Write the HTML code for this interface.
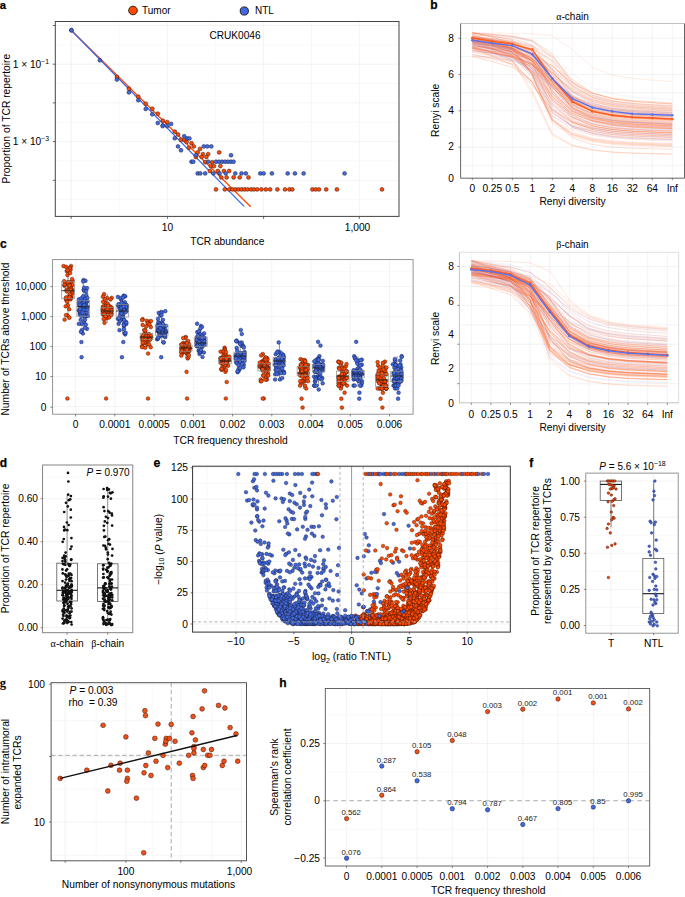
<!DOCTYPE html><html><head><meta charset="utf-8"><style>html,body{margin:0;padding:0;background:#fff;width:685px;height:897px;overflow:hidden}svg{display:block}text{font-family:"Liberation Sans",sans-serif}.c0{fill:#FF4A00;stroke:#111;stroke-width:0.9}.c1{fill:#4169E1;stroke:#111;stroke-width:0.9}.c2{fill:#FF4A00;stroke:#311;stroke-width:0.5}.c3{fill:#4169E1;stroke:#223;stroke-width:0.5}.c4{fill:#FF5A1E;stroke:none;stroke-width:0}.c5{fill:#5B73E8;stroke:none;stroke-width:0}.c6{fill:#FF4A00;stroke:#3a1000;stroke-width:0.45}.c7{fill:#4169E1;stroke:#101840;stroke-width:0.45}.c8{fill:#111;stroke:none;stroke-width:0}.c9{fill:#4169E1;stroke:#1a1a2a;stroke-width:0.4}.c10{fill:#FF4A00;stroke:#3a1000;stroke-width:0.4}.c11{fill:#FF4A00;stroke:#3a1000;stroke-width:0.45}.c12{fill:#E8450F;stroke:#3a1000;stroke-width:0.4}.c13{fill:#4A6BE0;stroke:#0a1450;stroke-width:0.4}.c14{fill:#F0501A;stroke:#3a1000;stroke-width:0.5}.c15{fill:#F0501A;stroke:#3a1000;stroke-width:0.5}.c16{fill:#4169E1;stroke:#101840;stroke-width:0.5}</style></head><body><svg width="685" height="897" viewBox="0 0 685 897"><text x="-0.3" y="9.1" font-size="11.3" text-anchor="start" font-weight="bold" fill="#000" font-family="Liberation Sans" stroke="#000" stroke-width="0.25">a</text>
<circle class="c0" cx="133" cy="10.5" r="4.3"/>
<text x="142" y="14.4" font-size="10" text-anchor="start" font-weight="normal" fill="#000" font-family="Liberation Sans" >Tumor</text>
<circle class="c1" cx="244.3" cy="11" r="4.1"/>
<text x="255" y="14.4" font-size="10" text-anchor="start" font-weight="normal" fill="#000" font-family="Liberation Sans" >NTL</text>
<line x1="71.2" y1="21.5" x2="71.2" y2="216.4" stroke="#ebebeb" stroke-width="0.6" />
<line x1="119.3" y1="21.5" x2="119.3" y2="216.4" stroke="#f4f4f4" stroke-width="0.6" />
<line x1="167.4" y1="21.5" x2="167.4" y2="216.4" stroke="#ebebeb" stroke-width="0.6" />
<line x1="215.6" y1="21.5" x2="215.6" y2="216.4" stroke="#f4f4f4" stroke-width="0.6" />
<line x1="263.6" y1="21.5" x2="263.6" y2="216.4" stroke="#ebebeb" stroke-width="0.6" />
<line x1="311.5" y1="21.5" x2="311.5" y2="216.4" stroke="#f4f4f4" stroke-width="0.6" />
<line x1="359.3" y1="21.5" x2="359.3" y2="216.4" stroke="#ebebeb" stroke-width="0.6" />
<line x1="55.3" y1="25.5" x2="399" y2="25.5" stroke="#ebebeb" stroke-width="0.6" />
<line x1="55.3" y1="44.9" x2="399" y2="44.9" stroke="#f4f4f4" stroke-width="0.6" />
<line x1="55.3" y1="64.2" x2="399" y2="64.2" stroke="#ebebeb" stroke-width="0.6" />
<line x1="55.3" y1="83.5" x2="399" y2="83.5" stroke="#f4f4f4" stroke-width="0.6" />
<line x1="55.3" y1="102.9" x2="399" y2="102.9" stroke="#ebebeb" stroke-width="0.6" />
<line x1="55.3" y1="122.2" x2="399" y2="122.2" stroke="#f4f4f4" stroke-width="0.6" />
<line x1="55.3" y1="141.6" x2="399" y2="141.6" stroke="#ebebeb" stroke-width="0.6" />
<line x1="55.3" y1="161" x2="399" y2="161" stroke="#f4f4f4" stroke-width="0.6" />
<line x1="55.3" y1="180.3" x2="399" y2="180.3" stroke="#ebebeb" stroke-width="0.6" />
<line x1="55.3" y1="199.6" x2="399" y2="199.6" stroke="#f4f4f4" stroke-width="0.6" />
<line x1="71.2" y1="30.3" x2="250.7" y2="206.7" stroke="#FF4A00" stroke-width="1.3" />
<line x1="71.2" y1="30.3" x2="244.1" y2="206.4" stroke="#4169E1" stroke-width="1.3" />
<circle class="c2" cx="71.4" cy="30.2" r="1.95"/>
<circle class="c2" cx="116.9" cy="76.9" r="1.95"/>
<circle class="c2" cx="128.9" cy="88.7" r="1.95"/>
<circle class="c2" cx="138.3" cy="96.7" r="1.95"/>
<circle class="c2" cx="145.7" cy="103.7" r="1.95"/>
<circle class="c2" cx="152.3" cy="108.8" r="1.95"/>
<circle class="c2" cx="157.8" cy="113.7" r="1.95"/>
<circle class="c2" cx="162.8" cy="120.7" r="1.95"/>
<circle class="c2" cx="167.2" cy="122.1" r="1.95"/>
<circle class="c2" cx="174.8" cy="131.6" r="1.95"/>
<circle class="c2" cx="178" cy="134.5" r="1.95"/>
<circle class="c2" cx="181" cy="139.8" r="1.95"/>
<circle class="c2" cx="184.5" cy="140.1" r="1.95"/>
<circle class="c2" cx="186.6" cy="142" r="1.95"/>
<circle class="c2" cx="191.5" cy="143.3" r="1.95"/>
<circle class="c2" cx="188.9" cy="147.7" r="1.95"/>
<circle class="c2" cx="193.8" cy="146.4" r="1.95"/>
<circle class="c2" cx="200" cy="148.9" r="1.95"/>
<circle class="c2" cx="197.7" cy="152.4" r="1.95"/>
<circle class="c2" cx="195.9" cy="157" r="1.95"/>
<circle class="c2" cx="202.9" cy="154.1" r="1.95"/>
<circle class="c2" cx="208.2" cy="154.1" r="1.95"/>
<circle class="c2" cx="201.7" cy="157" r="1.95"/>
<circle class="c2" cx="206.4" cy="157" r="1.95"/>
<circle class="c2" cx="219.2" cy="152.4" r="1.95"/>
<circle class="c2" cx="205.2" cy="162.2" r="1.95"/>
<circle class="c2" cx="212.2" cy="162.2" r="1.95"/>
<circle class="c2" cx="210.8" cy="166.1" r="1.95"/>
<circle class="c2" cx="214" cy="166.1" r="1.95"/>
<circle class="c2" cx="220.4" cy="166.1" r="1.95"/>
<circle class="c2" cx="209.9" cy="171" r="1.95"/>
<circle class="c2" cx="217.8" cy="171" r="1.95"/>
<circle class="c2" cx="223.9" cy="171" r="1.95"/>
<circle class="c2" cx="229.2" cy="171" r="1.95"/>
<circle class="c2" cx="221.3" cy="177.4" r="1.95"/>
<circle class="c2" cx="226.6" cy="177.4" r="1.95"/>
<circle class="c2" cx="233.6" cy="177.4" r="1.95"/>
<circle class="c2" cx="239.7" cy="177.4" r="1.95"/>
<circle class="c2" cx="248.5" cy="177.4" r="1.95"/>
<circle class="c2" cx="216" cy="189.4" r="1.95"/>
<circle class="c2" cx="224.8" cy="189.4" r="1.95"/>
<circle class="c2" cx="229.2" cy="189.4" r="1.95"/>
<circle class="c2" cx="232.5" cy="189.4" r="1.95"/>
<circle class="c2" cx="235.5" cy="189.4" r="1.95"/>
<circle class="c2" cx="238.5" cy="189.4" r="1.95"/>
<circle class="c2" cx="241.5" cy="189.4" r="1.95"/>
<circle class="c2" cx="244.5" cy="189.4" r="1.95"/>
<circle class="c2" cx="247.5" cy="189.4" r="1.95"/>
<circle class="c2" cx="251.1" cy="189.4" r="1.95"/>
<circle class="c2" cx="253.9" cy="189.4" r="1.95"/>
<circle class="c2" cx="257.2" cy="189.4" r="1.95"/>
<circle class="c2" cx="261.4" cy="189.4" r="1.95"/>
<circle class="c2" cx="265.8" cy="189.4" r="1.95"/>
<circle class="c2" cx="270.1" cy="189.4" r="1.95"/>
<circle class="c2" cx="277.4" cy="189.4" r="1.95"/>
<circle class="c2" cx="285" cy="189.4" r="1.95"/>
<circle class="c2" cx="289.4" cy="189.4" r="1.95"/>
<circle class="c2" cx="292.3" cy="189.4" r="1.95"/>
<circle class="c2" cx="312.4" cy="189.4" r="1.95"/>
<circle class="c2" cx="315.7" cy="189.4" r="1.95"/>
<circle class="c2" cx="319" cy="189.4" r="1.95"/>
<circle class="c2" cx="326.2" cy="189.4" r="1.95"/>
<circle class="c2" cx="336.9" cy="189.4" r="1.95"/>
<circle class="c2" cx="382" cy="189.4" r="1.95"/>
<circle class="c3" cx="71.4" cy="30.2" r="1.95"/>
<circle class="c3" cx="99.9" cy="60.3" r="1.95"/>
<circle class="c3" cx="116.9" cy="79.6" r="1.95"/>
<circle class="c3" cx="128.9" cy="92.4" r="1.95"/>
<circle class="c3" cx="138.3" cy="100.2" r="1.95"/>
<circle class="c3" cx="145.7" cy="109" r="1.95"/>
<circle class="c3" cx="152.3" cy="114.3" r="1.95"/>
<circle class="c3" cx="157.8" cy="123" r="1.95"/>
<circle class="c3" cx="162.8" cy="125.6" r="1.95"/>
<circle class="c3" cx="167.2" cy="126" r="1.95"/>
<circle class="c3" cx="171.1" cy="123.9" r="1.95"/>
<circle class="c3" cx="174.8" cy="138.3" r="1.95"/>
<circle class="c3" cx="162.6" cy="126.1" r="1.95"/>
<circle class="c3" cx="184.2" cy="136.3" r="1.95"/>
<circle class="c3" cx="187.2" cy="138.4" r="1.95"/>
<circle class="c3" cx="189.4" cy="138.4" r="1.95"/>
<circle class="c3" cx="178" cy="146.4" r="1.95"/>
<circle class="c3" cx="181" cy="150.3" r="1.95"/>
<circle class="c3" cx="203.8" cy="146.4" r="1.95"/>
<circle class="c3" cx="207.3" cy="146.4" r="1.95"/>
<circle class="c3" cx="211.3" cy="146.4" r="1.95"/>
<circle class="c3" cx="195.9" cy="155.2" r="1.95"/>
<circle class="c3" cx="231" cy="155.2" r="1.95"/>
<circle class="c3" cx="191.5" cy="161.7" r="1.95"/>
<circle class="c3" cx="193.3" cy="161.7" r="1.95"/>
<circle class="c3" cx="208.2" cy="161.7" r="1.95"/>
<circle class="c3" cx="216" cy="161.7" r="1.95"/>
<circle class="c3" cx="219" cy="161.7" r="1.95"/>
<circle class="c3" cx="222" cy="161.7" r="1.95"/>
<circle class="c3" cx="225" cy="161.7" r="1.95"/>
<circle class="c3" cx="228" cy="161.7" r="1.95"/>
<circle class="c3" cx="231" cy="161.7" r="1.95"/>
<circle class="c3" cx="233.6" cy="161.7" r="1.95"/>
<circle class="c3" cx="197.7" cy="173.4" r="1.95"/>
<circle class="c3" cx="200.3" cy="173.4" r="1.95"/>
<circle class="c3" cx="205.2" cy="173.4" r="1.95"/>
<circle class="c3" cx="213.4" cy="173.4" r="1.95"/>
<circle class="c3" cx="219.6" cy="173.4" r="1.95"/>
<circle class="c3" cx="225.7" cy="173.4" r="1.95"/>
<circle class="c3" cx="235.3" cy="173.4" r="1.95"/>
<circle class="c3" cx="241.5" cy="173.4" r="1.95"/>
<circle class="c3" cx="245.8" cy="173.4" r="1.95"/>
<circle class="c3" cx="260.3" cy="173.4" r="1.95"/>
<circle class="c3" cx="263.6" cy="173.4" r="1.95"/>
<circle class="c3" cx="271.9" cy="173.4" r="1.95"/>
<circle class="c3" cx="287.7" cy="173.4" r="1.95"/>
<circle class="c3" cx="294.9" cy="173.4" r="1.95"/>
<circle class="c3" cx="303.6" cy="173.4" r="1.95"/>
<circle class="c3" cx="344.6" cy="173.4" r="1.95"/>
<rect x="55.3" y="21.5" width="343.7" height="194.9" fill="none" stroke="#444" stroke-width="1"/>
<line x1="52.8" y1="25.5" x2="55.3" y2="25.5" stroke="#444" stroke-width="0.8" />
<line x1="52.8" y1="64.2" x2="55.3" y2="64.2" stroke="#444" stroke-width="0.8" />
<line x1="52.8" y1="102.9" x2="55.3" y2="102.9" stroke="#444" stroke-width="0.8" />
<line x1="52.8" y1="141.6" x2="55.3" y2="141.6" stroke="#444" stroke-width="0.8" />
<line x1="52.8" y1="180.3" x2="55.3" y2="180.3" stroke="#444" stroke-width="0.8" />
<line x1="71.2" y1="216.4" x2="71.2" y2="218.9" stroke="#444" stroke-width="0.8" />
<line x1="167.4" y1="216.4" x2="167.4" y2="218.9" stroke="#444" stroke-width="0.8" />
<line x1="263.6" y1="216.4" x2="263.6" y2="218.9" stroke="#444" stroke-width="0.8" />
<line x1="359.3" y1="216.4" x2="359.3" y2="218.9" stroke="#444" stroke-width="0.8" />
<text x="49" y="67.6" font-size="10.2" text-anchor="end" font-weight="normal" fill="#000" font-family="Liberation Sans" >1 × 10<tspan dy="-4" font-size="6.8">−1</tspan></text>
<text x="49" y="145" font-size="10.2" text-anchor="end" font-weight="normal" fill="#000" font-family="Liberation Sans" >1 × 10<tspan dy="-4" font-size="6.8">−3</tspan></text>
<text x="167.4" y="231.3" font-size="10.2" text-anchor="middle" font-weight="normal" fill="#000" font-family="Liberation Sans" >10</text>
<text x="357.5" y="231.3" font-size="10.2" text-anchor="middle" font-weight="normal" fill="#000" font-family="Liberation Sans" >1,000</text>
<text x="227.3" y="244.7" font-size="10.2" text-anchor="middle" font-weight="normal" fill="#000" font-family="Liberation Sans" >TCR abundance</text>
<text x="0" y="0" font-size="10.3" text-anchor="middle" fill="#000" transform="translate(6,118.6) rotate(-90)" dominant-baseline="central">Proportion of TCR repertoire</text>
<text x="209.5" y="39.2" font-size="10.1" text-anchor="start" font-weight="normal" fill="#000" font-family="Liberation Sans" >CRUK0046</text>
<text x="430.3" y="9.2" font-size="12" text-anchor="start" font-weight="bold" fill="#000" font-family="Liberation Sans" stroke="#000" stroke-width="0.25">b</text>
<line x1="472.3" y1="23.5" x2="472.3" y2="178.2" stroke="#ebebeb" stroke-width="0.6" />
<line x1="492.3" y1="23.5" x2="492.3" y2="178.2" stroke="#ebebeb" stroke-width="0.6" />
<line x1="512.3" y1="23.5" x2="512.3" y2="178.2" stroke="#ebebeb" stroke-width="0.6" />
<line x1="532.3" y1="23.5" x2="532.3" y2="178.2" stroke="#ebebeb" stroke-width="0.6" />
<line x1="552.3" y1="23.5" x2="552.3" y2="178.2" stroke="#ebebeb" stroke-width="0.6" />
<line x1="572.3" y1="23.5" x2="572.3" y2="178.2" stroke="#ebebeb" stroke-width="0.6" />
<line x1="592.3" y1="23.5" x2="592.3" y2="178.2" stroke="#ebebeb" stroke-width="0.6" />
<line x1="612.3" y1="23.5" x2="612.3" y2="178.2" stroke="#ebebeb" stroke-width="0.6" />
<line x1="632.3" y1="23.5" x2="632.3" y2="178.2" stroke="#ebebeb" stroke-width="0.6" />
<line x1="652.3" y1="23.5" x2="652.3" y2="178.2" stroke="#ebebeb" stroke-width="0.6" />
<line x1="672.3" y1="23.5" x2="672.3" y2="178.2" stroke="#ebebeb" stroke-width="0.6" />
<line x1="460.6" y1="38.2" x2="684.5" y2="38.2" stroke="#ebebeb" stroke-width="0.6" />
<line x1="460.6" y1="56.4" x2="684.5" y2="56.4" stroke="#ebebeb" stroke-width="0.6" />
<line x1="460.6" y1="74.5" x2="684.5" y2="74.5" stroke="#ebebeb" stroke-width="0.6" />
<line x1="460.6" y1="92.7" x2="684.5" y2="92.7" stroke="#ebebeb" stroke-width="0.6" />
<line x1="460.6" y1="110.8" x2="684.5" y2="110.8" stroke="#ebebeb" stroke-width="0.6" />
<line x1="460.6" y1="129" x2="684.5" y2="129" stroke="#ebebeb" stroke-width="0.6" />
<line x1="460.6" y1="147.2" x2="684.5" y2="147.2" stroke="#ebebeb" stroke-width="0.6" />
<line x1="460.6" y1="165.3" x2="684.5" y2="165.3" stroke="#ebebeb" stroke-width="0.6" />
<polyline points="472.3,32.8 492.3,33.1 512.3,33.3 532.3,33.9 552.3,35.7 572.3,49.7 592.3,67.3 612.3,75 632.3,78.5 652.3,80.1 672.3,81.8" fill="none" stroke="#FF4A00" stroke-opacity="0.13" stroke-width="0.85"/>
<polyline points="472.3,39.4 492.3,43 512.3,47.7 532.3,63.3 552.3,100.9 572.3,118.8 592.3,125.7 612.3,129.2 632.3,130.9 652.3,131.7 672.3,132.5" fill="none" stroke="#FF4A00" stroke-opacity="0.12" stroke-width="0.85"/>
<polyline points="472.3,38.4 492.3,42.4 512.3,48.6 532.3,74.2 552.3,120.7 572.3,134.9 592.3,140.6 612.3,143.3 632.3,144.6 652.3,145.2 672.3,145.8" fill="none" stroke="#FF4A00" stroke-opacity="0.22" stroke-width="0.85"/>
<polyline points="472.3,40.1 492.3,44.2 512.3,48.6 532.3,58.4 552.3,80 572.3,100.3 592.3,109.8 612.3,114.4 632.3,116.6 652.3,117.6 672.3,118.6" fill="none" stroke="#FF4A00" stroke-opacity="0.19" stroke-width="0.85"/>
<polyline points="472.3,40.1 492.3,41.6 512.3,43.1 532.3,47.2 552.3,63.7 572.3,90.3 592.3,101.8 612.3,107 632.3,109.5 652.3,110.6 672.3,111.8" fill="none" stroke="#FF4A00" stroke-opacity="0.15" stroke-width="0.85"/>
<polyline points="472.3,32.8 492.3,37.3 512.3,42.2 532.3,53.3 552.3,77.9 572.3,101 592.3,111.6 612.3,116.3 632.3,118.4 652.3,119.4 672.3,120.4" fill="none" stroke="#FF4A00" stroke-opacity="0.18" stroke-width="0.85"/>
<polyline points="472.3,34.6 492.3,36.5 512.3,38.8 532.3,45.1 552.3,71.1 572.3,97.7 592.3,107.9 612.3,112.7 632.3,114.9 652.3,116 672.3,117.1" fill="none" stroke="#FF4A00" stroke-opacity="0.23" stroke-width="0.85"/>
<polyline points="472.3,41.4 492.3,48.4 512.3,56.4 532.3,77.6 552.3,118.4 572.3,138 592.3,144.5 612.3,147.1 632.3,148.2 652.3,148.8 672.3,149.3" fill="none" stroke="#FF4A00" stroke-opacity="0.20" stroke-width="0.85"/>
<polyline points="472.3,47.6 492.3,51.9 512.3,56.3 532.3,65.2 552.3,81.4 572.3,96.7 592.3,104.6 612.3,108.5 632.3,110.5 652.3,111.5 672.3,112.5" fill="none" stroke="#FF4A00" stroke-opacity="0.15" stroke-width="0.85"/>
<polyline points="472.3,32.8 492.3,36 512.3,40.1 532.3,53.9 552.3,92.7 572.3,110.9 592.3,117.4 612.3,120.6 632.3,122.4 652.3,123.4 672.3,124.3" fill="none" stroke="#FF4A00" stroke-opacity="0.17" stroke-width="0.85"/>
<polyline points="472.3,49.7 492.3,53.1 512.3,56.7 532.3,64.5 552.3,81.1 572.3,99.6 592.3,109.4 612.3,114.1 632.3,116.3 652.3,117.4 672.3,118.4" fill="none" stroke="#FF4A00" stroke-opacity="0.16" stroke-width="0.85"/>
<polyline points="472.3,54.5 492.3,58.5 512.3,64.1 532.3,82.2 552.3,113.1 572.3,125.8 592.3,131.2 612.3,134.1 632.3,135.6 652.3,136.3 672.3,137.1" fill="none" stroke="#FF4A00" stroke-opacity="0.24" stroke-width="0.85"/>
<polyline points="472.3,47.2 492.3,52.3 512.3,60.7 532.3,94.4 552.3,135.1 572.3,145.8 592.3,150.2 612.3,152.3 632.3,153.3 652.3,153.8 672.3,154.3" fill="none" stroke="#FF4A00" stroke-opacity="0.16" stroke-width="0.85"/>
<polyline points="472.3,38.1 492.3,39.8 512.3,41.7 532.3,47.2 552.3,70.4 572.3,96.7 592.3,107 612.3,111.8 632.3,114.1 652.3,115.2 672.3,116.2" fill="none" stroke="#FF4A00" stroke-opacity="0.17" stroke-width="0.85"/>
<polyline points="472.3,35.4 492.3,41.2 512.3,47.3 532.3,61.5 552.3,91.1 572.3,112.5 592.3,121 612.3,125 632.3,126.8 652.3,127.7 672.3,128.6" fill="none" stroke="#FF4A00" stroke-opacity="0.15" stroke-width="0.85"/>
<polyline points="472.3,40.5 492.3,42.3 512.3,44.2 532.3,48.6 552.3,60.5 572.3,81.5 592.3,93.2 612.3,98.6 632.3,101.3 652.3,102.6 672.3,103.8" fill="none" stroke="#FF4A00" stroke-opacity="0.23" stroke-width="0.85"/>
<polyline points="472.3,36 492.3,38.3 512.3,41.2 532.3,51.5 552.3,91.8 572.3,115.2 592.3,123.4 612.3,127.2 632.3,129 652.3,129.9 672.3,130.7" fill="none" stroke="#FF4A00" stroke-opacity="0.14" stroke-width="0.85"/>
<polyline points="472.3,41.8 492.3,48.5 512.3,55.8 532.3,72.8 552.3,101.3 572.3,117.7 592.3,124.7 612.3,128.2 632.3,129.9 652.3,130.8 672.3,131.6" fill="none" stroke="#FF4A00" stroke-opacity="0.13" stroke-width="0.85"/>
<polyline points="472.3,41.8 492.3,45.8 512.3,50.2 532.3,60.9 552.3,87.3 572.3,107.9 592.3,116.3 612.3,120.3 632.3,122.3 652.3,123.3 672.3,124.3" fill="none" stroke="#FF4A00" stroke-opacity="0.23" stroke-width="0.85"/>
<polyline points="472.3,41.2 492.3,44.7 512.3,48.6 532.3,58.2 552.3,82 572.3,101.5 592.3,109.7 612.3,113.6 632.3,115.7 652.3,116.8 672.3,117.8" fill="none" stroke="#FF4A00" stroke-opacity="0.15" stroke-width="0.85"/>
<polyline points="472.3,55.8 492.3,58 512.3,60.3 532.3,66.1 552.3,84.6 572.3,107.9 592.3,117.9 612.3,122.2 632.3,124.2 652.3,125.1 672.3,126" fill="none" stroke="#FF4A00" stroke-opacity="0.20" stroke-width="0.85"/>
<polyline points="472.3,44.1 492.3,46.2 512.3,49 532.3,59 552.3,98.1 572.3,120.2 592.3,127.7 612.3,131.2 632.3,132.9 652.3,133.7 672.3,134.5" fill="none" stroke="#FF4A00" stroke-opacity="0.16" stroke-width="0.85"/>
<polyline points="472.3,42 492.3,43.7 512.3,45.5 532.3,50.3 552.3,69.2 572.3,96.3 592.3,107.7 612.3,112.6 632.3,114.9 652.3,116 672.3,117" fill="none" stroke="#FF4A00" stroke-opacity="0.15" stroke-width="0.85"/>
<polyline points="472.3,39.3 492.3,44 512.3,48.9 532.3,58.9 552.3,79.1 572.3,100.3 592.3,110.9 612.3,115.7 632.3,117.8 652.3,118.9 672.3,119.9" fill="none" stroke="#FF4A00" stroke-opacity="0.23" stroke-width="0.85"/>
<polyline points="472.3,46.4 492.3,51.4 512.3,56 532.3,64.4 552.3,76.6 572.3,88.6 592.3,96.7 612.3,101.2 632.3,103.4 652.3,104.4 672.3,105.5" fill="none" stroke="#FF4A00" stroke-opacity="0.11" stroke-width="0.85"/>
<polyline points="472.3,42.4 492.3,45.1 512.3,47.9 532.3,54.4 552.3,74.2 572.3,100.1 592.3,111 612.3,115.6 632.3,117.8 652.3,118.9 672.3,119.9" fill="none" stroke="#FF4A00" stroke-opacity="0.12" stroke-width="0.85"/>
<polyline points="472.3,52.5 492.3,56.4 512.3,62 532.3,82.4 552.3,119 572.3,132.5 592.3,138.1 612.3,140.8 632.3,142.2 652.3,142.9 672.3,143.5" fill="none" stroke="#FF4A00" stroke-opacity="0.17" stroke-width="0.85"/>
<polyline points="472.3,47.8 492.3,50.5 512.3,53.5 532.3,61.1 552.3,83.5 572.3,105.9 592.3,115.2 612.3,119.6 632.3,121.6 652.3,122.6 672.3,123.5" fill="none" stroke="#FF4A00" stroke-opacity="0.14" stroke-width="0.85"/>
<polyline points="472.3,43.5 492.3,49.7 512.3,56.3 532.3,71.3 552.3,99 572.3,117.6 592.3,125.9 612.3,129.6 632.3,131.4 652.3,132.2 672.3,133" fill="none" stroke="#FF4A00" stroke-opacity="0.16" stroke-width="0.85"/>
<polyline points="472.3,36.8 492.3,41.4 512.3,45.9 532.3,54.8 552.3,69.7 572.3,85.9 592.3,96.6 612.3,102.1 632.3,104.7 652.3,106 672.3,107.2" fill="none" stroke="#FF4A00" stroke-opacity="0.17" stroke-width="0.85"/>
<polyline points="472.3,37.7 492.3,40.2 512.3,43 532.3,51.2 552.3,82.5 572.3,108.7 592.3,118.4 612.3,122.7 632.3,124.6 652.3,125.6 672.3,126.5" fill="none" stroke="#FF4A00" stroke-opacity="0.21" stroke-width="0.85"/>
<polyline points="472.3,40.3 492.3,46.3 512.3,52.5 532.3,64.7 552.3,84.1 572.3,98.7 592.3,106 612.3,109.9 632.3,112.1 652.3,113.2 672.3,114.3" fill="none" stroke="#FF4A00" stroke-opacity="0.17" stroke-width="0.85"/>
<polyline points="472.3,36 492.3,38.8 512.3,43.3 532.3,63.3 552.3,110.9 572.3,127.2 592.3,133.5 612.3,136.5 632.3,138 652.3,138.8 672.3,139.5" fill="none" stroke="#FF4A00" stroke-opacity="0.15" stroke-width="0.85"/>
<polyline points="472.3,40.2 492.3,43.3 512.3,46.3 532.3,52.5 552.3,65.7 572.3,85.3 592.3,97.4 612.3,103 632.3,105.6 652.3,106.8 672.3,108" fill="none" stroke="#FF4A00" stroke-opacity="0.22" stroke-width="0.85"/>
<polyline points="472.3,44.9 492.3,49.3 512.3,55 532.3,71.1 552.3,100.2 572.3,114.4 592.3,120.5 612.3,123.7 632.3,125.4 652.3,126.3 672.3,127.2" fill="none" stroke="#FF4A00" stroke-opacity="0.20" stroke-width="0.85"/>
<polyline points="472.3,45.7 492.3,47.7 512.3,50.2 532.3,57.6 552.3,84.2 572.3,107.1 592.3,116.1 612.3,120.3 632.3,122.3 652.3,123.3 672.3,124.2" fill="none" stroke="#FF4A00" stroke-opacity="0.13" stroke-width="0.85"/>
<polyline points="472.3,41 492.3,46.8 512.3,53.3 532.3,68.8 552.3,96.3 572.3,113.6 592.3,121.6 612.3,125.5 632.3,127.3 652.3,128.2 672.3,129.1" fill="none" stroke="#FF4A00" stroke-opacity="0.19" stroke-width="0.85"/>
<polyline points="472.3,47 492.3,52.1 512.3,57.9 532.3,72.7 552.3,104.4 572.3,123.5 592.3,131.1 612.3,134.5 632.3,136.1 652.3,136.9 672.3,137.6" fill="none" stroke="#FF4A00" stroke-opacity="0.14" stroke-width="0.85"/>
<polyline points="472.3,43.5 492.3,45.8 512.3,49.2 532.3,63.4 552.3,106.8 572.3,125.9 592.3,133 612.3,136.2 632.3,137.7 652.3,138.5 672.3,139.2" fill="none" stroke="#FF4A00" stroke-opacity="0.18" stroke-width="0.85"/>
<polyline points="472.3,48.4 492.3,56 512.3,65 532.3,85.4 552.3,109.8 572.3,121.4 592.3,126.8 612.3,129.7 632.3,131.3 652.3,132.1 672.3,132.9" fill="none" stroke="#FF4A00" stroke-opacity="0.23" stroke-width="0.85"/>
<polyline points="472.3,42 492.3,46 512.3,50.3 532.3,60.6 552.3,86.1 572.3,109 592.3,118.1 612.3,122.2 632.3,124.2 652.3,125.1 672.3,126" fill="none" stroke="#FF4A00" stroke-opacity="0.18" stroke-width="0.85"/>
<polyline points="472.3,34.4 492.3,40.5 512.3,48.6 532.3,74.2 552.3,110.8 572.3,123.1 592.3,128.3 612.3,131.2 632.3,132.7 652.3,133.5 672.3,134.3" fill="none" stroke="#FF4A00" stroke-opacity="0.22" stroke-width="0.85"/>
<polyline points="472.3,37.8 492.3,41.8 512.3,48.1 532.3,74.9 552.3,120.8 572.3,134.4 592.3,139.9 612.3,142.6 632.3,143.9 652.3,144.6 672.3,145.2" fill="none" stroke="#FF4A00" stroke-opacity="0.21" stroke-width="0.85"/>
<polyline points="472.3,46.6 492.3,48.9 512.3,51.3 532.3,56.2 552.3,66.4 572.3,82.7 592.3,94.9 612.3,100.7 632.3,103.4 652.3,104.7 672.3,105.9" fill="none" stroke="#FF4A00" stroke-opacity="0.15" stroke-width="0.85"/>
<polyline points="472.3,45.3 492.3,47.7 512.3,50.2 532.3,56.2 552.3,73.1 572.3,95.3 592.3,106 612.3,110.9 632.3,113.2 652.3,114.3 672.3,115.4" fill="none" stroke="#FF4A00" stroke-opacity="0.11" stroke-width="0.85"/>
<polyline points="472.3,49.6 492.3,53.1 512.3,56.7 532.3,64.5 552.3,82.9 572.3,104.8 592.3,115.1 612.3,119.6 632.3,121.7 652.3,122.6 672.3,123.6" fill="none" stroke="#FF4A00" stroke-opacity="0.18" stroke-width="0.85"/>
<polyline points="472.3,44 492.3,48.5 512.3,53.5 532.3,65.7 552.3,94.2 572.3,115.3 592.3,124 612.3,127.8 632.3,129.6 652.3,130.5 672.3,131.3" fill="none" stroke="#FF4A00" stroke-opacity="0.17" stroke-width="0.85"/>
<polyline points="472.3,51.1 492.3,53.5 512.3,56.1 532.3,63.2 552.3,86.7 572.3,110.6 592.3,120.1 612.3,124.2 632.3,126.1 652.3,127 672.3,127.9" fill="none" stroke="#FF4A00" stroke-opacity="0.18" stroke-width="0.85"/>
<polyline points="472.3,43.5 492.3,49 512.3,54.5 532.3,65.3 552.3,81.9 572.3,96 592.3,103.8 612.3,108.1 632.3,110.5 652.3,111.6 672.3,112.7" fill="none" stroke="#FF4A00" stroke-opacity="0.13" stroke-width="0.85"/>
<polyline points="472.3,45.6 492.3,48.7 512.3,52 532.3,60 552.3,81.7 572.3,104.4 592.3,114 612.3,118.4 632.3,120.5 652.3,121.5 672.3,122.5" fill="none" stroke="#FF4A00" stroke-opacity="0.19" stroke-width="0.85"/>
<polyline points="472.3,32.8 492.3,36.1 512.3,39.9 532.3,49.5 552.3,75.2 572.3,96.5 592.3,105.6 612.3,110 632.3,112.3 652.3,113.4 672.3,114.5" fill="none" stroke="#FF4A00" stroke-opacity="0.12" stroke-width="0.85"/>
<polyline points="472.3,35.2 492.3,40.4 512.3,45.7 532.3,55.6 552.3,72.5 572.3,91.6 592.3,103.1 612.3,108.4 632.3,110.8 652.3,111.9 672.3,113" fill="none" stroke="#FF4A00" stroke-opacity="0.17" stroke-width="0.85"/>
<polyline points="472.3,37.4 492.3,42.8 512.3,48.1 532.3,58.4 552.3,75.6 572.3,92.1 592.3,101.3 612.3,106.1 632.3,108.5 652.3,109.7 672.3,110.9" fill="none" stroke="#FF4A00" stroke-opacity="0.12" stroke-width="0.85"/>
<polyline points="472.3,42.6 492.3,47.1 512.3,51.9 532.3,62.6 552.3,84.8 572.3,103.1 592.3,110.8 612.3,114.4 632.3,116.4 652.3,117.4 672.3,118.5" fill="none" stroke="#FF4A00" stroke-opacity="0.13" stroke-width="0.85"/>
<polyline points="472.3,37 492.3,40 512.3,43.6 532.3,53.9 552.3,82.5 572.3,102.8 592.3,111 612.3,115 632.3,117.1 652.3,118.1 672.3,119.2" fill="none" stroke="#FF4A00" stroke-opacity="0.21" stroke-width="0.85"/>
<polyline points="472.3,36.8 492.3,38.9 512.3,41 532.3,46 552.3,62.5 572.3,88 592.3,99.8 612.3,105.2 632.3,107.7 652.3,108.9 672.3,110" fill="none" stroke="#FF4A00" stroke-opacity="0.11" stroke-width="0.85"/>
<polyline points="472.3,48.3 492.3,52.9 512.3,58.2 532.3,72.3 552.3,103.3 572.3,122.2 592.3,129.6 612.3,133.1 632.3,134.7 652.3,135.5 672.3,136.2" fill="none" stroke="#FF4A00" stroke-opacity="0.18" stroke-width="0.85"/>
<polyline points="472.3,37 492.3,39.8 512.3,43.2 532.3,54 552.3,93 572.3,117.1 592.3,125.8 612.3,129.6 632.3,131.3 652.3,132.1 672.3,132.9" fill="none" stroke="#FF4A00" stroke-opacity="0.15" stroke-width="0.85"/>
<polyline points="472.3,46.4 492.3,52 512.3,57.5 532.3,68.2 552.3,85.8 572.3,103.2 592.3,113.1 612.3,117.7 632.3,119.9 652.3,120.9 672.3,121.8" fill="none" stroke="#FF4A00" stroke-opacity="0.14" stroke-width="0.85"/>
<polyline points="472.3,42.1 492.3,48.3 512.3,55.1 532.3,70.7 552.3,96.6 572.3,113.3 592.3,121.4 612.3,125.3 632.3,127.2 652.3,128.1 672.3,128.9" fill="none" stroke="#FF4A00" stroke-opacity="0.20" stroke-width="0.85"/>
<polyline points="472.3,39.1 492.3,40.8 512.3,42.4 532.3,46 552.3,56.5 572.3,79.5 592.3,92.9 612.3,98.8 632.3,101.5 652.3,102.8 672.3,104.1" fill="none" stroke="#FF4A00" stroke-opacity="0.23" stroke-width="0.85"/>
<polyline points="472.3,38.8 492.3,43.8 512.3,48.9 532.3,60.1 552.3,85.4 572.3,107.8 592.3,116.9 612.3,121 632.3,123 652.3,123.9 672.3,124.9" fill="none" stroke="#FF4A00" stroke-opacity="0.22" stroke-width="0.85"/>
<polyline points="472.3,39.4 492.3,44.1 512.3,50.9 532.3,76.2 552.3,115.7 572.3,127.8 592.3,133 612.3,135.7 632.3,137.2 652.3,137.9 672.3,138.6" fill="none" stroke="#FF4A00" stroke-opacity="0.12" stroke-width="0.85"/>
<polyline points="472.3,40 492.3,44.8 512.3,50 532.3,61.4 552.3,81.3 572.3,96.9 592.3,105 612.3,109.3 632.3,111.5 652.3,112.7 672.3,113.8" fill="none" stroke="#FF4A00" stroke-opacity="0.23" stroke-width="0.85"/>
<polyline points="472.3,50.5 492.3,53.7 512.3,57 532.3,63.9 552.3,78.2 572.3,95.8 592.3,105.8 612.3,110.6 632.3,112.9 652.3,114.1 672.3,115.1" fill="none" stroke="#FF4A00" stroke-opacity="0.14" stroke-width="0.85"/>
<polyline points="472.3,46.9 492.3,51.7 512.3,59.5 532.3,90.9 552.3,133.6 572.3,145.2 592.3,149.8 612.3,152 632.3,153 652.3,153.5 672.3,154" fill="none" stroke="#FF4A00" stroke-opacity="0.19" stroke-width="0.85"/>
<polyline points="472.3,33.5 492.3,35.1 512.3,36.8 532.3,41.1 552.3,56.9 572.3,85 592.3,97.6 612.3,103.1 632.3,105.7 652.3,106.9 672.3,108.1" fill="none" stroke="#FF4A00" stroke-opacity="0.13" stroke-width="0.85"/>
<polyline points="472.3,45.8 492.3,48.3 512.3,51.2 532.3,58.6 552.3,82.8 572.3,107.4 592.3,117.2 612.3,121.5 632.3,123.5 652.3,124.4 672.3,125.3" fill="none" stroke="#FF4A00" stroke-opacity="0.21" stroke-width="0.85"/>
<polyline points="472.3,39.3 492.3,45.6 512.3,52.5 532.3,69.2 552.3,99.4 572.3,116.9 592.3,124 612.3,127.5 632.3,129.2 652.3,130.1 672.3,130.9" fill="none" stroke="#FF4A00" stroke-opacity="0.21" stroke-width="0.85"/>
<polyline points="472.3,48.7 492.3,51.3 512.3,54 532.3,59.9 552.3,73 572.3,90.1 592.3,99.8 612.3,104.5 632.3,106.9 652.3,108.2 672.3,109.3" fill="none" stroke="#FF4A00" stroke-opacity="0.23" stroke-width="0.85"/>
<polyline points="472.3,32.8 492.3,37 512.3,43.9 532.3,74.8 552.3,123.3 572.3,136.4 592.3,141.7 612.3,144.3 632.3,145.5 652.3,146.1 672.3,146.7" fill="none" stroke="#FF4A00" stroke-opacity="0.18" stroke-width="0.85"/>
<polyline points="472.3,56.4 492.3,60.2 512.3,63.9 532.3,71.2 552.3,84.8 572.3,100.4 592.3,109.2 612.3,113.3 632.3,115.2 652.3,116.2 672.3,117.3" fill="none" stroke="#FF4A00" stroke-opacity="0.11" stroke-width="0.85"/>
<polyline points="472.3,48.1 492.3,51.7 512.3,55.9 532.3,67 552.3,95.9 572.3,117.1 592.3,125.6 612.3,129.3 632.3,131.1 652.3,131.9 672.3,132.7" fill="none" stroke="#FF4A00" stroke-opacity="0.19" stroke-width="0.85"/>
<polyline points="472.3,37.3 492.3,40 512.3,43 532.3,50.4 552.3,74.5 572.3,100 592.3,110.3 612.3,115 632.3,117.2 652.3,118.2 672.3,119.3" fill="none" stroke="#FF4A00" stroke-opacity="0.24" stroke-width="0.85"/>
<polyline points="472.3,56.4 492.3,61.7 512.3,67.4 532.3,80.5 552.3,105.2 572.3,122 592.3,129.2 612.3,132.7 632.3,134.3 652.3,135.1 672.3,135.8" fill="none" stroke="#FF4A00" stroke-opacity="0.20" stroke-width="0.85"/>
<polyline points="472.3,36.3 492.3,39.4 512.3,42.9 532.3,51.9 552.3,79.1 572.3,104.3 592.3,114.6 612.3,119.1 632.3,121.2 652.3,122.1 672.3,123.1" fill="none" stroke="#FF4A00" stroke-opacity="0.18" stroke-width="0.85"/>
<polyline points="472.3,46.2 492.3,49 512.3,52.1 532.3,60.4 552.3,86.7 572.3,110 592.3,119.1 612.3,123.2 632.3,125.2 652.3,126.1 672.3,127" fill="none" stroke="#FF4A00" stroke-opacity="0.16" stroke-width="0.85"/>
<polyline points="472.3,43.2 492.3,45.7 512.3,48.2 532.3,53.7 552.3,66.2 572.3,83.3 592.3,93.1 612.3,98 632.3,100.5 652.3,101.8 672.3,103.1" fill="none" stroke="#FF4A00" stroke-opacity="0.21" stroke-width="0.85"/>
<polyline points="472.3,48.1 492.3,52.6 512.3,57.3 532.3,67.5 552.3,89.9 572.3,111.3 592.3,120.7 612.3,124.8 632.3,126.7 652.3,127.6 672.3,128.5" fill="none" stroke="#FF4A00" stroke-opacity="0.21" stroke-width="0.85"/>
<polyline points="472.3,32.8 492.3,34.4 512.3,36.3 532.3,40.9 552.3,58.8 572.3,86.6 592.3,98.6 612.3,104 632.3,106.5 652.3,107.7 672.3,108.9" fill="none" stroke="#FF4A00" stroke-opacity="0.17" stroke-width="0.85"/>
<polyline points="472.3,37.5 492.3,43.7 512.3,50.2 532.3,64.3 552.3,88.2 572.3,105.4 592.3,113.4 612.3,117.3 632.3,119.4 652.3,120.4 672.3,121.4" fill="none" stroke="#FF4A00" stroke-opacity="0.23" stroke-width="0.85"/>
<polyline points="472.3,41.2 492.3,45.5 512.3,51.7 532.3,72.7 552.3,109.1 572.3,122.6 592.3,128.3 612.3,131.3 632.3,132.9 652.3,133.7 672.3,134.5" fill="none" stroke="#FF4A00" stroke-opacity="0.16" stroke-width="0.85"/>
<polyline points="472.3,37.9 492.3,41.9 512.3,46.1 532.3,55 552.3,72.6 572.3,91.4 592.3,101.2 612.3,105.8 632.3,108.1 652.3,109.3 672.3,110.4" fill="none" stroke="#FF4A00" stroke-opacity="0.21" stroke-width="0.85"/>
<polyline points="472.3,40.3 492.3,43.6 512.3,47.8 532.3,61.3 552.3,94 572.3,111.5 592.3,118.5 612.3,122 632.3,123.9 652.3,124.8 672.3,125.7" fill="none" stroke="#FF4A00" stroke-opacity="0.23" stroke-width="0.85"/>
<polyline points="472.3,39.8 492.3,43.2 512.3,47.4 532.3,61.2 552.3,101 572.3,121.7 592.3,129.4 612.3,132.9 632.3,134.5 652.3,135.3 672.3,136" fill="none" stroke="#FF4A00" stroke-opacity="0.13" stroke-width="0.85"/>
<polyline points="472.3,42.2 492.3,45.1 512.3,48.1 532.3,54.3 552.3,68.5 572.3,89.4 592.3,101.1 612.3,106.5 632.3,109 652.3,110.1 672.3,111.3" fill="none" stroke="#FF4A00" stroke-opacity="0.12" stroke-width="0.85"/>
<polyline points="472.3,37.5 492.3,41.6 512.3,46 532.3,55.8 552.3,77.3 572.3,98 592.3,107.5 612.3,112 632.3,114.2 652.3,115.3 672.3,116.4" fill="none" stroke="#FF4A00" stroke-opacity="0.15" stroke-width="0.85"/>
<polyline points="472.3,41 492.3,45.6 512.3,52.2 532.3,76.1 552.3,116.1 572.3,129.7 592.3,135.3 612.3,138.2 632.3,139.6 652.3,140.3 672.3,141" fill="none" stroke="#FF4A00" stroke-opacity="0.15" stroke-width="0.85"/>
<polyline points="472.3,44.4 492.3,49.5 512.3,54.7 532.3,65.4 552.3,85.6 572.3,103.8 592.3,112.2 612.3,116 632.3,117.8 652.3,118.7 672.3,119.7" fill="none" stroke="#FF4A00" stroke-opacity="0.19" stroke-width="0.85"/>
<polyline points="472.3,41 492.3,44.1 512.3,47.8 532.3,59 552.3,91.4 572.3,112.3 592.3,120.5 612.3,124.3 632.3,126.2 652.3,127.1 672.3,128" fill="none" stroke="#FF4A00" stroke-opacity="0.19" stroke-width="0.85"/>
<polyline points="472.3,36.6 492.3,41.6 512.3,46.8 532.3,58.1 552.3,81.3 572.3,102.3 592.3,111.9 612.3,116.4 632.3,118.6 652.3,119.6 672.3,120.6" fill="none" stroke="#FF4A00" stroke-opacity="0.16" stroke-width="0.85"/>
<polyline points="472.3,32.8 492.3,34.4 512.3,36.1 532.3,40.1 552.3,54.4 572.3,82.3 592.3,95.2 612.3,100.9 632.3,103.6 652.3,104.9 672.3,106.1" fill="none" stroke="#FF4A00" stroke-opacity="0.22" stroke-width="0.85"/>
<polyline points="472.3,51.3 492.3,55.3 512.3,61.1 532.3,82.4 552.3,120 572.3,133.5 592.3,139 612.3,141.7 632.3,143.1 652.3,143.7 672.3,144.3" fill="none" stroke="#FF4A00" stroke-opacity="0.21" stroke-width="0.85"/>
<polyline points="472.3,46.8 492.3,50.9 512.3,55.1 532.3,64 552.3,80.9 572.3,97.5 592.3,105.9 612.3,109.9 632.3,112 652.3,113.1 672.3,114.2" fill="none" stroke="#9A8FE0" stroke-opacity="0.13" stroke-width="0.85"/>
<polyline points="472.3,43.3 492.3,50 512.3,57.3 532.3,74.4 552.3,103.8 572.3,120.9 592.3,128 612.3,131.5 632.3,133.1 652.3,133.9 672.3,134.7" fill="none" stroke="#9A8FE0" stroke-opacity="0.18" stroke-width="0.85"/>
<polyline points="472.3,43.1 492.3,48.5 512.3,53.9 532.3,64.2 552.3,80.5 572.3,95.1 592.3,103.5 612.3,107.9 632.3,110.2 652.3,111.4 672.3,112.5" fill="none" stroke="#9A8FE0" stroke-opacity="0.15" stroke-width="0.85"/>
<polyline points="472.3,44.9 492.3,47.8 512.3,50.9 532.3,58.6 552.3,82.3 572.3,108.9 592.3,119.3 612.3,123.6 632.3,125.5 652.3,126.4 672.3,127.3" fill="none" stroke="#9A8FE0" stroke-opacity="0.15" stroke-width="0.85"/>
<polyline points="472.3,43.9 492.3,45.8 512.3,47.8 532.3,52.6 552.3,68.7 572.3,94.3 592.3,105.9 612.3,111 632.3,113.3 652.3,114.4 672.3,115.5" fill="none" stroke="#9A8FE0" stroke-opacity="0.19" stroke-width="0.85"/>
<polyline points="472.3,41.7 492.3,45.6 512.3,49.7 532.3,59 552.3,79 572.3,98.9 592.3,108.5 612.3,113.1 632.3,115.3 652.3,116.4 672.3,117.4" fill="none" stroke="#9A8FE0" stroke-opacity="0.12" stroke-width="0.85"/>
<polyline points="472.3,38.4 492.3,43.2 512.3,49.5 532.3,69.3 552.3,103.8 572.3,117.9 592.3,123.7 612.3,126.9 632.3,128.5 652.3,129.4 672.3,130.2" fill="none" stroke="#9A8FE0" stroke-opacity="0.13" stroke-width="0.85"/>
<polyline points="472.3,42.4 492.3,46 512.3,51.6 532.3,73.3 552.3,112.7 572.3,126.3 592.3,131.9 612.3,134.8 632.3,136.3 652.3,137.1 672.3,137.8" fill="none" stroke="#9A8FE0" stroke-opacity="0.14" stroke-width="0.85"/>
<polyline points="472.3,40.8 492.3,44.5 512.3,48.8 532.3,61.2 552.3,96.8 572.3,118.9 592.3,127.2 612.3,130.9 632.3,132.5 652.3,133.4 672.3,134.1" fill="none" stroke="#9A8FE0" stroke-opacity="0.15" stroke-width="0.85"/>
<polyline points="472.3,37.4 492.3,38.9 512.3,40.7 532.3,44.9 552.3,61 572.3,87.5 592.3,99.3 612.3,104.6 632.3,107.2 652.3,108.4 672.3,109.5" fill="none" stroke="#9A8FE0" stroke-opacity="0.19" stroke-width="0.85"/>
<polyline points="472.3,46.8 492.3,49.5 512.3,53 532.3,66.3 552.3,108.1 572.3,127.3 592.3,133.9 612.3,137 632.3,138.5 652.3,139.2 672.3,139.9" fill="none" stroke="#9A8FE0" stroke-opacity="0.18" stroke-width="0.85"/>
<polyline points="472.3,39.6 492.3,42 512.3,44.8 532.3,53.8 552.3,89.8 572.3,115.2 592.3,124.2 612.3,128.1 632.3,129.9 652.3,130.7 672.3,131.6" fill="none" stroke="#9A8FE0" stroke-opacity="0.15" stroke-width="0.85"/>
<polyline points="472.3,39.7 492.3,42.1 512.3,44.7 532.3,50.8 552.3,68.1 572.3,91.9 592.3,103.1 612.3,108.3 632.3,110.7 652.3,111.8 672.3,112.9" fill="none" stroke="#9A8FE0" stroke-opacity="0.18" stroke-width="0.85"/>
<polyline points="472.3,42.5 492.3,48.4 512.3,54.5 532.3,66.8 552.3,86 572.3,100.4 592.3,108.2 612.3,112.4 632.3,114.6 652.3,115.7 672.3,116.8" fill="none" stroke="#9A8FE0" stroke-opacity="0.16" stroke-width="0.85"/>
<polyline points="472.3,40 492.3,44.1 512.3,49.1 532.3,63.8 552.3,97.5 572.3,115.4 592.3,122.5 612.3,126 632.3,127.8 652.3,128.7 672.3,129.6" fill="none" stroke="#9A8FE0" stroke-opacity="0.18" stroke-width="0.85"/>
<polyline points="472.3,44.7 492.3,47.1 512.3,49.7 532.3,56.5 552.3,80.1 572.3,106 592.3,116.3 612.3,120.7 632.3,122.7 652.3,123.7 672.3,124.6" fill="none" stroke="#9A8FE0" stroke-opacity="0.19" stroke-width="0.85"/>
<polyline points="472.3,50.6 492.3,53.2 512.3,56.9 532.3,70.8 552.3,109.1 572.3,127.1 592.3,133.9 612.3,137.1 632.3,138.6 652.3,139.3 672.3,140" fill="none" stroke="#9A8FE0" stroke-opacity="0.18" stroke-width="0.85"/>
<polyline points="472.3,32.8 492.3,34.8 512.3,36.9 532.3,41.5 552.3,55.5 572.3,82.8 592.3,96.2 612.3,101.9 632.3,104.5 652.3,105.8 672.3,107" fill="none" stroke="#9A8FE0" stroke-opacity="0.15" stroke-width="0.85"/>
<polyline points="472.3,47.9 492.3,53.7 512.3,59.4 532.3,70.2 552.3,88 572.3,104.7 592.3,113.8 612.3,118.3 632.3,120.4 652.3,121.4 672.3,122.3" fill="none" stroke="#9A8FE0" stroke-opacity="0.19" stroke-width="0.85"/>
<polyline points="472.3,36.5 492.3,40.1 512.3,44.2 532.3,55.8 552.3,88.8 572.3,110.9 592.3,119.4 612.3,123.4 632.3,125.3 652.3,126.2 672.3,127.1" fill="none" stroke="#9A8FE0" stroke-opacity="0.18" stroke-width="0.85"/>
<polyline points="472.3,34.2 492.3,35.8 512.3,37.5 532.3,41.2 552.3,51.5 572.3,74 592.3,87.8 612.3,94 632.3,96.8 652.3,98.2 672.3,99.5" fill="none" stroke="#9A8FE0" stroke-opacity="0.12" stroke-width="0.85"/>
<polyline points="472.3,44.5 492.3,50.7 512.3,57.2 532.3,71.2 552.3,94.2 572.3,109.9 592.3,117.1 612.3,120.6 632.3,122.3 652.3,123.2 672.3,124.1" fill="none" stroke="#9A8FE0" stroke-opacity="0.13" stroke-width="0.85"/>
<polyline points="472.3,42.5 492.3,45.8 512.3,49.1 532.3,56.3 552.3,72.2 572.3,92.3 592.3,104.1 612.3,109.3 632.3,111.7 652.3,112.9 672.3,114" fill="none" stroke="#9A8FE0" stroke-opacity="0.18" stroke-width="0.85"/>
<polyline points="472.3,47.7 492.3,52.8 512.3,60.4 532.3,84.8 552.3,115.7 572.3,125.5 592.3,129.9 612.3,132.4 632.3,133.9 652.3,134.7 672.3,135.4" fill="none" stroke="#9A8FE0" stroke-opacity="0.15" stroke-width="0.85"/>
<polyline points="472.3,54.6 492.3,57.7 512.3,61.1 532.3,69.2 552.3,86.8 572.3,102.9 592.3,110.7 612.3,114.7 632.3,116.8 652.3,117.8 672.3,118.8" fill="none" stroke="#9A8FE0" stroke-opacity="0.14" stroke-width="0.85"/>
<polyline points="472.3,49.9 492.3,54.5 512.3,59.2 532.3,69 552.3,87.7 572.3,106.1 592.3,115.7 612.3,120.1 632.3,122.1 652.3,123.1 672.3,124" fill="none" stroke="#9A8FE0" stroke-opacity="0.17" stroke-width="0.85"/>
<polyline points="472.3,41.7 492.3,46 512.3,52.2 532.3,74.3 552.3,112.4 572.3,126 592.3,131.6 612.3,134.5 632.3,136.1 652.3,136.8 672.3,137.5" fill="none" stroke="#9A8FE0" stroke-opacity="0.17" stroke-width="0.85"/>
<polyline points="472.3,38 492.3,41.4 512.3,44.1 532.3,49.5 552.3,78.5 572.3,101.7 592.3,111.4 612.3,115.3 632.3,117.2 652.3,118 672.3,119.1" fill="none" stroke="#FF5A1E" stroke-width="1.4"/>
<circle class="c4" cx="472.3" cy="38" r="1.3"/>
<circle class="c4" cx="492.3" cy="41.4" r="1.3"/>
<circle class="c4" cx="512.3" cy="44.1" r="1.3"/>
<circle class="c4" cx="532.3" cy="49.5" r="1.3"/>
<circle class="c4" cx="552.3" cy="78.5" r="1.3"/>
<circle class="c4" cx="572.3" cy="101.7" r="1.3"/>
<circle class="c4" cx="592.3" cy="111.4" r="1.3"/>
<circle class="c4" cx="612.3" cy="115.3" r="1.3"/>
<circle class="c4" cx="632.3" cy="117.2" r="1.3"/>
<circle class="c4" cx="652.3" cy="118" r="1.3"/>
<circle class="c4" cx="672.3" cy="119.1" r="1.3"/>
<polyline points="472.3,40.2 492.3,43.3 512.3,45.6 532.3,54.2 552.3,78.5 572.3,98.6 592.3,107.5 612.3,111.4 632.3,113.7 652.3,114.5 672.3,115.3" fill="none" stroke="#5B73E8" stroke-width="1.4"/>
<circle class="c5" cx="472.3" cy="40.2" r="1.3"/>
<circle class="c5" cx="492.3" cy="43.3" r="1.3"/>
<circle class="c5" cx="512.3" cy="45.6" r="1.3"/>
<circle class="c5" cx="532.3" cy="54.2" r="1.3"/>
<circle class="c5" cx="552.3" cy="78.5" r="1.3"/>
<circle class="c5" cx="572.3" cy="98.6" r="1.3"/>
<circle class="c5" cx="592.3" cy="107.5" r="1.3"/>
<circle class="c5" cx="612.3" cy="111.4" r="1.3"/>
<circle class="c5" cx="632.3" cy="113.7" r="1.3"/>
<circle class="c5" cx="652.3" cy="114.5" r="1.3"/>
<circle class="c5" cx="672.3" cy="115.3" r="1.3"/>
<line x1="460.6" y1="23.5" x2="684.5" y2="23.5" stroke="#bbb" stroke-width="0.9" />
<line x1="684.5" y1="23.5" x2="684.5" y2="178.2" stroke="#555" stroke-width="0.9" />
<line x1="460.6" y1="178.2" x2="684.5" y2="178.2" stroke="#555" stroke-width="0.9" />
<line x1="460.6" y1="23.5" x2="460.6" y2="178.2" stroke="#555" stroke-width="0.9" />
<line x1="472.3" y1="178.2" x2="472.3" y2="180.2" stroke="#555" stroke-width="0.7" />
<text x="472.3" y="191.5" font-size="10.2" text-anchor="middle" font-weight="normal" fill="#000" font-family="Liberation Sans" >0</text>
<line x1="492.3" y1="178.2" x2="492.3" y2="180.2" stroke="#555" stroke-width="0.7" />
<text x="492.3" y="191.5" font-size="10.2" text-anchor="middle" font-weight="normal" fill="#000" font-family="Liberation Sans" >0.25</text>
<line x1="512.3" y1="178.2" x2="512.3" y2="180.2" stroke="#555" stroke-width="0.7" />
<text x="512.3" y="191.5" font-size="10.2" text-anchor="middle" font-weight="normal" fill="#000" font-family="Liberation Sans" >0.5</text>
<line x1="532.3" y1="178.2" x2="532.3" y2="180.2" stroke="#555" stroke-width="0.7" />
<text x="532.3" y="191.5" font-size="10.2" text-anchor="middle" font-weight="normal" fill="#000" font-family="Liberation Sans" >1</text>
<line x1="552.3" y1="178.2" x2="552.3" y2="180.2" stroke="#555" stroke-width="0.7" />
<text x="552.3" y="191.5" font-size="10.2" text-anchor="middle" font-weight="normal" fill="#000" font-family="Liberation Sans" >2</text>
<line x1="572.3" y1="178.2" x2="572.3" y2="180.2" stroke="#555" stroke-width="0.7" />
<text x="572.3" y="191.5" font-size="10.2" text-anchor="middle" font-weight="normal" fill="#000" font-family="Liberation Sans" >4</text>
<line x1="592.3" y1="178.2" x2="592.3" y2="180.2" stroke="#555" stroke-width="0.7" />
<text x="592.3" y="191.5" font-size="10.2" text-anchor="middle" font-weight="normal" fill="#000" font-family="Liberation Sans" >8</text>
<line x1="612.3" y1="178.2" x2="612.3" y2="180.2" stroke="#555" stroke-width="0.7" />
<text x="612.3" y="191.5" font-size="10.2" text-anchor="middle" font-weight="normal" fill="#000" font-family="Liberation Sans" >16</text>
<line x1="632.3" y1="178.2" x2="632.3" y2="180.2" stroke="#555" stroke-width="0.7" />
<text x="632.3" y="191.5" font-size="10.2" text-anchor="middle" font-weight="normal" fill="#000" font-family="Liberation Sans" >32</text>
<line x1="652.3" y1="178.2" x2="652.3" y2="180.2" stroke="#555" stroke-width="0.7" />
<text x="652.3" y="191.5" font-size="10.2" text-anchor="middle" font-weight="normal" fill="#000" font-family="Liberation Sans" >64</text>
<line x1="672.3" y1="178.2" x2="672.3" y2="180.2" stroke="#555" stroke-width="0.7" />
<text x="672.3" y="191.5" font-size="10.2" text-anchor="middle" font-weight="normal" fill="#000" font-family="Liberation Sans" >Inf</text>
<text x="453.9" y="41.8" font-size="10.2" text-anchor="end" font-weight="normal" fill="#000" font-family="Liberation Sans" >8</text>
<text x="453.9" y="78.2" font-size="10.2" text-anchor="end" font-weight="normal" fill="#000" font-family="Liberation Sans" >6</text>
<text x="453.9" y="114.1" font-size="10.2" text-anchor="end" font-weight="normal" fill="#000" font-family="Liberation Sans" >4</text>
<text x="453.9" y="150.1" font-size="10.2" text-anchor="end" font-weight="normal" fill="#000" font-family="Liberation Sans" >2</text>
<text x="453.9" y="182.2" font-size="10.2" text-anchor="end" font-weight="normal" fill="#000" font-family="Liberation Sans" >0</text>
<line x1="458.6" y1="38.2" x2="460.6" y2="38.2" stroke="#555" stroke-width="0.7" />
<line x1="458.6" y1="74.5" x2="460.6" y2="74.5" stroke="#555" stroke-width="0.7" />
<line x1="458.6" y1="110.8" x2="460.6" y2="110.8" stroke="#555" stroke-width="0.7" />
<line x1="458.6" y1="147.2" x2="460.6" y2="147.2" stroke="#555" stroke-width="0.7" />
<text x="572.5" y="19.6" font-size="10" text-anchor="middle" font-weight="normal" fill="#000" font-family="Liberation Sans" ><tspan style="font-family:'Liberation Serif'">α</tspan>-chain</text>
<text x="572.5" y="205" font-size="10.2" text-anchor="middle" font-weight="normal" fill="#000" font-family="Liberation Sans" >Renyi diversity</text>
<text x="0" y="0" font-size="10.3" text-anchor="middle" fill="#000" transform="translate(435,110.3) rotate(-90)" dominant-baseline="central">Renyi scale</text>
<line x1="471.3" y1="252.3" x2="471.3" y2="402.8" stroke="#ebebeb" stroke-width="0.6" />
<line x1="490.9" y1="252.3" x2="490.9" y2="402.8" stroke="#ebebeb" stroke-width="0.6" />
<line x1="510.5" y1="252.3" x2="510.5" y2="402.8" stroke="#ebebeb" stroke-width="0.6" />
<line x1="530.1" y1="252.3" x2="530.1" y2="402.8" stroke="#ebebeb" stroke-width="0.6" />
<line x1="549.7" y1="252.3" x2="549.7" y2="402.8" stroke="#ebebeb" stroke-width="0.6" />
<line x1="569.3" y1="252.3" x2="569.3" y2="402.8" stroke="#ebebeb" stroke-width="0.6" />
<line x1="588.9" y1="252.3" x2="588.9" y2="402.8" stroke="#ebebeb" stroke-width="0.6" />
<line x1="608.5" y1="252.3" x2="608.5" y2="402.8" stroke="#ebebeb" stroke-width="0.6" />
<line x1="628.1" y1="252.3" x2="628.1" y2="402.8" stroke="#ebebeb" stroke-width="0.6" />
<line x1="647.7" y1="252.3" x2="647.7" y2="402.8" stroke="#ebebeb" stroke-width="0.6" />
<line x1="667.3" y1="252.3" x2="667.3" y2="402.8" stroke="#ebebeb" stroke-width="0.6" />
<line x1="459.4" y1="266.5" x2="678.7" y2="266.5" stroke="#ebebeb" stroke-width="0.6" />
<line x1="459.4" y1="286" x2="678.7" y2="286" stroke="#ebebeb" stroke-width="0.6" />
<line x1="459.4" y1="305.4" x2="678.7" y2="305.4" stroke="#ebebeb" stroke-width="0.6" />
<line x1="459.4" y1="325" x2="678.7" y2="325" stroke="#ebebeb" stroke-width="0.6" />
<line x1="459.4" y1="344.2" x2="678.7" y2="344.2" stroke="#ebebeb" stroke-width="0.6" />
<line x1="459.4" y1="364" x2="678.7" y2="364" stroke="#ebebeb" stroke-width="0.6" />
<line x1="459.4" y1="383.7" x2="678.7" y2="383.7" stroke="#ebebeb" stroke-width="0.6" />
<polyline points="471.3,260.7 490.9,261.1 510.5,261.5 530.1,262.9 549.7,271.1 569.3,299.8 588.9,314.8 608.5,321.5 628.1,324.7 647.7,326.3 667.3,327.8" fill="none" stroke="#FF4A00" stroke-opacity="0.16" stroke-width="0.85"/>
<polyline points="471.3,275.9 490.9,277.5 510.5,279 530.1,282.3 549.7,290.9 569.3,311.6 588.9,326 608.5,332.3 628.1,335.2 647.7,336.6 667.3,338" fill="none" stroke="#FF4A00" stroke-opacity="0.12" stroke-width="0.85"/>
<polyline points="471.3,263.2 490.9,266.5 510.5,271.3 530.1,293.4 549.7,349.6 569.3,367.2 588.9,373.6 608.5,376.6 628.1,378.1 647.7,378.8 667.3,379.5" fill="none" stroke="#FF4A00" stroke-opacity="0.20" stroke-width="0.85"/>
<polyline points="471.3,281.2 490.9,284.5 510.5,289.5 530.1,308.5 549.7,350.9 569.3,367.6 588.9,374.1 608.5,377.1 628.1,378.6 647.7,379.3 667.3,379.9" fill="none" stroke="#FF4A00" stroke-opacity="0.15" stroke-width="0.85"/>
<polyline points="471.3,264.3 490.9,268.5 510.5,272.8 530.1,282.5 549.7,304.2 569.3,327 588.9,337.6 608.5,342.4 628.1,344.7 647.7,345.9 667.3,347.1" fill="none" stroke="#FF4A00" stroke-opacity="0.13" stroke-width="0.85"/>
<polyline points="471.3,267.8 490.9,274.5 510.5,283.1 530.1,307 549.7,341.2 569.3,355 588.9,361.1 608.5,364.3 628.1,366 647.7,366.9 667.3,367.8" fill="none" stroke="#FF4A00" stroke-opacity="0.12" stroke-width="0.85"/>
<polyline points="471.3,265.5 490.9,271.5 510.5,277.9 530.1,291.9 549.7,316.5 569.3,334.7 588.9,343.4 608.5,347.8 628.1,350.1 647.7,351.2 667.3,352.3" fill="none" stroke="#FF4A00" stroke-opacity="0.23" stroke-width="0.85"/>
<polyline points="471.3,282 490.9,285.5 510.5,289.9 530.1,302.4 549.7,331 569.3,348.1 588.9,355.1 608.5,358.7 628.1,360.6 647.7,361.6 667.3,362.6" fill="none" stroke="#FF4A00" stroke-opacity="0.21" stroke-width="0.85"/>
<polyline points="471.3,272.9 490.9,276.3 510.5,280.9 530.1,299 549.7,347 569.3,366.5 588.9,373.6 608.5,376.8 628.1,378.3 647.7,379 667.3,379.6" fill="none" stroke="#FF4A00" stroke-opacity="0.13" stroke-width="0.85"/>
<polyline points="471.3,268 490.9,269.8 510.5,271.9 530.1,278.2 549.7,305.9 569.3,335.2 588.9,346.4 608.5,351.3 628.1,353.6 647.7,354.7 667.3,355.7" fill="none" stroke="#FF4A00" stroke-opacity="0.24" stroke-width="0.85"/>
<polyline points="471.3,265.2 490.9,268.8 510.5,274.2 530.1,299.6 549.7,358.6 569.3,375.2 588.9,381.2 608.5,383.8 628.1,385.1 647.7,385.7 667.3,386.2" fill="none" stroke="#FF4A00" stroke-opacity="0.16" stroke-width="0.85"/>
<polyline points="471.3,269.2 490.9,271.4 510.5,273.7 530.1,279.1 549.7,297.6 569.3,326.9 588.9,339.7 608.5,345.1 628.1,347.6 647.7,348.8 667.3,349.9" fill="none" stroke="#FF4A00" stroke-opacity="0.14" stroke-width="0.85"/>
<polyline points="471.3,264.3 490.9,268.4 510.5,272.7 530.1,282.8 549.7,306.4 569.3,328.6 588.9,338.7 608.5,343.6 628.1,346.1 647.7,347.3 667.3,348.5" fill="none" stroke="#FF4A00" stroke-opacity="0.16" stroke-width="0.85"/>
<polyline points="471.3,264.9 490.9,271.3 510.5,278.2 530.1,293.5 549.7,323.4 569.3,345.6 588.9,355.3 608.5,359.7 628.1,361.7 647.7,362.7 667.3,363.6" fill="none" stroke="#FF4A00" stroke-opacity="0.20" stroke-width="0.85"/>
<polyline points="471.3,277.7 490.9,281.8 510.5,285.9 530.1,293.9 549.7,307.6 569.3,322.6 588.9,333.2 608.5,338.9 628.1,341.6 647.7,342.8 667.3,344.1" fill="none" stroke="#FF4A00" stroke-opacity="0.17" stroke-width="0.85"/>
<polyline points="471.3,273.5 490.9,275 510.5,276.6 530.1,279.9 549.7,288.1 569.3,304.5 588.9,317 608.5,323.2 628.1,326.3 647.7,327.8 667.3,329.2" fill="none" stroke="#FF4A00" stroke-opacity="0.19" stroke-width="0.85"/>
<polyline points="471.3,273.7 490.9,276.1 510.5,278.6 530.1,283.9 549.7,296.2 569.3,316.1 588.9,328.6 608.5,334.4 628.1,337.2 647.7,338.6 667.3,339.9" fill="none" stroke="#FF4A00" stroke-opacity="0.20" stroke-width="0.85"/>
<polyline points="471.3,260.8 490.9,266.4 510.5,272.2 530.1,284.5 549.7,305.4 569.3,321.8 588.9,329.9 608.5,333.8 628.1,336 647.7,337.3 667.3,338.6" fill="none" stroke="#FF4A00" stroke-opacity="0.16" stroke-width="0.85"/>
<polyline points="471.3,269.3 490.9,271.8 510.5,274.8 530.1,284.1 549.7,320.5 569.3,346.1 588.9,354.6 608.5,358.4 628.1,360.4 647.7,361.4 667.3,362.3" fill="none" stroke="#FF4A00" stroke-opacity="0.17" stroke-width="0.85"/>
<polyline points="471.3,272.1 490.9,275.7 510.5,279.5 530.1,287.7 549.7,307 569.3,330.9 588.9,342.5 608.5,347.7 628.1,350.1 647.7,351.3 667.3,352.4" fill="none" stroke="#FF4A00" stroke-opacity="0.13" stroke-width="0.85"/>
<polyline points="471.3,274.5 490.9,277 510.5,279.7 530.1,286.6 549.7,309.6 569.3,336.7 588.9,348 608.5,352.8 628.1,355.1 647.7,356.1 667.3,357.2" fill="none" stroke="#FF4A00" stroke-opacity="0.17" stroke-width="0.85"/>
<polyline points="471.3,268.5 490.9,272.7 510.5,279 530.1,304 549.7,347.7 569.3,362.2 588.9,368.2 608.5,371.3 628.1,372.9 647.7,373.6 667.3,374.4" fill="none" stroke="#FF4A00" stroke-opacity="0.23" stroke-width="0.85"/>
<polyline points="471.3,269.1 490.9,273.4 510.5,277.8 530.1,286.8 549.7,305.9 569.3,329.5 588.9,341.6 608.5,346.9 628.1,349.3 647.7,350.5 667.3,351.6" fill="none" stroke="#FF4A00" stroke-opacity="0.18" stroke-width="0.85"/>
<polyline points="471.3,272.1 490.9,280.2 510.5,288.8 530.1,307.3 549.7,334.8 569.3,351.9 588.9,360 608.5,363.9 628.1,365.7 647.7,366.6 667.3,367.5" fill="none" stroke="#FF4A00" stroke-opacity="0.12" stroke-width="0.85"/>
<polyline points="471.3,272.9 490.9,276.1 510.5,279.5 530.1,287.7 549.7,310.3 569.3,334.1 588.9,344.2 608.5,348.9 628.1,351.2 647.7,352.3 667.3,353.4" fill="none" stroke="#FF4A00" stroke-opacity="0.22" stroke-width="0.85"/>
<polyline points="471.3,269.8 490.9,271.2 510.5,272.6 530.1,275.8 549.7,283.5 569.3,301.9 588.9,316 608.5,322.6 628.1,325.7 647.7,327.3 667.3,328.7" fill="none" stroke="#FF4A00" stroke-opacity="0.16" stroke-width="0.85"/>
<polyline points="471.3,263.3 490.9,267.9 510.5,272.6 530.1,281.8 549.7,298.3 569.3,315.8 588.9,326 608.5,331 628.1,333.6 647.7,335 667.3,336.4" fill="none" stroke="#FF4A00" stroke-opacity="0.16" stroke-width="0.85"/>
<polyline points="471.3,261.9 490.9,265.9 510.5,270.1 530.1,279.8 549.7,307.1 569.3,335.9 588.9,347.4 608.5,352.3 628.1,354.6 647.7,355.6 667.3,356.7" fill="none" stroke="#FF4A00" stroke-opacity="0.23" stroke-width="0.85"/>
<polyline points="471.3,269.5 490.9,271.7 510.5,274.2 530.1,280.7 549.7,304.6 569.3,331.9 588.9,342.9 608.5,347.9 628.1,350.3 647.7,351.5 667.3,352.6" fill="none" stroke="#FF4A00" stroke-opacity="0.20" stroke-width="0.85"/>
<polyline points="471.3,279.1 490.9,285.1 510.5,292.1 530.1,309.5 549.7,336.7 569.3,351.3 588.9,357.8 608.5,361.3 628.1,363.1 647.7,364 667.3,364.9" fill="none" stroke="#FF4A00" stroke-opacity="0.11" stroke-width="0.85"/>
<polyline points="471.3,272 490.9,278.1 510.5,284.2 530.1,296.2 549.7,315 569.3,330.1 588.9,338.8 608.5,343.6 628.1,346.1 647.7,347.3 667.3,348.5" fill="none" stroke="#FF4A00" stroke-opacity="0.14" stroke-width="0.85"/>
<polyline points="471.3,281.8 490.9,286.5 510.5,291.9 530.1,305.7 549.7,336.2 569.3,356.4 588.9,364.6 608.5,368.4 628.1,370.1 647.7,370.9 667.3,371.7" fill="none" stroke="#FF4A00" stroke-opacity="0.23" stroke-width="0.85"/>
<polyline points="471.3,274.6 490.9,280.8 510.5,286.9 530.1,299.1 549.7,321.2 569.3,343.8 588.9,354.4 608.5,358.9 628.1,361 647.7,361.9 667.3,362.9" fill="none" stroke="#FF4A00" stroke-opacity="0.24" stroke-width="0.85"/>
<polyline points="471.3,274.9 490.9,277.5 510.5,280.2 530.1,285.5 549.7,296.7 569.3,316.1 588.9,329.9 608.5,336 628.1,338.8 647.7,340.1 667.3,341.4" fill="none" stroke="#FF4A00" stroke-opacity="0.18" stroke-width="0.85"/>
<polyline points="471.3,268.5 490.9,273.3 510.5,280.3 530.1,306.3 549.7,350.4 569.3,365 588.9,371 608.5,374 628.1,375.6 647.7,376.3 667.3,377" fill="none" stroke="#FF4A00" stroke-opacity="0.23" stroke-width="0.85"/>
<polyline points="471.3,265.2 490.9,268.5 510.5,272 530.1,280.3 549.7,304.3 569.3,331.3 588.9,342.8 608.5,347.9 628.1,350.3 647.7,351.4 667.3,352.5" fill="none" stroke="#FF4A00" stroke-opacity="0.24" stroke-width="0.85"/>
<polyline points="471.3,277.9 490.9,282.3 510.5,286.6 530.1,296 549.7,316.4 569.3,339.5 588.9,350.4 608.5,355.1 628.1,357.3 647.7,358.3 667.3,359.3" fill="none" stroke="#FF4A00" stroke-opacity="0.20" stroke-width="0.85"/>
<polyline points="471.3,271.9 490.9,275.4 510.5,279.1 530.1,288.2 549.7,311.6 569.3,333.8 588.9,343.7 608.5,348.4 628.1,350.7 647.7,351.8 667.3,352.9" fill="none" stroke="#FF4A00" stroke-opacity="0.21" stroke-width="0.85"/>
<polyline points="471.3,274.8 490.9,279 510.5,283.2 530.1,291.9 549.7,308.2 569.3,327.3 588.9,338.7 608.5,344.1 628.1,346.6 647.7,347.8 667.3,349" fill="none" stroke="#FF4A00" stroke-opacity="0.13" stroke-width="0.85"/>
<polyline points="471.3,260.7 490.9,264.4 510.5,268.4 530.1,278.2 549.7,307.8 569.3,336.8 588.9,348.1 608.5,353 628.1,355.2 647.7,356.3 667.3,357.3" fill="none" stroke="#FF4A00" stroke-opacity="0.17" stroke-width="0.85"/>
<polyline points="471.3,276.3 490.9,279.9 510.5,285.4 530.1,306.1 549.7,344.8 569.3,359.3 588.9,365.4 608.5,368.6 628.1,370.2 647.7,371 667.3,371.8" fill="none" stroke="#FF4A00" stroke-opacity="0.19" stroke-width="0.85"/>
<polyline points="471.3,263.9 490.9,268 510.5,274.2 530.1,299.7 549.7,346.4 569.3,361.6 588.9,367.8 608.5,370.9 628.1,372.5 647.7,373.3 667.3,374.1" fill="none" stroke="#FF4A00" stroke-opacity="0.24" stroke-width="0.85"/>
<polyline points="471.3,260.7 490.9,266.9 510.5,273.6 530.1,288.7 549.7,316 569.3,334.5 588.9,342.9 608.5,347.1 628.1,349.4 647.7,350.5 667.3,351.6" fill="none" stroke="#FF4A00" stroke-opacity="0.21" stroke-width="0.85"/>
<polyline points="471.3,261.5 490.9,264.1 510.5,266.7 530.1,272.6 549.7,286.4 569.3,307 588.9,319.2 608.5,325.1 628.1,328.1 647.7,329.6 667.3,331.1" fill="none" stroke="#FF4A00" stroke-opacity="0.22" stroke-width="0.85"/>
<polyline points="471.3,267.9 490.9,272.6 510.5,277.4 530.1,287.6 549.7,309.1 569.3,331.6 588.9,342.6 608.5,347.7 628.1,350.1 647.7,351.2 667.3,352.3" fill="none" stroke="#FF4A00" stroke-opacity="0.15" stroke-width="0.85"/>
<polyline points="471.3,286 490.9,288.1 510.5,291.1 530.1,302.4 549.7,339.1 569.3,359.4 588.9,367.1 608.5,370.6 628.1,372.3 647.7,373 667.3,373.8" fill="none" stroke="#FF4A00" stroke-opacity="0.13" stroke-width="0.85"/>
<polyline points="471.3,266.6 490.9,273 510.5,279.8 530.1,295.4 549.7,328.3 569.3,351.7 588.9,361 608.5,365 628.1,366.8 647.7,367.7 667.3,368.6" fill="none" stroke="#FF4A00" stroke-opacity="0.11" stroke-width="0.85"/>
<polyline points="471.3,266.4 490.9,269.4 510.5,273.7 530.1,292.4 549.7,346.9 569.3,365 588.9,370.7 608.5,373.4 628.1,374.9 647.7,375.7 667.3,376.4" fill="none" stroke="#FF4A00" stroke-opacity="0.21" stroke-width="0.85"/>
<polyline points="471.3,274.7 490.9,280.5 510.5,286.1 530.1,296.4 549.7,311.1 569.3,324 588.9,332.1 608.5,336.5 628.1,338.7 647.7,339.8 667.3,341" fill="none" stroke="#FF4A00" stroke-opacity="0.17" stroke-width="0.85"/>
<polyline points="471.3,274.6 490.9,276.6 510.5,279 530.1,285.8 549.7,309.1 569.3,332.9 588.9,342.7 608.5,347.4 628.1,349.7 647.7,350.9 667.3,352" fill="none" stroke="#FF4A00" stroke-opacity="0.21" stroke-width="0.85"/>
<polyline points="471.3,269.1 490.9,273.5 510.5,278.3 530.1,290.1 549.7,320 569.3,344.2 588.9,353.9 608.5,358.3 628.1,360.3 647.7,361.3 667.3,362.3" fill="none" stroke="#FF4A00" stroke-opacity="0.17" stroke-width="0.85"/>
<polyline points="471.3,280.6 490.9,284.5 510.5,288.4 530.1,296.8 549.7,315.1 569.3,336.2 588.9,346.8 608.5,351.7 628.1,353.9 647.7,355 667.3,356.1" fill="none" stroke="#FF4A00" stroke-opacity="0.23" stroke-width="0.85"/>
<polyline points="471.3,269.4 490.9,271.4 510.5,273.5 530.1,278.8 549.7,298.7 569.3,327.8 588.9,340.1 608.5,345.4 628.1,347.9 647.7,349.1 667.3,350.2" fill="none" stroke="#FF4A00" stroke-opacity="0.23" stroke-width="0.85"/>
<polyline points="471.3,267.4 490.9,270.5 510.5,274 530.1,283.1 549.7,312.3 569.3,339.1 588.9,349.7 608.5,354.4 628.1,356.6 647.7,357.6 667.3,358.6" fill="none" stroke="#FF4A00" stroke-opacity="0.16" stroke-width="0.85"/>
<polyline points="471.3,275.4 490.9,277.2 510.5,279.1 530.1,283 549.7,292.2 569.3,309.2 588.9,321.5 608.5,327.6 628.1,330.7 647.7,332.1 667.3,333.5" fill="none" stroke="#FF4A00" stroke-opacity="0.13" stroke-width="0.85"/>
<polyline points="471.3,274.2 490.9,278.9 510.5,285.7 530.1,309.8 549.7,347.5 569.3,359.6 588.9,364.7 608.5,367.6 628.1,369.2 647.7,370 667.3,370.8" fill="none" stroke="#FF4A00" stroke-opacity="0.16" stroke-width="0.85"/>
<polyline points="471.3,268.5 490.9,271 510.5,273.8 530.1,281.9 549.7,309.2 569.3,334.8 588.9,345 608.5,349.8 628.1,352.1 647.7,353.2 667.3,354.3" fill="none" stroke="#FF4A00" stroke-opacity="0.14" stroke-width="0.85"/>
<polyline points="471.3,272.4 490.9,276 510.5,281 530.1,299.1 549.7,342.4 569.3,360.9 588.9,368 608.5,371.4 628.1,373.1 647.7,373.8 667.3,374.6" fill="none" stroke="#FF4A00" stroke-opacity="0.16" stroke-width="0.85"/>
<polyline points="471.3,270.7 490.9,275.8 510.5,281.5 530.1,295.4 549.7,323.4 569.3,341.7 588.9,349.1 608.5,352.8 628.1,354.9 647.7,355.9 667.3,356.9" fill="none" stroke="#FF4A00" stroke-opacity="0.22" stroke-width="0.85"/>
<polyline points="471.3,268.4 490.9,271.2 510.5,275.1 530.1,290.3 549.7,339 569.3,361.1 588.9,369 608.5,372.5 628.1,374.1 647.7,374.9 667.3,375.6" fill="none" stroke="#FF4A00" stroke-opacity="0.19" stroke-width="0.85"/>
<polyline points="471.3,267.1 490.9,271.3 510.5,275.8 530.1,286.9 549.7,315 569.3,339.4 588.9,349.6 608.5,354.2 628.1,356.4 647.7,357.4 667.3,358.4" fill="none" stroke="#FF4A00" stroke-opacity="0.19" stroke-width="0.85"/>
<polyline points="471.3,267.1 490.9,272.1 510.5,278.1 530.1,295.6 549.7,335.9 569.3,356.4 588.9,364.3 608.5,368 628.1,369.7 647.7,370.6 667.3,371.4" fill="none" stroke="#FF4A00" stroke-opacity="0.16" stroke-width="0.85"/>
<polyline points="471.3,271.8 490.9,275.6 510.5,281.7 530.1,306 549.7,349.9 569.3,364.5 588.9,370.5 608.5,373.6 628.1,375.1 647.7,375.8 667.3,376.6" fill="none" stroke="#FF4A00" stroke-opacity="0.23" stroke-width="0.85"/>
<polyline points="471.3,268.4 490.9,270.4 510.5,273.5 530.1,287.6 549.7,337.7 569.3,360.1 588.9,368.1 608.5,371.6 628.1,373.2 647.7,374 667.3,374.8" fill="none" stroke="#FF4A00" stroke-opacity="0.16" stroke-width="0.85"/>
<polyline points="471.3,261.3 490.9,267.9 510.5,275.4 530.1,295.3 549.7,334.8 569.3,355.3 588.9,363.6 608.5,367.3 628.1,369.1 647.7,369.9 667.3,370.8" fill="none" stroke="#FF4A00" stroke-opacity="0.14" stroke-width="0.85"/>
<polyline points="471.3,260.7 490.9,268.9 510.5,278.3 530.1,301.5 549.7,338.9 569.3,356.8 588.9,364.3 608.5,367.9 628.1,369.6 647.7,370.4 667.3,371.3" fill="none" stroke="#FF4A00" stroke-opacity="0.15" stroke-width="0.85"/>
<polyline points="471.3,269.2 490.9,272.5 510.5,276.5 530.1,288.6 549.7,327.6 569.3,352.3 588.9,361.3 608.5,365.3 628.1,367.1 647.7,368 667.3,368.8" fill="none" stroke="#FF4A00" stroke-opacity="0.12" stroke-width="0.85"/>
<polyline points="471.3,273.6 490.9,275.7 510.5,278 530.1,283.7 549.7,302.2 569.3,326.3 588.9,336.8 608.5,341.7 628.1,344.2 647.7,345.4 667.3,346.6" fill="none" stroke="#FF4A00" stroke-opacity="0.13" stroke-width="0.85"/>
<polyline points="471.3,266.8 490.9,269.9 510.5,273.9 530.1,286.7 549.7,324.8 569.3,346.8 588.9,355.3 608.5,359.3 628.1,361.3 647.7,362.3 667.3,363.2" fill="none" stroke="#FF4A00" stroke-opacity="0.18" stroke-width="0.85"/>
<polyline points="471.3,270.1 490.9,275.3 510.5,281 530.1,296.2 549.7,331.8 569.3,354.1 588.9,362.7 608.5,366.5 628.1,368.3 647.7,369.2 667.3,370" fill="none" stroke="#FF4A00" stroke-opacity="0.23" stroke-width="0.85"/>
<polyline points="471.3,270.1 490.9,275.7 510.5,281.7 530.1,295.7 549.7,326 569.3,348.9 588.9,358.2 608.5,362.3 628.1,364.3 647.7,365.2 667.3,366.1" fill="none" stroke="#FF4A00" stroke-opacity="0.22" stroke-width="0.85"/>
<polyline points="471.3,266.7 490.9,271.4 510.5,277.9 530.1,299.3 549.7,335.4 569.3,349.5 588.9,355.5 608.5,358.8 628.1,360.6 647.7,361.5 667.3,362.5" fill="none" stroke="#FF4A00" stroke-opacity="0.16" stroke-width="0.85"/>
<polyline points="471.3,268.3 490.9,270.6 510.5,274.1 530.1,289.4 549.7,338.6 569.3,359.7 588.9,367.3 608.5,370.9 628.1,372.5 647.7,373.3 667.3,374.1" fill="none" stroke="#FF4A00" stroke-opacity="0.15" stroke-width="0.85"/>
<polyline points="471.3,268.9 490.9,272.5 510.5,276.3 530.1,285.9 549.7,316.9 569.3,345.1 588.9,355.3 608.5,359.6 628.1,361.6 647.7,362.6 667.3,363.5" fill="none" stroke="#FF4A00" stroke-opacity="0.14" stroke-width="0.85"/>
<polyline points="471.3,273.6 490.9,277.5 510.5,281.9 530.1,293.3 549.7,319.9 569.3,339.5 588.9,347.8 608.5,351.9 628.1,354.1 647.7,355.1 667.3,356.2" fill="none" stroke="#FF4A00" stroke-opacity="0.14" stroke-width="0.85"/>
<polyline points="471.3,270.3 490.9,277.5 510.5,285.2 530.1,302 549.7,330.8 569.3,351.8 588.9,361.3 608.5,365.4 628.1,367.2 647.7,368.1 667.3,368.9" fill="none" stroke="#FF4A00" stroke-opacity="0.22" stroke-width="0.85"/>
<polyline points="471.3,269.3 490.9,271.9 510.5,274.8 530.1,281.3 549.7,298.4 569.3,322.3 588.9,334.4 608.5,339.9 628.1,342.6 647.7,343.8 667.3,345" fill="none" stroke="#FF4A00" stroke-opacity="0.24" stroke-width="0.85"/>
<polyline points="471.3,273.3 490.9,278.9 510.5,284.9 530.1,297.7 549.7,318.7 569.3,333.7 588.9,341.4 608.5,345.6 628.1,347.9 647.7,349.1 667.3,350.2" fill="none" stroke="#FF4A00" stroke-opacity="0.11" stroke-width="0.85"/>
<polyline points="471.3,269.3 490.9,273.2 510.5,277.3 530.1,286.5 549.7,307.4 569.3,330.5 588.9,341.7 608.5,346.8 628.1,349.2 647.7,350.4 667.3,351.5" fill="none" stroke="#FF4A00" stroke-opacity="0.22" stroke-width="0.85"/>
<polyline points="471.3,268.8 490.9,273.8 510.5,281.3 530.1,309.6 549.7,352.2 569.3,363.7 588.9,368.2 608.5,370.8 628.1,372.2 647.7,373 667.3,373.8" fill="none" stroke="#FF4A00" stroke-opacity="0.12" stroke-width="0.85"/>
<polyline points="471.3,260.7 490.9,265.4 510.5,270.4 530.1,282.1 549.7,310.3 569.3,335.2 588.9,345.9 608.5,350.7 628.1,353 647.7,354.1 667.3,355.2" fill="none" stroke="#FF4A00" stroke-opacity="0.17" stroke-width="0.85"/>
<polyline points="471.3,280.6 490.9,284.6 510.5,290.7 530.1,316 549.7,361.4 569.3,375.8 588.9,381.5 608.5,384.1 628.1,385.3 647.7,385.9 667.3,386.5" fill="none" stroke="#FF4A00" stroke-opacity="0.11" stroke-width="0.85"/>
<polyline points="471.3,274.1 490.9,275.9 510.5,277.9 530.1,282.7 549.7,299.3 569.3,325.7 588.9,337.8 608.5,343.3 628.1,345.8 647.7,347 667.3,348.2" fill="none" stroke="#FF4A00" stroke-opacity="0.20" stroke-width="0.85"/>
<polyline points="471.3,264.3 490.9,267.2 510.5,271.8 530.1,293.2 549.7,346.4 569.3,364.5 588.9,371.4 608.5,374.6 628.1,376.1 647.7,376.9 667.3,377.6" fill="none" stroke="#FF4A00" stroke-opacity="0.20" stroke-width="0.85"/>
<polyline points="471.3,270 490.9,274.1 510.5,278.9 530.1,293.4 549.7,332.7 569.3,352.9 588.9,359.6 608.5,362.8 628.1,364.6 647.7,365.5 667.3,366.3" fill="none" stroke="#FF4A00" stroke-opacity="0.22" stroke-width="0.85"/>
<polyline points="471.3,276.1 490.9,281.6 510.5,286.9 530.1,296.8 549.7,312.4 569.3,328.1 588.9,337.3 608.5,341.7 628.1,344 647.7,345.2 667.3,346.4" fill="none" stroke="#FF4A00" stroke-opacity="0.23" stroke-width="0.85"/>
<polyline points="471.3,267.9 490.9,271.5 510.5,275.2 530.1,283.1 549.7,301.1 569.3,324.6 588.9,336.8 608.5,342.3 628.1,344.9 647.7,346.1 667.3,347.3" fill="none" stroke="#FF4A00" stroke-opacity="0.12" stroke-width="0.85"/>
<polyline points="471.3,270.6 490.9,276.1 510.5,281.7 530.1,293.2 549.7,314.8 569.3,337 588.9,348.5 608.5,353.4 628.1,355.6 647.7,356.7 667.3,357.7" fill="none" stroke="#FF4A00" stroke-opacity="0.21" stroke-width="0.85"/>
<polyline points="471.3,265.8 490.9,269.7 510.5,275.9 530.1,302 549.7,349.1 569.3,363.9 588.9,369.9 608.5,373 628.1,374.6 647.7,375.3 667.3,376" fill="none" stroke="#FF4A00" stroke-opacity="0.22" stroke-width="0.85"/>
<polyline points="471.3,269.4 490.9,275.7 510.5,282.9 530.1,300.5 549.7,330.9 569.3,347.9 588.9,355.2 608.5,358.9 628.1,360.9 647.7,361.9 667.3,362.8" fill="none" stroke="#FF4A00" stroke-opacity="0.20" stroke-width="0.85"/>
<polyline points="471.3,266.2 490.9,268.7 510.5,271.3 530.1,278 549.7,302 569.3,331.9 588.9,343.9 608.5,349.1 628.1,351.4 647.7,352.6 667.3,353.6" fill="none" stroke="#FF4A00" stroke-opacity="0.13" stroke-width="0.85"/>
<polyline points="471.3,268.7 490.9,273.6 510.5,279.1 530.1,292.3 549.7,319.6 569.3,339.3 588.9,347.9 608.5,352.2 628.1,354.4 647.7,355.4 667.3,356.5" fill="none" stroke="#FF4A00" stroke-opacity="0.21" stroke-width="0.85"/>
<polyline points="471.3,269.1 490.9,272.4 510.5,277.5 530.1,300.5 549.7,350.9 569.3,367.6 588.9,374 608.5,377.1 628.1,378.5 647.7,379.2 667.3,379.9" fill="none" stroke="#FF4A00" stroke-opacity="0.23" stroke-width="0.85"/>
<polyline points="471.3,265.8 490.9,271.5 510.5,277.5 530.1,291.1 549.7,321 569.3,344.4 588.9,354.2 608.5,358.6 628.1,360.6 647.7,361.6 667.3,362.5" fill="none" stroke="#FF4A00" stroke-opacity="0.15" stroke-width="0.85"/>
<polyline points="471.3,269.3 490.9,273.5 510.5,278.3 530.1,290.3 549.7,318.3 569.3,339.3 588.9,348.2 608.5,352.5 628.1,354.7 647.7,355.7 667.3,356.8" fill="none" stroke="#FF4A00" stroke-opacity="0.13" stroke-width="0.85"/>
<polyline points="471.3,260.7 490.9,264.3 510.5,268.5 530.1,279.8 549.7,309.8 569.3,331.8 588.9,340.8 608.5,345.3 628.1,347.6 647.7,348.7 667.3,349.9" fill="none" stroke="#FF4A00" stroke-opacity="0.12" stroke-width="0.85"/>
<polyline points="471.3,272.1 490.9,276.5 510.5,281.1 530.1,291.2 549.7,311.8 569.3,331.1 588.9,341 608.5,345.9 628.1,348.3 647.7,349.4 667.3,350.6" fill="none" stroke="#FF4A00" stroke-opacity="0.15" stroke-width="0.85"/>
<polyline points="471.3,282.8 490.9,288.2 510.5,294.9 530.1,312.9 549.7,341.3 569.3,355 588.9,361 608.5,364.2 628.1,365.9 647.7,366.8 667.3,367.7" fill="none" stroke="#FF4A00" stroke-opacity="0.20" stroke-width="0.85"/>
<polyline points="471.3,266.4 490.9,271.8 510.5,277.6 530.1,291 549.7,319.9 569.3,342.2 588.9,351.8 608.5,356.3 628.1,358.4 647.7,359.4 667.3,360.4" fill="none" stroke="#FF4A00" stroke-opacity="0.18" stroke-width="0.85"/>
<polyline points="471.3,272.9 490.9,276.5 510.5,280.4 530.1,290.2 549.7,317.2 569.3,341.5 588.9,351.5 608.5,356 628.1,358.2 647.7,359.2 667.3,360.2" fill="none" stroke="#FF4A00" stroke-opacity="0.16" stroke-width="0.85"/>
<polyline points="471.3,266.4 490.9,270.4 510.5,277.2 530.1,307.2 549.7,354 569.3,365 588.9,369 608.5,371.3 628.1,372.7 647.7,373.5 667.3,374.2" fill="none" stroke="#FF4A00" stroke-opacity="0.22" stroke-width="0.85"/>
<polyline points="471.3,265.2 490.9,268.4 510.5,271.7 530.1,278.5 549.7,292.2 569.3,308.5 588.9,318.4 608.5,323.9 628.1,326.8 647.7,328.3 667.3,329.8" fill="none" stroke="#9A8FE0" stroke-opacity="0.19" stroke-width="0.85"/>
<polyline points="471.3,279.7 490.9,283.4 510.5,287.6 530.1,298.4 549.7,325.8 569.3,348.1 588.9,357.5 608.5,361.7 628.1,363.6 647.7,364.6 667.3,365.5" fill="none" stroke="#9A8FE0" stroke-opacity="0.18" stroke-width="0.85"/>
<polyline points="471.3,266.4 490.9,268.7 510.5,271.2 530.1,276.6 549.7,292.4 569.3,319 588.9,332.4 608.5,338.2 628.1,340.9 647.7,342.2 667.3,343.5" fill="none" stroke="#9A8FE0" stroke-opacity="0.15" stroke-width="0.85"/>
<polyline points="471.3,274.8 490.9,279 510.5,285.2 530.1,310.4 549.7,356.8 569.3,371.9 588.9,377.8 608.5,380.7 628.1,382 647.7,382.6 667.3,383.3" fill="none" stroke="#9A8FE0" stroke-opacity="0.12" stroke-width="0.85"/>
<polyline points="471.3,270.6 490.9,274.7 510.5,280.8 530.1,304.1 549.7,345.8 569.3,360.4 588.9,366.4 608.5,369.6 628.1,371.2 647.7,372 667.3,372.8" fill="none" stroke="#9A8FE0" stroke-opacity="0.14" stroke-width="0.85"/>
<polyline points="471.3,266.8 490.9,270.3 510.5,273.8 530.1,281.5 549.7,299.9 569.3,325.3 588.9,338 608.5,343.5 628.1,346 647.7,347.2 667.3,348.4" fill="none" stroke="#9A8FE0" stroke-opacity="0.17" stroke-width="0.85"/>
<polyline points="471.3,279.8 490.9,282.6 510.5,285.3 530.1,290.6 549.7,300.3 569.3,313.8 588.9,324.7 608.5,330.7 628.1,333.6 647.7,335 667.3,336.4" fill="none" stroke="#9A8FE0" stroke-opacity="0.15" stroke-width="0.85"/>
<polyline points="471.3,265.4 490.9,267.7 510.5,271 530.1,284.9 549.7,338 569.3,360.9 588.9,368.7 608.5,372.2 628.1,373.8 647.7,374.5 667.3,375.3" fill="none" stroke="#9A8FE0" stroke-opacity="0.16" stroke-width="0.85"/>
<polyline points="471.3,261.6 490.9,266.4 510.5,271.9 530.1,287.1 549.7,324.8 569.3,347.6 588.9,356.4 608.5,360.5 628.1,362.5 647.7,363.4 667.3,364.3" fill="none" stroke="#9A8FE0" stroke-opacity="0.16" stroke-width="0.85"/>
<polyline points="471.3,260.7 490.9,263.3 510.5,266.3 530.1,274.8 549.7,308.9 569.3,338.8 588.9,349.7 608.5,354.5 628.1,356.6 647.7,357.7 667.3,358.7" fill="none" stroke="#9A8FE0" stroke-opacity="0.12" stroke-width="0.85"/>
<polyline points="471.3,270.3 490.9,276.1 510.5,282.3 530.1,295.3 549.7,318 569.3,335.7 588.9,344.4 608.5,348.8 628.1,351 647.7,352.2 667.3,353.3" fill="none" stroke="#9A8FE0" stroke-opacity="0.17" stroke-width="0.85"/>
<polyline points="471.3,277.1 490.9,282.8 510.5,288.6 530.1,300.2 549.7,319.6 569.3,337.7 588.9,347.6 608.5,352.3 628.1,354.6 647.7,355.6 667.3,356.7" fill="none" stroke="#9A8FE0" stroke-opacity="0.15" stroke-width="0.85"/>
<polyline points="471.3,277.9 490.9,279.7 510.5,281.6 530.1,286.1 549.7,299.5 569.3,322.8 588.9,335.2 608.5,340.8 628.1,343.5 647.7,344.7 667.3,345.9" fill="none" stroke="#9A8FE0" stroke-opacity="0.17" stroke-width="0.85"/>
<polyline points="471.3,272.9 490.9,275.9 510.5,279.3 530.1,289 549.7,316.6 569.3,338.8 588.9,347.9 608.5,352.3 628.1,354.5 647.7,355.5 667.3,356.6" fill="none" stroke="#9A8FE0" stroke-opacity="0.16" stroke-width="0.85"/>
<polyline points="471.3,271.1 490.9,276.2 510.5,281.3 530.1,291.6 549.7,309.6 569.3,326.2 588.9,335 608.5,339.8 628.1,342.3 647.7,343.5 667.3,344.8" fill="none" stroke="#9A8FE0" stroke-opacity="0.19" stroke-width="0.85"/>
<polyline points="471.3,270.5 490.9,273.5 510.5,276.4 530.1,282.5 549.7,296.3 569.3,315.8 588.9,327.8 608.5,333.7 628.1,336.6 647.7,337.9 667.3,339.3" fill="none" stroke="#9A8FE0" stroke-opacity="0.19" stroke-width="0.85"/>
<polyline points="471.3,269.1 490.9,274.8 510.5,280.9 530.1,294.5 549.7,319.6 569.3,339.7 588.9,349.4 608.5,354 628.1,356.1 647.7,357.2 667.3,358.2" fill="none" stroke="#9A8FE0" stroke-opacity="0.18" stroke-width="0.85"/>
<polyline points="471.3,260.7 490.9,262.5 510.5,264.6 530.1,271 549.7,300.7 569.3,331 588.9,342.4 608.5,347.5 628.1,349.9 647.7,351 667.3,352.2" fill="none" stroke="#9A8FE0" stroke-opacity="0.16" stroke-width="0.85"/>
<polyline points="471.3,265.9 490.9,268.5 510.5,271.2 530.1,276.9 549.7,290.5 569.3,310.7 588.9,322.1 608.5,327.5 628.1,330.3 647.7,331.8 667.3,333.2" fill="none" stroke="#9A8FE0" stroke-opacity="0.15" stroke-width="0.85"/>
<polyline points="471.3,265.5 490.9,274.6 510.5,285.1 530.1,308.8 549.7,336.6 569.3,349.1 588.9,355 608.5,358.2 628.1,360 647.7,361 667.3,361.9" fill="none" stroke="#9A8FE0" stroke-opacity="0.17" stroke-width="0.85"/>
<polyline points="471.3,261.9 490.9,267.4 510.5,273.4 530.1,289 549.7,328.4 569.3,352.9 588.9,362 608.5,366 628.1,367.8 647.7,368.6 667.3,369.5" fill="none" stroke="#9A8FE0" stroke-opacity="0.14" stroke-width="0.85"/>
<polyline points="471.3,274.2 490.9,279.2 510.5,285.3 530.1,302.3 549.7,337.5 569.3,355.7 588.9,363.2 608.5,366.8 628.1,368.5 647.7,369.4 667.3,370.2" fill="none" stroke="#9A8FE0" stroke-opacity="0.18" stroke-width="0.85"/>
<polyline points="471.3,271.9 490.9,274.2 510.5,276.9 530.1,284.3 549.7,309.4 569.3,334.4 588.9,344.6 608.5,349.4 628.1,351.7 647.7,352.8 667.3,353.9" fill="none" stroke="#9A8FE0" stroke-opacity="0.20" stroke-width="0.85"/>
<polyline points="471.3,275.4 490.9,280.9 510.5,286.2 530.1,295.8 549.7,309.4 569.3,321.2 588.9,328.8 608.5,333.4 628.1,335.8 647.7,337.1 667.3,338.5" fill="none" stroke="#9A8FE0" stroke-opacity="0.18" stroke-width="0.85"/>
<polyline points="471.3,264.1 490.9,270.4 510.5,278.2 530.1,301.1 549.7,338.7 569.3,354 588.9,360.4 608.5,363.7 628.1,365.5 647.7,366.4 667.3,367.2" fill="none" stroke="#9A8FE0" stroke-opacity="0.15" stroke-width="0.85"/>
<polyline points="471.3,269 490.9,271 510.5,273.4 530.1,280.2 549.7,305.2 569.3,330.7 588.9,341 608.5,345.8 628.1,348.2 647.7,349.4 667.3,350.6" fill="none" stroke="#9A8FE0" stroke-opacity="0.16" stroke-width="0.85"/>
<polyline points="471.3,271.4 490.9,277.4 510.5,284.8 530.1,305.6 549.7,341 569.3,356.7 588.9,363.3 608.5,366.7 628.1,368.4 647.7,369.2 667.3,370.1" fill="none" stroke="#9A8FE0" stroke-opacity="0.12" stroke-width="0.85"/>
<polyline points="471.3,272.1 490.9,276.8 510.5,283.7 530.1,310.6 549.7,356.5 569.3,371 588.9,376.9 608.5,379.7 628.1,381.1 647.7,381.7 667.3,382.4" fill="none" stroke="#9A8FE0" stroke-opacity="0.18" stroke-width="0.85"/>
<polyline points="471.3,263.4 490.9,265.4 510.5,267.6 530.1,272.4 549.7,287 569.3,315.3 588.9,329.4 608.5,335.5 628.1,338.3 647.7,339.6 667.3,340.9" fill="none" stroke="#9A8FE0" stroke-opacity="0.19" stroke-width="0.85"/>
<polyline points="471.3,268.5 490.9,270.5 510.5,274.3 530.1,283 549.7,310 569.3,334.5 588.9,345.5 608.5,350 628.1,352.5 647.7,353.8 667.3,355" fill="none" stroke="#FF5A1E" stroke-width="1.4"/>
<circle class="c4" cx="471.3" cy="268.5" r="1.3"/>
<circle class="c4" cx="490.9" cy="270.5" r="1.3"/>
<circle class="c4" cx="510.5" cy="274.3" r="1.3"/>
<circle class="c4" cx="530.1" cy="283" r="1.3"/>
<circle class="c4" cx="549.7" cy="310" r="1.3"/>
<circle class="c4" cx="569.3" cy="334.5" r="1.3"/>
<circle class="c4" cx="588.9" cy="345.5" r="1.3"/>
<circle class="c4" cx="608.5" cy="350" r="1.3"/>
<circle class="c4" cx="628.1" cy="352.5" r="1.3"/>
<circle class="c4" cx="647.7" cy="353.8" r="1.3"/>
<circle class="c4" cx="667.3" cy="355" r="1.3"/>
<polyline points="471.3,269.5 490.9,271.5 510.5,275.3 530.1,285 549.7,312 569.3,336 588.9,346.5 608.5,350.8 628.1,353.1 647.7,354.2 667.3,355.4" fill="none" stroke="#5B73E8" stroke-width="1.4"/>
<circle class="c5" cx="471.3" cy="269.5" r="1.3"/>
<circle class="c5" cx="490.9" cy="271.5" r="1.3"/>
<circle class="c5" cx="510.5" cy="275.3" r="1.3"/>
<circle class="c5" cx="530.1" cy="285" r="1.3"/>
<circle class="c5" cx="549.7" cy="312" r="1.3"/>
<circle class="c5" cx="569.3" cy="336" r="1.3"/>
<circle class="c5" cx="588.9" cy="346.5" r="1.3"/>
<circle class="c5" cx="608.5" cy="350.8" r="1.3"/>
<circle class="c5" cx="628.1" cy="353.1" r="1.3"/>
<circle class="c5" cx="647.7" cy="354.2" r="1.3"/>
<circle class="c5" cx="667.3" cy="355.4" r="1.3"/>
<line x1="459.4" y1="252.3" x2="678.7" y2="252.3" stroke="#ddd" stroke-width="0.9" />
<line x1="678.7" y1="252.3" x2="678.7" y2="402.8" stroke="#ddd" stroke-width="0.9" />
<line x1="459.4" y1="402.8" x2="678.7" y2="402.8" stroke="#bbb" stroke-width="0.9" />
<line x1="459.4" y1="252.3" x2="459.4" y2="402.8" stroke="#bbb" stroke-width="0.9" />
<line x1="471.3" y1="402.8" x2="471.3" y2="404.8" stroke="#555" stroke-width="0.7" />
<text x="471.3" y="417.5" font-size="10.2" text-anchor="middle" font-weight="normal" fill="#000" font-family="Liberation Sans" >0</text>
<line x1="490.9" y1="402.8" x2="490.9" y2="404.8" stroke="#555" stroke-width="0.7" />
<text x="490.9" y="417.5" font-size="10.2" text-anchor="middle" font-weight="normal" fill="#000" font-family="Liberation Sans" >0.25</text>
<line x1="510.5" y1="402.8" x2="510.5" y2="404.8" stroke="#555" stroke-width="0.7" />
<text x="510.5" y="417.5" font-size="10.2" text-anchor="middle" font-weight="normal" fill="#000" font-family="Liberation Sans" >0.5</text>
<line x1="530.1" y1="402.8" x2="530.1" y2="404.8" stroke="#555" stroke-width="0.7" />
<text x="530.1" y="417.5" font-size="10.2" text-anchor="middle" font-weight="normal" fill="#000" font-family="Liberation Sans" >1</text>
<line x1="549.7" y1="402.8" x2="549.7" y2="404.8" stroke="#555" stroke-width="0.7" />
<text x="549.7" y="417.5" font-size="10.2" text-anchor="middle" font-weight="normal" fill="#000" font-family="Liberation Sans" >2</text>
<line x1="569.3" y1="402.8" x2="569.3" y2="404.8" stroke="#555" stroke-width="0.7" />
<text x="569.3" y="417.5" font-size="10.2" text-anchor="middle" font-weight="normal" fill="#000" font-family="Liberation Sans" >4</text>
<line x1="588.9" y1="402.8" x2="588.9" y2="404.8" stroke="#555" stroke-width="0.7" />
<text x="588.9" y="417.5" font-size="10.2" text-anchor="middle" font-weight="normal" fill="#000" font-family="Liberation Sans" >8</text>
<line x1="608.5" y1="402.8" x2="608.5" y2="404.8" stroke="#555" stroke-width="0.7" />
<text x="608.5" y="417.5" font-size="10.2" text-anchor="middle" font-weight="normal" fill="#000" font-family="Liberation Sans" >16</text>
<line x1="628.1" y1="402.8" x2="628.1" y2="404.8" stroke="#555" stroke-width="0.7" />
<text x="628.1" y="417.5" font-size="10.2" text-anchor="middle" font-weight="normal" fill="#000" font-family="Liberation Sans" >32</text>
<line x1="647.7" y1="402.8" x2="647.7" y2="404.8" stroke="#555" stroke-width="0.7" />
<text x="647.7" y="417.5" font-size="10.2" text-anchor="middle" font-weight="normal" fill="#000" font-family="Liberation Sans" >64</text>
<line x1="667.3" y1="402.8" x2="667.3" y2="404.8" stroke="#555" stroke-width="0.7" />
<text x="667.3" y="417.5" font-size="10.2" text-anchor="middle" font-weight="normal" fill="#000" font-family="Liberation Sans" >Inf</text>
<text x="453.9" y="270" font-size="10.2" text-anchor="end" font-weight="normal" fill="#000" font-family="Liberation Sans" >8</text>
<text x="453.9" y="304.5" font-size="10.2" text-anchor="end" font-weight="normal" fill="#000" font-family="Liberation Sans" >6</text>
<text x="453.9" y="338.3" font-size="10.2" text-anchor="end" font-weight="normal" fill="#000" font-family="Liberation Sans" >4</text>
<text x="453.9" y="372.4" font-size="10.2" text-anchor="end" font-weight="normal" fill="#000" font-family="Liberation Sans" >2</text>
<text x="453.9" y="406.5" font-size="10.2" text-anchor="end" font-weight="normal" fill="#000" font-family="Liberation Sans" >0</text>
<line x1="457.4" y1="266.5" x2="459.4" y2="266.5" stroke="#555" stroke-width="0.7" />
<line x1="457.4" y1="305.4" x2="459.4" y2="305.4" stroke="#555" stroke-width="0.7" />
<line x1="457.4" y1="344.2" x2="459.4" y2="344.2" stroke="#555" stroke-width="0.7" />
<line x1="457.4" y1="383.7" x2="459.4" y2="383.7" stroke="#555" stroke-width="0.7" />
<text x="572.5" y="248" font-size="10" text-anchor="middle" font-weight="normal" fill="#000" font-family="Liberation Sans" ><tspan style="font-family:'Liberation Serif'">β</tspan>-chain</text>
<text x="572.5" y="430.8" font-size="10.2" text-anchor="middle" font-weight="normal" fill="#000" font-family="Liberation Sans" >Renyi diversity</text>
<text x="0" y="0" font-size="10.3" text-anchor="middle" fill="#000" transform="translate(435,338.5) rotate(-90)" dominant-baseline="central">Renyi scale</text>
<text x="0" y="247.6" font-size="12" text-anchor="start" font-weight="bold" fill="#000" font-family="Liberation Sans" stroke="#000" stroke-width="0.25">c</text>
<line x1="52.6" y1="271.6" x2="413.1" y2="271.6" stroke="#f4f4f4" stroke-width="0.6" />
<line x1="52.6" y1="301.6" x2="413.1" y2="301.6" stroke="#f4f4f4" stroke-width="0.6" />
<line x1="52.6" y1="331.6" x2="413.1" y2="331.6" stroke="#f4f4f4" stroke-width="0.6" />
<line x1="52.6" y1="361.6" x2="413.1" y2="361.6" stroke="#f4f4f4" stroke-width="0.6" />
<line x1="52.6" y1="391.6" x2="413.1" y2="391.6" stroke="#f4f4f4" stroke-width="0.6" />
<line x1="52.6" y1="286.6" x2="413.1" y2="286.6" stroke="#ebebeb" stroke-width="0.6" />
<line x1="52.6" y1="316.6" x2="413.1" y2="316.6" stroke="#ebebeb" stroke-width="0.6" />
<line x1="52.6" y1="346.6" x2="413.1" y2="346.6" stroke="#ebebeb" stroke-width="0.6" />
<line x1="52.6" y1="376.6" x2="413.1" y2="376.6" stroke="#ebebeb" stroke-width="0.6" />
<line x1="52.6" y1="406.6" x2="413.1" y2="406.6" stroke="#ebebeb" stroke-width="0.6" />
<line x1="75.6" y1="259.6" x2="75.6" y2="414.2" stroke="#ebebeb" stroke-width="0.6" />
<line x1="114.8" y1="259.6" x2="114.8" y2="414.2" stroke="#ebebeb" stroke-width="0.6" />
<line x1="154.1" y1="259.6" x2="154.1" y2="414.2" stroke="#ebebeb" stroke-width="0.6" />
<line x1="193.3" y1="259.6" x2="193.3" y2="414.2" stroke="#ebebeb" stroke-width="0.6" />
<line x1="232.6" y1="259.6" x2="232.6" y2="414.2" stroke="#ebebeb" stroke-width="0.6" />
<line x1="271.8" y1="259.6" x2="271.8" y2="414.2" stroke="#ebebeb" stroke-width="0.6" />
<line x1="311" y1="259.6" x2="311" y2="414.2" stroke="#ebebeb" stroke-width="0.6" />
<line x1="350.3" y1="259.6" x2="350.3" y2="414.2" stroke="#ebebeb" stroke-width="0.6" />
<line x1="389.5" y1="259.6" x2="389.5" y2="414.2" stroke="#ebebeb" stroke-width="0.6" />
<line x1="68" y1="266" x2="68" y2="281.4" stroke="#444" stroke-width="0.6" />
<line x1="68" y1="298.7" x2="68" y2="319.6" stroke="#444" stroke-width="0.6" />
<circle class="c6" cx="71.1" cy="266" r="1.85"/>
<circle class="c6" cx="64.6" cy="319.6" r="1.85"/>
<circle class="c6" cx="70.1" cy="267.9" r="1.85"/>
<circle class="c6" cx="72.1" cy="289.5" r="1.85"/>
<circle class="c6" cx="69.2" cy="309.2" r="1.85"/>
<circle class="c6" cx="70.6" cy="299.3" r="1.85"/>
<circle class="c6" cx="64.4" cy="285.7" r="1.85"/>
<circle class="c6" cx="67.4" cy="275.1" r="1.85"/>
<circle class="c6" cx="64.8" cy="285.1" r="1.85"/>
<circle class="c6" cx="71.2" cy="297.3" r="1.85"/>
<circle class="c6" cx="66.1" cy="299.8" r="1.85"/>
<circle class="c6" cx="67.6" cy="299.6" r="1.85"/>
<circle class="c6" cx="72.6" cy="280.8" r="1.85"/>
<circle class="c6" cx="71.2" cy="296.5" r="1.85"/>
<circle class="c6" cx="72.4" cy="285.1" r="1.85"/>
<circle class="c6" cx="67.6" cy="315.5" r="1.85"/>
<circle class="c6" cx="67.9" cy="298" r="1.85"/>
<circle class="c6" cx="70.1" cy="273.1" r="1.85"/>
<circle class="c6" cx="67.8" cy="297.7" r="1.85"/>
<circle class="c6" cx="66.1" cy="266.8" r="1.85"/>
<circle class="c6" cx="67.1" cy="301.7" r="1.85"/>
<circle class="c6" cx="64.7" cy="284.3" r="1.85"/>
<circle class="c6" cx="66.9" cy="282.5" r="1.85"/>
<circle class="c6" cx="72.5" cy="291.8" r="1.85"/>
<circle class="c6" cx="72.2" cy="293.1" r="1.85"/>
<circle class="c6" cx="69.2" cy="286.8" r="1.85"/>
<circle class="c6" cx="68" cy="305.2" r="1.85"/>
<circle class="c6" cx="66.5" cy="289.7" r="1.85"/>
<circle class="c6" cx="64.2" cy="281.2" r="1.85"/>
<circle class="c6" cx="65.9" cy="298.7" r="1.85"/>
<circle class="c6" cx="70.6" cy="269.6" r="1.85"/>
<circle class="c6" cx="71.4" cy="295" r="1.85"/>
<circle class="c6" cx="66.7" cy="291.4" r="1.85"/>
<circle class="c6" cx="70.6" cy="282.2" r="1.85"/>
<circle class="c6" cx="70.5" cy="297.9" r="1.85"/>
<circle class="c6" cx="69.8" cy="294.5" r="1.85"/>
<circle class="c6" cx="69.5" cy="317.7" r="1.85"/>
<circle class="c6" cx="70.4" cy="287.5" r="1.85"/>
<circle class="c6" cx="66.7" cy="271.1" r="1.85"/>
<circle class="c6" cx="69.9" cy="294.3" r="1.85"/>
<circle class="c6" cx="66" cy="315.1" r="1.85"/>
<circle class="c6" cx="67.9" cy="297.8" r="1.85"/>
<circle class="c6" cx="70.5" cy="287.3" r="1.85"/>
<circle class="c6" cx="69.8" cy="268" r="1.85"/>
<circle class="c6" cx="66.1" cy="297.4" r="1.85"/>
<circle class="c6" cx="72.1" cy="279" r="1.85"/>
<circle class="c6" cx="69.4" cy="284.5" r="1.85"/>
<circle class="c6" cx="68.7" cy="284" r="1.85"/>
<circle class="c6" cx="63.5" cy="266.1" r="1.85"/>
<circle class="c6" cx="68.4" cy="282.2" r="1.85"/>
<circle class="c6" cx="65.7" cy="306.3" r="1.85"/>
<circle class="c6" cx="69.6" cy="285.5" r="1.85"/>
<circle class="c6" cx="67.7" cy="270.1" r="1.85"/>
<circle class="c6" cx="70.9" cy="288.7" r="1.85"/>
<circle class="c6" cx="69.4" cy="297.2" r="1.85"/>
<circle class="c6" cx="70.7" cy="289.9" r="1.85"/>
<circle class="c6" cx="67.4" cy="398.5" r="1.85"/>
<rect x="61.7" y="281.4" width="12.6" height="17.3" fill="none" stroke="#8a8a8a" stroke-width="0.7"/>
<line x1="61.7" y1="290.7" x2="74.3" y2="290.7" stroke="#222" stroke-width="0.9" />
<line x1="83.2" y1="280" x2="83.2" y2="300.5" stroke="#444" stroke-width="0.6" />
<line x1="83.2" y1="316.2" x2="83.2" y2="333.5" stroke="#444" stroke-width="0.6" />
<circle class="c7" cx="83.5" cy="280" r="1.85"/>
<circle class="c7" cx="82.9" cy="333.5" r="1.85"/>
<circle class="c7" cx="81.9" cy="330" r="1.85"/>
<circle class="c7" cx="85.5" cy="280.8" r="1.85"/>
<circle class="c7" cx="84" cy="322.2" r="1.85"/>
<circle class="c7" cx="78.9" cy="299.3" r="1.85"/>
<circle class="c7" cx="80.9" cy="331.8" r="1.85"/>
<circle class="c7" cx="82.8" cy="311.4" r="1.85"/>
<circle class="c7" cx="87" cy="288.1" r="1.85"/>
<circle class="c7" cx="86.8" cy="312.8" r="1.85"/>
<circle class="c7" cx="83.6" cy="289.8" r="1.85"/>
<circle class="c7" cx="78.7" cy="310.3" r="1.85"/>
<circle class="c7" cx="85.8" cy="324.6" r="1.85"/>
<circle class="c7" cx="82.5" cy="300.4" r="1.85"/>
<circle class="c7" cx="83.9" cy="307.4" r="1.85"/>
<circle class="c7" cx="85.1" cy="298.7" r="1.85"/>
<circle class="c7" cx="84.4" cy="290.7" r="1.85"/>
<circle class="c7" cx="83" cy="307.9" r="1.85"/>
<circle class="c7" cx="87" cy="301.4" r="1.85"/>
<circle class="c7" cx="82.1" cy="305.5" r="1.85"/>
<circle class="c7" cx="82.2" cy="303.5" r="1.85"/>
<circle class="c7" cx="86.4" cy="307.8" r="1.85"/>
<circle class="c7" cx="80.4" cy="310.1" r="1.85"/>
<circle class="c7" cx="81.3" cy="298.4" r="1.85"/>
<circle class="c7" cx="86.2" cy="316.2" r="1.85"/>
<circle class="c7" cx="79.2" cy="304.9" r="1.85"/>
<circle class="c7" cx="86.3" cy="302.3" r="1.85"/>
<circle class="c7" cx="85" cy="319.8" r="1.85"/>
<circle class="c7" cx="82.6" cy="310.1" r="1.85"/>
<circle class="c7" cx="81.2" cy="309.1" r="1.85"/>
<circle class="c7" cx="85.8" cy="309.6" r="1.85"/>
<circle class="c7" cx="87" cy="328.8" r="1.85"/>
<circle class="c7" cx="79.9" cy="313.3" r="1.85"/>
<circle class="c7" cx="83" cy="296.3" r="1.85"/>
<circle class="c7" cx="83.7" cy="309.9" r="1.85"/>
<circle class="c7" cx="83.2" cy="281.4" r="1.85"/>
<circle class="c7" cx="81.6" cy="324" r="1.85"/>
<circle class="c7" cx="80" cy="314.5" r="1.85"/>
<circle class="c7" cx="84" cy="302.2" r="1.85"/>
<circle class="c7" cx="86.1" cy="291.1" r="1.85"/>
<circle class="c7" cx="79.2" cy="310.4" r="1.85"/>
<circle class="c7" cx="80.7" cy="319.8" r="1.85"/>
<circle class="c7" cx="86.1" cy="304.1" r="1.85"/>
<circle class="c7" cx="85.9" cy="315.8" r="1.85"/>
<circle class="c7" cx="84.7" cy="315.6" r="1.85"/>
<circle class="c7" cx="78.8" cy="323.8" r="1.85"/>
<circle class="c7" cx="85.2" cy="315.9" r="1.85"/>
<circle class="c7" cx="87.6" cy="307" r="1.85"/>
<circle class="c7" cx="87.8" cy="316" r="1.85"/>
<circle class="c7" cx="85.1" cy="305" r="1.85"/>
<circle class="c7" cx="79" cy="302.4" r="1.85"/>
<circle class="c7" cx="86.3" cy="294.9" r="1.85"/>
<circle class="c7" cx="80.6" cy="312.8" r="1.85"/>
<circle class="c7" cx="84.5" cy="316.2" r="1.85"/>
<circle class="c7" cx="87.4" cy="297.9" r="1.85"/>
<circle class="c7" cx="85.2" cy="327.9" r="1.85"/>
<circle class="c7" cx="79.8" cy="304.7" r="1.85"/>
<circle class="c7" cx="81.3" cy="316" r="1.85"/>
<circle class="c7" cx="87" cy="310" r="1.85"/>
<circle class="c7" cx="80" cy="310.6" r="1.85"/>
<circle class="c7" cx="84.2" cy="287.7" r="1.85"/>
<circle class="c7" cx="82.4" cy="312.4" r="1.85"/>
<circle class="c7" cx="80.1" cy="308.9" r="1.85"/>
<circle class="c7" cx="84.3" cy="305.2" r="1.85"/>
<circle class="c7" cx="81.4" cy="342" r="1.85"/>
<circle class="c7" cx="81.6" cy="357.2" r="1.85"/>
<rect x="76.9" y="300.5" width="12.6" height="15.7" fill="none" stroke="#8a8a8a" stroke-width="0.7"/>
<line x1="76.9" y1="306.7" x2="89.5" y2="306.7" stroke="#222" stroke-width="0.9" />
<line x1="107.2" y1="294.2" x2="107.2" y2="307.6" stroke="#444" stroke-width="0.6" />
<line x1="107.2" y1="314.7" x2="107.2" y2="322.8" stroke="#444" stroke-width="0.6" />
<circle class="c6" cx="104.1" cy="294.2" r="1.85"/>
<circle class="c6" cx="104.5" cy="322.8" r="1.85"/>
<circle class="c6" cx="102.9" cy="296.7" r="1.85"/>
<circle class="c6" cx="104.8" cy="310.7" r="1.85"/>
<circle class="c6" cx="103.4" cy="311.9" r="1.85"/>
<circle class="c6" cx="106.3" cy="314.3" r="1.85"/>
<circle class="c6" cx="111.6" cy="308" r="1.85"/>
<circle class="c6" cx="106" cy="306.9" r="1.85"/>
<circle class="c6" cx="105.5" cy="303.1" r="1.85"/>
<circle class="c6" cx="106.9" cy="317.9" r="1.85"/>
<circle class="c6" cx="105.2" cy="306" r="1.85"/>
<circle class="c6" cx="109.4" cy="306.1" r="1.85"/>
<circle class="c6" cx="109.2" cy="317.5" r="1.85"/>
<circle class="c6" cx="104.1" cy="309.3" r="1.85"/>
<circle class="c6" cx="104.9" cy="312.8" r="1.85"/>
<circle class="c6" cx="108.8" cy="312.7" r="1.85"/>
<circle class="c6" cx="111.3" cy="307.3" r="1.85"/>
<circle class="c6" cx="108.6" cy="307.3" r="1.85"/>
<circle class="c6" cx="106.6" cy="311.8" r="1.85"/>
<circle class="c6" cx="111.6" cy="313.8" r="1.85"/>
<circle class="c6" cx="102.7" cy="309.9" r="1.85"/>
<circle class="c6" cx="103.2" cy="314.7" r="1.85"/>
<circle class="c6" cx="109.8" cy="307.5" r="1.85"/>
<circle class="c6" cx="106.4" cy="314.4" r="1.85"/>
<circle class="c6" cx="103.1" cy="306.4" r="1.85"/>
<circle class="c6" cx="107.7" cy="314.5" r="1.85"/>
<circle class="c6" cx="111.7" cy="297.8" r="1.85"/>
<circle class="c6" cx="107.4" cy="312" r="1.85"/>
<circle class="c6" cx="105.9" cy="309.3" r="1.85"/>
<circle class="c6" cx="103.5" cy="312" r="1.85"/>
<circle class="c6" cx="103.3" cy="310.3" r="1.85"/>
<circle class="c6" cx="110.9" cy="313.5" r="1.85"/>
<circle class="c6" cx="107.2" cy="298.1" r="1.85"/>
<circle class="c6" cx="111.2" cy="313.6" r="1.85"/>
<circle class="c6" cx="103.1" cy="301.8" r="1.85"/>
<circle class="c6" cx="104.9" cy="299.3" r="1.85"/>
<circle class="c6" cx="103.1" cy="308.3" r="1.85"/>
<circle class="c6" cx="106.3" cy="309" r="1.85"/>
<circle class="c6" cx="103.2" cy="313.9" r="1.85"/>
<circle class="c6" cx="105" cy="313" r="1.85"/>
<circle class="c6" cx="106.4" cy="310.9" r="1.85"/>
<circle class="c6" cx="105.5" cy="318.5" r="1.85"/>
<circle class="c6" cx="103.1" cy="310.9" r="1.85"/>
<circle class="c6" cx="103" cy="308.7" r="1.85"/>
<circle class="c6" cx="111.6" cy="310.3" r="1.85"/>
<circle class="c6" cx="104.3" cy="313.9" r="1.85"/>
<circle class="c6" cx="107.3" cy="309.4" r="1.85"/>
<circle class="c6" cx="106.3" cy="308.7" r="1.85"/>
<circle class="c6" cx="107.5" cy="309.3" r="1.85"/>
<circle class="c6" cx="103.4" cy="307.8" r="1.85"/>
<circle class="c6" cx="105.5" cy="316.3" r="1.85"/>
<circle class="c6" cx="103.6" cy="319.1" r="1.85"/>
<circle class="c6" cx="107.6" cy="303.6" r="1.85"/>
<circle class="c6" cx="111.1" cy="315" r="1.85"/>
<circle class="c6" cx="108.1" cy="305.7" r="1.85"/>
<circle class="c6" cx="110.5" cy="299.5" r="1.85"/>
<circle class="c6" cx="106.1" cy="398.5" r="1.85"/>
<rect x="100.9" y="307.6" width="12.6" height="7.1" fill="none" stroke="#8a8a8a" stroke-width="0.7"/>
<line x1="100.9" y1="311" x2="113.5" y2="311" stroke="#222" stroke-width="0.9" />
<line x1="122.4" y1="295.7" x2="122.4" y2="304.6" stroke="#444" stroke-width="0.6" />
<line x1="122.4" y1="317" x2="122.4" y2="334.4" stroke="#444" stroke-width="0.6" />
<circle class="c7" cx="123.6" cy="295.7" r="1.85"/>
<circle class="c7" cx="125.2" cy="334.4" r="1.85"/>
<circle class="c7" cx="121.3" cy="312.4" r="1.85"/>
<circle class="c7" cx="117.9" cy="296.9" r="1.85"/>
<circle class="c7" cx="122.5" cy="310.2" r="1.85"/>
<circle class="c7" cx="123.2" cy="318.6" r="1.85"/>
<circle class="c7" cx="119.5" cy="308.5" r="1.85"/>
<circle class="c7" cx="121.4" cy="314.2" r="1.85"/>
<circle class="c7" cx="120.8" cy="319.7" r="1.85"/>
<circle class="c7" cx="118.1" cy="305.6" r="1.85"/>
<circle class="c7" cx="120.7" cy="305.6" r="1.85"/>
<circle class="c7" cx="121.4" cy="311.8" r="1.85"/>
<circle class="c7" cx="122.2" cy="305.4" r="1.85"/>
<circle class="c7" cx="124.3" cy="304.5" r="1.85"/>
<circle class="c7" cx="121.5" cy="308.1" r="1.85"/>
<circle class="c7" cx="126.9" cy="305.8" r="1.85"/>
<circle class="c7" cx="125.3" cy="308.5" r="1.85"/>
<circle class="c7" cx="126.3" cy="323.8" r="1.85"/>
<circle class="c7" cx="124.2" cy="325.8" r="1.85"/>
<circle class="c7" cx="124" cy="324.2" r="1.85"/>
<circle class="c7" cx="122.8" cy="314.7" r="1.85"/>
<circle class="c7" cx="125.2" cy="296.3" r="1.85"/>
<circle class="c7" cx="121.2" cy="299.6" r="1.85"/>
<circle class="c7" cx="123.3" cy="314.7" r="1.85"/>
<circle class="c7" cx="124.1" cy="306.2" r="1.85"/>
<circle class="c7" cx="122.6" cy="306.7" r="1.85"/>
<circle class="c7" cx="120.5" cy="313" r="1.85"/>
<circle class="c7" cx="118.6" cy="305.4" r="1.85"/>
<circle class="c7" cx="118.6" cy="323.8" r="1.85"/>
<circle class="c7" cx="121.1" cy="305.2" r="1.85"/>
<circle class="c7" cx="123.2" cy="309" r="1.85"/>
<circle class="c7" cx="124.8" cy="333" r="1.85"/>
<circle class="c7" cx="124.4" cy="303.7" r="1.85"/>
<circle class="c7" cx="120.7" cy="309.1" r="1.85"/>
<circle class="c7" cx="126.4" cy="304.8" r="1.85"/>
<circle class="c7" cx="120.4" cy="298" r="1.85"/>
<circle class="c7" cx="124.4" cy="304.4" r="1.85"/>
<circle class="c7" cx="118.5" cy="304.1" r="1.85"/>
<circle class="c7" cx="124.8" cy="302.2" r="1.85"/>
<circle class="c7" cx="124" cy="329" r="1.85"/>
<circle class="c7" cx="126.6" cy="308.5" r="1.85"/>
<circle class="c7" cx="126.1" cy="322" r="1.85"/>
<circle class="c7" cx="124.2" cy="310.1" r="1.85"/>
<circle class="c7" cx="125.6" cy="332.7" r="1.85"/>
<circle class="c7" cx="124.6" cy="296.1" r="1.85"/>
<circle class="c7" cx="123.5" cy="304.4" r="1.85"/>
<circle class="c7" cx="119.8" cy="321.3" r="1.85"/>
<circle class="c7" cx="122.6" cy="316.7" r="1.85"/>
<circle class="c7" cx="126.1" cy="311.8" r="1.85"/>
<circle class="c7" cx="120" cy="315.5" r="1.85"/>
<circle class="c7" cx="126.8" cy="307.3" r="1.85"/>
<circle class="c7" cx="122.8" cy="307.1" r="1.85"/>
<circle class="c7" cx="121.5" cy="302.9" r="1.85"/>
<circle class="c7" cx="117.9" cy="318.8" r="1.85"/>
<circle class="c7" cx="121.4" cy="307.7" r="1.85"/>
<circle class="c7" cx="119.5" cy="330.2" r="1.85"/>
<circle class="c7" cx="123.8" cy="325.1" r="1.85"/>
<circle class="c7" cx="126.1" cy="306.4" r="1.85"/>
<circle class="c7" cx="126.2" cy="322.6" r="1.85"/>
<circle class="c7" cx="123.5" cy="306.7" r="1.85"/>
<circle class="c7" cx="121.4" cy="313.5" r="1.85"/>
<circle class="c7" cx="118.8" cy="318.3" r="1.85"/>
<circle class="c7" cx="124.2" cy="319.9" r="1.85"/>
<circle class="c7" cx="122.9" cy="297.6" r="1.85"/>
<circle class="c7" cx="123.3" cy="342" r="1.85"/>
<circle class="c7" cx="121.9" cy="357.2" r="1.85"/>
<rect x="116.1" y="304.6" width="12.6" height="12.4" fill="none" stroke="#8a8a8a" stroke-width="0.7"/>
<line x1="116.1" y1="311" x2="128.7" y2="311" stroke="#222" stroke-width="0.9" />
<line x1="146.5" y1="319.2" x2="146.5" y2="333.5" stroke="#444" stroke-width="0.6" />
<line x1="146.5" y1="339.7" x2="146.5" y2="347.7" stroke="#444" stroke-width="0.6" />
<circle class="c6" cx="142.7" cy="319.2" r="1.85"/>
<circle class="c6" cx="145.2" cy="347.7" r="1.85"/>
<circle class="c6" cx="149.3" cy="321.5" r="1.85"/>
<circle class="c6" cx="141.9" cy="337.4" r="1.85"/>
<circle class="c6" cx="148.9" cy="340.4" r="1.85"/>
<circle class="c6" cx="145.2" cy="337" r="1.85"/>
<circle class="c6" cx="142" cy="346.2" r="1.85"/>
<circle class="c6" cx="144.2" cy="330" r="1.85"/>
<circle class="c6" cx="146.1" cy="336.8" r="1.85"/>
<circle class="c6" cx="145.4" cy="340.9" r="1.85"/>
<circle class="c6" cx="146.6" cy="337.3" r="1.85"/>
<circle class="c6" cx="142.4" cy="340.2" r="1.85"/>
<circle class="c6" cx="143.9" cy="334.2" r="1.85"/>
<circle class="c6" cx="150.8" cy="327.1" r="1.85"/>
<circle class="c6" cx="146" cy="334.7" r="1.85"/>
<circle class="c6" cx="146.2" cy="326.4" r="1.85"/>
<circle class="c6" cx="142.7" cy="324.9" r="1.85"/>
<circle class="c6" cx="144.4" cy="336.5" r="1.85"/>
<circle class="c6" cx="150.7" cy="347.2" r="1.85"/>
<circle class="c6" cx="148.2" cy="338.8" r="1.85"/>
<circle class="c6" cx="146.6" cy="320.8" r="1.85"/>
<circle class="c6" cx="142.4" cy="337.8" r="1.85"/>
<circle class="c6" cx="145.5" cy="342.1" r="1.85"/>
<circle class="c6" cx="149" cy="334.7" r="1.85"/>
<circle class="c6" cx="145.9" cy="334.1" r="1.85"/>
<circle class="c6" cx="147.3" cy="337.3" r="1.85"/>
<circle class="c6" cx="150.2" cy="338.2" r="1.85"/>
<circle class="c6" cx="147.8" cy="323.2" r="1.85"/>
<circle class="c6" cx="147.7" cy="344.4" r="1.85"/>
<circle class="c6" cx="142.2" cy="347.2" r="1.85"/>
<circle class="c6" cx="142.1" cy="320" r="1.85"/>
<circle class="c6" cx="149" cy="334.1" r="1.85"/>
<circle class="c6" cx="145.7" cy="334.8" r="1.85"/>
<circle class="c6" cx="149.9" cy="336.3" r="1.85"/>
<circle class="c6" cx="149.5" cy="324.6" r="1.85"/>
<circle class="c6" cx="150.3" cy="336" r="1.85"/>
<circle class="c6" cx="145.4" cy="330.5" r="1.85"/>
<circle class="c6" cx="151.1" cy="337.2" r="1.85"/>
<circle class="c6" cx="148.8" cy="337.7" r="1.85"/>
<circle class="c6" cx="150.1" cy="339.5" r="1.85"/>
<circle class="c6" cx="143.2" cy="339.8" r="1.85"/>
<circle class="c6" cx="149.1" cy="344.4" r="1.85"/>
<circle class="c6" cx="145.8" cy="334.2" r="1.85"/>
<circle class="c6" cx="150.8" cy="335.7" r="1.85"/>
<circle class="c6" cx="151" cy="321" r="1.85"/>
<circle class="c6" cx="143.9" cy="335.3" r="1.85"/>
<circle class="c6" cx="145.8" cy="337.8" r="1.85"/>
<circle class="c6" cx="144.4" cy="343" r="1.85"/>
<circle class="c6" cx="146.2" cy="335.6" r="1.85"/>
<circle class="c6" cx="144.5" cy="342.5" r="1.85"/>
<circle class="c6" cx="148" cy="336.1" r="1.85"/>
<circle class="c6" cx="143" cy="337.6" r="1.85"/>
<circle class="c6" cx="143.4" cy="335.2" r="1.85"/>
<circle class="c6" cx="146.1" cy="336.5" r="1.85"/>
<circle class="c6" cx="142.6" cy="342.7" r="1.85"/>
<circle class="c6" cx="145.4" cy="339.3" r="1.85"/>
<circle class="c6" cx="148.1" cy="353.5" r="1.85"/>
<circle class="c6" cx="148" cy="398.5" r="1.85"/>
<rect x="140.2" y="333.5" width="12.6" height="6.2" fill="none" stroke="#8a8a8a" stroke-width="0.7"/>
<line x1="140.2" y1="337" x2="152.8" y2="337" stroke="#222" stroke-width="0.9" />
<line x1="161.7" y1="311.2" x2="161.7" y2="325.4" stroke="#444" stroke-width="0.6" />
<line x1="161.7" y1="335.2" x2="161.7" y2="342.4" stroke="#444" stroke-width="0.6" />
<circle class="c7" cx="165.3" cy="311.2" r="1.85"/>
<circle class="c7" cx="163.7" cy="342.4" r="1.85"/>
<circle class="c7" cx="157.7" cy="324.8" r="1.85"/>
<circle class="c7" cx="163" cy="334.4" r="1.85"/>
<circle class="c7" cx="164.8" cy="335.2" r="1.85"/>
<circle class="c7" cx="158.2" cy="329.6" r="1.85"/>
<circle class="c7" cx="164" cy="332.8" r="1.85"/>
<circle class="c7" cx="159.5" cy="333" r="1.85"/>
<circle class="c7" cx="159.8" cy="330.5" r="1.85"/>
<circle class="c7" cx="157.1" cy="339.3" r="1.85"/>
<circle class="c7" cx="164.1" cy="326.5" r="1.85"/>
<circle class="c7" cx="161.8" cy="322.4" r="1.85"/>
<circle class="c7" cx="165.4" cy="330.1" r="1.85"/>
<circle class="c7" cx="161.4" cy="312" r="1.85"/>
<circle class="c7" cx="158.5" cy="331" r="1.85"/>
<circle class="c7" cx="159.1" cy="330.7" r="1.85"/>
<circle class="c7" cx="159.5" cy="324.8" r="1.85"/>
<circle class="c7" cx="165.8" cy="332.3" r="1.85"/>
<circle class="c7" cx="159" cy="333" r="1.85"/>
<circle class="c7" cx="157.9" cy="330.3" r="1.85"/>
<circle class="c7" cx="160.3" cy="315.6" r="1.85"/>
<circle class="c7" cx="157.8" cy="330.3" r="1.85"/>
<circle class="c7" cx="161" cy="329.2" r="1.85"/>
<circle class="c7" cx="162.8" cy="325.6" r="1.85"/>
<circle class="c7" cx="163.1" cy="329.8" r="1.85"/>
<circle class="c7" cx="158.7" cy="312.9" r="1.85"/>
<circle class="c7" cx="158.4" cy="330.6" r="1.85"/>
<circle class="c7" cx="161.6" cy="312.6" r="1.85"/>
<circle class="c7" cx="163.4" cy="342.3" r="1.85"/>
<circle class="c7" cx="161.2" cy="327" r="1.85"/>
<circle class="c7" cx="162.4" cy="335.3" r="1.85"/>
<circle class="c7" cx="165.5" cy="332.6" r="1.85"/>
<circle class="c7" cx="158.4" cy="322.3" r="1.85"/>
<circle class="c7" cx="159.5" cy="336.2" r="1.85"/>
<circle class="c7" cx="161.6" cy="314.9" r="1.85"/>
<circle class="c7" cx="162" cy="328.8" r="1.85"/>
<circle class="c7" cx="165.4" cy="330.9" r="1.85"/>
<circle class="c7" cx="162.2" cy="329.8" r="1.85"/>
<circle class="c7" cx="163.2" cy="326.3" r="1.85"/>
<circle class="c7" cx="160.9" cy="326.8" r="1.85"/>
<circle class="c7" cx="164.3" cy="336.1" r="1.85"/>
<circle class="c7" cx="164.8" cy="333.1" r="1.85"/>
<circle class="c7" cx="159.8" cy="323.7" r="1.85"/>
<circle class="c7" cx="158.1" cy="338.6" r="1.85"/>
<circle class="c7" cx="159.5" cy="331.6" r="1.85"/>
<circle class="c7" cx="160.4" cy="328" r="1.85"/>
<circle class="c7" cx="165.3" cy="337.1" r="1.85"/>
<circle class="c7" cx="159.5" cy="335.7" r="1.85"/>
<circle class="c7" cx="162.9" cy="325.9" r="1.85"/>
<circle class="c7" cx="163" cy="319.8" r="1.85"/>
<circle class="c7" cx="165.9" cy="325.8" r="1.85"/>
<circle class="c7" cx="158.2" cy="337.5" r="1.85"/>
<circle class="c7" cx="164.2" cy="335.2" r="1.85"/>
<circle class="c7" cx="160.2" cy="324.9" r="1.85"/>
<circle class="c7" cx="158" cy="318.9" r="1.85"/>
<circle class="c7" cx="162.9" cy="324.1" r="1.85"/>
<circle class="c7" cx="164.8" cy="335.4" r="1.85"/>
<circle class="c7" cx="162.4" cy="332.1" r="1.85"/>
<circle class="c7" cx="157.5" cy="326.1" r="1.85"/>
<circle class="c7" cx="166" cy="331.8" r="1.85"/>
<circle class="c7" cx="161.2" cy="357.2" r="1.85"/>
<rect x="155.4" y="325.4" width="12.6" height="9.8" fill="none" stroke="#8a8a8a" stroke-width="0.7"/>
<line x1="155.4" y1="332" x2="168" y2="332" stroke="#222" stroke-width="0.9" />
<line x1="185.7" y1="337" x2="185.7" y2="345" stroke="#444" stroke-width="0.6" />
<line x1="185.7" y1="351.3" x2="185.7" y2="358.4" stroke="#444" stroke-width="0.6" />
<circle class="c6" cx="185.8" cy="337" r="1.85"/>
<circle class="c6" cx="187.7" cy="358.4" r="1.85"/>
<circle class="c6" cx="186.8" cy="345.6" r="1.85"/>
<circle class="c6" cx="188.4" cy="349.5" r="1.85"/>
<circle class="c6" cx="182.6" cy="350.5" r="1.85"/>
<circle class="c6" cx="185.7" cy="346.9" r="1.85"/>
<circle class="c6" cx="181.1" cy="350.9" r="1.85"/>
<circle class="c6" cx="188.4" cy="357.3" r="1.85"/>
<circle class="c6" cx="188.2" cy="344.8" r="1.85"/>
<circle class="c6" cx="188.8" cy="346.4" r="1.85"/>
<circle class="c6" cx="181.5" cy="348.6" r="1.85"/>
<circle class="c6" cx="186" cy="345.7" r="1.85"/>
<circle class="c6" cx="185.5" cy="337.8" r="1.85"/>
<circle class="c6" cx="182.2" cy="353.4" r="1.85"/>
<circle class="c6" cx="183" cy="349.8" r="1.85"/>
<circle class="c6" cx="190.1" cy="348.4" r="1.85"/>
<circle class="c6" cx="189" cy="351.2" r="1.85"/>
<circle class="c6" cx="183.3" cy="342.9" r="1.85"/>
<circle class="c6" cx="188.7" cy="348.5" r="1.85"/>
<circle class="c6" cx="187.1" cy="353.1" r="1.85"/>
<circle class="c6" cx="184.7" cy="348.2" r="1.85"/>
<circle class="c6" cx="187.1" cy="352.8" r="1.85"/>
<circle class="c6" cx="183.2" cy="338" r="1.85"/>
<circle class="c6" cx="183.6" cy="350.1" r="1.85"/>
<circle class="c6" cx="181.2" cy="344.7" r="1.85"/>
<circle class="c6" cx="187.2" cy="350.9" r="1.85"/>
<circle class="c6" cx="186.5" cy="347.8" r="1.85"/>
<circle class="c6" cx="188" cy="354.2" r="1.85"/>
<circle class="c6" cx="185.8" cy="343.9" r="1.85"/>
<circle class="c6" cx="185.1" cy="344.1" r="1.85"/>
<circle class="c6" cx="183.9" cy="349.8" r="1.85"/>
<circle class="c6" cx="187.9" cy="344.7" r="1.85"/>
<circle class="c6" cx="184.5" cy="349.4" r="1.85"/>
<circle class="c6" cx="186.6" cy="344.8" r="1.85"/>
<circle class="c6" cx="188.1" cy="351.6" r="1.85"/>
<circle class="c6" cx="185.2" cy="345.6" r="1.85"/>
<circle class="c6" cx="187.4" cy="348.9" r="1.85"/>
<circle class="c6" cx="181.7" cy="351.7" r="1.85"/>
<circle class="c6" cx="183.5" cy="344.8" r="1.85"/>
<circle class="c6" cx="188.9" cy="344.1" r="1.85"/>
<circle class="c6" cx="182.5" cy="345.3" r="1.85"/>
<circle class="c6" cx="181.6" cy="344.7" r="1.85"/>
<circle class="c6" cx="181.3" cy="352.5" r="1.85"/>
<circle class="c6" cx="188.2" cy="341.1" r="1.85"/>
<circle class="c6" cx="182.1" cy="350.5" r="1.85"/>
<circle class="c6" cx="185.3" cy="352.2" r="1.85"/>
<circle class="c6" cx="185.2" cy="350.5" r="1.85"/>
<circle class="c6" cx="188.5" cy="347.6" r="1.85"/>
<circle class="c6" cx="185.5" cy="351.2" r="1.85"/>
<circle class="c6" cx="185.9" cy="349.1" r="1.85"/>
<circle class="c6" cx="181.3" cy="355.6" r="1.85"/>
<circle class="c6" cx="188.4" cy="350.9" r="1.85"/>
<circle class="c6" cx="188.2" cy="350.4" r="1.85"/>
<circle class="c6" cx="186.9" cy="343" r="1.85"/>
<circle class="c6" cx="188.8" cy="355.1" r="1.85"/>
<circle class="c6" cx="186.8" cy="349.6" r="1.85"/>
<circle class="c6" cx="186.6" cy="371.8" r="1.85"/>
<circle class="c6" cx="187.1" cy="398.5" r="1.85"/>
<rect x="179.4" y="345" width="12.6" height="6.3" fill="none" stroke="#8a8a8a" stroke-width="0.7"/>
<line x1="179.4" y1="348" x2="192" y2="348" stroke="#222" stroke-width="0.9" />
<line x1="200.9" y1="323.7" x2="200.9" y2="337" stroke="#444" stroke-width="0.6" />
<line x1="200.9" y1="346.3" x2="200.9" y2="354" stroke="#444" stroke-width="0.6" />
<circle class="c7" cx="197.1" cy="323.7" r="1.85"/>
<circle class="c7" cx="199.5" cy="354" r="1.85"/>
<circle class="c7" cx="198.2" cy="337.6" r="1.85"/>
<circle class="c7" cx="202.6" cy="337.9" r="1.85"/>
<circle class="c7" cx="200.6" cy="337.8" r="1.85"/>
<circle class="c7" cx="197.2" cy="337" r="1.85"/>
<circle class="c7" cx="204.3" cy="339.8" r="1.85"/>
<circle class="c7" cx="199.3" cy="334.1" r="1.85"/>
<circle class="c7" cx="202.6" cy="345.9" r="1.85"/>
<circle class="c7" cx="200.5" cy="350.5" r="1.85"/>
<circle class="c7" cx="204.3" cy="340.7" r="1.85"/>
<circle class="c7" cx="196.9" cy="340.8" r="1.85"/>
<circle class="c7" cx="198.4" cy="341.2" r="1.85"/>
<circle class="c7" cx="198.9" cy="350.6" r="1.85"/>
<circle class="c7" cx="198.8" cy="350.5" r="1.85"/>
<circle class="c7" cx="203.9" cy="352.5" r="1.85"/>
<circle class="c7" cx="200.9" cy="351.6" r="1.85"/>
<circle class="c7" cx="199.5" cy="343.1" r="1.85"/>
<circle class="c7" cx="201" cy="326.1" r="1.85"/>
<circle class="c7" cx="204.1" cy="333.4" r="1.85"/>
<circle class="c7" cx="201.6" cy="340" r="1.85"/>
<circle class="c7" cx="200.5" cy="343.3" r="1.85"/>
<circle class="c7" cx="202.4" cy="346.8" r="1.85"/>
<circle class="c7" cx="202" cy="326.9" r="1.85"/>
<circle class="c7" cx="200.1" cy="337.9" r="1.85"/>
<circle class="c7" cx="200.2" cy="334.4" r="1.85"/>
<circle class="c7" cx="197.5" cy="339.7" r="1.85"/>
<circle class="c7" cx="200.4" cy="338.4" r="1.85"/>
<circle class="c7" cx="204.4" cy="338" r="1.85"/>
<circle class="c7" cx="199.1" cy="342.1" r="1.85"/>
<circle class="c7" cx="199.7" cy="352.1" r="1.85"/>
<circle class="c7" cx="201.9" cy="345.6" r="1.85"/>
<circle class="c7" cx="201.8" cy="338.4" r="1.85"/>
<circle class="c7" cx="197.9" cy="337.5" r="1.85"/>
<circle class="c7" cx="200.4" cy="328.5" r="1.85"/>
<circle class="c7" cx="203.1" cy="344.5" r="1.85"/>
<circle class="c7" cx="196.7" cy="345.5" r="1.85"/>
<circle class="c7" cx="197.3" cy="332.1" r="1.85"/>
<circle class="c7" cx="203.3" cy="341" r="1.85"/>
<circle class="c7" cx="204.6" cy="344.7" r="1.85"/>
<circle class="c7" cx="196.9" cy="339.7" r="1.85"/>
<circle class="c7" cx="197.1" cy="346.4" r="1.85"/>
<circle class="c7" cx="202.1" cy="335.8" r="1.85"/>
<circle class="c7" cx="198.9" cy="331.2" r="1.85"/>
<circle class="c7" cx="202.4" cy="343.8" r="1.85"/>
<circle class="c7" cx="196.6" cy="340" r="1.85"/>
<circle class="c7" cx="200.5" cy="351.5" r="1.85"/>
<circle class="c7" cx="197.8" cy="343.3" r="1.85"/>
<circle class="c7" cx="199.4" cy="341.8" r="1.85"/>
<circle class="c7" cx="202.7" cy="343" r="1.85"/>
<circle class="c7" cx="201" cy="350" r="1.85"/>
<circle class="c7" cx="204.2" cy="341.8" r="1.85"/>
<circle class="c7" cx="204.1" cy="341.1" r="1.85"/>
<circle class="c7" cx="202" cy="339.6" r="1.85"/>
<circle class="c7" cx="204.1" cy="337.7" r="1.85"/>
<circle class="c7" cx="198" cy="335.6" r="1.85"/>
<circle class="c7" cx="200.7" cy="337.8" r="1.85"/>
<circle class="c7" cx="199.3" cy="345.7" r="1.85"/>
<circle class="c7" cx="202.1" cy="337.9" r="1.85"/>
<circle class="c7" cx="197.3" cy="345.8" r="1.85"/>
<circle class="c7" cx="202.5" cy="357" r="1.85"/>
<rect x="194.6" y="337" width="12.6" height="9.3" fill="none" stroke="#8a8a8a" stroke-width="0.7"/>
<line x1="194.6" y1="343" x2="207.2" y2="343" stroke="#222" stroke-width="0.9" />
<line x1="225" y1="347.7" x2="225" y2="357.5" stroke="#444" stroke-width="0.6" />
<line x1="225" y1="363.8" x2="225" y2="371.8" stroke="#444" stroke-width="0.6" />
<circle class="c6" cx="224.6" cy="347.7" r="1.85"/>
<circle class="c6" cx="225.4" cy="371.8" r="1.85"/>
<circle class="c6" cx="221.2" cy="362.9" r="1.85"/>
<circle class="c6" cx="227.2" cy="364.1" r="1.85"/>
<circle class="c6" cx="223.5" cy="351.6" r="1.85"/>
<circle class="c6" cx="224.7" cy="359.3" r="1.85"/>
<circle class="c6" cx="225.2" cy="360.1" r="1.85"/>
<circle class="c6" cx="228.1" cy="365.7" r="1.85"/>
<circle class="c6" cx="223.1" cy="361.4" r="1.85"/>
<circle class="c6" cx="225.5" cy="361.4" r="1.85"/>
<circle class="c6" cx="225.9" cy="359.3" r="1.85"/>
<circle class="c6" cx="226.4" cy="362.7" r="1.85"/>
<circle class="c6" cx="223.2" cy="356.5" r="1.85"/>
<circle class="c6" cx="222.9" cy="361.2" r="1.85"/>
<circle class="c6" cx="224.7" cy="349.2" r="1.85"/>
<circle class="c6" cx="225.9" cy="365" r="1.85"/>
<circle class="c6" cx="226.3" cy="361.4" r="1.85"/>
<circle class="c6" cx="221.6" cy="363.4" r="1.85"/>
<circle class="c6" cx="224.5" cy="360.6" r="1.85"/>
<circle class="c6" cx="225.5" cy="360.8" r="1.85"/>
<circle class="c6" cx="222.2" cy="358.9" r="1.85"/>
<circle class="c6" cx="221.3" cy="369.3" r="1.85"/>
<circle class="c6" cx="228.9" cy="360.4" r="1.85"/>
<circle class="c6" cx="220.6" cy="358.3" r="1.85"/>
<circle class="c6" cx="224.9" cy="363.7" r="1.85"/>
<circle class="c6" cx="223.1" cy="359.1" r="1.85"/>
<circle class="c6" cx="220.6" cy="358.2" r="1.85"/>
<circle class="c6" cx="222.8" cy="368.7" r="1.85"/>
<circle class="c6" cx="221.8" cy="369.8" r="1.85"/>
<circle class="c6" cx="224" cy="364.7" r="1.85"/>
<circle class="c6" cx="228.7" cy="359.2" r="1.85"/>
<circle class="c6" cx="221.1" cy="358.6" r="1.85"/>
<circle class="c6" cx="223.6" cy="354.4" r="1.85"/>
<circle class="c6" cx="226.8" cy="359.4" r="1.85"/>
<circle class="c6" cx="226.1" cy="370" r="1.85"/>
<circle class="c6" cx="220.6" cy="351.6" r="1.85"/>
<circle class="c6" cx="222.5" cy="366.9" r="1.85"/>
<circle class="c6" cx="222.9" cy="361.1" r="1.85"/>
<circle class="c6" cx="228.6" cy="357.7" r="1.85"/>
<circle class="c6" cx="224.4" cy="360.4" r="1.85"/>
<circle class="c6" cx="222.7" cy="358" r="1.85"/>
<circle class="c6" cx="224.8" cy="359.8" r="1.85"/>
<circle class="c6" cx="224.8" cy="366.3" r="1.85"/>
<circle class="c6" cx="221.7" cy="368.8" r="1.85"/>
<circle class="c6" cx="226.5" cy="355.9" r="1.85"/>
<circle class="c6" cx="227" cy="359.5" r="1.85"/>
<circle class="c6" cx="224.8" cy="349.9" r="1.85"/>
<circle class="c6" cx="225.3" cy="364.9" r="1.85"/>
<circle class="c6" cx="227.4" cy="357.6" r="1.85"/>
<circle class="c6" cx="229.2" cy="356.6" r="1.85"/>
<circle class="c6" cx="226" cy="359.4" r="1.85"/>
<circle class="c6" cx="220.8" cy="358.8" r="1.85"/>
<circle class="c6" cx="225" cy="353.4" r="1.85"/>
<circle class="c6" cx="226.5" cy="362.1" r="1.85"/>
<circle class="c6" cx="223.4" cy="363.3" r="1.85"/>
<circle class="c6" cx="226.7" cy="361.2" r="1.85"/>
<circle class="c6" cx="223.7" cy="351.5" r="1.85"/>
<circle class="c6" cx="226" cy="363" r="1.85"/>
<circle class="c6" cx="226" cy="352.1" r="1.85"/>
<circle class="c6" cx="226.5" cy="358.7" r="1.85"/>
<circle class="c6" cx="226.7" cy="382" r="1.85"/>
<circle class="c6" cx="225.8" cy="398.5" r="1.85"/>
<rect x="218.7" y="357.5" width="12.6" height="6.3" fill="none" stroke="#8a8a8a" stroke-width="0.7"/>
<line x1="218.7" y1="361" x2="231.3" y2="361" stroke="#222" stroke-width="0.9" />
<line x1="240.2" y1="340.6" x2="240.2" y2="352.2" stroke="#444" stroke-width="0.6" />
<line x1="240.2" y1="360.2" x2="240.2" y2="372.3" stroke="#444" stroke-width="0.6" />
<circle class="c7" cx="236.5" cy="340.6" r="1.85"/>
<circle class="c7" cx="237.7" cy="372.2" r="1.85"/>
<circle class="c7" cx="244.7" cy="352.1" r="1.85"/>
<circle class="c7" cx="241.3" cy="361.3" r="1.85"/>
<circle class="c7" cx="240.4" cy="356.4" r="1.85"/>
<circle class="c7" cx="241.8" cy="344.6" r="1.85"/>
<circle class="c7" cx="241.7" cy="359.7" r="1.85"/>
<circle class="c7" cx="240.4" cy="356.7" r="1.85"/>
<circle class="c7" cx="238.9" cy="362.2" r="1.85"/>
<circle class="c7" cx="236.9" cy="341.4" r="1.85"/>
<circle class="c7" cx="235.8" cy="358.4" r="1.85"/>
<circle class="c7" cx="236.7" cy="347.9" r="1.85"/>
<circle class="c7" cx="239.3" cy="369.7" r="1.85"/>
<circle class="c7" cx="235.7" cy="356.1" r="1.85"/>
<circle class="c7" cx="241.8" cy="345.7" r="1.85"/>
<circle class="c7" cx="238.7" cy="368.7" r="1.85"/>
<circle class="c7" cx="237.7" cy="360.4" r="1.85"/>
<circle class="c7" cx="238.4" cy="359.5" r="1.85"/>
<circle class="c7" cx="240.1" cy="367.9" r="1.85"/>
<circle class="c7" cx="237.5" cy="358.4" r="1.85"/>
<circle class="c7" cx="243.4" cy="346.1" r="1.85"/>
<circle class="c7" cx="240" cy="343" r="1.85"/>
<circle class="c7" cx="236.2" cy="341.1" r="1.85"/>
<circle class="c7" cx="236.3" cy="356.1" r="1.85"/>
<circle class="c7" cx="243.8" cy="347.6" r="1.85"/>
<circle class="c7" cx="240.9" cy="359.9" r="1.85"/>
<circle class="c7" cx="238.2" cy="356.2" r="1.85"/>
<circle class="c7" cx="242.1" cy="353.7" r="1.85"/>
<circle class="c7" cx="236" cy="361.8" r="1.85"/>
<circle class="c7" cx="243.7" cy="358.7" r="1.85"/>
<circle class="c7" cx="244.2" cy="357.5" r="1.85"/>
<circle class="c7" cx="241.7" cy="342.5" r="1.85"/>
<circle class="c7" cx="236" cy="354.8" r="1.85"/>
<circle class="c7" cx="239.5" cy="355.1" r="1.85"/>
<circle class="c7" cx="243.3" cy="353.2" r="1.85"/>
<circle class="c7" cx="241" cy="354.7" r="1.85"/>
<circle class="c7" cx="237.5" cy="371.2" r="1.85"/>
<circle class="c7" cx="237.7" cy="354.2" r="1.85"/>
<circle class="c7" cx="236.1" cy="357.2" r="1.85"/>
<circle class="c7" cx="240.4" cy="353.1" r="1.85"/>
<circle class="c7" cx="237.2" cy="350.8" r="1.85"/>
<circle class="c7" cx="239.7" cy="358.5" r="1.85"/>
<circle class="c7" cx="243.8" cy="355.7" r="1.85"/>
<circle class="c7" cx="243.8" cy="364.8" r="1.85"/>
<circle class="c7" cx="240.1" cy="362.1" r="1.85"/>
<circle class="c7" cx="242.8" cy="360.3" r="1.85"/>
<circle class="c7" cx="236.8" cy="363.3" r="1.85"/>
<circle class="c7" cx="244.3" cy="354.3" r="1.85"/>
<circle class="c7" cx="243.5" cy="367.3" r="1.85"/>
<circle class="c7" cx="240" cy="343.9" r="1.85"/>
<circle class="c7" cx="243.7" cy="354.7" r="1.85"/>
<circle class="c7" cx="238.3" cy="359.5" r="1.85"/>
<circle class="c7" cx="244.6" cy="360.8" r="1.85"/>
<circle class="c7" cx="238.5" cy="364.9" r="1.85"/>
<circle class="c7" cx="244.1" cy="352.9" r="1.85"/>
<circle class="c7" cx="243.3" cy="356.4" r="1.85"/>
<circle class="c7" cx="244.2" cy="354.7" r="1.85"/>
<circle class="c7" cx="242.2" cy="363.9" r="1.85"/>
<circle class="c7" cx="236.2" cy="358.4" r="1.85"/>
<circle class="c7" cx="238.1" cy="355.6" r="1.85"/>
<circle class="c7" cx="240.8" cy="330" r="1.85"/>
<circle class="c7" cx="241.8" cy="334" r="1.85"/>
<rect x="233.9" y="352.2" width="12.6" height="8" fill="none" stroke="#8a8a8a" stroke-width="0.7"/>
<line x1="233.9" y1="356" x2="246.5" y2="356" stroke="#222" stroke-width="0.9" />
<line x1="264.2" y1="354" x2="264.2" y2="363.8" stroke="#444" stroke-width="0.6" />
<line x1="264.2" y1="370.9" x2="264.2" y2="380.7" stroke="#444" stroke-width="0.6" />
<circle class="c6" cx="262.8" cy="354" r="1.85"/>
<circle class="c6" cx="260.8" cy="381.2" r="1.85"/>
<circle class="c6" cx="267.1" cy="365.4" r="1.85"/>
<circle class="c6" cx="266.5" cy="361.8" r="1.85"/>
<circle class="c6" cx="266.6" cy="366.7" r="1.85"/>
<circle class="c6" cx="263.2" cy="375.4" r="1.85"/>
<circle class="c6" cx="260.8" cy="379.5" r="1.85"/>
<circle class="c6" cx="266.6" cy="370.1" r="1.85"/>
<circle class="c6" cx="261.6" cy="365.2" r="1.85"/>
<circle class="c6" cx="265.7" cy="357.6" r="1.85"/>
<circle class="c6" cx="266" cy="360.8" r="1.85"/>
<circle class="c6" cx="262.1" cy="361.3" r="1.85"/>
<circle class="c6" cx="259.6" cy="365.4" r="1.85"/>
<circle class="c6" cx="265" cy="364.1" r="1.85"/>
<circle class="c6" cx="266.9" cy="379.5" r="1.85"/>
<circle class="c6" cx="265" cy="366.7" r="1.85"/>
<circle class="c6" cx="268.7" cy="369.3" r="1.85"/>
<circle class="c6" cx="261.7" cy="365" r="1.85"/>
<circle class="c6" cx="266.3" cy="379.5" r="1.85"/>
<circle class="c6" cx="263.6" cy="367.1" r="1.85"/>
<circle class="c6" cx="264.9" cy="368.3" r="1.85"/>
<circle class="c6" cx="262.4" cy="365.9" r="1.85"/>
<circle class="c6" cx="261.7" cy="368.1" r="1.85"/>
<circle class="c6" cx="264.6" cy="360.7" r="1.85"/>
<circle class="c6" cx="265.2" cy="360.8" r="1.85"/>
<circle class="c6" cx="268" cy="373.2" r="1.85"/>
<circle class="c6" cx="265.2" cy="379.5" r="1.85"/>
<circle class="c6" cx="264.2" cy="359.6" r="1.85"/>
<circle class="c6" cx="265.6" cy="376.6" r="1.85"/>
<circle class="c6" cx="265.4" cy="366.8" r="1.85"/>
<circle class="c6" cx="263.4" cy="363.9" r="1.85"/>
<circle class="c6" cx="262.1" cy="362.1" r="1.85"/>
<circle class="c6" cx="265.9" cy="364" r="1.85"/>
<circle class="c6" cx="263.2" cy="368.6" r="1.85"/>
<circle class="c6" cx="259.9" cy="366.9" r="1.85"/>
<circle class="c6" cx="261.2" cy="355.4" r="1.85"/>
<circle class="c6" cx="262.9" cy="362.9" r="1.85"/>
<circle class="c6" cx="265.9" cy="371.6" r="1.85"/>
<circle class="c6" cx="265.6" cy="359" r="1.85"/>
<circle class="c6" cx="264.1" cy="370.1" r="1.85"/>
<circle class="c6" cx="267.1" cy="358.1" r="1.85"/>
<circle class="c6" cx="262.6" cy="369.7" r="1.85"/>
<circle class="c6" cx="262.8" cy="368.2" r="1.85"/>
<circle class="c6" cx="266.5" cy="362.2" r="1.85"/>
<circle class="c6" cx="265.8" cy="366.1" r="1.85"/>
<circle class="c6" cx="263.5" cy="375.4" r="1.85"/>
<circle class="c6" cx="267.8" cy="367.8" r="1.85"/>
<circle class="c6" cx="259.8" cy="362.6" r="1.85"/>
<circle class="c6" cx="264.5" cy="364.6" r="1.85"/>
<circle class="c6" cx="267.5" cy="359.5" r="1.85"/>
<circle class="c6" cx="267.7" cy="375.4" r="1.85"/>
<circle class="c6" cx="261.4" cy="381.2" r="1.85"/>
<circle class="c6" cx="267" cy="366.8" r="1.85"/>
<circle class="c6" cx="264.5" cy="366.4" r="1.85"/>
<circle class="c6" cx="268.2" cy="375.4" r="1.85"/>
<circle class="c6" cx="262.6" cy="370.6" r="1.85"/>
<circle class="c6" cx="265.7" cy="357.6" r="1.85"/>
<circle class="c6" cx="265.5" cy="359.6" r="1.85"/>
<circle class="c6" cx="268.7" cy="363.5" r="1.85"/>
<circle class="c6" cx="262.7" cy="369" r="1.85"/>
<circle class="c6" cx="263.8" cy="398.5" r="1.85"/>
<circle class="c6" cx="262.7" cy="398.5" r="1.85"/>
<rect x="257.9" y="363.8" width="12.6" height="7.1" fill="none" stroke="#8a8a8a" stroke-width="0.7"/>
<line x1="257.9" y1="367" x2="270.5" y2="367" stroke="#222" stroke-width="0.9" />
<line x1="279.4" y1="342.4" x2="279.4" y2="357.5" stroke="#444" stroke-width="0.6" />
<line x1="279.4" y1="365.6" x2="279.4" y2="379.8" stroke="#444" stroke-width="0.6" />
<circle class="c7" cx="278.7" cy="342.4" r="1.85"/>
<circle class="c7" cx="275.1" cy="379.5" r="1.85"/>
<circle class="c7" cx="277.3" cy="365.2" r="1.85"/>
<circle class="c7" cx="278.6" cy="363.6" r="1.85"/>
<circle class="c7" cx="278.2" cy="359.5" r="1.85"/>
<circle class="c7" cx="280.2" cy="365.5" r="1.85"/>
<circle class="c7" cx="274.8" cy="364.8" r="1.85"/>
<circle class="c7" cx="279.1" cy="373.2" r="1.85"/>
<circle class="c7" cx="283" cy="363.4" r="1.85"/>
<circle class="c7" cx="283.6" cy="371.8" r="1.85"/>
<circle class="c7" cx="281.1" cy="362.4" r="1.85"/>
<circle class="c7" cx="281.1" cy="371.7" r="1.85"/>
<circle class="c7" cx="280.3" cy="359.1" r="1.85"/>
<circle class="c7" cx="284" cy="357.4" r="1.85"/>
<circle class="c7" cx="282.1" cy="360.5" r="1.85"/>
<circle class="c7" cx="279" cy="361.5" r="1.85"/>
<circle class="c7" cx="279.4" cy="362" r="1.85"/>
<circle class="c7" cx="283.4" cy="355.1" r="1.85"/>
<circle class="c7" cx="279.9" cy="352.1" r="1.85"/>
<circle class="c7" cx="280.3" cy="371.5" r="1.85"/>
<circle class="c7" cx="277.6" cy="351.5" r="1.85"/>
<circle class="c7" cx="280.9" cy="365.9" r="1.85"/>
<circle class="c7" cx="279.3" cy="364.5" r="1.85"/>
<circle class="c7" cx="283.5" cy="365.6" r="1.85"/>
<circle class="c7" cx="284" cy="372" r="1.85"/>
<circle class="c7" cx="284" cy="373.2" r="1.85"/>
<circle class="c7" cx="283.5" cy="358.4" r="1.85"/>
<circle class="c7" cx="275.2" cy="374.2" r="1.85"/>
<circle class="c7" cx="275.5" cy="359.7" r="1.85"/>
<circle class="c7" cx="277.9" cy="365.1" r="1.85"/>
<circle class="c7" cx="282.4" cy="359.2" r="1.85"/>
<circle class="c7" cx="279.9" cy="379.5" r="1.85"/>
<circle class="c7" cx="277.2" cy="359.1" r="1.85"/>
<circle class="c7" cx="275.7" cy="354.2" r="1.85"/>
<circle class="c7" cx="277.1" cy="363" r="1.85"/>
<circle class="c7" cx="276" cy="362.3" r="1.85"/>
<circle class="c7" cx="276.1" cy="359.3" r="1.85"/>
<circle class="c7" cx="281.7" cy="353.6" r="1.85"/>
<circle class="c7" cx="276.6" cy="366.2" r="1.85"/>
<circle class="c7" cx="276.3" cy="367.3" r="1.85"/>
<circle class="c7" cx="280.5" cy="358.4" r="1.85"/>
<circle class="c7" cx="276" cy="365.4" r="1.85"/>
<circle class="c7" cx="282.5" cy="364.3" r="1.85"/>
<circle class="c7" cx="280.8" cy="373.2" r="1.85"/>
<circle class="c7" cx="282.9" cy="361" r="1.85"/>
<circle class="c7" cx="281.5" cy="359.5" r="1.85"/>
<circle class="c7" cx="281.5" cy="358.8" r="1.85"/>
<circle class="c7" cx="277.3" cy="352.2" r="1.85"/>
<circle class="c7" cx="278.7" cy="359.6" r="1.85"/>
<circle class="c7" cx="278.3" cy="358.4" r="1.85"/>
<circle class="c7" cx="278.4" cy="358.1" r="1.85"/>
<circle class="c7" cx="283.2" cy="355.8" r="1.85"/>
<circle class="c7" cx="278.8" cy="367.3" r="1.85"/>
<circle class="c7" cx="282.2" cy="378" r="1.85"/>
<circle class="c7" cx="280.6" cy="366.9" r="1.85"/>
<circle class="c7" cx="275.6" cy="369.9" r="1.85"/>
<circle class="c7" cx="276.7" cy="369.8" r="1.85"/>
<circle class="c7" cx="280.1" cy="355.8" r="1.85"/>
<circle class="c7" cx="282.1" cy="368.5" r="1.85"/>
<circle class="c7" cx="276.9" cy="374.2" r="1.85"/>
<rect x="273.1" y="357.5" width="12.6" height="8.1" fill="none" stroke="#8a8a8a" stroke-width="0.7"/>
<line x1="273.1" y1="361" x2="285.7" y2="361" stroke="#222" stroke-width="0.9" />
<line x1="303.4" y1="359.2" x2="303.4" y2="366.7" stroke="#444" stroke-width="0.6" />
<line x1="303.4" y1="375.3" x2="303.4" y2="389" stroke="#444" stroke-width="0.6" />
<circle class="c6" cx="300.5" cy="359.2" r="1.85"/>
<circle class="c6" cx="306.2" cy="388.5" r="1.85"/>
<circle class="c6" cx="304.2" cy="381.2" r="1.85"/>
<circle class="c6" cx="300.9" cy="369.7" r="1.85"/>
<circle class="c6" cx="307.1" cy="366.3" r="1.85"/>
<circle class="c6" cx="303.4" cy="367.3" r="1.85"/>
<circle class="c6" cx="305" cy="360.7" r="1.85"/>
<circle class="c6" cx="307.9" cy="381.2" r="1.85"/>
<circle class="c6" cx="301.8" cy="371.5" r="1.85"/>
<circle class="c6" cx="303.8" cy="366.2" r="1.85"/>
<circle class="c6" cx="303.9" cy="364.2" r="1.85"/>
<circle class="c6" cx="301.5" cy="370.5" r="1.85"/>
<circle class="c6" cx="303.8" cy="381.2" r="1.85"/>
<circle class="c6" cx="307.7" cy="368.8" r="1.85"/>
<circle class="c6" cx="305.3" cy="363.8" r="1.85"/>
<circle class="c6" cx="301.3" cy="370.8" r="1.85"/>
<circle class="c6" cx="305.1" cy="372.1" r="1.85"/>
<circle class="c6" cx="304.5" cy="378" r="1.85"/>
<circle class="c6" cx="302.2" cy="363.7" r="1.85"/>
<circle class="c6" cx="305" cy="365.9" r="1.85"/>
<circle class="c6" cx="302.3" cy="374.2" r="1.85"/>
<circle class="c6" cx="306" cy="372.2" r="1.85"/>
<circle class="c6" cx="302.4" cy="370.9" r="1.85"/>
<circle class="c6" cx="306.4" cy="368.8" r="1.85"/>
<circle class="c6" cx="301.6" cy="375.4" r="1.85"/>
<circle class="c6" cx="300.4" cy="367.9" r="1.85"/>
<circle class="c6" cx="301.9" cy="365.2" r="1.85"/>
<circle class="c6" cx="300" cy="373.2" r="1.85"/>
<circle class="c6" cx="306.9" cy="376.6" r="1.85"/>
<circle class="c6" cx="308" cy="365" r="1.85"/>
<circle class="c6" cx="302.7" cy="381.2" r="1.85"/>
<circle class="c6" cx="301" cy="383.3" r="1.85"/>
<circle class="c6" cx="307" cy="370.5" r="1.85"/>
<circle class="c6" cx="306.7" cy="366.3" r="1.85"/>
<circle class="c6" cx="301.1" cy="375.4" r="1.85"/>
<circle class="c6" cx="301.7" cy="381.2" r="1.85"/>
<circle class="c6" cx="303.4" cy="373.2" r="1.85"/>
<circle class="c6" cx="300.1" cy="385.6" r="1.85"/>
<circle class="c6" cx="300.8" cy="364.7" r="1.85"/>
<circle class="c6" cx="302.5" cy="360.1" r="1.85"/>
<circle class="c6" cx="299.9" cy="367.3" r="1.85"/>
<circle class="c6" cx="300.2" cy="375.4" r="1.85"/>
<circle class="c6" cx="304.4" cy="360" r="1.85"/>
<circle class="c6" cx="301.6" cy="367.6" r="1.85"/>
<circle class="c6" cx="307.3" cy="364.8" r="1.85"/>
<circle class="c6" cx="307.7" cy="368.7" r="1.85"/>
<circle class="c6" cx="305" cy="385.6" r="1.85"/>
<circle class="c6" cx="301.4" cy="364.8" r="1.85"/>
<circle class="c6" cx="305.8" cy="370.1" r="1.85"/>
<circle class="c6" cx="302" cy="369.5" r="1.85"/>
<circle class="c6" cx="306.8" cy="375.4" r="1.85"/>
<circle class="c6" cx="302.7" cy="375.4" r="1.85"/>
<circle class="c6" cx="305.2" cy="361.2" r="1.85"/>
<circle class="c6" cx="305.7" cy="374.2" r="1.85"/>
<circle class="c6" cx="305.3" cy="375.4" r="1.85"/>
<circle class="c6" cx="305.8" cy="365.1" r="1.85"/>
<circle class="c6" cx="302" cy="371.4" r="1.85"/>
<circle class="c6" cx="300.2" cy="381.2" r="1.85"/>
<circle class="c6" cx="302.2" cy="376.6" r="1.85"/>
<circle class="c6" cx="307.7" cy="378" r="1.85"/>
<circle class="c6" cx="301.6" cy="398.7" r="1.85"/>
<circle class="c6" cx="302.6" cy="407.6" r="1.85"/>
<rect x="297.1" y="366.7" width="12.6" height="8.6" fill="none" stroke="#8a8a8a" stroke-width="0.7"/>
<line x1="297.1" y1="373" x2="309.7" y2="373" stroke="#222" stroke-width="0.9" />
<line x1="318.6" y1="356.2" x2="318.6" y2="364.7" stroke="#444" stroke-width="0.6" />
<line x1="318.6" y1="372.1" x2="318.6" y2="386" stroke="#444" stroke-width="0.6" />
<circle class="c7" cx="319.4" cy="356.2" r="1.85"/>
<circle class="c7" cx="314.6" cy="385.6" r="1.85"/>
<circle class="c7" cx="322.3" cy="364.8" r="1.85"/>
<circle class="c7" cx="322.8" cy="370.1" r="1.85"/>
<circle class="c7" cx="321" cy="369.5" r="1.85"/>
<circle class="c7" cx="316.7" cy="363" r="1.85"/>
<circle class="c7" cx="320.7" cy="365" r="1.85"/>
<circle class="c7" cx="315.1" cy="381.2" r="1.85"/>
<circle class="c7" cx="319.1" cy="366.2" r="1.85"/>
<circle class="c7" cx="317.2" cy="376.6" r="1.85"/>
<circle class="c7" cx="318.4" cy="359.3" r="1.85"/>
<circle class="c7" cx="316.7" cy="370.8" r="1.85"/>
<circle class="c7" cx="314.7" cy="365.7" r="1.85"/>
<circle class="c7" cx="318" cy="358.6" r="1.85"/>
<circle class="c7" cx="316.2" cy="367.6" r="1.85"/>
<circle class="c7" cx="315.7" cy="363.5" r="1.85"/>
<circle class="c7" cx="317.1" cy="372" r="1.85"/>
<circle class="c7" cx="315.2" cy="371.7" r="1.85"/>
<circle class="c7" cx="314.2" cy="385.6" r="1.85"/>
<circle class="c7" cx="323" cy="366.2" r="1.85"/>
<circle class="c7" cx="314.5" cy="366" r="1.85"/>
<circle class="c7" cx="322.3" cy="378" r="1.85"/>
<circle class="c7" cx="317.9" cy="376.6" r="1.85"/>
<circle class="c7" cx="315.1" cy="371.8" r="1.85"/>
<circle class="c7" cx="318" cy="366.4" r="1.85"/>
<circle class="c7" cx="318.7" cy="378" r="1.85"/>
<circle class="c7" cx="314.6" cy="385.6" r="1.85"/>
<circle class="c7" cx="319" cy="378" r="1.85"/>
<circle class="c7" cx="314.1" cy="376.6" r="1.85"/>
<circle class="c7" cx="316.8" cy="367.1" r="1.85"/>
<circle class="c7" cx="320.6" cy="376.6" r="1.85"/>
<circle class="c7" cx="321.8" cy="369.4" r="1.85"/>
<circle class="c7" cx="315.7" cy="378" r="1.85"/>
<circle class="c7" cx="317.8" cy="368.1" r="1.85"/>
<circle class="c7" cx="322.8" cy="360.8" r="1.85"/>
<circle class="c7" cx="316.9" cy="371.4" r="1.85"/>
<circle class="c7" cx="315.1" cy="381.2" r="1.85"/>
<circle class="c7" cx="316.3" cy="359.7" r="1.85"/>
<circle class="c7" cx="322" cy="368.3" r="1.85"/>
<circle class="c7" cx="317.2" cy="366.2" r="1.85"/>
<circle class="c7" cx="320.2" cy="373.2" r="1.85"/>
<circle class="c7" cx="322.7" cy="383.3" r="1.85"/>
<circle class="c7" cx="319.8" cy="364.9" r="1.85"/>
<circle class="c7" cx="315.9" cy="369.5" r="1.85"/>
<circle class="c7" cx="318.5" cy="363.1" r="1.85"/>
<circle class="c7" cx="317" cy="364.2" r="1.85"/>
<circle class="c7" cx="318.5" cy="359" r="1.85"/>
<circle class="c7" cx="319.7" cy="378" r="1.85"/>
<circle class="c7" cx="323" cy="364.7" r="1.85"/>
<circle class="c7" cx="320.4" cy="367.7" r="1.85"/>
<circle class="c7" cx="318.7" cy="365.2" r="1.85"/>
<circle class="c7" cx="321.5" cy="379.5" r="1.85"/>
<circle class="c7" cx="318.7" cy="360" r="1.85"/>
<circle class="c7" cx="315.8" cy="379.5" r="1.85"/>
<circle class="c7" cx="320.2" cy="367.6" r="1.85"/>
<circle class="c7" cx="316.5" cy="385.6" r="1.85"/>
<circle class="c7" cx="316" cy="370.8" r="1.85"/>
<circle class="c7" cx="317.6" cy="363.2" r="1.85"/>
<circle class="c7" cx="318.5" cy="363.6" r="1.85"/>
<circle class="c7" cx="314.3" cy="361.3" r="1.85"/>
<circle class="c7" cx="318.1" cy="341.8" r="1.85"/>
<circle class="c7" cx="320.5" cy="345.6" r="1.85"/>
<circle class="c7" cx="318.7" cy="389.5" r="1.85"/>
<rect x="312.3" y="364.7" width="12.6" height="7.4" fill="none" stroke="#8a8a8a" stroke-width="0.7"/>
<line x1="312.3" y1="368" x2="324.9" y2="368" stroke="#222" stroke-width="0.9" />
<line x1="342.7" y1="361.7" x2="342.7" y2="371.1" stroke="#444" stroke-width="0.6" />
<line x1="342.7" y1="381.5" x2="342.7" y2="387.7" stroke="#444" stroke-width="0.6" />
<circle class="c6" cx="338.3" cy="361.7" r="1.85"/>
<circle class="c6" cx="340.9" cy="388.5" r="1.85"/>
<circle class="c6" cx="340.5" cy="376.6" r="1.85"/>
<circle class="c6" cx="340.5" cy="378" r="1.85"/>
<circle class="c6" cx="338.3" cy="378" r="1.85"/>
<circle class="c6" cx="340.4" cy="378" r="1.85"/>
<circle class="c6" cx="341.2" cy="376.6" r="1.85"/>
<circle class="c6" cx="342.2" cy="371.3" r="1.85"/>
<circle class="c6" cx="343" cy="375.4" r="1.85"/>
<circle class="c6" cx="347.1" cy="385.6" r="1.85"/>
<circle class="c6" cx="339.1" cy="385.6" r="1.85"/>
<circle class="c6" cx="339.3" cy="381.2" r="1.85"/>
<circle class="c6" cx="346.4" cy="372.2" r="1.85"/>
<circle class="c6" cx="340.7" cy="381.2" r="1.85"/>
<circle class="c6" cx="343" cy="372.2" r="1.85"/>
<circle class="c6" cx="340.9" cy="381.2" r="1.85"/>
<circle class="c6" cx="346.3" cy="378" r="1.85"/>
<circle class="c6" cx="346.7" cy="371" r="1.85"/>
<circle class="c6" cx="343.3" cy="367.7" r="1.85"/>
<circle class="c6" cx="338.9" cy="367.8" r="1.85"/>
<circle class="c6" cx="341.5" cy="385.6" r="1.85"/>
<circle class="c6" cx="344.6" cy="383.3" r="1.85"/>
<circle class="c6" cx="343.3" cy="376.6" r="1.85"/>
<circle class="c6" cx="340.7" cy="378" r="1.85"/>
<circle class="c6" cx="341.7" cy="379.5" r="1.85"/>
<circle class="c6" cx="338.6" cy="385.6" r="1.85"/>
<circle class="c6" cx="341.8" cy="369.5" r="1.85"/>
<circle class="c6" cx="345.7" cy="366.5" r="1.85"/>
<circle class="c6" cx="341.6" cy="379.5" r="1.85"/>
<circle class="c6" cx="342.4" cy="376.6" r="1.85"/>
<circle class="c6" cx="339.6" cy="379.5" r="1.85"/>
<circle class="c6" cx="344.6" cy="379.5" r="1.85"/>
<circle class="c6" cx="341.9" cy="383.3" r="1.85"/>
<circle class="c6" cx="341.6" cy="368.4" r="1.85"/>
<circle class="c6" cx="345.2" cy="379.5" r="1.85"/>
<circle class="c6" cx="340.8" cy="381.2" r="1.85"/>
<circle class="c6" cx="338.8" cy="376.6" r="1.85"/>
<circle class="c6" cx="344" cy="375.4" r="1.85"/>
<circle class="c6" cx="344.9" cy="373.2" r="1.85"/>
<circle class="c6" cx="338.6" cy="383.3" r="1.85"/>
<circle class="c6" cx="341.3" cy="381.2" r="1.85"/>
<circle class="c6" cx="346.2" cy="378" r="1.85"/>
<circle class="c6" cx="342.8" cy="383.3" r="1.85"/>
<circle class="c6" cx="341.8" cy="375.4" r="1.85"/>
<circle class="c6" cx="339.3" cy="362.2" r="1.85"/>
<circle class="c6" cx="340.7" cy="363.9" r="1.85"/>
<circle class="c6" cx="343.5" cy="383.3" r="1.85"/>
<circle class="c6" cx="346.5" cy="364.1" r="1.85"/>
<circle class="c6" cx="344.2" cy="368.9" r="1.85"/>
<circle class="c6" cx="347" cy="378" r="1.85"/>
<circle class="c6" cx="341.8" cy="374.2" r="1.85"/>
<circle class="c6" cx="338.7" cy="378" r="1.85"/>
<circle class="c6" cx="341.2" cy="362.6" r="1.85"/>
<circle class="c6" cx="341.5" cy="368.2" r="1.85"/>
<circle class="c6" cx="338.6" cy="381.2" r="1.85"/>
<circle class="c6" cx="338.8" cy="361.9" r="1.85"/>
<circle class="c6" cx="346.5" cy="372.2" r="1.85"/>
<circle class="c6" cx="346.3" cy="371.4" r="1.85"/>
<circle class="c6" cx="339.3" cy="368.8" r="1.85"/>
<circle class="c6" cx="338.8" cy="385.6" r="1.85"/>
<circle class="c6" cx="344.6" cy="392.7" r="1.85"/>
<circle class="c6" cx="341.3" cy="398.7" r="1.85"/>
<circle class="c6" cx="341.9" cy="407.6" r="1.85"/>
<rect x="336.4" y="371.1" width="12.6" height="10.4" fill="none" stroke="#8a8a8a" stroke-width="0.7"/>
<line x1="336.4" y1="376" x2="349" y2="376" stroke="#222" stroke-width="0.9" />
<line x1="357.9" y1="356.2" x2="357.9" y2="370.4" stroke="#444" stroke-width="0.6" />
<line x1="357.9" y1="377.8" x2="357.9" y2="386.5" stroke="#444" stroke-width="0.6" />
<circle class="c7" cx="354.2" cy="356.2" r="1.85"/>
<circle class="c7" cx="353.6" cy="385.6" r="1.85"/>
<circle class="c7" cx="356.5" cy="378" r="1.85"/>
<circle class="c7" cx="353.5" cy="371.4" r="1.85"/>
<circle class="c7" cx="354.7" cy="385.6" r="1.85"/>
<circle class="c7" cx="361.9" cy="381.2" r="1.85"/>
<circle class="c7" cx="355.6" cy="375.4" r="1.85"/>
<circle class="c7" cx="359.9" cy="376.6" r="1.85"/>
<circle class="c7" cx="355.2" cy="376.6" r="1.85"/>
<circle class="c7" cx="353.4" cy="375.4" r="1.85"/>
<circle class="c7" cx="353.3" cy="372.2" r="1.85"/>
<circle class="c7" cx="354.4" cy="373.2" r="1.85"/>
<circle class="c7" cx="362.1" cy="374.2" r="1.85"/>
<circle class="c7" cx="357.5" cy="362.4" r="1.85"/>
<circle class="c7" cx="355.6" cy="375.4" r="1.85"/>
<circle class="c7" cx="353.7" cy="374.2" r="1.85"/>
<circle class="c7" cx="359.2" cy="376.6" r="1.85"/>
<circle class="c7" cx="356.2" cy="372.2" r="1.85"/>
<circle class="c7" cx="354.9" cy="372.2" r="1.85"/>
<circle class="c7" cx="357.3" cy="369.1" r="1.85"/>
<circle class="c7" cx="359.8" cy="376.6" r="1.85"/>
<circle class="c7" cx="356.4" cy="372" r="1.85"/>
<circle class="c7" cx="358.4" cy="376.6" r="1.85"/>
<circle class="c7" cx="355" cy="358.3" r="1.85"/>
<circle class="c7" cx="358.4" cy="367.9" r="1.85"/>
<circle class="c7" cx="353.7" cy="370.2" r="1.85"/>
<circle class="c7" cx="361.8" cy="359.7" r="1.85"/>
<circle class="c7" cx="361.8" cy="383.3" r="1.85"/>
<circle class="c7" cx="358.6" cy="360.4" r="1.85"/>
<circle class="c7" cx="357.6" cy="374.2" r="1.85"/>
<circle class="c7" cx="356.9" cy="378" r="1.85"/>
<circle class="c7" cx="360.2" cy="369.5" r="1.85"/>
<circle class="c7" cx="358.6" cy="381.2" r="1.85"/>
<circle class="c7" cx="359.8" cy="376.6" r="1.85"/>
<circle class="c7" cx="357.4" cy="363.7" r="1.85"/>
<circle class="c7" cx="357" cy="379.5" r="1.85"/>
<circle class="c7" cx="359.9" cy="374.2" r="1.85"/>
<circle class="c7" cx="354.9" cy="375.4" r="1.85"/>
<circle class="c7" cx="356.4" cy="371.9" r="1.85"/>
<circle class="c7" cx="355.5" cy="371.6" r="1.85"/>
<circle class="c7" cx="355.2" cy="358.1" r="1.85"/>
<circle class="c7" cx="361.2" cy="385.6" r="1.85"/>
<circle class="c7" cx="356.2" cy="360.4" r="1.85"/>
<circle class="c7" cx="360.1" cy="373.2" r="1.85"/>
<circle class="c7" cx="353.7" cy="379.5" r="1.85"/>
<circle class="c7" cx="361.8" cy="364.7" r="1.85"/>
<circle class="c7" cx="357.6" cy="374.2" r="1.85"/>
<circle class="c7" cx="360.1" cy="385.6" r="1.85"/>
<circle class="c7" cx="354.3" cy="376.6" r="1.85"/>
<circle class="c7" cx="358.8" cy="376.6" r="1.85"/>
<circle class="c7" cx="360.7" cy="360.3" r="1.85"/>
<circle class="c7" cx="355.9" cy="374.2" r="1.85"/>
<circle class="c7" cx="354.1" cy="378" r="1.85"/>
<circle class="c7" cx="356.8" cy="376.6" r="1.85"/>
<circle class="c7" cx="360.4" cy="378" r="1.85"/>
<circle class="c7" cx="360.3" cy="365.6" r="1.85"/>
<circle class="c7" cx="353.9" cy="376.6" r="1.85"/>
<circle class="c7" cx="356.3" cy="376.6" r="1.85"/>
<circle class="c7" cx="361.7" cy="371.5" r="1.85"/>
<circle class="c7" cx="355.9" cy="378" r="1.85"/>
<circle class="c7" cx="356.2" cy="341.8" r="1.85"/>
<circle class="c7" cx="359.4" cy="392.7" r="1.85"/>
<circle class="c7" cx="359.2" cy="398.7" r="1.85"/>
<rect x="351.6" y="370.4" width="12.6" height="7.4" fill="none" stroke="#8a8a8a" stroke-width="0.7"/>
<line x1="351.6" y1="374" x2="364.2" y2="374" stroke="#222" stroke-width="0.9" />
<line x1="381.9" y1="361.7" x2="381.9" y2="374.1" stroke="#444" stroke-width="0.6" />
<line x1="381.9" y1="386.5" x2="381.9" y2="389" stroke="#444" stroke-width="0.6" />
<circle class="c6" cx="385" cy="361.7" r="1.85"/>
<circle class="c6" cx="379.7" cy="388.5" r="1.85"/>
<circle class="c6" cx="381.5" cy="383.3" r="1.85"/>
<circle class="c6" cx="377.7" cy="388.5" r="1.85"/>
<circle class="c6" cx="384.6" cy="371.3" r="1.85"/>
<circle class="c6" cx="386.3" cy="388.5" r="1.85"/>
<circle class="c6" cx="382.8" cy="388.5" r="1.85"/>
<circle class="c6" cx="386.3" cy="388.5" r="1.85"/>
<circle class="c6" cx="381.7" cy="373.2" r="1.85"/>
<circle class="c6" cx="385.3" cy="373.2" r="1.85"/>
<circle class="c6" cx="385.1" cy="381.2" r="1.85"/>
<circle class="c6" cx="385.8" cy="368" r="1.85"/>
<circle class="c6" cx="381.5" cy="388.5" r="1.85"/>
<circle class="c6" cx="382" cy="385.6" r="1.85"/>
<circle class="c6" cx="377.6" cy="378" r="1.85"/>
<circle class="c6" cx="386.1" cy="388.5" r="1.85"/>
<circle class="c6" cx="378.1" cy="365.5" r="1.85"/>
<circle class="c6" cx="382.7" cy="385.6" r="1.85"/>
<circle class="c6" cx="382.9" cy="362.9" r="1.85"/>
<circle class="c6" cx="378.9" cy="375.4" r="1.85"/>
<circle class="c6" cx="380.5" cy="388.5" r="1.85"/>
<circle class="c6" cx="380.1" cy="383.3" r="1.85"/>
<circle class="c6" cx="377.4" cy="375.4" r="1.85"/>
<circle class="c6" cx="381" cy="383.3" r="1.85"/>
<circle class="c6" cx="380.8" cy="370.1" r="1.85"/>
<circle class="c6" cx="383.9" cy="385.6" r="1.85"/>
<circle class="c6" cx="383.8" cy="378" r="1.85"/>
<circle class="c6" cx="386" cy="388.5" r="1.85"/>
<circle class="c6" cx="385.3" cy="371.4" r="1.85"/>
<circle class="c6" cx="379.7" cy="367.6" r="1.85"/>
<circle class="c6" cx="382.9" cy="365.7" r="1.85"/>
<circle class="c6" cx="383.7" cy="369.5" r="1.85"/>
<circle class="c6" cx="384.6" cy="383.3" r="1.85"/>
<circle class="c6" cx="378.6" cy="375.4" r="1.85"/>
<circle class="c6" cx="380.4" cy="374.2" r="1.85"/>
<circle class="c6" cx="383" cy="385.6" r="1.85"/>
<circle class="c6" cx="380.2" cy="378" r="1.85"/>
<circle class="c6" cx="385.7" cy="381.2" r="1.85"/>
<circle class="c6" cx="381.1" cy="381.2" r="1.85"/>
<circle class="c6" cx="383.8" cy="385.6" r="1.85"/>
<circle class="c6" cx="377.9" cy="376.6" r="1.85"/>
<circle class="c6" cx="385.6" cy="374.2" r="1.85"/>
<circle class="c6" cx="386.3" cy="388.5" r="1.85"/>
<circle class="c6" cx="386.2" cy="385.6" r="1.85"/>
<circle class="c6" cx="380.5" cy="373.2" r="1.85"/>
<circle class="c6" cx="385" cy="385.6" r="1.85"/>
<circle class="c6" cx="386.4" cy="367.5" r="1.85"/>
<circle class="c6" cx="378.3" cy="373.2" r="1.85"/>
<circle class="c6" cx="378" cy="381.2" r="1.85"/>
<circle class="c6" cx="383.4" cy="381.2" r="1.85"/>
<circle class="c6" cx="386.4" cy="374.2" r="1.85"/>
<circle class="c6" cx="377.6" cy="362.1" r="1.85"/>
<circle class="c6" cx="385" cy="381.2" r="1.85"/>
<circle class="c6" cx="383.4" cy="385.6" r="1.85"/>
<circle class="c6" cx="381.7" cy="375.4" r="1.85"/>
<circle class="c6" cx="378.6" cy="370.7" r="1.85"/>
<circle class="c6" cx="382" cy="373.2" r="1.85"/>
<circle class="c6" cx="381.9" cy="388.5" r="1.85"/>
<circle class="c6" cx="379.2" cy="383.3" r="1.85"/>
<circle class="c6" cx="385.6" cy="385.6" r="1.85"/>
<circle class="c6" cx="382.9" cy="392.7" r="1.85"/>
<circle class="c6" cx="380.6" cy="398.7" r="1.85"/>
<circle class="c6" cx="382.4" cy="407.6" r="1.85"/>
<rect x="375.6" y="374.1" width="12.6" height="12.4" fill="none" stroke="#8a8a8a" stroke-width="0.7"/>
<line x1="375.6" y1="380" x2="388.2" y2="380" stroke="#222" stroke-width="0.9" />
<line x1="397.1" y1="356.2" x2="397.1" y2="371.6" stroke="#444" stroke-width="0.6" />
<line x1="397.1" y1="381.5" x2="397.1" y2="387.7" stroke="#444" stroke-width="0.6" />
<circle class="c7" cx="401.7" cy="356.2" r="1.85"/>
<circle class="c7" cx="395.1" cy="388.5" r="1.85"/>
<circle class="c7" cx="400.2" cy="375.4" r="1.85"/>
<circle class="c7" cx="397.9" cy="379.5" r="1.85"/>
<circle class="c7" cx="395.9" cy="379.5" r="1.85"/>
<circle class="c7" cx="394.7" cy="364" r="1.85"/>
<circle class="c7" cx="393.5" cy="385.6" r="1.85"/>
<circle class="c7" cx="392.8" cy="364.3" r="1.85"/>
<circle class="c7" cx="396.5" cy="366.2" r="1.85"/>
<circle class="c7" cx="393.6" cy="373.2" r="1.85"/>
<circle class="c7" cx="394.4" cy="367.8" r="1.85"/>
<circle class="c7" cx="395.5" cy="379.5" r="1.85"/>
<circle class="c7" cx="393.8" cy="379.5" r="1.85"/>
<circle class="c7" cx="394.4" cy="385.6" r="1.85"/>
<circle class="c7" cx="394.9" cy="378" r="1.85"/>
<circle class="c7" cx="401.5" cy="378" r="1.85"/>
<circle class="c7" cx="396.4" cy="373.2" r="1.85"/>
<circle class="c7" cx="398.2" cy="379.5" r="1.85"/>
<circle class="c7" cx="397.5" cy="383.3" r="1.85"/>
<circle class="c7" cx="401.3" cy="367.5" r="1.85"/>
<circle class="c7" cx="400.1" cy="369.7" r="1.85"/>
<circle class="c7" cx="401" cy="381.2" r="1.85"/>
<circle class="c7" cx="400.5" cy="381.2" r="1.85"/>
<circle class="c7" cx="399.3" cy="379.5" r="1.85"/>
<circle class="c7" cx="400.6" cy="378" r="1.85"/>
<circle class="c7" cx="395.6" cy="364.7" r="1.85"/>
<circle class="c7" cx="398.1" cy="381.2" r="1.85"/>
<circle class="c7" cx="395.6" cy="383.3" r="1.85"/>
<circle class="c7" cx="401" cy="374.2" r="1.85"/>
<circle class="c7" cx="395" cy="360.8" r="1.85"/>
<circle class="c7" cx="401.7" cy="356.9" r="1.85"/>
<circle class="c7" cx="394.7" cy="375.4" r="1.85"/>
<circle class="c7" cx="395.6" cy="365" r="1.85"/>
<circle class="c7" cx="399.4" cy="366.4" r="1.85"/>
<circle class="c7" cx="397.8" cy="379.5" r="1.85"/>
<circle class="c7" cx="394.5" cy="381.2" r="1.85"/>
<circle class="c7" cx="393.7" cy="381.2" r="1.85"/>
<circle class="c7" cx="400.6" cy="364.4" r="1.85"/>
<circle class="c7" cx="394.4" cy="372.2" r="1.85"/>
<circle class="c7" cx="397.2" cy="378" r="1.85"/>
<circle class="c7" cx="400.2" cy="360.5" r="1.85"/>
<circle class="c7" cx="397" cy="378" r="1.85"/>
<circle class="c7" cx="396.9" cy="372" r="1.85"/>
<circle class="c7" cx="394" cy="373.2" r="1.85"/>
<circle class="c7" cx="401.1" cy="372" r="1.85"/>
<circle class="c7" cx="398.1" cy="383.3" r="1.85"/>
<circle class="c7" cx="398.7" cy="383.3" r="1.85"/>
<circle class="c7" cx="396.1" cy="369.9" r="1.85"/>
<circle class="c7" cx="399.1" cy="381.2" r="1.85"/>
<circle class="c7" cx="396" cy="385.6" r="1.85"/>
<circle class="c7" cx="394.2" cy="381.2" r="1.85"/>
<circle class="c7" cx="395.8" cy="385.6" r="1.85"/>
<circle class="c7" cx="399.5" cy="365.4" r="1.85"/>
<circle class="c7" cx="400.5" cy="381.2" r="1.85"/>
<circle class="c7" cx="397.2" cy="388.5" r="1.85"/>
<circle class="c7" cx="398.6" cy="376.6" r="1.85"/>
<circle class="c7" cx="401.1" cy="370.6" r="1.85"/>
<circle class="c7" cx="398.5" cy="385.6" r="1.85"/>
<circle class="c7" cx="401.5" cy="374.2" r="1.85"/>
<circle class="c7" cx="394.8" cy="359" r="1.85"/>
<circle class="c7" cx="398.6" cy="392.7" r="1.85"/>
<circle class="c7" cx="398.1" cy="398.7" r="1.85"/>
<rect x="390.8" y="371.6" width="12.6" height="9.9" fill="none" stroke="#8a8a8a" stroke-width="0.7"/>
<line x1="390.8" y1="376" x2="403.4" y2="376" stroke="#222" stroke-width="0.9" />
<rect x="52.6" y="259.6" width="360.5" height="154.6" fill="none" stroke="#888" stroke-width="0.9"/>
<line x1="50.4" y1="286.6" x2="52.6" y2="286.6" stroke="#555" stroke-width="0.7" />
<text x="46.5" y="290.1" font-size="10.2" text-anchor="end" font-weight="normal" fill="#000" font-family="Liberation Sans" >10,000</text>
<line x1="50.4" y1="316.6" x2="52.6" y2="316.6" stroke="#555" stroke-width="0.7" />
<text x="46.5" y="320.1" font-size="10.2" text-anchor="end" font-weight="normal" fill="#000" font-family="Liberation Sans" >1,000</text>
<line x1="50.4" y1="346.6" x2="52.6" y2="346.6" stroke="#555" stroke-width="0.7" />
<text x="46.5" y="350.1" font-size="10.2" text-anchor="end" font-weight="normal" fill="#000" font-family="Liberation Sans" >100</text>
<line x1="50.4" y1="376.6" x2="52.6" y2="376.6" stroke="#555" stroke-width="0.7" />
<text x="46.5" y="380.1" font-size="10.2" text-anchor="end" font-weight="normal" fill="#000" font-family="Liberation Sans" >10</text>
<line x1="50.4" y1="407.2" x2="52.6" y2="407.2" stroke="#555" stroke-width="0.7" />
<text x="46.5" y="410.7" font-size="10.2" text-anchor="end" font-weight="normal" fill="#000" font-family="Liberation Sans" >0</text>
<line x1="75.6" y1="414.2" x2="75.6" y2="416.4" stroke="#555" stroke-width="0.7" />
<text x="75.6" y="428.3" font-size="10.2" text-anchor="middle" font-weight="normal" fill="#000" font-family="Liberation Sans" >0</text>
<line x1="114.8" y1="414.2" x2="114.8" y2="416.4" stroke="#555" stroke-width="0.7" />
<text x="114.8" y="428.3" font-size="10.2" text-anchor="middle" font-weight="normal" fill="#000" font-family="Liberation Sans" >0.0001</text>
<line x1="154.1" y1="414.2" x2="154.1" y2="416.4" stroke="#555" stroke-width="0.7" />
<text x="154.1" y="428.3" font-size="10.2" text-anchor="middle" font-weight="normal" fill="#000" font-family="Liberation Sans" >0.0005</text>
<line x1="193.3" y1="414.2" x2="193.3" y2="416.4" stroke="#555" stroke-width="0.7" />
<text x="193.3" y="428.3" font-size="10.2" text-anchor="middle" font-weight="normal" fill="#000" font-family="Liberation Sans" >0.001</text>
<line x1="232.6" y1="414.2" x2="232.6" y2="416.4" stroke="#555" stroke-width="0.7" />
<text x="232.6" y="428.3" font-size="10.2" text-anchor="middle" font-weight="normal" fill="#000" font-family="Liberation Sans" >0.002</text>
<line x1="271.8" y1="414.2" x2="271.8" y2="416.4" stroke="#555" stroke-width="0.7" />
<text x="271.8" y="428.3" font-size="10.2" text-anchor="middle" font-weight="normal" fill="#000" font-family="Liberation Sans" >0.003</text>
<line x1="311" y1="414.2" x2="311" y2="416.4" stroke="#555" stroke-width="0.7" />
<text x="311" y="428.3" font-size="10.2" text-anchor="middle" font-weight="normal" fill="#000" font-family="Liberation Sans" >0.004</text>
<line x1="350.3" y1="414.2" x2="350.3" y2="416.4" stroke="#555" stroke-width="0.7" />
<text x="350.3" y="428.3" font-size="10.2" text-anchor="middle" font-weight="normal" fill="#000" font-family="Liberation Sans" >0.005</text>
<line x1="389.5" y1="414.2" x2="389.5" y2="416.4" stroke="#555" stroke-width="0.7" />
<text x="389.5" y="428.3" font-size="10.2" text-anchor="middle" font-weight="normal" fill="#000" font-family="Liberation Sans" >0.006</text>
<text x="230.5" y="443.7" font-size="10.3" text-anchor="middle" font-weight="normal" fill="#000" font-family="Liberation Sans" >TCR frequency threshold</text>
<text x="0" y="0" font-size="10.3" text-anchor="middle" fill="#000" transform="translate(5.5,339) rotate(-90)" dominant-baseline="central">Number of TCRs above threshold</text>
<text x="-0.2" y="466.8" font-size="12" text-anchor="start" font-weight="bold" fill="#000" font-family="Liberation Sans" stroke="#000" stroke-width="0.25">d</text>
<line x1="42.6" y1="606.2" x2="132.8" y2="606.2" stroke="#f4f4f4" stroke-width="0.6" />
<line x1="42.6" y1="563.2" x2="132.8" y2="563.2" stroke="#f4f4f4" stroke-width="0.6" />
<line x1="42.6" y1="520.2" x2="132.8" y2="520.2" stroke="#f4f4f4" stroke-width="0.6" />
<line x1="42.6" y1="477.2" x2="132.8" y2="477.2" stroke="#f4f4f4" stroke-width="0.6" />
<line x1="42.6" y1="627.7" x2="132.8" y2="627.7" stroke="#ebebeb" stroke-width="0.6" />
<line x1="42.6" y1="584.7" x2="132.8" y2="584.7" stroke="#ebebeb" stroke-width="0.6" />
<line x1="42.6" y1="541.7" x2="132.8" y2="541.7" stroke="#ebebeb" stroke-width="0.6" />
<line x1="42.6" y1="498.7" x2="132.8" y2="498.7" stroke="#ebebeb" stroke-width="0.6" />
<line x1="67.1" y1="465" x2="67.1" y2="632.7" stroke="#ebebeb" stroke-width="0.6" />
<line x1="107.7" y1="465" x2="107.7" y2="632.7" stroke="#ebebeb" stroke-width="0.6" />
<line x1="67.1" y1="563.2" x2="67.1" y2="494.4" stroke="#555" stroke-width="0.6" />
<line x1="67.1" y1="601" x2="67.1" y2="624.7" stroke="#555" stroke-width="0.6" />
<rect x="56.8" y="563.2" width="20.6" height="37.8" fill="none" stroke="#555" stroke-width="0.8"/>
<line x1="56.8" y1="590.3" x2="77.4" y2="590.3" stroke="#111" stroke-width="1.1" />
<circle class="c8" cx="67.5" cy="597" r="1.35"/>
<circle class="c8" cx="71" cy="604.2" r="1.35"/>
<circle class="c8" cx="64.4" cy="612.8" r="1.35"/>
<circle class="c8" cx="64.2" cy="558.3" r="1.35"/>
<circle class="c8" cx="68.9" cy="573.6" r="1.35"/>
<circle class="c8" cx="66.4" cy="615.7" r="1.35"/>
<circle class="c8" cx="70.4" cy="578" r="1.35"/>
<circle class="c8" cx="71.9" cy="586" r="1.35"/>
<circle class="c8" cx="71.3" cy="622.1" r="1.35"/>
<circle class="c8" cx="69.2" cy="565.3" r="1.35"/>
<circle class="c8" cx="67.1" cy="569.3" r="1.35"/>
<circle class="c8" cx="62.9" cy="593" r="1.35"/>
<circle class="c8" cx="70.1" cy="617.8" r="1.35"/>
<circle class="c8" cx="66.1" cy="570.6" r="1.35"/>
<circle class="c8" cx="66.8" cy="600.1" r="1.35"/>
<circle class="c8" cx="68.4" cy="598.8" r="1.35"/>
<circle class="c8" cx="71.6" cy="592.3" r="1.35"/>
<circle class="c8" cx="67.6" cy="603.7" r="1.35"/>
<circle class="c8" cx="71.1" cy="559.9" r="1.35"/>
<circle class="c8" cx="71.6" cy="595.8" r="1.35"/>
<circle class="c8" cx="63.1" cy="614.6" r="1.35"/>
<circle class="c8" cx="65.7" cy="556.3" r="1.35"/>
<circle class="c8" cx="70.8" cy="587" r="1.35"/>
<circle class="c8" cx="69.7" cy="566" r="1.35"/>
<circle class="c8" cx="71.6" cy="624.5" r="1.35"/>
<circle class="c8" cx="64.1" cy="611.9" r="1.35"/>
<circle class="c8" cx="67.4" cy="622.7" r="1.35"/>
<circle class="c8" cx="71.3" cy="591.1" r="1.35"/>
<circle class="c8" cx="67.5" cy="596.8" r="1.35"/>
<circle class="c8" cx="68.7" cy="587.8" r="1.35"/>
<circle class="c8" cx="71.7" cy="585.6" r="1.35"/>
<circle class="c8" cx="64" cy="564.3" r="1.35"/>
<circle class="c8" cx="62.8" cy="611.6" r="1.35"/>
<circle class="c8" cx="70.5" cy="586.2" r="1.35"/>
<circle class="c8" cx="67.9" cy="590.3" r="1.35"/>
<circle class="c8" cx="64.2" cy="555.7" r="1.35"/>
<circle class="c8" cx="70.3" cy="564.5" r="1.35"/>
<circle class="c8" cx="65" cy="610.2" r="1.35"/>
<circle class="c8" cx="63.5" cy="616" r="1.35"/>
<circle class="c8" cx="65.2" cy="574.3" r="1.35"/>
<circle class="c8" cx="62.6" cy="557.9" r="1.35"/>
<circle class="c8" cx="66.2" cy="591.8" r="1.35"/>
<circle class="c8" cx="69.8" cy="578.1" r="1.35"/>
<circle class="c8" cx="66.7" cy="590.4" r="1.35"/>
<circle class="c8" cx="71.6" cy="589.8" r="1.35"/>
<circle class="c8" cx="62.7" cy="541.8" r="1.35"/>
<circle class="c8" cx="64" cy="598.7" r="1.35"/>
<circle class="c8" cx="63.7" cy="597.5" r="1.35"/>
<circle class="c8" cx="67.8" cy="609.8" r="1.35"/>
<circle class="c8" cx="64.2" cy="606.1" r="1.35"/>
<circle class="c8" cx="68.7" cy="606.2" r="1.35"/>
<circle class="c8" cx="67.3" cy="530.2" r="1.35"/>
<circle class="c8" cx="67.9" cy="583.6" r="1.35"/>
<circle class="c8" cx="70.4" cy="578.8" r="1.35"/>
<circle class="c8" cx="69.9" cy="601.9" r="1.35"/>
<circle class="c8" cx="71.2" cy="597" r="1.35"/>
<circle class="c8" cx="63.8" cy="539" r="1.35"/>
<circle class="c8" cx="65.9" cy="585.7" r="1.35"/>
<circle class="c8" cx="71.5" cy="546.6" r="1.35"/>
<circle class="c8" cx="66.1" cy="601.6" r="1.35"/>
<circle class="c8" cx="65" cy="602.3" r="1.35"/>
<circle class="c8" cx="66.9" cy="522.5" r="1.35"/>
<circle class="c8" cx="64" cy="623.2" r="1.35"/>
<circle class="c8" cx="70.4" cy="615.5" r="1.35"/>
<circle class="c8" cx="68.4" cy="564.1" r="1.35"/>
<circle class="c8" cx="63.2" cy="599.5" r="1.35"/>
<circle class="c8" cx="71.6" cy="586.6" r="1.35"/>
<circle class="c8" cx="67.3" cy="611.5" r="1.35"/>
<circle class="c8" cx="64.7" cy="588.5" r="1.35"/>
<circle class="c8" cx="68.2" cy="593.5" r="1.35"/>
<circle class="c8" cx="71.4" cy="538.1" r="1.35"/>
<circle class="c8" cx="65.6" cy="552.6" r="1.35"/>
<circle class="c8" cx="62.4" cy="569.4" r="1.35"/>
<circle class="c8" cx="64.2" cy="530.4" r="1.35"/>
<circle class="c8" cx="62.9" cy="623.5" r="1.35"/>
<circle class="c8" cx="67.4" cy="585.6" r="1.35"/>
<circle class="c8" cx="65.3" cy="588" r="1.35"/>
<circle class="c8" cx="70.5" cy="549" r="1.35"/>
<circle class="c8" cx="64.3" cy="620.5" r="1.35"/>
<circle class="c8" cx="62.4" cy="595" r="1.35"/>
<circle class="c8" cx="66.8" cy="599.2" r="1.35"/>
<circle class="c8" cx="63.5" cy="590.9" r="1.35"/>
<circle class="c8" cx="65.3" cy="564.8" r="1.35"/>
<circle class="c8" cx="64.5" cy="601.2" r="1.35"/>
<circle class="c8" cx="64" cy="526.9" r="1.35"/>
<circle class="c8" cx="68.4" cy="575.7" r="1.35"/>
<circle class="c8" cx="71.3" cy="559.3" r="1.35"/>
<circle class="c8" cx="65.9" cy="575.6" r="1.35"/>
<circle class="c8" cx="68.4" cy="593.2" r="1.35"/>
<circle class="c8" cx="65.4" cy="587.5" r="1.35"/>
<circle class="c8" cx="71.1" cy="578" r="1.35"/>
<circle class="c8" cx="67.6" cy="594.2" r="1.35"/>
<circle class="c8" cx="62.6" cy="610.4" r="1.35"/>
<circle class="c8" cx="69.4" cy="591.6" r="1.35"/>
<circle class="c8" cx="64.3" cy="605.2" r="1.35"/>
<circle class="c8" cx="62.8" cy="573.4" r="1.35"/>
<circle class="c8" cx="62.5" cy="561.1" r="1.35"/>
<circle class="c8" cx="70.4" cy="573.7" r="1.35"/>
<circle class="c8" cx="69.1" cy="579.3" r="1.35"/>
<circle class="c8" cx="65.7" cy="620.2" r="1.35"/>
<circle class="c8" cx="67.7" cy="585.4" r="1.35"/>
<circle class="c8" cx="69.1" cy="616.3" r="1.35"/>
<circle class="c8" cx="63" cy="595.3" r="1.35"/>
<circle class="c8" cx="69.1" cy="606.3" r="1.35"/>
<circle class="c8" cx="69.1" cy="592.6" r="1.35"/>
<circle class="c8" cx="71.3" cy="602.1" r="1.35"/>
<circle class="c8" cx="62.9" cy="563.8" r="1.35"/>
<circle class="c8" cx="67.8" cy="506.4" r="1.35"/>
<circle class="c8" cx="67.2" cy="616.4" r="1.35"/>
<circle class="c8" cx="70.4" cy="606.2" r="1.35"/>
<circle class="c8" cx="65.8" cy="619.5" r="1.35"/>
<circle class="c8" cx="68.7" cy="621.8" r="1.35"/>
<circle class="c8" cx="70.9" cy="496.1" r="1.35"/>
<circle class="c8" cx="65.6" cy="593.1" r="1.35"/>
<circle class="c8" cx="67.2" cy="595.4" r="1.35"/>
<circle class="c8" cx="70.9" cy="594.2" r="1.35"/>
<circle class="c8" cx="62.6" cy="618.6" r="1.35"/>
<circle class="c8" cx="71.7" cy="584.9" r="1.35"/>
<circle class="c8" cx="65.3" cy="590.9" r="1.35"/>
<circle class="c8" cx="66.7" cy="622.2" r="1.35"/>
<circle class="c8" cx="65.1" cy="559.8" r="1.35"/>
<circle class="c8" cx="70" cy="591.9" r="1.35"/>
<circle class="c8" cx="67.4" cy="584.3" r="1.35"/>
<circle class="c8" cx="69.5" cy="618.2" r="1.35"/>
<circle class="c8" cx="63.3" cy="592.4" r="1.35"/>
<circle class="c8" cx="70.8" cy="509.7" r="1.35"/>
<circle class="c8" cx="70.2" cy="499.4" r="1.35"/>
<circle class="c8" cx="68.8" cy="500.2" r="1.35"/>
<circle class="c8" cx="64.4" cy="557.4" r="1.35"/>
<circle class="c8" cx="64.8" cy="598.4" r="1.35"/>
<circle class="c8" cx="66.6" cy="577" r="1.35"/>
<circle class="c8" cx="62.9" cy="592" r="1.35"/>
<circle class="c8" cx="71.5" cy="598.8" r="1.35"/>
<circle class="c8" cx="66.2" cy="596.1" r="1.35"/>
<circle class="c8" cx="71.5" cy="574.9" r="1.35"/>
<circle class="c8" cx="64.1" cy="599" r="1.35"/>
<circle class="c8" cx="68.5" cy="597.5" r="1.35"/>
<circle class="c8" cx="70" cy="611.8" r="1.35"/>
<circle class="c8" cx="68.5" cy="607.9" r="1.35"/>
<circle class="c8" cx="66.4" cy="586.6" r="1.35"/>
<circle class="c8" cx="62.5" cy="581.1" r="1.35"/>
<circle class="c8" cx="66.5" cy="594.5" r="1.35"/>
<circle class="c8" cx="66" cy="502.8" r="1.35"/>
<circle class="c8" cx="71.4" cy="584.6" r="1.35"/>
<circle class="c8" cx="71.6" cy="581.2" r="1.35"/>
<circle class="c8" cx="71.5" cy="611.6" r="1.35"/>
<circle class="c8" cx="71.7" cy="591.7" r="1.35"/>
<circle class="c8" cx="63.9" cy="592.1" r="1.35"/>
<circle class="c8" cx="62.6" cy="587.6" r="1.35"/>
<circle class="c8" cx="65.1" cy="582.6" r="1.35"/>
<circle class="c8" cx="62.4" cy="588.4" r="1.35"/>
<circle class="c8" cx="63.4" cy="602.9" r="1.35"/>
<circle class="c8" cx="67.8" cy="621.2" r="1.35"/>
<circle class="c8" cx="64.2" cy="622.4" r="1.35"/>
<circle class="c8" cx="68.2" cy="494.7" r="1.35"/>
<circle class="c8" cx="66" cy="579.6" r="1.35"/>
<circle class="c8" cx="64.9" cy="529.5" r="1.35"/>
<circle class="c8" cx="71.6" cy="608.4" r="1.35"/>
<circle class="c8" cx="64.1" cy="598.1" r="1.35"/>
<circle class="c8" cx="70.8" cy="596.9" r="1.35"/>
<circle class="c8" cx="67.4" cy="610.2" r="1.35"/>
<circle class="c8" cx="68.7" cy="525" r="1.35"/>
<circle class="c8" cx="63.7" cy="608.5" r="1.35"/>
<circle class="c8" cx="69.5" cy="613.4" r="1.35"/>
<circle class="c8" cx="70.8" cy="517.5" r="1.35"/>
<circle class="c8" cx="64.2" cy="512" r="1.35"/>
<circle class="c8" cx="66.8" cy="599.5" r="1.35"/>
<circle class="c8" cx="68.6" cy="593.7" r="1.35"/>
<circle class="c8" cx="66.9" cy="616.9" r="1.35"/>
<circle class="c8" cx="69.5" cy="580.9" r="1.35"/>
<circle class="c8" cx="68.5" cy="575.5" r="1.35"/>
<circle class="c8" cx="65.3" cy="561.7" r="1.35"/>
<circle class="c8" cx="68.8" cy="606.3" r="1.35"/>
<circle class="c8" cx="69.7" cy="587.7" r="1.35"/>
<circle class="c8" cx="66.7" cy="619.7" r="1.35"/>
<circle class="c8" cx="68" cy="472.9" r="1.35"/>
<circle class="c8" cx="68.4" cy="481.5" r="1.35"/>
<line x1="107.7" y1="563.8" x2="107.7" y2="486.9" stroke="#555" stroke-width="0.6" />
<line x1="107.7" y1="601.7" x2="107.7" y2="625.1" stroke="#555" stroke-width="0.6" />
<rect x="97.4" y="563.8" width="20.6" height="37.8" fill="none" stroke="#555" stroke-width="0.8"/>
<line x1="97.4" y1="587.9" x2="118" y2="587.9" stroke="#111" stroke-width="1.1" />
<circle class="c8" cx="109" cy="600.5" r="1.35"/>
<circle class="c8" cx="102.9" cy="591" r="1.35"/>
<circle class="c8" cx="104" cy="586.1" r="1.35"/>
<circle class="c8" cx="104.5" cy="593.6" r="1.35"/>
<circle class="c8" cx="105" cy="584.3" r="1.35"/>
<circle class="c8" cx="107.8" cy="571.1" r="1.35"/>
<circle class="c8" cx="103.2" cy="565.3" r="1.35"/>
<circle class="c8" cx="110.8" cy="587.6" r="1.35"/>
<circle class="c8" cx="107.4" cy="592" r="1.35"/>
<circle class="c8" cx="109.2" cy="602.5" r="1.35"/>
<circle class="c8" cx="106.4" cy="569.5" r="1.35"/>
<circle class="c8" cx="111" cy="625" r="1.35"/>
<circle class="c8" cx="103.9" cy="525.8" r="1.35"/>
<circle class="c8" cx="111.2" cy="594.6" r="1.35"/>
<circle class="c8" cx="105.3" cy="536.6" r="1.35"/>
<circle class="c8" cx="107.8" cy="552.5" r="1.35"/>
<circle class="c8" cx="108.3" cy="511.2" r="1.35"/>
<circle class="c8" cx="109.4" cy="595.1" r="1.35"/>
<circle class="c8" cx="108.1" cy="540.2" r="1.35"/>
<circle class="c8" cx="109.8" cy="566" r="1.35"/>
<circle class="c8" cx="103.4" cy="545.5" r="1.35"/>
<circle class="c8" cx="108" cy="518.1" r="1.35"/>
<circle class="c8" cx="107.7" cy="559.2" r="1.35"/>
<circle class="c8" cx="108.8" cy="595.5" r="1.35"/>
<circle class="c8" cx="103.9" cy="530.4" r="1.35"/>
<circle class="c8" cx="109.7" cy="620.2" r="1.35"/>
<circle class="c8" cx="103.7" cy="496.3" r="1.35"/>
<circle class="c8" cx="103.3" cy="586" r="1.35"/>
<circle class="c8" cx="103.4" cy="497.7" r="1.35"/>
<circle class="c8" cx="112.3" cy="595.1" r="1.35"/>
<circle class="c8" cx="104.5" cy="600.9" r="1.35"/>
<circle class="c8" cx="109.5" cy="584.1" r="1.35"/>
<circle class="c8" cx="103.4" cy="603.8" r="1.35"/>
<circle class="c8" cx="108.7" cy="607.3" r="1.35"/>
<circle class="c8" cx="105" cy="545.8" r="1.35"/>
<circle class="c8" cx="108.7" cy="598.6" r="1.35"/>
<circle class="c8" cx="110" cy="564.5" r="1.35"/>
<circle class="c8" cx="109.4" cy="576.1" r="1.35"/>
<circle class="c8" cx="108.1" cy="578.1" r="1.35"/>
<circle class="c8" cx="109.8" cy="581.4" r="1.35"/>
<circle class="c8" cx="102.9" cy="608.8" r="1.35"/>
<circle class="c8" cx="103.4" cy="588.1" r="1.35"/>
<circle class="c8" cx="105.2" cy="583.5" r="1.35"/>
<circle class="c8" cx="107.2" cy="611.1" r="1.35"/>
<circle class="c8" cx="110.2" cy="613.4" r="1.35"/>
<circle class="c8" cx="103.2" cy="568.5" r="1.35"/>
<circle class="c8" cx="104.9" cy="594.2" r="1.35"/>
<circle class="c8" cx="107.9" cy="554.5" r="1.35"/>
<circle class="c8" cx="106" cy="590.6" r="1.35"/>
<circle class="c8" cx="103.7" cy="588.9" r="1.35"/>
<circle class="c8" cx="105.6" cy="623.1" r="1.35"/>
<circle class="c8" cx="103.2" cy="595.3" r="1.35"/>
<circle class="c8" cx="103" cy="598.7" r="1.35"/>
<circle class="c8" cx="111" cy="589.4" r="1.35"/>
<circle class="c8" cx="105.9" cy="516.8" r="1.35"/>
<circle class="c8" cx="109.8" cy="593.7" r="1.35"/>
<circle class="c8" cx="105.3" cy="623.6" r="1.35"/>
<circle class="c8" cx="110" cy="544.6" r="1.35"/>
<circle class="c8" cx="111.4" cy="605.9" r="1.35"/>
<circle class="c8" cx="103.1" cy="619.6" r="1.35"/>
<circle class="c8" cx="108.7" cy="604.2" r="1.35"/>
<circle class="c8" cx="111.6" cy="583.6" r="1.35"/>
<circle class="c8" cx="110.3" cy="603.9" r="1.35"/>
<circle class="c8" cx="104.1" cy="608.4" r="1.35"/>
<circle class="c8" cx="109.9" cy="573.8" r="1.35"/>
<circle class="c8" cx="110.1" cy="596" r="1.35"/>
<circle class="c8" cx="104.4" cy="592.8" r="1.35"/>
<circle class="c8" cx="109.2" cy="613.9" r="1.35"/>
<circle class="c8" cx="108.9" cy="596.6" r="1.35"/>
<circle class="c8" cx="104.8" cy="521.4" r="1.35"/>
<circle class="c8" cx="110.8" cy="572.3" r="1.35"/>
<circle class="c8" cx="111.1" cy="606.8" r="1.35"/>
<circle class="c8" cx="103.6" cy="507.2" r="1.35"/>
<circle class="c8" cx="107.4" cy="567.6" r="1.35"/>
<circle class="c8" cx="108.5" cy="543.9" r="1.35"/>
<circle class="c8" cx="103" cy="617.2" r="1.35"/>
<circle class="c8" cx="107.9" cy="619.6" r="1.35"/>
<circle class="c8" cx="111.9" cy="624.9" r="1.35"/>
<circle class="c8" cx="106.1" cy="601.6" r="1.35"/>
<circle class="c8" cx="107.7" cy="590" r="1.35"/>
<circle class="c8" cx="111.9" cy="586.7" r="1.35"/>
<circle class="c8" cx="111.3" cy="583.3" r="1.35"/>
<circle class="c8" cx="112" cy="515.4" r="1.35"/>
<circle class="c8" cx="103.8" cy="577.4" r="1.35"/>
<circle class="c8" cx="112.5" cy="548.9" r="1.35"/>
<circle class="c8" cx="106.1" cy="549.3" r="1.35"/>
<circle class="c8" cx="106.4" cy="620.1" r="1.35"/>
<circle class="c8" cx="104.7" cy="605.7" r="1.35"/>
<circle class="c8" cx="110.6" cy="611.7" r="1.35"/>
<circle class="c8" cx="108.6" cy="596.8" r="1.35"/>
<circle class="c8" cx="107.3" cy="522.8" r="1.35"/>
<circle class="c8" cx="107.7" cy="591.4" r="1.35"/>
<circle class="c8" cx="107.8" cy="624.2" r="1.35"/>
<circle class="c8" cx="108.5" cy="567.4" r="1.35"/>
<circle class="c8" cx="104.4" cy="511.1" r="1.35"/>
<circle class="c8" cx="109.8" cy="492.8" r="1.35"/>
<circle class="c8" cx="105.4" cy="583.7" r="1.35"/>
<circle class="c8" cx="103.1" cy="577.6" r="1.35"/>
<circle class="c8" cx="112.1" cy="579.5" r="1.35"/>
<circle class="c8" cx="103.8" cy="620.6" r="1.35"/>
<circle class="c8" cx="110.6" cy="607.9" r="1.35"/>
<circle class="c8" cx="110.3" cy="575.1" r="1.35"/>
<circle class="c8" cx="107" cy="591.7" r="1.35"/>
<circle class="c8" cx="108.7" cy="594.9" r="1.35"/>
<circle class="c8" cx="105.2" cy="601.8" r="1.35"/>
<circle class="c8" cx="105" cy="595.2" r="1.35"/>
<circle class="c8" cx="111.4" cy="614.6" r="1.35"/>
<circle class="c8" cx="110.1" cy="595.8" r="1.35"/>
<circle class="c8" cx="110.3" cy="579.9" r="1.35"/>
<circle class="c8" cx="107.3" cy="571.8" r="1.35"/>
<circle class="c8" cx="103.2" cy="605.8" r="1.35"/>
<circle class="c8" cx="110.3" cy="619.1" r="1.35"/>
<circle class="c8" cx="112.1" cy="555.6" r="1.35"/>
<circle class="c8" cx="105.9" cy="596" r="1.35"/>
<circle class="c8" cx="108.9" cy="489.4" r="1.35"/>
<circle class="c8" cx="104.3" cy="610.1" r="1.35"/>
<circle class="c8" cx="112.1" cy="525.6" r="1.35"/>
<circle class="c8" cx="109.7" cy="599.6" r="1.35"/>
<circle class="c8" cx="103.5" cy="624.1" r="1.35"/>
<circle class="c8" cx="109.6" cy="608.2" r="1.35"/>
<circle class="c8" cx="109.4" cy="586.3" r="1.35"/>
<circle class="c8" cx="107.1" cy="488" r="1.35"/>
<circle class="c8" cx="108.5" cy="596.7" r="1.35"/>
<circle class="c8" cx="111.8" cy="513.7" r="1.35"/>
<circle class="c8" cx="109.4" cy="583.5" r="1.35"/>
<circle class="c8" cx="107.4" cy="577.3" r="1.35"/>
<circle class="c8" cx="112.2" cy="624" r="1.35"/>
<circle class="c8" cx="109" cy="598.5" r="1.35"/>
<circle class="c8" cx="110.4" cy="589.1" r="1.35"/>
<circle class="c8" cx="108.2" cy="598.8" r="1.35"/>
<circle class="c8" cx="110.2" cy="623.8" r="1.35"/>
<circle class="c8" cx="110.3" cy="595.9" r="1.35"/>
<circle class="c8" cx="107.7" cy="613" r="1.35"/>
<circle class="c8" cx="107.4" cy="601.4" r="1.35"/>
<circle class="c8" cx="104.8" cy="599.5" r="1.35"/>
<circle class="c8" cx="109.2" cy="607.5" r="1.35"/>
<circle class="c8" cx="109.9" cy="596.8" r="1.35"/>
<circle class="c8" cx="106.8" cy="570.3" r="1.35"/>
<circle class="c8" cx="103.5" cy="565.1" r="1.35"/>
<circle class="c8" cx="109.7" cy="579.7" r="1.35"/>
<circle class="c8" cx="109.1" cy="562.9" r="1.35"/>
<circle class="c8" cx="109.1" cy="622.3" r="1.35"/>
<circle class="c8" cx="104.4" cy="596.8" r="1.35"/>
<circle class="c8" cx="111.4" cy="593" r="1.35"/>
<circle class="c8" cx="109.9" cy="595" r="1.35"/>
<circle class="c8" cx="110.6" cy="565.6" r="1.35"/>
<circle class="c8" cx="104.3" cy="536.9" r="1.35"/>
<circle class="c8" cx="105.5" cy="588" r="1.35"/>
<circle class="c8" cx="108" cy="496.7" r="1.35"/>
<circle class="c8" cx="103" cy="618.3" r="1.35"/>
<circle class="c8" cx="112.2" cy="597.4" r="1.35"/>
<circle class="c8" cx="104.6" cy="588.7" r="1.35"/>
<circle class="c8" cx="104.4" cy="594.7" r="1.35"/>
<circle class="c8" cx="110.5" cy="593.6" r="1.35"/>
<circle class="c8" cx="105.2" cy="583.5" r="1.35"/>
<circle class="c8" cx="108.4" cy="607.5" r="1.35"/>
<circle class="c8" cx="109.2" cy="539.2" r="1.35"/>
<circle class="c8" cx="104.8" cy="622.7" r="1.35"/>
<circle class="c8" cx="103.4" cy="574" r="1.35"/>
<circle class="c8" cx="109.7" cy="512.7" r="1.35"/>
<circle class="c8" cx="111.3" cy="573.6" r="1.35"/>
<circle class="c8" cx="110.7" cy="493.3" r="1.35"/>
<circle class="c8" cx="103.9" cy="622.3" r="1.35"/>
<circle class="c8" cx="106.1" cy="624.8" r="1.35"/>
<circle class="c8" cx="107.2" cy="489.9" r="1.35"/>
<circle class="c8" cx="103.2" cy="569.6" r="1.35"/>
<circle class="c8" cx="111.4" cy="572.1" r="1.35"/>
<circle class="c8" cx="110.9" cy="588.5" r="1.35"/>
<circle class="c8" cx="112.2" cy="600.3" r="1.35"/>
<circle class="c8" cx="111.7" cy="606.7" r="1.35"/>
<circle class="c8" cx="110.9" cy="498.7" r="1.35"/>
<circle class="c8" cx="105.8" cy="547.7" r="1.35"/>
<circle class="c8" cx="109.2" cy="597.8" r="1.35"/>
<circle class="c8" cx="111.3" cy="563.7" r="1.35"/>
<circle class="c8" cx="103" cy="592.7" r="1.35"/>
<circle class="c8" cx="103.6" cy="489" r="1.35"/>
<circle class="c8" cx="112.4" cy="492.3" r="1.35"/>
<rect x="42.6" y="465" width="90.2" height="167.7" fill="none" stroke="#777" stroke-width="0.9"/>
<line x1="40.6" y1="498.7" x2="42.6" y2="498.7" stroke="#555" stroke-width="0.7" />
<text x="38" y="502.2" font-size="10.2" text-anchor="end" font-weight="normal" fill="#000" font-family="Liberation Sans" >0.60</text>
<line x1="40.6" y1="541.7" x2="42.6" y2="541.7" stroke="#555" stroke-width="0.7" />
<text x="38" y="545.2" font-size="10.2" text-anchor="end" font-weight="normal" fill="#000" font-family="Liberation Sans" >0.40</text>
<line x1="40.6" y1="584.7" x2="42.6" y2="584.7" stroke="#555" stroke-width="0.7" />
<text x="38" y="588.2" font-size="10.2" text-anchor="end" font-weight="normal" fill="#000" font-family="Liberation Sans" >0.20</text>
<line x1="40.6" y1="627.7" x2="42.6" y2="627.7" stroke="#555" stroke-width="0.7" />
<text x="38" y="631.2" font-size="10.2" text-anchor="end" font-weight="normal" fill="#000" font-family="Liberation Sans" >0.00</text>
<line x1="67.1" y1="632.7" x2="67.1" y2="634.7" stroke="#555" stroke-width="0.7" />
<line x1="107.7" y1="632.7" x2="107.7" y2="634.7" stroke="#555" stroke-width="0.7" />
<text x="67.1" y="647" font-size="10.2" text-anchor="middle" font-weight="normal" fill="#000" font-family="Liberation Sans" ><tspan style="font-family:'Liberation Serif'">α</tspan>-chain</text>
<text x="107.7" y="647" font-size="10.2" text-anchor="middle" font-weight="normal" fill="#000" font-family="Liberation Sans" ><tspan style="font-family:'Liberation Serif'">β</tspan>-chain</text>
<text x="129.5" y="476" font-size="10" text-anchor="end" font-weight="normal" fill="#000" font-family="Liberation Sans" ><tspan font-style="italic">P</tspan> = 0.970</text>
<text x="0" y="0" font-size="10.3" text-anchor="middle" fill="#000" transform="translate(5.5,548.5) rotate(-90)" dominant-baseline="central">Proportion of TCR repertoire</text>
<text x="153.5" y="466.9" font-size="12.3" text-anchor="start" font-weight="bold" fill="#000" font-family="Liberation Sans" stroke="#000" stroke-width="0.25">e</text>
<line x1="207.1" y1="466.2" x2="207.1" y2="632.1" stroke="#f4f4f4" stroke-width="0.6" />
<line x1="264.9" y1="466.2" x2="264.9" y2="632.1" stroke="#f4f4f4" stroke-width="0.6" />
<line x1="322.7" y1="466.2" x2="322.7" y2="632.1" stroke="#f4f4f4" stroke-width="0.6" />
<line x1="380.5" y1="466.2" x2="380.5" y2="632.1" stroke="#f4f4f4" stroke-width="0.6" />
<line x1="438.3" y1="466.2" x2="438.3" y2="632.1" stroke="#f4f4f4" stroke-width="0.6" />
<line x1="496.1" y1="466.2" x2="496.1" y2="632.1" stroke="#f4f4f4" stroke-width="0.6" />
<line x1="236" y1="466.2" x2="236" y2="632.1" stroke="#ebebeb" stroke-width="0.6" />
<line x1="293.8" y1="466.2" x2="293.8" y2="632.1" stroke="#ebebeb" stroke-width="0.6" />
<line x1="409.4" y1="466.2" x2="409.4" y2="632.1" stroke="#ebebeb" stroke-width="0.6" />
<line x1="467.2" y1="466.2" x2="467.2" y2="632.1" stroke="#ebebeb" stroke-width="0.6" />
<line x1="192.6" y1="608.4" x2="510.3" y2="608.4" stroke="#f4f4f4" stroke-width="0.6" />
<line x1="192.6" y1="577.1" x2="510.3" y2="577.1" stroke="#f4f4f4" stroke-width="0.6" />
<line x1="192.6" y1="545.9" x2="510.3" y2="545.9" stroke="#f4f4f4" stroke-width="0.6" />
<line x1="192.6" y1="514.7" x2="510.3" y2="514.7" stroke="#f4f4f4" stroke-width="0.6" />
<line x1="192.6" y1="483.4" x2="510.3" y2="483.4" stroke="#f4f4f4" stroke-width="0.6" />
<line x1="192.6" y1="624" x2="510.3" y2="624" stroke="#ebebeb" stroke-width="0.6" />
<line x1="192.6" y1="592.8" x2="510.3" y2="592.8" stroke="#ebebeb" stroke-width="0.6" />
<line x1="192.6" y1="561.5" x2="510.3" y2="561.5" stroke="#ebebeb" stroke-width="0.6" />
<line x1="192.6" y1="530.3" x2="510.3" y2="530.3" stroke="#ebebeb" stroke-width="0.6" />
<line x1="192.6" y1="499" x2="510.3" y2="499" stroke="#ebebeb" stroke-width="0.6" />
<line x1="192.6" y1="467.8" x2="510.3" y2="467.8" stroke="#ebebeb" stroke-width="0.6" />
<line x1="351.6" y1="466.2" x2="351.6" y2="632.1" stroke="#999" stroke-width="1.0" />
<circle class="c9" cx="279.6" cy="615.6" r="1.8"/>
<circle class="c9" cx="280.6" cy="605.6" r="1.8"/>
<circle class="c10" cx="445.4" cy="508" r="1.8"/>
<circle class="c10" cx="417" cy="608.9" r="1.8"/>
<circle class="c10" cx="355.6" cy="615.6" r="1.8"/>
<circle class="c9" cx="274.4" cy="573.2" r="1.8"/>
<circle class="c9" cx="292.5" cy="617.1" r="1.8"/>
<circle class="c10" cx="373.7" cy="623.9" r="1.8"/>
<circle class="c10" cx="388.8" cy="623.9" r="1.8"/>
<circle class="c10" cx="417.9" cy="618.7" r="1.8"/>
<circle class="c10" cx="397.1" cy="620.6" r="1.8"/>
<circle class="c10" cx="441" cy="523.8" r="1.8"/>
<circle class="c10" cx="360.7" cy="617.5" r="1.8"/>
<circle class="c9" cx="287.5" cy="601.8" r="1.8"/>
<circle class="c9" cx="281" cy="607.8" r="1.8"/>
<circle class="c10" cx="407.8" cy="607.8" r="1.8"/>
<circle class="c10" cx="448.2" cy="494.4" r="1.8"/>
<circle class="c10" cx="359.9" cy="622.5" r="1.8"/>
<circle class="c10" cx="407.5" cy="607.8" r="1.8"/>
<circle class="c9" cx="314.4" cy="535.9" r="1.8"/>
<circle class="c10" cx="424.5" cy="533.1" r="1.8"/>
<circle class="c10" cx="396.5" cy="622.7" r="1.8"/>
<circle class="c10" cx="433.4" cy="587.4" r="1.8"/>
<circle class="c10" cx="371.1" cy="578.4" r="1.8"/>
<circle class="c9" cx="315.2" cy="616.3" r="1.8"/>
<circle class="c10" cx="359.4" cy="623.8" r="1.8"/>
<circle class="c10" cx="440" cy="487.8" r="1.8"/>
<circle class="c10" cx="396.5" cy="622.6" r="1.8"/>
<circle class="c10" cx="404.2" cy="622.1" r="1.8"/>
<circle class="c9" cx="318.5" cy="593.4" r="1.8"/>
<circle class="c10" cx="440.3" cy="552.6" r="1.8"/>
<circle class="c10" cx="404.6" cy="621.8" r="1.8"/>
<circle class="c10" cx="426.7" cy="539.7" r="1.8"/>
<circle class="c10" cx="369.3" cy="615.7" r="1.8"/>
<circle class="c9" cx="337.5" cy="622.8" r="1.8"/>
<circle class="c9" cx="293.6" cy="623.8" r="1.8"/>
<circle class="c10" cx="435" cy="539.7" r="1.8"/>
<circle class="c10" cx="383.5" cy="623.5" r="1.8"/>
<circle class="c10" cx="417.5" cy="611.4" r="1.8"/>
<circle class="c10" cx="390.3" cy="597.4" r="1.8"/>
<circle class="c9" cx="309.1" cy="617.2" r="1.8"/>
<circle class="c9" cx="291.6" cy="622.5" r="1.8"/>
<circle class="c9" cx="283.6" cy="619.7" r="1.8"/>
<circle class="c9" cx="380" cy="560.8" r="1.8"/>
<circle class="c10" cx="358.7" cy="617.4" r="1.8"/>
<circle class="c9" cx="274.4" cy="590" r="1.8"/>
<circle class="c9" cx="276" cy="601.5" r="1.8"/>
<circle class="c10" cx="390.4" cy="621.5" r="1.8"/>
<circle class="c9" cx="279.8" cy="594.8" r="1.8"/>
<circle class="c9" cx="257" cy="509.4" r="1.8"/>
<circle class="c9" cx="318.8" cy="607" r="1.8"/>
<circle class="c9" cx="286.2" cy="608.7" r="1.8"/>
<circle class="c9" cx="284.6" cy="598.9" r="1.8"/>
<circle class="c9" cx="304.6" cy="612" r="1.8"/>
<circle class="c10" cx="393.4" cy="620" r="1.8"/>
<circle class="c10" cx="408.1" cy="621.7" r="1.8"/>
<circle class="c10" cx="435.8" cy="541.8" r="1.8"/>
<circle class="c10" cx="372.3" cy="621.4" r="1.8"/>
<circle class="c10" cx="441.5" cy="532.2" r="1.8"/>
<circle class="c10" cx="432.2" cy="565.1" r="1.8"/>
<circle class="c10" cx="386" cy="608.7" r="1.8"/>
<circle class="c10" cx="404.7" cy="623.7" r="1.8"/>
<circle class="c10" cx="390.5" cy="623.8" r="1.8"/>
<circle class="c9" cx="303.1" cy="617" r="1.8"/>
<circle class="c10" cx="397.1" cy="557.7" r="1.8"/>
<circle class="c10" cx="376.8" cy="623.9" r="1.8"/>
<circle class="c10" cx="440.9" cy="505.5" r="1.8"/>
<circle class="c9" cx="319.4" cy="619.7" r="1.8"/>
<circle class="c9" cx="303.4" cy="618.2" r="1.8"/>
<circle class="c9" cx="298.2" cy="622.9" r="1.8"/>
<circle class="c9" cx="288.1" cy="618.2" r="1.8"/>
<circle class="c9" cx="323.8" cy="620.8" r="1.8"/>
<circle class="c10" cx="444.9" cy="507.9" r="1.8"/>
<circle class="c10" cx="410.6" cy="623.1" r="1.8"/>
<circle class="c10" cx="389.9" cy="624" r="1.8"/>
<circle class="c10" cx="432.1" cy="588.3" r="1.8"/>
<circle class="c9" cx="304.7" cy="614.4" r="1.8"/>
<circle class="c9" cx="294.9" cy="623" r="1.8"/>
<circle class="c9" cx="268.3" cy="563.7" r="1.8"/>
<circle class="c10" cx="431.5" cy="591.5" r="1.8"/>
<circle class="c9" cx="289.3" cy="589.4" r="1.8"/>
<circle class="c9" cx="288.7" cy="616.8" r="1.8"/>
<circle class="c9" cx="313.5" cy="612.8" r="1.8"/>
<circle class="c10" cx="396.6" cy="623.7" r="1.8"/>
<circle class="c10" cx="413" cy="558.3" r="1.8"/>
<circle class="c9" cx="395.3" cy="606" r="1.8"/>
<circle class="c10" cx="375.5" cy="624" r="1.8"/>
<circle class="c10" cx="424.6" cy="552.6" r="1.8"/>
<circle class="c10" cx="409.4" cy="622" r="1.8"/>
<circle class="c9" cx="295.6" cy="611.2" r="1.8"/>
<circle class="c10" cx="384.9" cy="621.9" r="1.8"/>
<circle class="c10" cx="438.5" cy="502.9" r="1.8"/>
<circle class="c9" cx="277.9" cy="599" r="1.8"/>
<circle class="c9" cx="318" cy="621.2" r="1.8"/>
<circle class="c9" cx="257.1" cy="516.4" r="1.8"/>
<circle class="c9" cx="356.4" cy="621.5" r="1.8"/>
<circle class="c9" cx="366.5" cy="537.5" r="1.8"/>
<circle class="c10" cx="424.4" cy="557.4" r="1.8"/>
<circle class="c9" cx="336.9" cy="609" r="1.8"/>
<circle class="c9" cx="348.9" cy="623.3" r="1.8"/>
<circle class="c10" cx="385.4" cy="621.8" r="1.8"/>
<circle class="c9" cx="358.4" cy="621.5" r="1.8"/>
<circle class="c10" cx="446.2" cy="481.3" r="1.8"/>
<circle class="c10" cx="417.5" cy="559.7" r="1.8"/>
<circle class="c10" cx="410.2" cy="618.8" r="1.8"/>
<circle class="c9" cx="301.3" cy="622.8" r="1.8"/>
<circle class="c9" cx="286.9" cy="593.7" r="1.8"/>
<circle class="c9" cx="309.8" cy="616.3" r="1.8"/>
<circle class="c10" cx="442.8" cy="533.4" r="1.8"/>
<circle class="c10" cx="376.8" cy="571.9" r="1.8"/>
<circle class="c10" cx="368" cy="617.9" r="1.8"/>
<circle class="c10" cx="365.2" cy="621.8" r="1.8"/>
<circle class="c9" cx="306.8" cy="621.4" r="1.8"/>
<circle class="c10" cx="421.9" cy="577.1" r="1.8"/>
<circle class="c10" cx="411" cy="618" r="1.8"/>
<circle class="c9" cx="377.5" cy="620.2" r="1.8"/>
<circle class="c10" cx="389" cy="620.2" r="1.8"/>
<circle class="c10" cx="413.9" cy="591.1" r="1.8"/>
<circle class="c9" cx="303.2" cy="615.9" r="1.8"/>
<circle class="c9" cx="291.5" cy="620.7" r="1.8"/>
<circle class="c10" cx="389.5" cy="623.4" r="1.8"/>
<circle class="c10" cx="371.4" cy="623.4" r="1.8"/>
<circle class="c10" cx="421.3" cy="584.9" r="1.8"/>
<circle class="c10" cx="362.4" cy="621.2" r="1.8"/>
<circle class="c9" cx="317.2" cy="614.1" r="1.8"/>
<circle class="c10" cx="386.7" cy="615.2" r="1.8"/>
<circle class="c10" cx="395.4" cy="619.2" r="1.8"/>
<circle class="c10" cx="410.7" cy="615.9" r="1.8"/>
<circle class="c9" cx="297.3" cy="621" r="1.8"/>
<circle class="c10" cx="429.9" cy="595.5" r="1.8"/>
<circle class="c10" cx="402.9" cy="622.7" r="1.8"/>
<circle class="c10" cx="417" cy="592.1" r="1.8"/>
<circle class="c9" cx="284.4" cy="611.8" r="1.8"/>
<circle class="c10" cx="399.1" cy="586.9" r="1.8"/>
<circle class="c9" cx="320.1" cy="550.2" r="1.8"/>
<circle class="c10" cx="393.3" cy="623" r="1.8"/>
<circle class="c9" cx="278.1" cy="613.7" r="1.8"/>
<circle class="c9" cx="375.1" cy="572" r="1.8"/>
<circle class="c10" cx="427.4" cy="600.2" r="1.8"/>
<circle class="c10" cx="406.1" cy="623.6" r="1.8"/>
<circle class="c10" cx="423" cy="523.3" r="1.8"/>
<circle class="c10" cx="363.7" cy="574.5" r="1.8"/>
<circle class="c9" cx="293.4" cy="588.6" r="1.8"/>
<circle class="c10" cx="400.7" cy="597.1" r="1.8"/>
<circle class="c9" cx="306" cy="536.4" r="1.8"/>
<circle class="c9" cx="285.1" cy="620.9" r="1.8"/>
<circle class="c9" cx="315" cy="618.6" r="1.8"/>
<circle class="c9" cx="391.8" cy="621.2" r="1.8"/>
<circle class="c9" cx="272.7" cy="600.9" r="1.8"/>
<circle class="c10" cx="377.2" cy="622.2" r="1.8"/>
<circle class="c10" cx="440.9" cy="501.6" r="1.8"/>
<circle class="c10" cx="384.5" cy="622.4" r="1.8"/>
<circle class="c9" cx="255.7" cy="540.1" r="1.8"/>
<circle class="c10" cx="427.2" cy="588.7" r="1.8"/>
<circle class="c9" cx="334.8" cy="620.8" r="1.8"/>
<circle class="c10" cx="396.5" cy="529.8" r="1.8"/>
<circle class="c9" cx="278.7" cy="571" r="1.8"/>
<circle class="c9" cx="272.5" cy="600.6" r="1.8"/>
<circle class="c9" cx="304.7" cy="623.1" r="1.8"/>
<circle class="c9" cx="337.8" cy="624" r="1.8"/>
<circle class="c9" cx="318.9" cy="526.3" r="1.8"/>
<circle class="c9" cx="256.9" cy="507.6" r="1.8"/>
<circle class="c10" cx="388.6" cy="624" r="1.8"/>
<circle class="c10" cx="371.9" cy="621" r="1.8"/>
<circle class="c9" cx="345.1" cy="617.4" r="1.8"/>
<circle class="c9" cx="313.9" cy="616.8" r="1.8"/>
<circle class="c10" cx="393.4" cy="611.2" r="1.8"/>
<circle class="c9" cx="286" cy="605.5" r="1.8"/>
<circle class="c10" cx="440.7" cy="519.5" r="1.8"/>
<circle class="c10" cx="415.4" cy="616.8" r="1.8"/>
<circle class="c9" cx="286.1" cy="618.5" r="1.8"/>
<circle class="c10" cx="420.4" cy="609.4" r="1.8"/>
<circle class="c10" cx="418.5" cy="599.5" r="1.8"/>
<circle class="c10" cx="403.1" cy="622.4" r="1.8"/>
<circle class="c10" cx="434.5" cy="556.3" r="1.8"/>
<circle class="c10" cx="365.1" cy="621.4" r="1.8"/>
<circle class="c9" cx="280.9" cy="610.8" r="1.8"/>
<circle class="c9" cx="338.9" cy="617.8" r="1.8"/>
<circle class="c9" cx="281.6" cy="615.1" r="1.8"/>
<circle class="c9" cx="282.3" cy="607.9" r="1.8"/>
<circle class="c10" cx="416.9" cy="617.4" r="1.8"/>
<circle class="c10" cx="374.6" cy="624" r="1.8"/>
<circle class="c9" cx="288.3" cy="612.3" r="1.8"/>
<circle class="c10" cx="367.7" cy="611.2" r="1.8"/>
<circle class="c10" cx="427.5" cy="533.7" r="1.8"/>
<circle class="c9" cx="278.4" cy="598.7" r="1.8"/>
<circle class="c10" cx="434.6" cy="522.4" r="1.8"/>
<circle class="c10" cx="395" cy="611.9" r="1.8"/>
<circle class="c10" cx="379.1" cy="617.5" r="1.8"/>
<circle class="c9" cx="372" cy="616.1" r="1.8"/>
<circle class="c10" cx="430.7" cy="584.8" r="1.8"/>
<circle class="c10" cx="385.6" cy="620.1" r="1.8"/>
<circle class="c10" cx="420.7" cy="607.7" r="1.8"/>
<circle class="c10" cx="412" cy="620.8" r="1.8"/>
<circle class="c9" cx="310.6" cy="618.8" r="1.8"/>
<circle class="c9" cx="261.9" cy="569.1" r="1.8"/>
<circle class="c9" cx="335.8" cy="623.2" r="1.8"/>
<circle class="c9" cx="283.3" cy="610.2" r="1.8"/>
<circle class="c10" cx="368.2" cy="617.4" r="1.8"/>
<circle class="c10" cx="432.4" cy="554.2" r="1.8"/>
<circle class="c9" cx="281.7" cy="610.9" r="1.8"/>
<circle class="c10" cx="372.9" cy="623.2" r="1.8"/>
<circle class="c10" cx="369.3" cy="623.4" r="1.8"/>
<circle class="c9" cx="329.3" cy="619.6" r="1.8"/>
<circle class="c9" cx="359.7" cy="622.3" r="1.8"/>
<circle class="c9" cx="299.8" cy="614.8" r="1.8"/>
<circle class="c9" cx="268.1" cy="586" r="1.8"/>
<circle class="c10" cx="425.3" cy="563.5" r="1.8"/>
<circle class="c10" cx="375.8" cy="618.7" r="1.8"/>
<circle class="c9" cx="263.3" cy="562.4" r="1.8"/>
<circle class="c9" cx="299.3" cy="618" r="1.8"/>
<circle class="c9" cx="271.1" cy="585.7" r="1.8"/>
<circle class="c10" cx="408.5" cy="615.7" r="1.8"/>
<circle class="c10" cx="429.5" cy="600.4" r="1.8"/>
<circle class="c9" cx="315" cy="623.3" r="1.8"/>
<circle class="c10" cx="441.1" cy="522.4" r="1.8"/>
<circle class="c9" cx="312.4" cy="623.8" r="1.8"/>
<circle class="c10" cx="396.2" cy="605.4" r="1.8"/>
<circle class="c10" cx="379.9" cy="619.4" r="1.8"/>
<circle class="c10" cx="439.5" cy="556.4" r="1.8"/>
<circle class="c10" cx="404.2" cy="622.2" r="1.8"/>
<circle class="c10" cx="429.6" cy="574.3" r="1.8"/>
<circle class="c10" cx="418.4" cy="542.7" r="1.8"/>
<circle class="c9" cx="294.3" cy="567.8" r="1.8"/>
<circle class="c10" cx="433.5" cy="528.8" r="1.8"/>
<circle class="c10" cx="440.2" cy="549.5" r="1.8"/>
<circle class="c10" cx="422.8" cy="599.2" r="1.8"/>
<circle class="c10" cx="421.5" cy="552.1" r="1.8"/>
<circle class="c9" cx="289" cy="618.3" r="1.8"/>
<circle class="c9" cx="275.3" cy="570.6" r="1.8"/>
<circle class="c9" cx="359.3" cy="589.6" r="1.8"/>
<circle class="c10" cx="420.6" cy="602.2" r="1.8"/>
<circle class="c9" cx="295" cy="617.7" r="1.8"/>
<circle class="c9" cx="295.3" cy="613.4" r="1.8"/>
<circle class="c10" cx="407.5" cy="607.3" r="1.8"/>
<circle class="c9" cx="273" cy="596.1" r="1.8"/>
<circle class="c10" cx="415.3" cy="570.8" r="1.8"/>
<circle class="c10" cx="372.3" cy="623.5" r="1.8"/>
<circle class="c9" cx="285.5" cy="617.5" r="1.8"/>
<circle class="c10" cx="408.8" cy="615.3" r="1.8"/>
<circle class="c9" cx="304.6" cy="563.6" r="1.8"/>
<circle class="c10" cx="410.5" cy="619.9" r="1.8"/>
<circle class="c10" cx="402.5" cy="619" r="1.8"/>
<circle class="c10" cx="400.8" cy="610.8" r="1.8"/>
<circle class="c9" cx="412" cy="613.5" r="1.8"/>
<circle class="c10" cx="398.3" cy="595.2" r="1.8"/>
<circle class="c10" cx="446.7" cy="491.3" r="1.8"/>
<circle class="c9" cx="321.4" cy="573" r="1.8"/>
<circle class="c9" cx="323.6" cy="622.5" r="1.8"/>
<circle class="c9" cx="300.7" cy="621" r="1.8"/>
<circle class="c10" cx="386.2" cy="559.4" r="1.8"/>
<circle class="c10" cx="444.2" cy="487.8" r="1.8"/>
<circle class="c10" cx="369.2" cy="622.5" r="1.8"/>
<circle class="c10" cx="389.9" cy="623.9" r="1.8"/>
<circle class="c9" cx="268.4" cy="581.3" r="1.8"/>
<circle class="c9" cx="329.6" cy="622.2" r="1.8"/>
<circle class="c10" cx="436" cy="534.2" r="1.8"/>
<circle class="c9" cx="267.5" cy="579.7" r="1.8"/>
<circle class="c9" cx="279.7" cy="571.4" r="1.8"/>
<circle class="c10" cx="411.7" cy="620.4" r="1.8"/>
<circle class="c9" cx="300.5" cy="619.8" r="1.8"/>
<circle class="c10" cx="375.2" cy="624" r="1.8"/>
<circle class="c9" cx="311.2" cy="618.5" r="1.8"/>
<circle class="c9" cx="313.9" cy="620.3" r="1.8"/>
<circle class="c10" cx="389.9" cy="613.6" r="1.8"/>
<circle class="c9" cx="299.2" cy="607.3" r="1.8"/>
<circle class="c10" cx="386.7" cy="622.6" r="1.8"/>
<circle class="c10" cx="384.9" cy="617" r="1.8"/>
<circle class="c9" cx="371.4" cy="572.8" r="1.8"/>
<circle class="c10" cx="409.3" cy="617.8" r="1.8"/>
<circle class="c10" cx="417" cy="594.2" r="1.8"/>
<circle class="c9" cx="390" cy="581.2" r="1.8"/>
<circle class="c9" cx="276.5" cy="601.3" r="1.8"/>
<circle class="c10" cx="429.2" cy="583.5" r="1.8"/>
<circle class="c10" cx="424.9" cy="542.1" r="1.8"/>
<circle class="c10" cx="370.6" cy="617.7" r="1.8"/>
<circle class="c9" cx="285.9" cy="620.2" r="1.8"/>
<circle class="c10" cx="372.7" cy="623.2" r="1.8"/>
<circle class="c10" cx="409.7" cy="592.6" r="1.8"/>
<circle class="c10" cx="384.6" cy="612.8" r="1.8"/>
<circle class="c10" cx="425.6" cy="594.8" r="1.8"/>
<circle class="c9" cx="342.2" cy="624" r="1.8"/>
<circle class="c10" cx="371.8" cy="623.2" r="1.8"/>
<circle class="c9" cx="252.9" cy="481.3" r="1.8"/>
<circle class="c9" cx="278.8" cy="588.2" r="1.8"/>
<circle class="c9" cx="263.9" cy="563.9" r="1.8"/>
<circle class="c9" cx="316.4" cy="622.2" r="1.8"/>
<circle class="c9" cx="346.7" cy="621.1" r="1.8"/>
<circle class="c10" cx="415.2" cy="542" r="1.8"/>
<circle class="c10" cx="423.7" cy="588.1" r="1.8"/>
<circle class="c10" cx="364.7" cy="621.1" r="1.8"/>
<circle class="c9" cx="280.6" cy="615.1" r="1.8"/>
<circle class="c10" cx="416" cy="592.5" r="1.8"/>
<circle class="c9" cx="285" cy="580.9" r="1.8"/>
<circle class="c10" cx="439.9" cy="483.2" r="1.8"/>
<circle class="c10" cx="369.8" cy="622.8" r="1.8"/>
<circle class="c10" cx="401" cy="619.3" r="1.8"/>
<circle class="c10" cx="362.8" cy="615.9" r="1.8"/>
<circle class="c10" cx="429.1" cy="493.7" r="1.8"/>
<circle class="c10" cx="422.3" cy="600" r="1.8"/>
<circle class="c9" cx="282.6" cy="606.6" r="1.8"/>
<circle class="c9" cx="332.6" cy="616.1" r="1.8"/>
<circle class="c9" cx="301.8" cy="603.3" r="1.8"/>
<circle class="c10" cx="443.4" cy="495.2" r="1.8"/>
<circle class="c9" cx="317.8" cy="613.5" r="1.8"/>
<circle class="c9" cx="294.6" cy="596.4" r="1.8"/>
<circle class="c10" cx="421.2" cy="588.3" r="1.8"/>
<circle class="c10" cx="389.1" cy="614.9" r="1.8"/>
<circle class="c9" cx="314.7" cy="623.7" r="1.8"/>
<circle class="c10" cx="431.4" cy="590.6" r="1.8"/>
<circle class="c9" cx="280" cy="577.4" r="1.8"/>
<circle class="c9" cx="414.4" cy="579.5" r="1.8"/>
<circle class="c9" cx="305.6" cy="622.2" r="1.8"/>
<circle class="c9" cx="288.3" cy="610.6" r="1.8"/>
<circle class="c9" cx="331.4" cy="481.4" r="1.8"/>
<circle class="c9" cx="331.1" cy="623.1" r="1.8"/>
<circle class="c9" cx="352.2" cy="623.6" r="1.8"/>
<circle class="c10" cx="395.5" cy="609.5" r="1.8"/>
<circle class="c10" cx="404.7" cy="618.3" r="1.8"/>
<circle class="c9" cx="288.5" cy="618.8" r="1.8"/>
<circle class="c9" cx="333.9" cy="623.3" r="1.8"/>
<circle class="c10" cx="388.6" cy="623.8" r="1.8"/>
<circle class="c9" cx="353.9" cy="616.7" r="1.8"/>
<circle class="c10" cx="427.2" cy="582.2" r="1.8"/>
<circle class="c9" cx="334.3" cy="624" r="1.8"/>
<circle class="c10" cx="415.4" cy="594.1" r="1.8"/>
<circle class="c10" cx="393.2" cy="623.6" r="1.8"/>
<circle class="c10" cx="382.2" cy="620.4" r="1.8"/>
<circle class="c10" cx="377.8" cy="615.2" r="1.8"/>
<circle class="c9" cx="254.3" cy="487.7" r="1.8"/>
<circle class="c10" cx="420.6" cy="577.7" r="1.8"/>
<circle class="c10" cx="412.8" cy="617.9" r="1.8"/>
<circle class="c10" cx="404.1" cy="623.9" r="1.8"/>
<circle class="c9" cx="293.4" cy="615.2" r="1.8"/>
<circle class="c9" cx="283.2" cy="617.2" r="1.8"/>
<circle class="c10" cx="384.9" cy="621" r="1.8"/>
<circle class="c9" cx="302.2" cy="572.6" r="1.8"/>
<circle class="c9" cx="287.9" cy="609.2" r="1.8"/>
<circle class="c10" cx="419.1" cy="588.3" r="1.8"/>
<circle class="c9" cx="295.3" cy="615.2" r="1.8"/>
<circle class="c10" cx="399.5" cy="623" r="1.8"/>
<circle class="c9" cx="278.8" cy="609.7" r="1.8"/>
<circle class="c9" cx="267.9" cy="570.1" r="1.8"/>
<circle class="c9" cx="282.2" cy="604.2" r="1.8"/>
<circle class="c10" cx="403.6" cy="623.9" r="1.8"/>
<circle class="c10" cx="418.5" cy="613.3" r="1.8"/>
<circle class="c9" cx="313.1" cy="617.6" r="1.8"/>
<circle class="c10" cx="437.3" cy="509.4" r="1.8"/>
<circle class="c9" cx="287.7" cy="620.8" r="1.8"/>
<circle class="c9" cx="300.3" cy="622.6" r="1.8"/>
<circle class="c10" cx="401.1" cy="614.9" r="1.8"/>
<circle class="c9" cx="288.6" cy="509.2" r="1.8"/>
<circle class="c9" cx="282.5" cy="606.4" r="1.8"/>
<circle class="c10" cx="444.7" cy="487.1" r="1.8"/>
<circle class="c9" cx="275.9" cy="596.7" r="1.8"/>
<circle class="c10" cx="387.8" cy="619.1" r="1.8"/>
<circle class="c9" cx="287.9" cy="609.7" r="1.8"/>
<circle class="c9" cx="289.3" cy="534.4" r="1.8"/>
<circle class="c10" cx="420.6" cy="522.5" r="1.8"/>
<circle class="c9" cx="328.5" cy="620.1" r="1.8"/>
<circle class="c9" cx="380.9" cy="563.1" r="1.8"/>
<circle class="c10" cx="432" cy="589.1" r="1.8"/>
<circle class="c10" cx="434.7" cy="538.3" r="1.8"/>
<circle class="c10" cx="375.9" cy="622.6" r="1.8"/>
<circle class="c10" cx="443.1" cy="495.9" r="1.8"/>
<circle class="c10" cx="444.6" cy="486.9" r="1.8"/>
<circle class="c10" cx="413" cy="621.4" r="1.8"/>
<circle class="c10" cx="435.5" cy="531.3" r="1.8"/>
<circle class="c9" cx="285.4" cy="618.4" r="1.8"/>
<circle class="c9" cx="296.6" cy="616.6" r="1.8"/>
<circle class="c10" cx="406.1" cy="570.5" r="1.8"/>
<circle class="c10" cx="412.8" cy="616.9" r="1.8"/>
<circle class="c10" cx="390.6" cy="622.6" r="1.8"/>
<circle class="c10" cx="408.7" cy="602.8" r="1.8"/>
<circle class="c9" cx="298.1" cy="616" r="1.8"/>
<circle class="c9" cx="311.5" cy="588.4" r="1.8"/>
<circle class="c10" cx="427.9" cy="602.7" r="1.8"/>
<circle class="c9" cx="259.4" cy="553.3" r="1.8"/>
<circle class="c9" cx="332.8" cy="600.6" r="1.8"/>
<circle class="c10" cx="395.9" cy="614.3" r="1.8"/>
<circle class="c9" cx="407.6" cy="590.9" r="1.8"/>
<circle class="c10" cx="400.1" cy="621" r="1.8"/>
<circle class="c10" cx="444.3" cy="520.8" r="1.8"/>
<circle class="c10" cx="430.1" cy="564.4" r="1.8"/>
<circle class="c10" cx="431.4" cy="545.5" r="1.8"/>
<circle class="c9" cx="271.9" cy="555.6" r="1.8"/>
<circle class="c9" cx="281.9" cy="608.8" r="1.8"/>
<circle class="c10" cx="435.3" cy="550.1" r="1.8"/>
<circle class="c9" cx="310" cy="620.8" r="1.8"/>
<circle class="c9" cx="361.2" cy="622.2" r="1.8"/>
<circle class="c9" cx="352.5" cy="616.4" r="1.8"/>
<circle class="c10" cx="399.3" cy="614.7" r="1.8"/>
<circle class="c10" cx="388.3" cy="623.4" r="1.8"/>
<circle class="c10" cx="372.1" cy="624" r="1.8"/>
<circle class="c10" cx="441.7" cy="529.4" r="1.8"/>
<circle class="c10" cx="401.6" cy="622.5" r="1.8"/>
<circle class="c9" cx="329.3" cy="617" r="1.8"/>
<circle class="c9" cx="287.7" cy="618.3" r="1.8"/>
<circle class="c9" cx="284.8" cy="600.6" r="1.8"/>
<circle class="c10" cx="406.9" cy="611.7" r="1.8"/>
<circle class="c10" cx="414.1" cy="522.1" r="1.8"/>
<circle class="c10" cx="363.5" cy="607.2" r="1.8"/>
<circle class="c10" cx="422.6" cy="607.8" r="1.8"/>
<circle class="c10" cx="442.6" cy="539.4" r="1.8"/>
<circle class="c10" cx="419.3" cy="616.4" r="1.8"/>
<circle class="c9" cx="280.9" cy="599.7" r="1.8"/>
<circle class="c10" cx="444" cy="508" r="1.8"/>
<circle class="c9" cx="306.6" cy="624" r="1.8"/>
<circle class="c9" cx="312.8" cy="624" r="1.8"/>
<circle class="c9" cx="316.3" cy="623.3" r="1.8"/>
<circle class="c10" cx="417.5" cy="480.3" r="1.8"/>
<circle class="c10" cx="413" cy="617.2" r="1.8"/>
<circle class="c10" cx="406.3" cy="618.7" r="1.8"/>
<circle class="c10" cx="406.6" cy="620.3" r="1.8"/>
<circle class="c10" cx="444.9" cy="495.1" r="1.8"/>
<circle class="c10" cx="390.5" cy="623.8" r="1.8"/>
<circle class="c10" cx="401.4" cy="585.7" r="1.8"/>
<circle class="c9" cx="320.1" cy="584.5" r="1.8"/>
<circle class="c9" cx="287" cy="570.9" r="1.8"/>
<circle class="c9" cx="331.6" cy="623.2" r="1.8"/>
<circle class="c10" cx="428.8" cy="558.9" r="1.8"/>
<circle class="c10" cx="438.7" cy="541.9" r="1.8"/>
<circle class="c10" cx="392.7" cy="623.5" r="1.8"/>
<circle class="c10" cx="426.4" cy="604.9" r="1.8"/>
<circle class="c10" cx="369.8" cy="623.4" r="1.8"/>
<circle class="c10" cx="373.2" cy="620.5" r="1.8"/>
<circle class="c10" cx="368.4" cy="622.4" r="1.8"/>
<circle class="c10" cx="387.7" cy="623.9" r="1.8"/>
<circle class="c9" cx="321.7" cy="615.6" r="1.8"/>
<circle class="c9" cx="339.6" cy="623.5" r="1.8"/>
<circle class="c10" cx="404.9" cy="623.4" r="1.8"/>
<circle class="c9" cx="284.7" cy="620.8" r="1.8"/>
<circle class="c9" cx="284.1" cy="610.6" r="1.8"/>
<circle class="c10" cx="420.2" cy="608.4" r="1.8"/>
<circle class="c9" cx="273.4" cy="602.8" r="1.8"/>
<circle class="c9" cx="339.6" cy="621.5" r="1.8"/>
<circle class="c9" cx="294" cy="613.1" r="1.8"/>
<circle class="c10" cx="388.8" cy="555.8" r="1.8"/>
<circle class="c9" cx="312.8" cy="617" r="1.8"/>
<circle class="c10" cx="433.6" cy="555.6" r="1.8"/>
<circle class="c9" cx="290.3" cy="609.1" r="1.8"/>
<circle class="c10" cx="365.9" cy="623.7" r="1.8"/>
<circle class="c10" cx="404.6" cy="624" r="1.8"/>
<circle class="c10" cx="439.7" cy="534.8" r="1.8"/>
<circle class="c9" cx="295.2" cy="608.3" r="1.8"/>
<circle class="c10" cx="412.3" cy="607.9" r="1.8"/>
<circle class="c9" cx="281.4" cy="603.9" r="1.8"/>
<circle class="c9" cx="323.4" cy="619.3" r="1.8"/>
<circle class="c9" cx="311.9" cy="533.6" r="1.8"/>
<circle class="c9" cx="304.6" cy="496.8" r="1.8"/>
<circle class="c9" cx="318.8" cy="616.2" r="1.8"/>
<circle class="c9" cx="365.5" cy="616.3" r="1.8"/>
<circle class="c10" cx="442.8" cy="510.2" r="1.8"/>
<circle class="c10" cx="404.2" cy="609.2" r="1.8"/>
<circle class="c9" cx="299.5" cy="618.1" r="1.8"/>
<circle class="c9" cx="281.9" cy="599.7" r="1.8"/>
<circle class="c10" cx="403.9" cy="622.7" r="1.8"/>
<circle class="c9" cx="268.5" cy="546.1" r="1.8"/>
<circle class="c10" cx="401" cy="496.3" r="1.8"/>
<circle class="c9" cx="262.4" cy="558.2" r="1.8"/>
<circle class="c10" cx="400.5" cy="502.9" r="1.8"/>
<circle class="c9" cx="309.1" cy="621.6" r="1.8"/>
<circle class="c10" cx="358.5" cy="622.3" r="1.8"/>
<circle class="c10" cx="417.3" cy="519.5" r="1.8"/>
<circle class="c10" cx="413.8" cy="621.2" r="1.8"/>
<circle class="c9" cx="321.2" cy="618.3" r="1.8"/>
<circle class="c10" cx="444" cy="494.3" r="1.8"/>
<circle class="c10" cx="391.1" cy="621.2" r="1.8"/>
<circle class="c10" cx="396.1" cy="548.7" r="1.8"/>
<circle class="c10" cx="368.9" cy="619.2" r="1.8"/>
<circle class="c9" cx="280.3" cy="609.2" r="1.8"/>
<circle class="c9" cx="291.5" cy="597.4" r="1.8"/>
<circle class="c10" cx="396.2" cy="618.1" r="1.8"/>
<circle class="c9" cx="366.5" cy="578.5" r="1.8"/>
<circle class="c10" cx="416.6" cy="611.2" r="1.8"/>
<circle class="c10" cx="404" cy="609.9" r="1.8"/>
<circle class="c10" cx="385.5" cy="623.7" r="1.8"/>
<circle class="c9" cx="269.6" cy="594" r="1.8"/>
<circle class="c9" cx="323.3" cy="617.2" r="1.8"/>
<circle class="c9" cx="262.6" cy="572.1" r="1.8"/>
<circle class="c10" cx="401.2" cy="614.2" r="1.8"/>
<circle class="c10" cx="430.2" cy="537.8" r="1.8"/>
<circle class="c10" cx="415.9" cy="555.4" r="1.8"/>
<circle class="c9" cx="338.2" cy="600.3" r="1.8"/>
<circle class="c9" cx="301.2" cy="608.6" r="1.8"/>
<circle class="c9" cx="308.7" cy="578.1" r="1.8"/>
<circle class="c10" cx="409.6" cy="622" r="1.8"/>
<circle class="c9" cx="350.2" cy="623.7" r="1.8"/>
<circle class="c9" cx="291.2" cy="610.6" r="1.8"/>
<circle class="c10" cx="433.5" cy="563.5" r="1.8"/>
<circle class="c10" cx="405" cy="618.1" r="1.8"/>
<circle class="c9" cx="362.4" cy="618.9" r="1.8"/>
<circle class="c9" cx="278.7" cy="611.4" r="1.8"/>
<circle class="c10" cx="392.2" cy="624" r="1.8"/>
<circle class="c10" cx="376.7" cy="623.3" r="1.8"/>
<circle class="c10" cx="390.9" cy="617" r="1.8"/>
<circle class="c9" cx="311.5" cy="526.7" r="1.8"/>
<circle class="c9" cx="306.2" cy="610.4" r="1.8"/>
<circle class="c10" cx="369.5" cy="619.8" r="1.8"/>
<circle class="c9" cx="302.3" cy="606.4" r="1.8"/>
<circle class="c10" cx="407.3" cy="611" r="1.8"/>
<circle class="c9" cx="283.3" cy="549.7" r="1.8"/>
<circle class="c10" cx="422.3" cy="603.8" r="1.8"/>
<circle class="c9" cx="286.9" cy="621.3" r="1.8"/>
<circle class="c10" cx="388.6" cy="604.3" r="1.8"/>
<circle class="c10" cx="414.4" cy="579.1" r="1.8"/>
<circle class="c10" cx="436.1" cy="537.5" r="1.8"/>
<circle class="c9" cx="321.1" cy="620.9" r="1.8"/>
<circle class="c10" cx="374.1" cy="621.2" r="1.8"/>
<circle class="c9" cx="349.2" cy="623.1" r="1.8"/>
<circle class="c9" cx="317.5" cy="623" r="1.8"/>
<circle class="c9" cx="325.8" cy="504.2" r="1.8"/>
<circle class="c9" cx="324" cy="617.6" r="1.8"/>
<circle class="c9" cx="340.9" cy="616.7" r="1.8"/>
<circle class="c10" cx="381.9" cy="623.8" r="1.8"/>
<circle class="c9" cx="299.6" cy="605.6" r="1.8"/>
<circle class="c9" cx="294.1" cy="616.8" r="1.8"/>
<circle class="c10" cx="445.9" cy="503.3" r="1.8"/>
<circle class="c9" cx="269.8" cy="554.6" r="1.8"/>
<circle class="c10" cx="404.3" cy="623.9" r="1.8"/>
<circle class="c9" cx="319" cy="619.7" r="1.8"/>
<circle class="c10" cx="444.5" cy="505.4" r="1.8"/>
<circle class="c9" cx="292.4" cy="622.2" r="1.8"/>
<circle class="c9" cx="292.6" cy="598.8" r="1.8"/>
<circle class="c9" cx="289.2" cy="610.2" r="1.8"/>
<circle class="c9" cx="313.6" cy="622.5" r="1.8"/>
<circle class="c9" cx="305" cy="538.8" r="1.8"/>
<circle class="c10" cx="403.6" cy="611.5" r="1.8"/>
<circle class="c9" cx="288.5" cy="620.8" r="1.8"/>
<circle class="c10" cx="417.9" cy="616.3" r="1.8"/>
<circle class="c10" cx="432.9" cy="554" r="1.8"/>
<circle class="c9" cx="339.6" cy="623.7" r="1.8"/>
<circle class="c10" cx="373" cy="624" r="1.8"/>
<circle class="c10" cx="397.9" cy="623.8" r="1.8"/>
<circle class="c10" cx="438.2" cy="490.8" r="1.8"/>
<circle class="c9" cx="284.6" cy="618.9" r="1.8"/>
<circle class="c10" cx="435.3" cy="556.2" r="1.8"/>
<circle class="c10" cx="423.4" cy="585.8" r="1.8"/>
<circle class="c9" cx="238.3" cy="474" r="1.8"/>
<circle class="c10" cx="429.6" cy="545.5" r="1.8"/>
<circle class="c10" cx="445.3" cy="504" r="1.8"/>
<circle class="c9" cx="335.5" cy="622.6" r="1.8"/>
<circle class="c9" cx="289.7" cy="616.2" r="1.8"/>
<circle class="c10" cx="410.6" cy="622.3" r="1.8"/>
<circle class="c9" cx="287.8" cy="623.2" r="1.8"/>
<circle class="c10" cx="431.2" cy="550.7" r="1.8"/>
<circle class="c9" cx="314.8" cy="620.2" r="1.8"/>
<circle class="c10" cx="390.3" cy="614.5" r="1.8"/>
<circle class="c10" cx="439.1" cy="501.4" r="1.8"/>
<circle class="c10" cx="408" cy="593.5" r="1.8"/>
<circle class="c9" cx="338.6" cy="591.5" r="1.8"/>
<circle class="c10" cx="413.1" cy="604.6" r="1.8"/>
<circle class="c10" cx="446.4" cy="485.7" r="1.8"/>
<circle class="c9" cx="282.4" cy="619.3" r="1.8"/>
<circle class="c9" cx="288" cy="606" r="1.8"/>
<circle class="c9" cx="280.7" cy="614.5" r="1.8"/>
<circle class="c10" cx="356.5" cy="620.9" r="1.8"/>
<circle class="c10" cx="432.6" cy="573.5" r="1.8"/>
<circle class="c9" cx="321" cy="618.5" r="1.8"/>
<circle class="c10" cx="399" cy="623.4" r="1.8"/>
<circle class="c9" cx="323.1" cy="618.6" r="1.8"/>
<circle class="c9" cx="302.1" cy="618.3" r="1.8"/>
<circle class="c10" cx="365.3" cy="617.5" r="1.8"/>
<circle class="c9" cx="306.9" cy="620.4" r="1.8"/>
<circle class="c10" cx="390.8" cy="624" r="1.8"/>
<circle class="c10" cx="410.6" cy="623.1" r="1.8"/>
<circle class="c10" cx="407.6" cy="605.2" r="1.8"/>
<circle class="c10" cx="399.3" cy="617.6" r="1.8"/>
<circle class="c9" cx="358.3" cy="618.1" r="1.8"/>
<circle class="c10" cx="426" cy="544.7" r="1.8"/>
<circle class="c9" cx="295.3" cy="620.4" r="1.8"/>
<circle class="c10" cx="407.4" cy="585" r="1.8"/>
<circle class="c10" cx="420.2" cy="588.3" r="1.8"/>
<circle class="c9" cx="306.9" cy="598.7" r="1.8"/>
<circle class="c9" cx="369.3" cy="616.3" r="1.8"/>
<circle class="c9" cx="319.5" cy="585.3" r="1.8"/>
<circle class="c10" cx="391.2" cy="617.3" r="1.8"/>
<circle class="c10" cx="370" cy="619.9" r="1.8"/>
<circle class="c9" cx="329.4" cy="598.5" r="1.8"/>
<circle class="c10" cx="391.2" cy="623.9" r="1.8"/>
<circle class="c9" cx="305" cy="578.4" r="1.8"/>
<circle class="c9" cx="298" cy="621.1" r="1.8"/>
<circle class="c9" cx="295.6" cy="564.7" r="1.8"/>
<circle class="c9" cx="286.5" cy="620.8" r="1.8"/>
<circle class="c9" cx="302.9" cy="619" r="1.8"/>
<circle class="c9" cx="292.1" cy="607.1" r="1.8"/>
<circle class="c9" cx="356.7" cy="585.3" r="1.8"/>
<circle class="c9" cx="342.2" cy="618.5" r="1.8"/>
<circle class="c9" cx="398.6" cy="575.5" r="1.8"/>
<circle class="c10" cx="413.7" cy="622.1" r="1.8"/>
<circle class="c10" cx="411.1" cy="580.6" r="1.8"/>
<circle class="c9" cx="267.8" cy="547.6" r="1.8"/>
<circle class="c10" cx="414" cy="598.7" r="1.8"/>
<circle class="c10" cx="415" cy="614.4" r="1.8"/>
<circle class="c10" cx="383.1" cy="546" r="1.8"/>
<circle class="c10" cx="365" cy="619.9" r="1.8"/>
<circle class="c10" cx="397.5" cy="623.9" r="1.8"/>
<circle class="c10" cx="381.4" cy="624" r="1.8"/>
<circle class="c10" cx="424.5" cy="608.7" r="1.8"/>
<circle class="c10" cx="422.4" cy="611.4" r="1.8"/>
<circle class="c9" cx="293.4" cy="618" r="1.8"/>
<circle class="c10" cx="411" cy="621.9" r="1.8"/>
<circle class="c10" cx="447" cy="489.6" r="1.8"/>
<circle class="c10" cx="404.4" cy="623.8" r="1.8"/>
<circle class="c9" cx="308.5" cy="622.6" r="1.8"/>
<circle class="c9" cx="354.3" cy="624" r="1.8"/>
<circle class="c9" cx="291.9" cy="518.9" r="1.8"/>
<circle class="c10" cx="369.9" cy="623.3" r="1.8"/>
<circle class="c10" cx="413.1" cy="613.9" r="1.8"/>
<circle class="c10" cx="428.1" cy="550.9" r="1.8"/>
<circle class="c10" cx="412.6" cy="609.1" r="1.8"/>
<circle class="c9" cx="291.5" cy="619.9" r="1.8"/>
<circle class="c10" cx="421.5" cy="567.3" r="1.8"/>
<circle class="c10" cx="434.8" cy="527.1" r="1.8"/>
<circle class="c10" cx="420.8" cy="610.4" r="1.8"/>
<circle class="c10" cx="447.8" cy="495.4" r="1.8"/>
<circle class="c10" cx="443.5" cy="527.5" r="1.8"/>
<circle class="c9" cx="307.7" cy="620.3" r="1.8"/>
<circle class="c10" cx="433.4" cy="547.3" r="1.8"/>
<circle class="c9" cx="328.7" cy="617.2" r="1.8"/>
<circle class="c9" cx="288.7" cy="599" r="1.8"/>
<circle class="c10" cx="422.5" cy="548.1" r="1.8"/>
<circle class="c9" cx="312.2" cy="621.8" r="1.8"/>
<circle class="c10" cx="363" cy="607.1" r="1.8"/>
<circle class="c9" cx="274.8" cy="587.3" r="1.8"/>
<circle class="c10" cx="428.1" cy="533.4" r="1.8"/>
<circle class="c9" cx="312.2" cy="623.7" r="1.8"/>
<circle class="c9" cx="285.4" cy="595.2" r="1.8"/>
<circle class="c9" cx="312.5" cy="623.7" r="1.8"/>
<circle class="c10" cx="394.6" cy="620.6" r="1.8"/>
<circle class="c9" cx="251.4" cy="522.6" r="1.8"/>
<circle class="c9" cx="292.6" cy="614.6" r="1.8"/>
<circle class="c10" cx="386.7" cy="523.2" r="1.8"/>
<circle class="c9" cx="318.3" cy="623.5" r="1.8"/>
<circle class="c10" cx="409.2" cy="578.5" r="1.8"/>
<circle class="c10" cx="433" cy="538.8" r="1.8"/>
<circle class="c10" cx="415.7" cy="599.6" r="1.8"/>
<circle class="c10" cx="394.5" cy="620.9" r="1.8"/>
<circle class="c9" cx="346" cy="622.6" r="1.8"/>
<circle class="c10" cx="402.5" cy="623.2" r="1.8"/>
<circle class="c10" cx="378" cy="623.6" r="1.8"/>
<circle class="c10" cx="402" cy="550.3" r="1.8"/>
<circle class="c10" cx="396.5" cy="621.3" r="1.8"/>
<circle class="c9" cx="314.6" cy="624" r="1.8"/>
<circle class="c10" cx="444.6" cy="487.9" r="1.8"/>
<circle class="c10" cx="438.2" cy="565.3" r="1.8"/>
<circle class="c9" cx="321.4" cy="500" r="1.8"/>
<circle class="c10" cx="384.9" cy="610.7" r="1.8"/>
<circle class="c10" cx="441.5" cy="535.6" r="1.8"/>
<circle class="c9" cx="338.3" cy="623.2" r="1.8"/>
<circle class="c9" cx="304.3" cy="623.4" r="1.8"/>
<circle class="c9" cx="302.3" cy="619.4" r="1.8"/>
<circle class="c10" cx="400.1" cy="580.6" r="1.8"/>
<circle class="c10" cx="416.2" cy="610.6" r="1.8"/>
<circle class="c10" cx="379.1" cy="623.8" r="1.8"/>
<circle class="c9" cx="336.8" cy="497" r="1.8"/>
<circle class="c10" cx="416.5" cy="606.8" r="1.8"/>
<circle class="c10" cx="399.1" cy="618.9" r="1.8"/>
<circle class="c9" cx="311.3" cy="618.3" r="1.8"/>
<circle class="c10" cx="396.9" cy="623.8" r="1.8"/>
<circle class="c10" cx="369.3" cy="624" r="1.8"/>
<circle class="c10" cx="422.4" cy="533.3" r="1.8"/>
<circle class="c10" cx="397.1" cy="559.3" r="1.8"/>
<circle class="c10" cx="398" cy="608.8" r="1.8"/>
<circle class="c9" cx="278.7" cy="608.2" r="1.8"/>
<circle class="c9" cx="301.8" cy="615.2" r="1.8"/>
<circle class="c9" cx="274.5" cy="606.5" r="1.8"/>
<circle class="c9" cx="313.4" cy="622" r="1.8"/>
<circle class="c9" cx="272.8" cy="572.4" r="1.8"/>
<circle class="c10" cx="415.2" cy="585.6" r="1.8"/>
<circle class="c9" cx="264.9" cy="474" r="1.8"/>
<circle class="c10" cx="403.7" cy="616.6" r="1.8"/>
<circle class="c10" cx="401.4" cy="623" r="1.8"/>
<circle class="c9" cx="321.5" cy="619.2" r="1.8"/>
<circle class="c10" cx="396.8" cy="623.9" r="1.8"/>
<circle class="c10" cx="372.7" cy="616" r="1.8"/>
<circle class="c9" cx="296.3" cy="613.8" r="1.8"/>
<circle class="c10" cx="358.5" cy="624" r="1.8"/>
<circle class="c10" cx="416.9" cy="596.5" r="1.8"/>
<circle class="c10" cx="442.5" cy="515.1" r="1.8"/>
<circle class="c10" cx="415.5" cy="558.4" r="1.8"/>
<circle class="c9" cx="308.9" cy="606.9" r="1.8"/>
<circle class="c10" cx="378.2" cy="616.7" r="1.8"/>
<circle class="c9" cx="349.7" cy="618" r="1.8"/>
<circle class="c10" cx="403.1" cy="623.8" r="1.8"/>
<circle class="c9" cx="346.2" cy="622.9" r="1.8"/>
<circle class="c9" cx="293.1" cy="619.4" r="1.8"/>
<circle class="c10" cx="390.7" cy="612.8" r="1.8"/>
<circle class="c9" cx="311.5" cy="577" r="1.8"/>
<circle class="c10" cx="415.8" cy="594.6" r="1.8"/>
<circle class="c9" cx="393.1" cy="562.8" r="1.8"/>
<circle class="c10" cx="411.8" cy="542.8" r="1.8"/>
<circle class="c10" cx="387" cy="596.2" r="1.8"/>
<circle class="c10" cx="435.9" cy="497.4" r="1.8"/>
<circle class="c9" cx="287.6" cy="597.1" r="1.8"/>
<circle class="c10" cx="423.3" cy="557.5" r="1.8"/>
<circle class="c9" cx="305.7" cy="557.5" r="1.8"/>
<circle class="c9" cx="296.7" cy="504.3" r="1.8"/>
<circle class="c10" cx="437" cy="514.9" r="1.8"/>
<circle class="c10" cx="398.3" cy="623.1" r="1.8"/>
<circle class="c9" cx="272.2" cy="600.5" r="1.8"/>
<circle class="c10" cx="393.7" cy="623.9" r="1.8"/>
<circle class="c9" cx="315.2" cy="624" r="1.8"/>
<circle class="c10" cx="397.1" cy="624" r="1.8"/>
<circle class="c10" cx="366.8" cy="623.8" r="1.8"/>
<circle class="c9" cx="283.9" cy="619.9" r="1.8"/>
<circle class="c10" cx="438.2" cy="556.4" r="1.8"/>
<circle class="c10" cx="448.2" cy="492.2" r="1.8"/>
<circle class="c10" cx="395.2" cy="622.7" r="1.8"/>
<circle class="c10" cx="414.6" cy="600.3" r="1.8"/>
<circle class="c10" cx="397.8" cy="623.7" r="1.8"/>
<circle class="c9" cx="277.6" cy="591.3" r="1.8"/>
<circle class="c10" cx="421.2" cy="582.5" r="1.8"/>
<circle class="c10" cx="399.7" cy="618.4" r="1.8"/>
<circle class="c10" cx="379.3" cy="617.3" r="1.8"/>
<circle class="c10" cx="368.3" cy="621.5" r="1.8"/>
<circle class="c9" cx="326.8" cy="622.2" r="1.8"/>
<circle class="c9" cx="279.1" cy="604.3" r="1.8"/>
<circle class="c10" cx="372.1" cy="624" r="1.8"/>
<circle class="c10" cx="358.3" cy="623.8" r="1.8"/>
<circle class="c10" cx="424.5" cy="572.1" r="1.8"/>
<circle class="c9" cx="287" cy="605.3" r="1.8"/>
<circle class="c10" cx="411.4" cy="619.9" r="1.8"/>
<circle class="c10" cx="368.1" cy="618.3" r="1.8"/>
<circle class="c10" cx="436" cy="487.5" r="1.8"/>
<circle class="c9" cx="409.3" cy="597.3" r="1.8"/>
<circle class="c10" cx="392.8" cy="589.8" r="1.8"/>
<circle class="c10" cx="403.2" cy="624" r="1.8"/>
<circle class="c10" cx="399" cy="619.2" r="1.8"/>
<circle class="c10" cx="417.1" cy="619.5" r="1.8"/>
<circle class="c10" cx="387" cy="619.3" r="1.8"/>
<circle class="c9" cx="299.7" cy="618.8" r="1.8"/>
<circle class="c10" cx="439.1" cy="531.6" r="1.8"/>
<circle class="c9" cx="287.5" cy="600.7" r="1.8"/>
<circle class="c10" cx="391.5" cy="583.2" r="1.8"/>
<circle class="c10" cx="403.4" cy="605.8" r="1.8"/>
<circle class="c10" cx="394.9" cy="623.9" r="1.8"/>
<circle class="c10" cx="442.8" cy="510.9" r="1.8"/>
<circle class="c10" cx="439.3" cy="529.8" r="1.8"/>
<circle class="c9" cx="318.1" cy="608.8" r="1.8"/>
<circle class="c9" cx="270" cy="595.7" r="1.8"/>
<circle class="c9" cx="307.8" cy="623.7" r="1.8"/>
<circle class="c9" cx="309.2" cy="489.6" r="1.8"/>
<circle class="c10" cx="417" cy="575.2" r="1.8"/>
<circle class="c9" cx="299.1" cy="616.4" r="1.8"/>
<circle class="c10" cx="432.1" cy="498.9" r="1.8"/>
<circle class="c9" cx="286" cy="610.5" r="1.8"/>
<circle class="c9" cx="293.8" cy="617.2" r="1.8"/>
<circle class="c10" cx="419.1" cy="617.4" r="1.8"/>
<circle class="c10" cx="428.9" cy="511.9" r="1.8"/>
<circle class="c10" cx="368.7" cy="623.4" r="1.8"/>
<circle class="c10" cx="411" cy="613.4" r="1.8"/>
<circle class="c9" cx="299.9" cy="609.2" r="1.8"/>
<circle class="c9" cx="309.9" cy="586.6" r="1.8"/>
<circle class="c9" cx="291.9" cy="614.9" r="1.8"/>
<circle class="c9" cx="286.3" cy="618.2" r="1.8"/>
<circle class="c10" cx="442.2" cy="514.4" r="1.8"/>
<circle class="c9" cx="297.9" cy="610.8" r="1.8"/>
<circle class="c9" cx="339" cy="547.9" r="1.8"/>
<circle class="c10" cx="395.4" cy="616.9" r="1.8"/>
<circle class="c10" cx="444.1" cy="504.5" r="1.8"/>
<circle class="c10" cx="444.4" cy="509.2" r="1.8"/>
<circle class="c10" cx="426.9" cy="536.7" r="1.8"/>
<circle class="c10" cx="425.7" cy="557.5" r="1.8"/>
<circle class="c10" cx="400.1" cy="619.4" r="1.8"/>
<circle class="c10" cx="402.9" cy="617.2" r="1.8"/>
<circle class="c9" cx="304.9" cy="619.8" r="1.8"/>
<circle class="c10" cx="407.5" cy="623.5" r="1.8"/>
<circle class="c9" cx="247.1" cy="500.6" r="1.8"/>
<circle class="c10" cx="393" cy="623.7" r="1.8"/>
<circle class="c9" cx="301.5" cy="616.4" r="1.8"/>
<circle class="c10" cx="423.7" cy="596" r="1.8"/>
<circle class="c10" cx="418.3" cy="518.8" r="1.8"/>
<circle class="c10" cx="417.7" cy="554.9" r="1.8"/>
<circle class="c10" cx="437.4" cy="566.1" r="1.8"/>
<circle class="c10" cx="410.4" cy="573" r="1.8"/>
<circle class="c10" cx="441.9" cy="516.5" r="1.8"/>
<circle class="c9" cx="334.5" cy="622.9" r="1.8"/>
<circle class="c9" cx="261.6" cy="572.4" r="1.8"/>
<circle class="c10" cx="437.6" cy="559.9" r="1.8"/>
<circle class="c9" cx="322.3" cy="599.9" r="1.8"/>
<circle class="c10" cx="443.1" cy="517.2" r="1.8"/>
<circle class="c9" cx="290.3" cy="622.3" r="1.8"/>
<circle class="c9" cx="272.2" cy="596" r="1.8"/>
<circle class="c10" cx="374.6" cy="618.4" r="1.8"/>
<circle class="c10" cx="397.1" cy="620.4" r="1.8"/>
<circle class="c10" cx="424.2" cy="590" r="1.8"/>
<circle class="c9" cx="300.5" cy="612.8" r="1.8"/>
<circle class="c9" cx="273.4" cy="480.7" r="1.8"/>
<circle class="c10" cx="372.1" cy="613.1" r="1.8"/>
<circle class="c9" cx="282.3" cy="581.4" r="1.8"/>
<circle class="c9" cx="299.2" cy="555.1" r="1.8"/>
<circle class="c10" cx="399.1" cy="616.7" r="1.8"/>
<circle class="c9" cx="291" cy="597.2" r="1.8"/>
<circle class="c9" cx="323.4" cy="613.5" r="1.8"/>
<circle class="c9" cx="310.9" cy="601.3" r="1.8"/>
<circle class="c9" cx="317" cy="617.4" r="1.8"/>
<circle class="c9" cx="285.9" cy="621" r="1.8"/>
<circle class="c9" cx="305.1" cy="617.5" r="1.8"/>
<circle class="c10" cx="422" cy="578.3" r="1.8"/>
<circle class="c10" cx="429.3" cy="589.4" r="1.8"/>
<circle class="c9" cx="359.6" cy="620.5" r="1.8"/>
<circle class="c9" cx="259.3" cy="521.7" r="1.8"/>
<circle class="c9" cx="374.6" cy="595.9" r="1.8"/>
<circle class="c10" cx="374.7" cy="616.7" r="1.8"/>
<circle class="c9" cx="303.1" cy="623.6" r="1.8"/>
<circle class="c10" cx="408.2" cy="623" r="1.8"/>
<circle class="c10" cx="412" cy="530.2" r="1.8"/>
<circle class="c10" cx="404.8" cy="623.1" r="1.8"/>
<circle class="c10" cx="425" cy="568.4" r="1.8"/>
<circle class="c9" cx="334.8" cy="619.2" r="1.8"/>
<circle class="c10" cx="382.2" cy="620.3" r="1.8"/>
<circle class="c9" cx="289" cy="613" r="1.8"/>
<circle class="c10" cx="420.4" cy="591.2" r="1.8"/>
<circle class="c10" cx="428.6" cy="600.4" r="1.8"/>
<circle class="c10" cx="401.4" cy="612.1" r="1.8"/>
<circle class="c9" cx="396.5" cy="617.5" r="1.8"/>
<circle class="c10" cx="407.7" cy="622" r="1.8"/>
<circle class="c10" cx="402" cy="587.1" r="1.8"/>
<circle class="c9" cx="303.2" cy="620.7" r="1.8"/>
<circle class="c10" cx="429.4" cy="559.4" r="1.8"/>
<circle class="c10" cx="447.5" cy="492.8" r="1.8"/>
<circle class="c10" cx="439" cy="513.6" r="1.8"/>
<circle class="c9" cx="284.7" cy="613.5" r="1.8"/>
<circle class="c9" cx="370.2" cy="609.4" r="1.8"/>
<circle class="c9" cx="266.6" cy="587.6" r="1.8"/>
<circle class="c9" cx="276.4" cy="580.4" r="1.8"/>
<circle class="c10" cx="370" cy="623.8" r="1.8"/>
<circle class="c9" cx="358.3" cy="620.9" r="1.8"/>
<circle class="c10" cx="438" cy="527" r="1.8"/>
<circle class="c10" cx="375.6" cy="621.3" r="1.8"/>
<circle class="c9" cx="352.8" cy="620.4" r="1.8"/>
<circle class="c9" cx="291.2" cy="616.1" r="1.8"/>
<circle class="c10" cx="391.7" cy="623.3" r="1.8"/>
<circle class="c10" cx="392.7" cy="615.6" r="1.8"/>
<circle class="c9" cx="349.2" cy="623.8" r="1.8"/>
<circle class="c10" cx="393.8" cy="624" r="1.8"/>
<circle class="c9" cx="317.7" cy="619.5" r="1.8"/>
<circle class="c9" cx="290.8" cy="564.8" r="1.8"/>
<circle class="c9" cx="362.6" cy="623.3" r="1.8"/>
<circle class="c9" cx="337.1" cy="574.9" r="1.8"/>
<circle class="c10" cx="400" cy="622.5" r="1.8"/>
<circle class="c10" cx="433.4" cy="543" r="1.8"/>
<circle class="c10" cx="384.4" cy="620.4" r="1.8"/>
<circle class="c9" cx="336.8" cy="617.5" r="1.8"/>
<circle class="c9" cx="290.5" cy="618.1" r="1.8"/>
<circle class="c9" cx="292.2" cy="622.2" r="1.8"/>
<circle class="c9" cx="287.4" cy="610.4" r="1.8"/>
<circle class="c10" cx="445.4" cy="483.3" r="1.8"/>
<circle class="c10" cx="446.2" cy="493.3" r="1.8"/>
<circle class="c10" cx="363.9" cy="590.3" r="1.8"/>
<circle class="c10" cx="429.8" cy="573.4" r="1.8"/>
<circle class="c10" cx="415" cy="612.5" r="1.8"/>
<circle class="c9" cx="299.4" cy="611" r="1.8"/>
<circle class="c10" cx="381.1" cy="619.8" r="1.8"/>
<circle class="c10" cx="410.4" cy="610.1" r="1.8"/>
<circle class="c10" cx="405.5" cy="613.4" r="1.8"/>
<circle class="c10" cx="422.5" cy="610.4" r="1.8"/>
<circle class="c9" cx="281" cy="606.7" r="1.8"/>
<circle class="c9" cx="333.5" cy="615.9" r="1.8"/>
<circle class="c9" cx="300.7" cy="618.2" r="1.8"/>
<circle class="c10" cx="372.1" cy="619.7" r="1.8"/>
<circle class="c9" cx="293.1" cy="617.5" r="1.8"/>
<circle class="c9" cx="349.2" cy="619.7" r="1.8"/>
<circle class="c10" cx="392.7" cy="622.9" r="1.8"/>
<circle class="c9" cx="315" cy="611.4" r="1.8"/>
<circle class="c9" cx="336.6" cy="623.7" r="1.8"/>
<circle class="c9" cx="272.6" cy="603.6" r="1.8"/>
<circle class="c9" cx="278.4" cy="608.3" r="1.8"/>
<circle class="c9" cx="265.7" cy="580.9" r="1.8"/>
<circle class="c10" cx="429.9" cy="564.7" r="1.8"/>
<circle class="c9" cx="300.7" cy="599.9" r="1.8"/>
<circle class="c9" cx="294" cy="622.1" r="1.8"/>
<circle class="c10" cx="398.7" cy="622.6" r="1.8"/>
<circle class="c9" cx="264.7" cy="508.6" r="1.8"/>
<circle class="c10" cx="378.6" cy="623.4" r="1.8"/>
<circle class="c9" cx="284" cy="613.5" r="1.8"/>
<circle class="c9" cx="296.7" cy="593.4" r="1.8"/>
<circle class="c10" cx="401.3" cy="623.6" r="1.8"/>
<circle class="c10" cx="408" cy="621.3" r="1.8"/>
<circle class="c9" cx="286.4" cy="610" r="1.8"/>
<circle class="c9" cx="282" cy="599.6" r="1.8"/>
<circle class="c10" cx="444.1" cy="506" r="1.8"/>
<circle class="c9" cx="302.9" cy="621" r="1.8"/>
<circle class="c10" cx="428.8" cy="557" r="1.8"/>
<circle class="c10" cx="413.1" cy="583.9" r="1.8"/>
<circle class="c9" cx="312.3" cy="496.3" r="1.8"/>
<circle class="c10" cx="377.5" cy="618.4" r="1.8"/>
<circle class="c9" cx="296.1" cy="612.7" r="1.8"/>
<circle class="c9" cx="308.6" cy="623.6" r="1.8"/>
<circle class="c9" cx="280.5" cy="612.8" r="1.8"/>
<circle class="c10" cx="417.6" cy="594.5" r="1.8"/>
<circle class="c9" cx="308.7" cy="613.1" r="1.8"/>
<circle class="c10" cx="383.2" cy="620.4" r="1.8"/>
<circle class="c10" cx="386" cy="622.7" r="1.8"/>
<circle class="c9" cx="308.9" cy="623.4" r="1.8"/>
<circle class="c10" cx="409.3" cy="590.9" r="1.8"/>
<circle class="c10" cx="432.6" cy="566.4" r="1.8"/>
<circle class="c10" cx="432.2" cy="581.5" r="1.8"/>
<circle class="c9" cx="310.7" cy="622.5" r="1.8"/>
<circle class="c10" cx="395.1" cy="624" r="1.8"/>
<circle class="c9" cx="361.7" cy="623.4" r="1.8"/>
<circle class="c9" cx="286.9" cy="474" r="1.8"/>
<circle class="c10" cx="432.5" cy="534.6" r="1.8"/>
<circle class="c10" cx="400.2" cy="620.9" r="1.8"/>
<circle class="c9" cx="306.6" cy="623.6" r="1.8"/>
<circle class="c9" cx="329.8" cy="623.2" r="1.8"/>
<circle class="c10" cx="389.2" cy="623.9" r="1.8"/>
<circle class="c9" cx="384" cy="514.1" r="1.8"/>
<circle class="c9" cx="330.6" cy="571" r="1.8"/>
<circle class="c9" cx="289.6" cy="619.3" r="1.8"/>
<circle class="c10" cx="425.3" cy="530.8" r="1.8"/>
<circle class="c9" cx="322.9" cy="616.4" r="1.8"/>
<circle class="c10" cx="389.4" cy="581.8" r="1.8"/>
<circle class="c10" cx="415.3" cy="574.8" r="1.8"/>
<circle class="c9" cx="283.8" cy="618.6" r="1.8"/>
<circle class="c10" cx="440" cy="547.3" r="1.8"/>
<circle class="c9" cx="323.2" cy="564.1" r="1.8"/>
<circle class="c9" cx="266.5" cy="553.9" r="1.8"/>
<circle class="c10" cx="406.8" cy="623.6" r="1.8"/>
<circle class="c10" cx="365.4" cy="622.6" r="1.8"/>
<circle class="c10" cx="372.1" cy="620.7" r="1.8"/>
<circle class="c9" cx="272" cy="600" r="1.8"/>
<circle class="c9" cx="289.6" cy="605" r="1.8"/>
<circle class="c10" cx="398.4" cy="623.1" r="1.8"/>
<circle class="c10" cx="401.3" cy="574.8" r="1.8"/>
<circle class="c10" cx="403.2" cy="623.9" r="1.8"/>
<circle class="c9" cx="297.1" cy="612.3" r="1.8"/>
<circle class="c9" cx="318.1" cy="621.6" r="1.8"/>
<circle class="c10" cx="413" cy="614.9" r="1.8"/>
<circle class="c9" cx="341.4" cy="617.1" r="1.8"/>
<circle class="c10" cx="358.1" cy="624" r="1.8"/>
<circle class="c9" cx="290.1" cy="616.8" r="1.8"/>
<circle class="c10" cx="437" cy="533" r="1.8"/>
<circle class="c10" cx="388.3" cy="618.6" r="1.8"/>
<circle class="c9" cx="277" cy="584.3" r="1.8"/>
<circle class="c9" cx="356.7" cy="616.5" r="1.8"/>
<circle class="c9" cx="337.3" cy="613.3" r="1.8"/>
<circle class="c9" cx="302.6" cy="621.6" r="1.8"/>
<circle class="c10" cx="415.3" cy="593.8" r="1.8"/>
<circle class="c10" cx="425.9" cy="594.2" r="1.8"/>
<circle class="c9" cx="305.5" cy="590.9" r="1.8"/>
<circle class="c9" cx="274.3" cy="605.8" r="1.8"/>
<circle class="c10" cx="388.8" cy="607.2" r="1.8"/>
<circle class="c9" cx="305.2" cy="566.4" r="1.8"/>
<circle class="c10" cx="398.5" cy="614.9" r="1.8"/>
<circle class="c10" cx="404.2" cy="622.6" r="1.8"/>
<circle class="c9" cx="301" cy="624" r="1.8"/>
<circle class="c9" cx="318.9" cy="618.8" r="1.8"/>
<circle class="c10" cx="441.6" cy="513.3" r="1.8"/>
<circle class="c10" cx="441.6" cy="498.3" r="1.8"/>
<circle class="c10" cx="390.1" cy="623.8" r="1.8"/>
<circle class="c9" cx="284" cy="617.3" r="1.8"/>
<circle class="c9" cx="414.7" cy="593.9" r="1.8"/>
<circle class="c10" cx="416.1" cy="620.1" r="1.8"/>
<circle class="c9" cx="296" cy="623.5" r="1.8"/>
<circle class="c10" cx="375.8" cy="607.6" r="1.8"/>
<circle class="c10" cx="393.2" cy="607.9" r="1.8"/>
<circle class="c10" cx="410.6" cy="616.1" r="1.8"/>
<circle class="c9" cx="299.2" cy="564.4" r="1.8"/>
<circle class="c9" cx="285.5" cy="598.7" r="1.8"/>
<circle class="c10" cx="444.7" cy="506.1" r="1.8"/>
<circle class="c9" cx="301.2" cy="616.1" r="1.8"/>
<circle class="c9" cx="320.5" cy="585.4" r="1.8"/>
<circle class="c9" cx="329.9" cy="622.2" r="1.8"/>
<circle class="c10" cx="425" cy="576.3" r="1.8"/>
<circle class="c9" cx="312.8" cy="622.2" r="1.8"/>
<circle class="c9" cx="332" cy="623.2" r="1.8"/>
<circle class="c10" cx="385" cy="623.9" r="1.8"/>
<circle class="c10" cx="427.4" cy="567.5" r="1.8"/>
<circle class="c9" cx="256.8" cy="474" r="1.8"/>
<circle class="c9" cx="358.9" cy="623" r="1.8"/>
<circle class="c10" cx="394.8" cy="618.5" r="1.8"/>
<circle class="c10" cx="390.2" cy="494.5" r="1.8"/>
<circle class="c9" cx="307.1" cy="621.7" r="1.8"/>
<circle class="c9" cx="310" cy="576.5" r="1.8"/>
<circle class="c9" cx="348.3" cy="622.6" r="1.8"/>
<circle class="c10" cx="396.2" cy="624" r="1.8"/>
<circle class="c10" cx="369.2" cy="618" r="1.8"/>
<circle class="c10" cx="363.7" cy="619.1" r="1.8"/>
<circle class="c10" cx="407.7" cy="623.4" r="1.8"/>
<circle class="c10" cx="405.4" cy="612.2" r="1.8"/>
<circle class="c10" cx="409.4" cy="622.5" r="1.8"/>
<circle class="c9" cx="262.9" cy="572.1" r="1.8"/>
<circle class="c9" cx="288.9" cy="615.2" r="1.8"/>
<circle class="c9" cx="280.3" cy="608.1" r="1.8"/>
<circle class="c9" cx="304" cy="504.9" r="1.8"/>
<circle class="c10" cx="395.7" cy="594.3" r="1.8"/>
<circle class="c9" cx="282" cy="617.1" r="1.8"/>
<circle class="c10" cx="443.7" cy="523.1" r="1.8"/>
<circle class="c10" cx="373.4" cy="623.9" r="1.8"/>
<circle class="c10" cx="409.7" cy="615.3" r="1.8"/>
<circle class="c9" cx="304.7" cy="623.3" r="1.8"/>
<circle class="c10" cx="414.9" cy="595.8" r="1.8"/>
<circle class="c9" cx="282.2" cy="474" r="1.8"/>
<circle class="c10" cx="396.7" cy="620.5" r="1.8"/>
<circle class="c10" cx="423.7" cy="610.5" r="1.8"/>
<circle class="c10" cx="433.2" cy="512.8" r="1.8"/>
<circle class="c9" cx="308.7" cy="616.6" r="1.8"/>
<circle class="c9" cx="307.1" cy="612" r="1.8"/>
<circle class="c10" cx="445.7" cy="483.6" r="1.8"/>
<circle class="c10" cx="444.4" cy="516.8" r="1.8"/>
<circle class="c9" cx="320.3" cy="623.8" r="1.8"/>
<circle class="c10" cx="411" cy="612.4" r="1.8"/>
<circle class="c9" cx="339.4" cy="616.4" r="1.8"/>
<circle class="c9" cx="295.3" cy="550" r="1.8"/>
<circle class="c9" cx="330.8" cy="622.4" r="1.8"/>
<circle class="c10" cx="408.2" cy="602.7" r="1.8"/>
<circle class="c10" cx="425.1" cy="588.1" r="1.8"/>
<circle class="c10" cx="442.7" cy="518.8" r="1.8"/>
<circle class="c9" cx="289" cy="620.9" r="1.8"/>
<circle class="c10" cx="441.2" cy="519" r="1.8"/>
<circle class="c10" cx="415" cy="599.2" r="1.8"/>
<circle class="c10" cx="396.6" cy="622.5" r="1.8"/>
<circle class="c10" cx="429" cy="596.9" r="1.8"/>
<circle class="c10" cx="404.5" cy="623.5" r="1.8"/>
<circle class="c9" cx="370.3" cy="621.2" r="1.8"/>
<circle class="c10" cx="411.9" cy="594.7" r="1.8"/>
<circle class="c10" cx="368.6" cy="624" r="1.8"/>
<circle class="c9" cx="307.5" cy="529.8" r="1.8"/>
<circle class="c9" cx="263.5" cy="520.6" r="1.8"/>
<circle class="c10" cx="401.8" cy="613.2" r="1.8"/>
<circle class="c9" cx="287.4" cy="617.1" r="1.8"/>
<circle class="c9" cx="361.8" cy="593.4" r="1.8"/>
<circle class="c9" cx="277.8" cy="602.4" r="1.8"/>
<circle class="c9" cx="279.8" cy="605.6" r="1.8"/>
<circle class="c9" cx="283.1" cy="608" r="1.8"/>
<circle class="c10" cx="416.2" cy="620" r="1.8"/>
<circle class="c9" cx="315.1" cy="622.9" r="1.8"/>
<circle class="c10" cx="445.6" cy="494" r="1.8"/>
<circle class="c9" cx="357.7" cy="616.8" r="1.8"/>
<circle class="c10" cx="372.5" cy="608.9" r="1.8"/>
<circle class="c10" cx="420.4" cy="559.4" r="1.8"/>
<circle class="c10" cx="444.1" cy="515.4" r="1.8"/>
<circle class="c9" cx="305.5" cy="593.9" r="1.8"/>
<circle class="c9" cx="341.3" cy="622.4" r="1.8"/>
<circle class="c10" cx="429" cy="581.1" r="1.8"/>
<circle class="c10" cx="431.3" cy="577.3" r="1.8"/>
<circle class="c9" cx="308.7" cy="619.6" r="1.8"/>
<circle class="c10" cx="428.2" cy="600.1" r="1.8"/>
<circle class="c10" cx="405.2" cy="621.6" r="1.8"/>
<circle class="c10" cx="385.9" cy="624" r="1.8"/>
<circle class="c9" cx="279.4" cy="609.2" r="1.8"/>
<circle class="c9" cx="287.6" cy="593.3" r="1.8"/>
<circle class="c9" cx="259.1" cy="560.9" r="1.8"/>
<circle class="c10" cx="369.1" cy="623.9" r="1.8"/>
<circle class="c10" cx="363.9" cy="620" r="1.8"/>
<circle class="c9" cx="297.1" cy="623.7" r="1.8"/>
<circle class="c10" cx="425" cy="555.7" r="1.8"/>
<circle class="c10" cx="404.2" cy="619.7" r="1.8"/>
<circle class="c10" cx="376.5" cy="596.8" r="1.8"/>
<circle class="c9" cx="259.9" cy="562.1" r="1.8"/>
<circle class="c10" cx="424.1" cy="602.4" r="1.8"/>
<circle class="c9" cx="281.3" cy="594.6" r="1.8"/>
<circle class="c9" cx="282.4" cy="590.8" r="1.8"/>
<circle class="c9" cx="331" cy="618.9" r="1.8"/>
<circle class="c10" cx="428.4" cy="595.6" r="1.8"/>
<circle class="c10" cx="443.5" cy="515.5" r="1.8"/>
<circle class="c10" cx="381.8" cy="616.7" r="1.8"/>
<circle class="c10" cx="389.3" cy="617.8" r="1.8"/>
<circle class="c9" cx="299.1" cy="610.1" r="1.8"/>
<circle class="c9" cx="310.6" cy="608.6" r="1.8"/>
<circle class="c10" cx="386.2" cy="608.4" r="1.8"/>
<circle class="c10" cx="388.6" cy="608.4" r="1.8"/>
<circle class="c10" cx="421.9" cy="554.5" r="1.8"/>
<circle class="c10" cx="403.3" cy="597.9" r="1.8"/>
<circle class="c9" cx="305.1" cy="621.7" r="1.8"/>
<circle class="c10" cx="430.5" cy="508.2" r="1.8"/>
<circle class="c10" cx="416.5" cy="605.2" r="1.8"/>
<circle class="c9" cx="262.2" cy="554.2" r="1.8"/>
<circle class="c9" cx="275.6" cy="580.5" r="1.8"/>
<circle class="c10" cx="435.3" cy="506.3" r="1.8"/>
<circle class="c10" cx="359" cy="623.6" r="1.8"/>
<circle class="c10" cx="424" cy="581.9" r="1.8"/>
<circle class="c9" cx="284.3" cy="609.5" r="1.8"/>
<circle class="c9" cx="362.3" cy="624" r="1.8"/>
<circle class="c9" cx="300.1" cy="621.2" r="1.8"/>
<circle class="c9" cx="312.1" cy="622.9" r="1.8"/>
<circle class="c10" cx="420.5" cy="606.8" r="1.8"/>
<circle class="c10" cx="402.3" cy="623.7" r="1.8"/>
<circle class="c10" cx="407.1" cy="580" r="1.8"/>
<circle class="c10" cx="370.8" cy="622.4" r="1.8"/>
<circle class="c9" cx="304.9" cy="616.1" r="1.8"/>
<circle class="c9" cx="285.3" cy="595.7" r="1.8"/>
<circle class="c9" cx="305.9" cy="513" r="1.8"/>
<circle class="c9" cx="291.7" cy="613.2" r="1.8"/>
<circle class="c9" cx="264.1" cy="567.7" r="1.8"/>
<circle class="c10" cx="384" cy="604.8" r="1.8"/>
<circle class="c10" cx="427.6" cy="571.3" r="1.8"/>
<circle class="c10" cx="392.2" cy="612.5" r="1.8"/>
<circle class="c9" cx="283.7" cy="598.2" r="1.8"/>
<circle class="c9" cx="287.5" cy="603" r="1.8"/>
<circle class="c9" cx="284.1" cy="587.4" r="1.8"/>
<circle class="c10" cx="398.2" cy="622.5" r="1.8"/>
<circle class="c9" cx="310" cy="623.3" r="1.8"/>
<circle class="c9" cx="277.9" cy="604.1" r="1.8"/>
<circle class="c10" cx="397.8" cy="622.1" r="1.8"/>
<circle class="c10" cx="360.8" cy="618.3" r="1.8"/>
<circle class="c9" cx="273.7" cy="591.5" r="1.8"/>
<circle class="c10" cx="364.3" cy="614.1" r="1.8"/>
<circle class="c10" cx="423.7" cy="600.5" r="1.8"/>
<circle class="c10" cx="382.6" cy="616.8" r="1.8"/>
<circle class="c9" cx="287.2" cy="617.6" r="1.8"/>
<circle class="c9" cx="281.9" cy="599.3" r="1.8"/>
<circle class="c9" cx="290.8" cy="619.3" r="1.8"/>
<circle class="c10" cx="409.6" cy="603.7" r="1.8"/>
<circle class="c10" cx="379.6" cy="617.2" r="1.8"/>
<circle class="c9" cx="291.7" cy="613.7" r="1.8"/>
<circle class="c10" cx="411" cy="603.5" r="1.8"/>
<circle class="c10" cx="419.6" cy="603.5" r="1.8"/>
<circle class="c9" cx="307.1" cy="511.5" r="1.8"/>
<circle class="c9" cx="296.1" cy="603.1" r="1.8"/>
<circle class="c10" cx="439" cy="503.1" r="1.8"/>
<circle class="c10" cx="416.4" cy="595.1" r="1.8"/>
<circle class="c9" cx="325.8" cy="617.5" r="1.8"/>
<circle class="c10" cx="398.7" cy="611.7" r="1.8"/>
<circle class="c10" cx="438.8" cy="557.1" r="1.8"/>
<circle class="c10" cx="438.6" cy="553" r="1.8"/>
<circle class="c10" cx="420.8" cy="589.2" r="1.8"/>
<circle class="c9" cx="348.3" cy="621.5" r="1.8"/>
<circle class="c10" cx="388.3" cy="623.6" r="1.8"/>
<circle class="c9" cx="322.7" cy="536.8" r="1.8"/>
<circle class="c10" cx="407.4" cy="586.3" r="1.8"/>
<circle class="c9" cx="310.4" cy="620.7" r="1.8"/>
<circle class="c9" cx="294" cy="615.4" r="1.8"/>
<circle class="c10" cx="416" cy="611.6" r="1.8"/>
<circle class="c9" cx="275.2" cy="599" r="1.8"/>
<circle class="c9" cx="288.1" cy="613" r="1.8"/>
<circle class="c9" cx="332.7" cy="621.1" r="1.8"/>
<circle class="c9" cx="315.3" cy="615.2" r="1.8"/>
<circle class="c9" cx="314.6" cy="598.7" r="1.8"/>
<circle class="c10" cx="424" cy="534.5" r="1.8"/>
<circle class="c9" cx="321.6" cy="619.4" r="1.8"/>
<circle class="c10" cx="409.5" cy="592.9" r="1.8"/>
<circle class="c10" cx="421" cy="563.1" r="1.8"/>
<circle class="c9" cx="318" cy="619.3" r="1.8"/>
<circle class="c9" cx="275.4" cy="603.9" r="1.8"/>
<circle class="c9" cx="289.6" cy="614.1" r="1.8"/>
<circle class="c10" cx="432.7" cy="562.7" r="1.8"/>
<circle class="c10" cx="413.1" cy="622.4" r="1.8"/>
<circle class="c10" cx="363.8" cy="615.9" r="1.8"/>
<circle class="c9" cx="318.3" cy="617.2" r="1.8"/>
<circle class="c9" cx="289.4" cy="601.7" r="1.8"/>
<circle class="c10" cx="409.9" cy="592.1" r="1.8"/>
<circle class="c9" cx="264.5" cy="542.5" r="1.8"/>
<circle class="c10" cx="382.3" cy="617.2" r="1.8"/>
<circle class="c10" cx="433.5" cy="578.4" r="1.8"/>
<circle class="c10" cx="434.8" cy="533.8" r="1.8"/>
<circle class="c9" cx="335.5" cy="623.5" r="1.8"/>
<circle class="c10" cx="398" cy="624" r="1.8"/>
<circle class="c9" cx="277.5" cy="609.1" r="1.8"/>
<circle class="c10" cx="433.7" cy="547.3" r="1.8"/>
<circle class="c10" cx="374.3" cy="603.9" r="1.8"/>
<circle class="c10" cx="412.5" cy="622.2" r="1.8"/>
<circle class="c9" cx="260.3" cy="540.5" r="1.8"/>
<circle class="c10" cx="433.4" cy="563.7" r="1.8"/>
<circle class="c10" cx="361.9" cy="622.5" r="1.8"/>
<circle class="c9" cx="316.1" cy="623" r="1.8"/>
<circle class="c10" cx="383.6" cy="621.4" r="1.8"/>
<circle class="c10" cx="425.8" cy="607.1" r="1.8"/>
<circle class="c9" cx="295.3" cy="612.1" r="1.8"/>
<circle class="c10" cx="425.2" cy="603.5" r="1.8"/>
<circle class="c10" cx="442.2" cy="499.4" r="1.8"/>
<circle class="c10" cx="429.4" cy="582.1" r="1.8"/>
<circle class="c10" cx="431.5" cy="564.2" r="1.8"/>
<circle class="c10" cx="414.3" cy="612.9" r="1.8"/>
<circle class="c9" cx="323.7" cy="623.9" r="1.8"/>
<circle class="c9" cx="279.9" cy="474" r="1.8"/>
<circle class="c10" cx="406.5" cy="587.7" r="1.8"/>
<circle class="c9" cx="274.3" cy="605.1" r="1.8"/>
<circle class="c9" cx="298.4" cy="474" r="1.8"/>
<circle class="c10" cx="388.6" cy="623.4" r="1.8"/>
<circle class="c10" cx="434.5" cy="555.7" r="1.8"/>
<circle class="c9" cx="285.2" cy="604.7" r="1.8"/>
<circle class="c10" cx="440.5" cy="528.5" r="1.8"/>
<circle class="c10" cx="377.2" cy="622.4" r="1.8"/>
<circle class="c10" cx="422.9" cy="572.1" r="1.8"/>
<circle class="c9" cx="344.6" cy="622.2" r="1.8"/>
<circle class="c9" cx="328.5" cy="623.5" r="1.8"/>
<circle class="c9" cx="257" cy="490.4" r="1.8"/>
<circle class="c10" cx="396.6" cy="624" r="1.8"/>
<circle class="c9" cx="268.4" cy="495.6" r="1.8"/>
<circle class="c9" cx="298.6" cy="615" r="1.8"/>
<circle class="c10" cx="393.7" cy="624" r="1.8"/>
<circle class="c10" cx="409.5" cy="615.2" r="1.8"/>
<circle class="c9" cx="324" cy="623.4" r="1.8"/>
<circle class="c10" cx="415.8" cy="596.9" r="1.8"/>
<circle class="c9" cx="320.3" cy="624" r="1.8"/>
<circle class="c9" cx="274" cy="601.5" r="1.8"/>
<circle class="c10" cx="378.7" cy="580.8" r="1.8"/>
<circle class="c10" cx="424.7" cy="557.2" r="1.8"/>
<circle class="c9" cx="364" cy="623.8" r="1.8"/>
<circle class="c10" cx="435.6" cy="543.5" r="1.8"/>
<circle class="c10" cx="384.6" cy="600.8" r="1.8"/>
<circle class="c9" cx="300.7" cy="615.8" r="1.8"/>
<circle class="c10" cx="418.6" cy="582.7" r="1.8"/>
<circle class="c10" cx="393.5" cy="505.2" r="1.8"/>
<circle class="c10" cx="403.5" cy="599.8" r="1.8"/>
<circle class="c10" cx="428" cy="595.8" r="1.8"/>
<circle class="c10" cx="422" cy="561.2" r="1.8"/>
<circle class="c10" cx="411.5" cy="569" r="1.8"/>
<circle class="c10" cx="405.7" cy="622.2" r="1.8"/>
<circle class="c10" cx="419.1" cy="533.9" r="1.8"/>
<circle class="c10" cx="439.4" cy="530.5" r="1.8"/>
<circle class="c10" cx="434.6" cy="534" r="1.8"/>
<circle class="c10" cx="381.8" cy="624" r="1.8"/>
<circle class="c9" cx="361.3" cy="619" r="1.8"/>
<circle class="c10" cx="432.8" cy="564.9" r="1.8"/>
<circle class="c10" cx="424.7" cy="566.5" r="1.8"/>
<circle class="c10" cx="435.1" cy="486.5" r="1.8"/>
<circle class="c10" cx="391.2" cy="621.8" r="1.8"/>
<circle class="c10" cx="422.4" cy="503.5" r="1.8"/>
<circle class="c9" cx="274.4" cy="599.5" r="1.8"/>
<circle class="c10" cx="372.3" cy="623.9" r="1.8"/>
<circle class="c10" cx="432.4" cy="518.7" r="1.8"/>
<circle class="c10" cx="397.2" cy="606.2" r="1.8"/>
<circle class="c10" cx="424.8" cy="588.4" r="1.8"/>
<circle class="c9" cx="311.1" cy="617.5" r="1.8"/>
<circle class="c9" cx="278.6" cy="607.5" r="1.8"/>
<circle class="c10" cx="444.7" cy="514.8" r="1.8"/>
<circle class="c9" cx="333.6" cy="617.1" r="1.8"/>
<circle class="c10" cx="401.1" cy="623.9" r="1.8"/>
<circle class="c10" cx="396.3" cy="619.6" r="1.8"/>
<circle class="c10" cx="410.8" cy="607.4" r="1.8"/>
<circle class="c10" cx="417.5" cy="572.5" r="1.8"/>
<circle class="c9" cx="302.7" cy="622.1" r="1.8"/>
<circle class="c10" cx="386.3" cy="623.2" r="1.8"/>
<circle class="c9" cx="273" cy="474" r="1.8"/>
<circle class="c10" cx="420.9" cy="602.9" r="1.8"/>
<circle class="c9" cx="302.8" cy="622" r="1.8"/>
<circle class="c10" cx="437" cy="563.1" r="1.8"/>
<circle class="c10" cx="410" cy="621.4" r="1.8"/>
<circle class="c9" cx="275.8" cy="601.5" r="1.8"/>
<circle class="c9" cx="370.6" cy="623" r="1.8"/>
<circle class="c9" cx="335.5" cy="623.9" r="1.8"/>
<circle class="c10" cx="390.8" cy="618.8" r="1.8"/>
<circle class="c9" cx="279.1" cy="589.9" r="1.8"/>
<circle class="c10" cx="434.3" cy="552.1" r="1.8"/>
<circle class="c10" cx="380" cy="620" r="1.8"/>
<circle class="c9" cx="325.3" cy="622.7" r="1.8"/>
<circle class="c9" cx="307.2" cy="610.3" r="1.8"/>
<circle class="c9" cx="287.9" cy="615" r="1.8"/>
<circle class="c10" cx="394.7" cy="504.7" r="1.8"/>
<circle class="c10" cx="381.4" cy="615.6" r="1.8"/>
<circle class="c10" cx="440.5" cy="499.3" r="1.8"/>
<circle class="c10" cx="434.3" cy="511.6" r="1.8"/>
<circle class="c10" cx="391.4" cy="601.6" r="1.8"/>
<circle class="c9" cx="301.2" cy="606.2" r="1.8"/>
<circle class="c9" cx="367" cy="611.1" r="1.8"/>
<circle class="c10" cx="424" cy="548" r="1.8"/>
<circle class="c10" cx="413.8" cy="622.4" r="1.8"/>
<circle class="c9" cx="316.3" cy="601.3" r="1.8"/>
<circle class="c10" cx="416.3" cy="604.6" r="1.8"/>
<circle class="c10" cx="438.9" cy="492.8" r="1.8"/>
<circle class="c10" cx="382.1" cy="617.1" r="1.8"/>
<circle class="c9" cx="360.6" cy="623.8" r="1.8"/>
<circle class="c10" cx="391.8" cy="623" r="1.8"/>
<circle class="c10" cx="400.4" cy="615.8" r="1.8"/>
<circle class="c10" cx="359.8" cy="619.3" r="1.8"/>
<circle class="c9" cx="292.9" cy="616.5" r="1.8"/>
<circle class="c10" cx="429.1" cy="599.7" r="1.8"/>
<circle class="c10" cx="392.7" cy="611.5" r="1.8"/>
<circle class="c9" cx="294.1" cy="619.2" r="1.8"/>
<circle class="c10" cx="408.8" cy="606.5" r="1.8"/>
<circle class="c9" cx="313.9" cy="620.2" r="1.8"/>
<circle class="c9" cx="263.2" cy="571.8" r="1.8"/>
<circle class="c10" cx="425.5" cy="567.5" r="1.8"/>
<circle class="c10" cx="411" cy="601.2" r="1.8"/>
<circle class="c10" cx="442.2" cy="524.2" r="1.8"/>
<circle class="c9" cx="311.5" cy="616.8" r="1.8"/>
<circle class="c9" cx="306.7" cy="620.2" r="1.8"/>
<circle class="c9" cx="320.9" cy="623.9" r="1.8"/>
<circle class="c10" cx="418.5" cy="602.7" r="1.8"/>
<circle class="c10" cx="386.6" cy="623.9" r="1.8"/>
<circle class="c10" cx="361.1" cy="616.3" r="1.8"/>
<circle class="c9" cx="346.7" cy="622.1" r="1.8"/>
<circle class="c9" cx="343.8" cy="621.5" r="1.8"/>
<circle class="c10" cx="399.5" cy="617.5" r="1.8"/>
<circle class="c10" cx="385.2" cy="623.3" r="1.8"/>
<circle class="c9" cx="278.1" cy="599.4" r="1.8"/>
<circle class="c9" cx="267" cy="562.6" r="1.8"/>
<circle class="c9" cx="299" cy="602.5" r="1.8"/>
<circle class="c9" cx="314.9" cy="622.1" r="1.8"/>
<circle class="c10" cx="409.3" cy="622.9" r="1.8"/>
<circle class="c9" cx="377.7" cy="588.2" r="1.8"/>
<circle class="c10" cx="436.8" cy="572" r="1.8"/>
<circle class="c9" cx="278.3" cy="611" r="1.8"/>
<circle class="c10" cx="409.9" cy="618.3" r="1.8"/>
<circle class="c10" cx="397.7" cy="602.2" r="1.8"/>
<circle class="c10" cx="388.1" cy="621.7" r="1.8"/>
<circle class="c10" cx="383.1" cy="616.9" r="1.8"/>
<circle class="c9" cx="304.6" cy="624" r="1.8"/>
<circle class="c10" cx="435.9" cy="489.9" r="1.8"/>
<circle class="c10" cx="394.1" cy="614.9" r="1.8"/>
<circle class="c9" cx="275.5" cy="599.9" r="1.8"/>
<circle class="c10" cx="416" cy="614.4" r="1.8"/>
<circle class="c10" cx="443.9" cy="488.7" r="1.8"/>
<circle class="c10" cx="426.1" cy="534" r="1.8"/>
<circle class="c9" cx="322.1" cy="581.5" r="1.8"/>
<circle class="c10" cx="409" cy="616.6" r="1.8"/>
<circle class="c10" cx="394" cy="621.4" r="1.8"/>
<circle class="c10" cx="410.9" cy="622.7" r="1.8"/>
<circle class="c10" cx="415.2" cy="621.1" r="1.8"/>
<circle class="c10" cx="393.9" cy="613" r="1.8"/>
<circle class="c10" cx="398.3" cy="623.8" r="1.8"/>
<circle class="c9" cx="304.2" cy="605.3" r="1.8"/>
<circle class="c10" cx="383" cy="603.4" r="1.8"/>
<circle class="c10" cx="391" cy="623.6" r="1.8"/>
<circle class="c10" cx="390.6" cy="620.3" r="1.8"/>
<circle class="c10" cx="405.1" cy="623.9" r="1.8"/>
<circle class="c9" cx="321.9" cy="605.5" r="1.8"/>
<circle class="c9" cx="297.7" cy="615.8" r="1.8"/>
<circle class="c10" cx="378.9" cy="624" r="1.8"/>
<circle class="c9" cx="356.8" cy="620.8" r="1.8"/>
<circle class="c10" cx="402.1" cy="614.2" r="1.8"/>
<circle class="c10" cx="388" cy="623.5" r="1.8"/>
<circle class="c9" cx="298.8" cy="621.8" r="1.8"/>
<circle class="c10" cx="387.1" cy="548.1" r="1.8"/>
<circle class="c9" cx="349.6" cy="621" r="1.8"/>
<circle class="c10" cx="391.8" cy="615.8" r="1.8"/>
<circle class="c9" cx="355.9" cy="624" r="1.8"/>
<circle class="c9" cx="319.2" cy="613" r="1.8"/>
<circle class="c10" cx="409.1" cy="622" r="1.8"/>
<circle class="c9" cx="342.2" cy="619.7" r="1.8"/>
<circle class="c10" cx="393.7" cy="595.4" r="1.8"/>
<circle class="c9" cx="290.1" cy="614" r="1.8"/>
<circle class="c10" cx="381.1" cy="623.5" r="1.8"/>
<circle class="c10" cx="434.1" cy="572.2" r="1.8"/>
<circle class="c9" cx="318.5" cy="567.9" r="1.8"/>
<circle class="c10" cx="444.5" cy="517.5" r="1.8"/>
<circle class="c10" cx="411.1" cy="613.9" r="1.8"/>
<circle class="c9" cx="282.5" cy="615.4" r="1.8"/>
<circle class="c9" cx="288.9" cy="552.3" r="1.8"/>
<circle class="c10" cx="387.5" cy="623.9" r="1.8"/>
<circle class="c9" cx="286.2" cy="553.8" r="1.8"/>
<circle class="c10" cx="438.2" cy="562.8" r="1.8"/>
<circle class="c9" cx="288.1" cy="608.5" r="1.8"/>
<circle class="c10" cx="399.4" cy="614.8" r="1.8"/>
<circle class="c9" cx="283.3" cy="594.4" r="1.8"/>
<circle class="c10" cx="410.2" cy="616.8" r="1.8"/>
<circle class="c10" cx="362.7" cy="623.5" r="1.8"/>
<circle class="c10" cx="441.1" cy="494.7" r="1.8"/>
<circle class="c9" cx="311.5" cy="616.8" r="1.8"/>
<circle class="c9" cx="305.3" cy="519" r="1.8"/>
<circle class="c10" cx="389.3" cy="599.7" r="1.8"/>
<circle class="c10" cx="415.3" cy="557.2" r="1.8"/>
<circle class="c10" cx="429.5" cy="518.1" r="1.8"/>
<circle class="c9" cx="284.6" cy="616.1" r="1.8"/>
<circle class="c9" cx="296.7" cy="613.8" r="1.8"/>
<circle class="c10" cx="417.4" cy="585.8" r="1.8"/>
<circle class="c10" cx="373.3" cy="594.4" r="1.8"/>
<circle class="c9" cx="294.4" cy="502.7" r="1.8"/>
<circle class="c9" cx="275.9" cy="609.5" r="1.8"/>
<circle class="c9" cx="305" cy="592.3" r="1.8"/>
<circle class="c10" cx="427.9" cy="548.2" r="1.8"/>
<circle class="c10" cx="438.8" cy="526.3" r="1.8"/>
<circle class="c9" cx="300" cy="619.9" r="1.8"/>
<circle class="c9" cx="326.7" cy="585.6" r="1.8"/>
<circle class="c10" cx="440.7" cy="496.4" r="1.8"/>
<circle class="c10" cx="428.1" cy="556.6" r="1.8"/>
<circle class="c9" cx="300.1" cy="569.7" r="1.8"/>
<circle class="c9" cx="269.3" cy="585.9" r="1.8"/>
<circle class="c9" cx="326" cy="622.9" r="1.8"/>
<circle class="c10" cx="404" cy="623.9" r="1.8"/>
<circle class="c9" cx="293.1" cy="606.9" r="1.8"/>
<circle class="c10" cx="364.9" cy="617.2" r="1.8"/>
<circle class="c10" cx="415.2" cy="621.8" r="1.8"/>
<circle class="c9" cx="351.2" cy="615.9" r="1.8"/>
<circle class="c9" cx="257.5" cy="501.4" r="1.8"/>
<circle class="c9" cx="295.1" cy="623.3" r="1.8"/>
<circle class="c9" cx="312.1" cy="612.6" r="1.8"/>
<circle class="c9" cx="297" cy="611" r="1.8"/>
<circle class="c9" cx="286.7" cy="616" r="1.8"/>
<circle class="c10" cx="413.4" cy="616.5" r="1.8"/>
<circle class="c10" cx="396.3" cy="615.8" r="1.8"/>
<circle class="c9" cx="332.8" cy="500.8" r="1.8"/>
<circle class="c10" cx="381.7" cy="623.9" r="1.8"/>
<circle class="c9" cx="290.9" cy="511.6" r="1.8"/>
<circle class="c10" cx="416.2" cy="620.3" r="1.8"/>
<circle class="c9" cx="297.3" cy="620.9" r="1.8"/>
<circle class="c9" cx="333.9" cy="623.9" r="1.8"/>
<circle class="c9" cx="311.1" cy="617.8" r="1.8"/>
<circle class="c10" cx="390.3" cy="591.5" r="1.8"/>
<circle class="c9" cx="299" cy="590.9" r="1.8"/>
<circle class="c10" cx="365.5" cy="615.2" r="1.8"/>
<circle class="c10" cx="408.7" cy="618.3" r="1.8"/>
<circle class="c10" cx="376.2" cy="615.8" r="1.8"/>
<circle class="c10" cx="366.2" cy="621.7" r="1.8"/>
<circle class="c9" cx="272.1" cy="599.6" r="1.8"/>
<circle class="c9" cx="288.3" cy="618.1" r="1.8"/>
<circle class="c9" cx="284.3" cy="616.8" r="1.8"/>
<circle class="c10" cx="438.1" cy="565.7" r="1.8"/>
<circle class="c10" cx="367.6" cy="622.4" r="1.8"/>
<circle class="c9" cx="314.6" cy="474" r="1.8"/>
<circle class="c10" cx="368.8" cy="623.3" r="1.8"/>
<circle class="c9" cx="368.4" cy="551.2" r="1.8"/>
<circle class="c10" cx="378.5" cy="622" r="1.8"/>
<circle class="c10" cx="407" cy="620.1" r="1.8"/>
<circle class="c10" cx="377.2" cy="618.3" r="1.8"/>
<circle class="c10" cx="401.1" cy="619.9" r="1.8"/>
<circle class="c9" cx="300.3" cy="623.3" r="1.8"/>
<circle class="c9" cx="329.4" cy="621.8" r="1.8"/>
<circle class="c10" cx="377.4" cy="623.8" r="1.8"/>
<circle class="c10" cx="424.2" cy="574.7" r="1.8"/>
<circle class="c9" cx="315.2" cy="614.6" r="1.8"/>
<circle class="c10" cx="409" cy="616.2" r="1.8"/>
<circle class="c10" cx="421.8" cy="599.4" r="1.8"/>
<circle class="c10" cx="391.3" cy="623.7" r="1.8"/>
<circle class="c9" cx="339.3" cy="622.2" r="1.8"/>
<circle class="c10" cx="436.5" cy="485.4" r="1.8"/>
<circle class="c10" cx="390" cy="619.6" r="1.8"/>
<circle class="c9" cx="300.9" cy="605.7" r="1.8"/>
<circle class="c10" cx="411.8" cy="621.4" r="1.8"/>
<circle class="c9" cx="269.3" cy="561.5" r="1.8"/>
<circle class="c10" cx="427.5" cy="569.9" r="1.8"/>
<circle class="c10" cx="376.3" cy="569.6" r="1.8"/>
<circle class="c10" cx="403.5" cy="622.2" r="1.8"/>
<circle class="c10" cx="435.2" cy="496.7" r="1.8"/>
<circle class="c10" cx="441.6" cy="518.6" r="1.8"/>
<circle class="c9" cx="303.2" cy="609" r="1.8"/>
<circle class="c10" cx="373.5" cy="618.5" r="1.8"/>
<circle class="c10" cx="446.9" cy="494.7" r="1.8"/>
<circle class="c9" cx="281.5" cy="498.5" r="1.8"/>
<circle class="c9" cx="258.1" cy="555.5" r="1.8"/>
<circle class="c9" cx="307.5" cy="617.6" r="1.8"/>
<circle class="c9" cx="322.5" cy="619.2" r="1.8"/>
<circle class="c10" cx="380.8" cy="622.9" r="1.8"/>
<circle class="c9" cx="286.7" cy="604.7" r="1.8"/>
<circle class="c9" cx="329.3" cy="623" r="1.8"/>
<circle class="c10" cx="424.3" cy="596.2" r="1.8"/>
<circle class="c9" cx="345.3" cy="623.8" r="1.8"/>
<circle class="c10" cx="396.1" cy="613" r="1.8"/>
<circle class="c9" cx="310.7" cy="623.3" r="1.8"/>
<circle class="c9" cx="289.5" cy="606.5" r="1.8"/>
<circle class="c9" cx="285.1" cy="621.4" r="1.8"/>
<circle class="c10" cx="389.2" cy="624" r="1.8"/>
<circle class="c9" cx="269.1" cy="594" r="1.8"/>
<circle class="c9" cx="295.8" cy="611.9" r="1.8"/>
<circle class="c10" cx="395.6" cy="618.5" r="1.8"/>
<circle class="c10" cx="412.7" cy="619" r="1.8"/>
<circle class="c9" cx="310.3" cy="506.1" r="1.8"/>
<circle class="c10" cx="408.8" cy="600.7" r="1.8"/>
<circle class="c10" cx="416.7" cy="578.3" r="1.8"/>
<circle class="c9" cx="310.3" cy="620.3" r="1.8"/>
<circle class="c10" cx="433.9" cy="562.3" r="1.8"/>
<circle class="c9" cx="322" cy="515.3" r="1.8"/>
<circle class="c10" cx="442.3" cy="540.1" r="1.8"/>
<circle class="c10" cx="372.8" cy="620.1" r="1.8"/>
<circle class="c9" cx="299.1" cy="605.4" r="1.8"/>
<circle class="c9" cx="333.7" cy="620" r="1.8"/>
<circle class="c10" cx="411.8" cy="616.8" r="1.8"/>
<circle class="c9" cx="273.9" cy="588.4" r="1.8"/>
<circle class="c10" cx="413.7" cy="609.1" r="1.8"/>
<circle class="c10" cx="391.4" cy="555.1" r="1.8"/>
<circle class="c10" cx="396.8" cy="621.3" r="1.8"/>
<circle class="c10" cx="405.5" cy="585.7" r="1.8"/>
<circle class="c9" cx="326.9" cy="619.1" r="1.8"/>
<circle class="c10" cx="372.9" cy="623.8" r="1.8"/>
<circle class="c10" cx="410.6" cy="569.8" r="1.8"/>
<circle class="c9" cx="364.8" cy="534" r="1.8"/>
<circle class="c9" cx="253.5" cy="499.5" r="1.8"/>
<circle class="c9" cx="308.3" cy="623.3" r="1.8"/>
<circle class="c10" cx="374.2" cy="610.5" r="1.8"/>
<circle class="c9" cx="268.6" cy="543.4" r="1.8"/>
<circle class="c9" cx="282" cy="617.5" r="1.8"/>
<circle class="c10" cx="403.3" cy="608.1" r="1.8"/>
<circle class="c10" cx="410.2" cy="612" r="1.8"/>
<circle class="c10" cx="442.7" cy="517.9" r="1.8"/>
<circle class="c10" cx="416.9" cy="605.8" r="1.8"/>
<circle class="c10" cx="421.6" cy="584.9" r="1.8"/>
<circle class="c9" cx="347.3" cy="617.9" r="1.8"/>
<circle class="c9" cx="282.8" cy="597.4" r="1.8"/>
<circle class="c10" cx="384.2" cy="606.8" r="1.8"/>
<circle class="c10" cx="396.8" cy="622.3" r="1.8"/>
<circle class="c9" cx="308.5" cy="584.6" r="1.8"/>
<circle class="c10" cx="424.7" cy="574.8" r="1.8"/>
<circle class="c10" cx="401.4" cy="623.7" r="1.8"/>
<circle class="c10" cx="432.5" cy="554.3" r="1.8"/>
<circle class="c9" cx="286.3" cy="609.1" r="1.8"/>
<circle class="c10" cx="446.6" cy="495.6" r="1.8"/>
<circle class="c10" cx="394.7" cy="612.9" r="1.8"/>
<circle class="c10" cx="373.6" cy="607.4" r="1.8"/>
<circle class="c10" cx="363.6" cy="623.4" r="1.8"/>
<circle class="c9" cx="373.8" cy="601.6" r="1.8"/>
<circle class="c10" cx="393.1" cy="622.3" r="1.8"/>
<circle class="c10" cx="387.5" cy="616.5" r="1.8"/>
<circle class="c10" cx="381.7" cy="622.8" r="1.8"/>
<circle class="c9" cx="308.6" cy="617.5" r="1.8"/>
<circle class="c10" cx="416.7" cy="616.9" r="1.8"/>
<circle class="c10" cx="383.4" cy="623.9" r="1.8"/>
<circle class="c9" cx="313.6" cy="616" r="1.8"/>
<circle class="c9" cx="286.8" cy="618.4" r="1.8"/>
<circle class="c10" cx="374.4" cy="597.6" r="1.8"/>
<circle class="c10" cx="376.9" cy="619.2" r="1.8"/>
<circle class="c10" cx="425" cy="501.9" r="1.8"/>
<circle class="c10" cx="423.2" cy="588.7" r="1.8"/>
<circle class="c9" cx="298.4" cy="605.2" r="1.8"/>
<circle class="c10" cx="375.2" cy="594.2" r="1.8"/>
<circle class="c10" cx="398.1" cy="616.9" r="1.8"/>
<circle class="c10" cx="448.3" cy="489.4" r="1.8"/>
<circle class="c10" cx="383" cy="622.1" r="1.8"/>
<circle class="c9" cx="354" cy="624" r="1.8"/>
<circle class="c10" cx="403.6" cy="591.6" r="1.8"/>
<circle class="c10" cx="410" cy="621.1" r="1.8"/>
<circle class="c9" cx="393.7" cy="524" r="1.8"/>
<circle class="c9" cx="345.7" cy="620.3" r="1.8"/>
<circle class="c10" cx="396.3" cy="621.2" r="1.8"/>
<circle class="c10" cx="414.4" cy="587.6" r="1.8"/>
<circle class="c10" cx="385.4" cy="624" r="1.8"/>
<circle class="c10" cx="395.1" cy="606" r="1.8"/>
<circle class="c10" cx="436.4" cy="553.7" r="1.8"/>
<circle class="c10" cx="387.6" cy="623.6" r="1.8"/>
<circle class="c9" cx="282" cy="608.1" r="1.8"/>
<circle class="c10" cx="422.3" cy="545.1" r="1.8"/>
<circle class="c9" cx="300" cy="507.6" r="1.8"/>
<circle class="c9" cx="317.6" cy="618.1" r="1.8"/>
<circle class="c10" cx="436" cy="548.4" r="1.8"/>
<circle class="c10" cx="427.7" cy="595.6" r="1.8"/>
<circle class="c9" cx="286.1" cy="601.2" r="1.8"/>
<circle class="c10" cx="363.3" cy="614.4" r="1.8"/>
<circle class="c10" cx="437.8" cy="567.4" r="1.8"/>
<circle class="c10" cx="421.5" cy="516.5" r="1.8"/>
<circle class="c9" cx="275.6" cy="498.4" r="1.8"/>
<circle class="c9" cx="348.7" cy="623.1" r="1.8"/>
<circle class="c9" cx="286" cy="613.7" r="1.8"/>
<circle class="c9" cx="313.3" cy="603.5" r="1.8"/>
<circle class="c10" cx="401.3" cy="620.1" r="1.8"/>
<circle class="c10" cx="414.8" cy="610.9" r="1.8"/>
<circle class="c10" cx="409.4" cy="614.9" r="1.8"/>
<circle class="c10" cx="397.5" cy="617.1" r="1.8"/>
<circle class="c9" cx="317.6" cy="573" r="1.8"/>
<circle class="c9" cx="272" cy="599.6" r="1.8"/>
<circle class="c10" cx="373.6" cy="614.8" r="1.8"/>
<circle class="c9" cx="343.7" cy="621" r="1.8"/>
<circle class="c10" cx="448.8" cy="480.9" r="1.8"/>
<circle class="c9" cx="348.6" cy="616.9" r="1.8"/>
<circle class="c10" cx="432.1" cy="570.1" r="1.8"/>
<circle class="c10" cx="438.2" cy="554" r="1.8"/>
<circle class="c10" cx="387.8" cy="624" r="1.8"/>
<circle class="c10" cx="403.2" cy="622.9" r="1.8"/>
<circle class="c10" cx="373.1" cy="621.4" r="1.8"/>
<circle class="c10" cx="420" cy="594.9" r="1.8"/>
<circle class="c10" cx="414.3" cy="614.5" r="1.8"/>
<circle class="c10" cx="430.3" cy="527.9" r="1.8"/>
<circle class="c10" cx="417" cy="598" r="1.8"/>
<circle class="c9" cx="295.6" cy="607.6" r="1.8"/>
<circle class="c9" cx="324.4" cy="622.7" r="1.8"/>
<circle class="c10" cx="440" cy="525.4" r="1.8"/>
<circle class="c9" cx="303.3" cy="622.3" r="1.8"/>
<circle class="c10" cx="421" cy="502.8" r="1.8"/>
<circle class="c9" cx="290" cy="618.7" r="1.8"/>
<circle class="c10" cx="390.2" cy="602.6" r="1.8"/>
<circle class="c10" cx="421.8" cy="531.1" r="1.8"/>
<circle class="c9" cx="344.4" cy="621.4" r="1.8"/>
<circle class="c10" cx="431.1" cy="593.2" r="1.8"/>
<circle class="c9" cx="284.6" cy="618.4" r="1.8"/>
<circle class="c9" cx="318.2" cy="587" r="1.8"/>
<circle class="c10" cx="416.6" cy="581.2" r="1.8"/>
<circle class="c9" cx="312.6" cy="623.4" r="1.8"/>
<circle class="c10" cx="410.8" cy="590" r="1.8"/>
<circle class="c10" cx="440" cy="505.4" r="1.8"/>
<circle class="c9" cx="288.3" cy="610.9" r="1.8"/>
<circle class="c9" cx="333.7" cy="622.9" r="1.8"/>
<circle class="c9" cx="284.7" cy="608.5" r="1.8"/>
<circle class="c9" cx="293.1" cy="512.7" r="1.8"/>
<circle class="c9" cx="280.2" cy="606.5" r="1.8"/>
<circle class="c9" cx="319.7" cy="621.3" r="1.8"/>
<circle class="c9" cx="265.7" cy="582.8" r="1.8"/>
<circle class="c10" cx="431.6" cy="589.1" r="1.8"/>
<circle class="c9" cx="288.1" cy="615.9" r="1.8"/>
<circle class="c10" cx="437.1" cy="529.4" r="1.8"/>
<circle class="c10" cx="361.9" cy="624" r="1.8"/>
<circle class="c10" cx="413.8" cy="594.5" r="1.8"/>
<circle class="c10" cx="402.4" cy="623.4" r="1.8"/>
<circle class="c9" cx="285.2" cy="611.7" r="1.8"/>
<circle class="c9" cx="292.5" cy="623.8" r="1.8"/>
<circle class="c9" cx="326.9" cy="621.3" r="1.8"/>
<circle class="c10" cx="365.8" cy="622.9" r="1.8"/>
<circle class="c10" cx="410.6" cy="604" r="1.8"/>
<circle class="c10" cx="430.6" cy="575.3" r="1.8"/>
<circle class="c10" cx="412" cy="622" r="1.8"/>
<circle class="c9" cx="326.3" cy="579.7" r="1.8"/>
<circle class="c10" cx="429" cy="597.1" r="1.8"/>
<circle class="c10" cx="412.4" cy="620.4" r="1.8"/>
<circle class="c9" cx="345.2" cy="615.7" r="1.8"/>
<circle class="c10" cx="422.9" cy="590.8" r="1.8"/>
<circle class="c9" cx="277.6" cy="474" r="1.8"/>
<circle class="c10" cx="371.2" cy="620.5" r="1.8"/>
<circle class="c10" cx="425.4" cy="609.1" r="1.8"/>
<circle class="c10" cx="394.4" cy="623.9" r="1.8"/>
<circle class="c9" cx="325.8" cy="566.9" r="1.8"/>
<circle class="c10" cx="390.6" cy="617.2" r="1.8"/>
<circle class="c9" cx="288.7" cy="618.5" r="1.8"/>
<circle class="c10" cx="397.5" cy="616.5" r="1.8"/>
<circle class="c9" cx="288.6" cy="599.9" r="1.8"/>
<circle class="c10" cx="408.7" cy="620.5" r="1.8"/>
<circle class="c9" cx="341.7" cy="622.6" r="1.8"/>
<circle class="c9" cx="307.6" cy="618.6" r="1.8"/>
<circle class="c10" cx="366.7" cy="619.5" r="1.8"/>
<circle class="c9" cx="298.9" cy="614.9" r="1.8"/>
<circle class="c9" cx="288.1" cy="613.3" r="1.8"/>
<circle class="c9" cx="303.1" cy="617.6" r="1.8"/>
<circle class="c10" cx="446.4" cy="501.2" r="1.8"/>
<circle class="c9" cx="309.9" cy="623.9" r="1.8"/>
<circle class="c10" cx="395.7" cy="623.4" r="1.8"/>
<circle class="c9" cx="338.1" cy="565.3" r="1.8"/>
<circle class="c9" cx="322.7" cy="620.8" r="1.8"/>
<circle class="c10" cx="368.2" cy="621.9" r="1.8"/>
<circle class="c10" cx="387.1" cy="623.7" r="1.8"/>
<circle class="c9" cx="380.4" cy="602" r="1.8"/>
<circle class="c10" cx="399.2" cy="619.2" r="1.8"/>
<circle class="c10" cx="404" cy="622.3" r="1.8"/>
<circle class="c9" cx="288.9" cy="619.5" r="1.8"/>
<circle class="c9" cx="282.8" cy="614.2" r="1.8"/>
<circle class="c10" cx="431.5" cy="523.4" r="1.8"/>
<circle class="c9" cx="324.9" cy="616.9" r="1.8"/>
<circle class="c9" cx="267" cy="590.5" r="1.8"/>
<circle class="c10" cx="437.5" cy="524.7" r="1.8"/>
<circle class="c10" cx="413.8" cy="548.7" r="1.8"/>
<circle class="c9" cx="314.2" cy="623.2" r="1.8"/>
<circle class="c10" cx="429.4" cy="533.7" r="1.8"/>
<circle class="c9" cx="335.4" cy="619" r="1.8"/>
<circle class="c9" cx="306.3" cy="622.6" r="1.8"/>
<circle class="c10" cx="411.1" cy="600.9" r="1.8"/>
<circle class="c10" cx="406.4" cy="573.1" r="1.8"/>
<circle class="c10" cx="392.9" cy="622.8" r="1.8"/>
<circle class="c9" cx="286.7" cy="520.6" r="1.8"/>
<circle class="c10" cx="409.4" cy="619.7" r="1.8"/>
<circle class="c10" cx="447.1" cy="483" r="1.8"/>
<circle class="c9" cx="310.5" cy="620.7" r="1.8"/>
<circle class="c10" cx="410.7" cy="599.3" r="1.8"/>
<circle class="c9" cx="300.6" cy="569.1" r="1.8"/>
<circle class="c10" cx="400.5" cy="613.4" r="1.8"/>
<circle class="c9" cx="342.7" cy="621.5" r="1.8"/>
<circle class="c10" cx="405.7" cy="623.5" r="1.8"/>
<circle class="c9" cx="291.4" cy="621.8" r="1.8"/>
<circle class="c10" cx="413.9" cy="611.4" r="1.8"/>
<circle class="c9" cx="330.6" cy="623.3" r="1.8"/>
<circle class="c9" cx="301.3" cy="617.2" r="1.8"/>
<circle class="c10" cx="412.9" cy="614.5" r="1.8"/>
<circle class="c9" cx="357.5" cy="557.9" r="1.8"/>
<circle class="c10" cx="399.2" cy="624" r="1.8"/>
<circle class="c10" cx="382.8" cy="608.7" r="1.8"/>
<circle class="c10" cx="449.1" cy="483.3" r="1.8"/>
<circle class="c10" cx="431.8" cy="588.4" r="1.8"/>
<circle class="c9" cx="291.7" cy="616" r="1.8"/>
<circle class="c10" cx="437.9" cy="538.4" r="1.8"/>
<circle class="c9" cx="292.9" cy="559.9" r="1.8"/>
<circle class="c10" cx="445" cy="484.9" r="1.8"/>
<circle class="c10" cx="395.1" cy="551.7" r="1.8"/>
<circle class="c9" cx="277.2" cy="612.4" r="1.8"/>
<circle class="c9" cx="325" cy="616.9" r="1.8"/>
<circle class="c10" cx="434.5" cy="484.9" r="1.8"/>
<circle class="c9" cx="305.7" cy="596.3" r="1.8"/>
<circle class="c9" cx="313.8" cy="613.9" r="1.8"/>
<circle class="c10" cx="427.5" cy="563.3" r="1.8"/>
<circle class="c10" cx="427.9" cy="532.3" r="1.8"/>
<circle class="c9" cx="282.8" cy="609.4" r="1.8"/>
<circle class="c10" cx="407.5" cy="607.7" r="1.8"/>
<circle class="c10" cx="396" cy="602.1" r="1.8"/>
<circle class="c9" cx="284" cy="499.2" r="1.8"/>
<circle class="c10" cx="408.6" cy="619.2" r="1.8"/>
<circle class="c9" cx="311.4" cy="622.1" r="1.8"/>
<circle class="c10" cx="430.2" cy="596.3" r="1.8"/>
<circle class="c9" cx="257.6" cy="541.8" r="1.8"/>
<circle class="c10" cx="427.6" cy="589.7" r="1.8"/>
<circle class="c10" cx="433.7" cy="520.7" r="1.8"/>
<circle class="c10" cx="410" cy="613.1" r="1.8"/>
<circle class="c9" cx="354.2" cy="624" r="1.8"/>
<circle class="c10" cx="405.5" cy="619.4" r="1.8"/>
<circle class="c10" cx="403.4" cy="584.6" r="1.8"/>
<circle class="c9" cx="272" cy="597.2" r="1.8"/>
<circle class="c9" cx="313.8" cy="618.7" r="1.8"/>
<circle class="c10" cx="424.9" cy="563.9" r="1.8"/>
<circle class="c9" cx="287.8" cy="533.5" r="1.8"/>
<circle class="c10" cx="392" cy="618.6" r="1.8"/>
<circle class="c9" cx="294.4" cy="620.4" r="1.8"/>
<circle class="c9" cx="319.3" cy="615" r="1.8"/>
<circle class="c10" cx="397.4" cy="623.6" r="1.8"/>
<circle class="c10" cx="417.4" cy="585.2" r="1.8"/>
<circle class="c9" cx="292.3" cy="623" r="1.8"/>
<circle class="c10" cx="440" cy="551.1" r="1.8"/>
<circle class="c9" cx="326.1" cy="507.9" r="1.8"/>
<circle class="c10" cx="404.5" cy="619.1" r="1.8"/>
<circle class="c10" cx="432.6" cy="539.8" r="1.8"/>
<circle class="c10" cx="413.2" cy="612.1" r="1.8"/>
<circle class="c9" cx="308.8" cy="620.7" r="1.8"/>
<circle class="c9" cx="277.1" cy="609.6" r="1.8"/>
<circle class="c10" cx="405.4" cy="614.2" r="1.8"/>
<circle class="c9" cx="285" cy="617.9" r="1.8"/>
<circle class="c10" cx="433.8" cy="585.7" r="1.8"/>
<circle class="c9" cx="292.9" cy="620.9" r="1.8"/>
<circle class="c10" cx="408.6" cy="588.5" r="1.8"/>
<circle class="c10" cx="403.3" cy="623.2" r="1.8"/>
<circle class="c9" cx="302.9" cy="598.5" r="1.8"/>
<circle class="c9" cx="318.5" cy="623.7" r="1.8"/>
<circle class="c10" cx="434.9" cy="557" r="1.8"/>
<circle class="c10" cx="426" cy="515.8" r="1.8"/>
<circle class="c9" cx="303.8" cy="501.5" r="1.8"/>
<circle class="c9" cx="286.4" cy="615.5" r="1.8"/>
<circle class="c9" cx="302.8" cy="526.8" r="1.8"/>
<circle class="c9" cx="331.7" cy="619.1" r="1.8"/>
<circle class="c9" cx="286.5" cy="607.4" r="1.8"/>
<circle class="c9" cx="333.9" cy="622.5" r="1.8"/>
<circle class="c10" cx="431.3" cy="572.4" r="1.8"/>
<circle class="c10" cx="410.2" cy="605.5" r="1.8"/>
<circle class="c10" cx="436.2" cy="559.4" r="1.8"/>
<circle class="c9" cx="307.2" cy="618.4" r="1.8"/>
<circle class="c10" cx="406.8" cy="621.7" r="1.8"/>
<circle class="c10" cx="428.6" cy="539.1" r="1.8"/>
<circle class="c10" cx="433.6" cy="557.4" r="1.8"/>
<circle class="c9" cx="281.5" cy="603.2" r="1.8"/>
<circle class="c10" cx="444.6" cy="505.5" r="1.8"/>
<circle class="c10" cx="441.5" cy="518.7" r="1.8"/>
<circle class="c10" cx="410.1" cy="598.3" r="1.8"/>
<circle class="c9" cx="290.1" cy="599.6" r="1.8"/>
<circle class="c10" cx="436.3" cy="497.1" r="1.8"/>
<circle class="c9" cx="350.5" cy="620" r="1.8"/>
<circle class="c9" cx="261.7" cy="564.3" r="1.8"/>
<circle class="c10" cx="399.3" cy="623.5" r="1.8"/>
<circle class="c9" cx="321.2" cy="622.1" r="1.8"/>
<circle class="c10" cx="446.7" cy="503" r="1.8"/>
<circle class="c10" cx="410" cy="582" r="1.8"/>
<circle class="c9" cx="328.5" cy="620" r="1.8"/>
<circle class="c10" cx="400.6" cy="619.3" r="1.8"/>
<circle class="c9" cx="315.9" cy="616.1" r="1.8"/>
<circle class="c9" cx="275.3" cy="474" r="1.8"/>
<circle class="c10" cx="391.9" cy="621.2" r="1.8"/>
<circle class="c9" cx="285.4" cy="618.6" r="1.8"/>
<circle class="c10" cx="414.1" cy="596.8" r="1.8"/>
<circle class="c10" cx="400.3" cy="586.1" r="1.8"/>
<circle class="c9" cx="287.6" cy="607.1" r="1.8"/>
<circle class="c10" cx="434.3" cy="534.7" r="1.8"/>
<circle class="c10" cx="407.8" cy="581.2" r="1.8"/>
<circle class="c10" cx="376.4" cy="615.3" r="1.8"/>
<circle class="c10" cx="406.7" cy="590.2" r="1.8"/>
<circle class="c9" cx="341" cy="619" r="1.8"/>
<circle class="c10" cx="386.7" cy="623" r="1.8"/>
<circle class="c9" cx="301.5" cy="623.5" r="1.8"/>
<circle class="c9" cx="315" cy="593.2" r="1.8"/>
<circle class="c10" cx="416.6" cy="599.2" r="1.8"/>
<circle class="c10" cx="391.5" cy="561.2" r="1.8"/>
<circle class="c9" cx="266.9" cy="584.1" r="1.8"/>
<circle class="c9" cx="299.4" cy="608.5" r="1.8"/>
<circle class="c9" cx="291.7" cy="623.1" r="1.8"/>
<circle class="c9" cx="285.8" cy="618.7" r="1.8"/>
<circle class="c9" cx="286.5" cy="608" r="1.8"/>
<circle class="c10" cx="388.8" cy="606.8" r="1.8"/>
<circle class="c9" cx="316.9" cy="474" r="1.8"/>
<circle class="c9" cx="299.6" cy="610.7" r="1.8"/>
<circle class="c10" cx="389.6" cy="623.6" r="1.8"/>
<circle class="c9" cx="307.5" cy="617" r="1.8"/>
<circle class="c9" cx="323.1" cy="623" r="1.8"/>
<circle class="c9" cx="307.6" cy="618.1" r="1.8"/>
<circle class="c9" cx="302.2" cy="623.2" r="1.8"/>
<circle class="c10" cx="428.6" cy="536.1" r="1.8"/>
<circle class="c9" cx="271.8" cy="596.3" r="1.8"/>
<circle class="c10" cx="443.9" cy="526.2" r="1.8"/>
<circle class="c10" cx="388.7" cy="621.6" r="1.8"/>
<circle class="c9" cx="377" cy="594.1" r="1.8"/>
<circle class="c10" cx="416.9" cy="605.1" r="1.8"/>
<circle class="c10" cx="420.6" cy="587.4" r="1.8"/>
<circle class="c9" cx="300.1" cy="606.3" r="1.8"/>
<circle class="c9" cx="310.3" cy="622.2" r="1.8"/>
<circle class="c9" cx="300.7" cy="615.7" r="1.8"/>
<circle class="c9" cx="265.8" cy="568.3" r="1.8"/>
<circle class="c9" cx="312.1" cy="482.6" r="1.8"/>
<circle class="c10" cx="367" cy="616.8" r="1.8"/>
<circle class="c10" cx="395.9" cy="619.8" r="1.8"/>
<circle class="c10" cx="422.5" cy="582.9" r="1.8"/>
<circle class="c10" cx="426.3" cy="552.1" r="1.8"/>
<circle class="c10" cx="408.8" cy="618.1" r="1.8"/>
<circle class="c9" cx="305.6" cy="616.6" r="1.8"/>
<circle class="c9" cx="302.5" cy="619.5" r="1.8"/>
<circle class="c9" cx="315.7" cy="622" r="1.8"/>
<circle class="c9" cx="346" cy="620.6" r="1.8"/>
<circle class="c10" cx="365" cy="623.4" r="1.8"/>
<circle class="c9" cx="279.7" cy="608.6" r="1.8"/>
<circle class="c10" cx="425.6" cy="527" r="1.8"/>
<circle class="c10" cx="422.6" cy="597.3" r="1.8"/>
<circle class="c10" cx="437.8" cy="488.9" r="1.8"/>
<circle class="c9" cx="399.6" cy="591" r="1.8"/>
<circle class="c9" cx="273.9" cy="600.6" r="1.8"/>
<circle class="c10" cx="445" cy="515.7" r="1.8"/>
<circle class="c10" cx="396" cy="590.1" r="1.8"/>
<circle class="c10" cx="409.2" cy="621.9" r="1.8"/>
<circle class="c10" cx="383.3" cy="623.1" r="1.8"/>
<circle class="c10" cx="415.3" cy="592.1" r="1.8"/>
<circle class="c10" cx="380.7" cy="616.2" r="1.8"/>
<circle class="c10" cx="440.3" cy="509.9" r="1.8"/>
<circle class="c10" cx="393.7" cy="622.2" r="1.8"/>
<circle class="c9" cx="333.3" cy="590.1" r="1.8"/>
<circle class="c9" cx="335.2" cy="618.3" r="1.8"/>
<circle class="c10" cx="402" cy="622.6" r="1.8"/>
<circle class="c9" cx="295.4" cy="485.1" r="1.8"/>
<circle class="c9" cx="295" cy="606.2" r="1.8"/>
<circle class="c9" cx="293.3" cy="624" r="1.8"/>
<circle class="c10" cx="406.5" cy="617.7" r="1.8"/>
<circle class="c10" cx="407.1" cy="609.1" r="1.8"/>
<circle class="c10" cx="360.9" cy="623.2" r="1.8"/>
<circle class="c10" cx="381.4" cy="624" r="1.8"/>
<circle class="c10" cx="418.9" cy="551.8" r="1.8"/>
<circle class="c10" cx="434.5" cy="578.6" r="1.8"/>
<circle class="c10" cx="393" cy="623.8" r="1.8"/>
<circle class="c9" cx="276.3" cy="596.4" r="1.8"/>
<circle class="c10" cx="424.9" cy="578.2" r="1.8"/>
<circle class="c10" cx="397.2" cy="619.9" r="1.8"/>
<circle class="c9" cx="253.1" cy="505.4" r="1.8"/>
<circle class="c10" cx="416.4" cy="568.3" r="1.8"/>
<circle class="c9" cx="297.3" cy="608.3" r="1.8"/>
<circle class="c10" cx="370.6" cy="623.6" r="1.8"/>
<circle class="c9" cx="285.5" cy="518.2" r="1.8"/>
<circle class="c10" cx="414.7" cy="621.9" r="1.8"/>
<circle class="c10" cx="428.4" cy="528" r="1.8"/>
<circle class="c10" cx="422.5" cy="604.9" r="1.8"/>
<circle class="c10" cx="372.5" cy="615.4" r="1.8"/>
<circle class="c9" cx="300.1" cy="616.7" r="1.8"/>
<circle class="c10" cx="397.6" cy="511.2" r="1.8"/>
<circle class="c10" cx="421.5" cy="549.5" r="1.8"/>
<circle class="c10" cx="439.6" cy="500.2" r="1.8"/>
<circle class="c9" cx="294.1" cy="617.5" r="1.8"/>
<circle class="c10" cx="362.4" cy="619" r="1.8"/>
<circle class="c9" cx="323.4" cy="619" r="1.8"/>
<circle class="c10" cx="388.9" cy="621.3" r="1.8"/>
<circle class="c9" cx="396.8" cy="573.1" r="1.8"/>
<circle class="c9" cx="296.8" cy="594.7" r="1.8"/>
<circle class="c10" cx="397.9" cy="608.3" r="1.8"/>
<circle class="c10" cx="429.3" cy="553.3" r="1.8"/>
<circle class="c10" cx="433.2" cy="501.1" r="1.8"/>
<circle class="c9" cx="319.6" cy="616.9" r="1.8"/>
<circle class="c9" cx="323.7" cy="569.8" r="1.8"/>
<circle class="c10" cx="409.5" cy="622.8" r="1.8"/>
<circle class="c10" cx="374.3" cy="623.6" r="1.8"/>
<circle class="c10" cx="378.4" cy="614.4" r="1.8"/>
<circle class="c10" cx="386.6" cy="624" r="1.8"/>
<circle class="c9" cx="347.8" cy="622.9" r="1.8"/>
<circle class="c10" cx="417.7" cy="608.5" r="1.8"/>
<circle class="c9" cx="306.4" cy="619.8" r="1.8"/>
<circle class="c9" cx="334.1" cy="623.3" r="1.8"/>
<circle class="c10" cx="423.9" cy="605.8" r="1.8"/>
<circle class="c10" cx="414.7" cy="599.4" r="1.8"/>
<circle class="c10" cx="437.1" cy="520.9" r="1.8"/>
<circle class="c10" cx="420.3" cy="579.9" r="1.8"/>
<circle class="c9" cx="314.4" cy="619.5" r="1.8"/>
<circle class="c9" cx="306.8" cy="598" r="1.8"/>
<circle class="c10" cx="402.3" cy="598.8" r="1.8"/>
<circle class="c9" cx="306.1" cy="623.8" r="1.8"/>
<circle class="c10" cx="371.9" cy="609.5" r="1.8"/>
<circle class="c10" cx="389.4" cy="619.3" r="1.8"/>
<circle class="c9" cx="341.5" cy="621.5" r="1.8"/>
<circle class="c9" cx="391.8" cy="620" r="1.8"/>
<circle class="c9" cx="293.7" cy="622.9" r="1.8"/>
<circle class="c10" cx="391.7" cy="621.2" r="1.8"/>
<circle class="c10" cx="405.3" cy="623.2" r="1.8"/>
<circle class="c10" cx="361.3" cy="619" r="1.8"/>
<circle class="c9" cx="280.7" cy="598.7" r="1.8"/>
<circle class="c10" cx="429" cy="585.3" r="1.8"/>
<circle class="c10" cx="440.8" cy="521.3" r="1.8"/>
<circle class="c10" cx="416.8" cy="609.8" r="1.8"/>
<circle class="c10" cx="391.9" cy="603.1" r="1.8"/>
<circle class="c10" cx="411.4" cy="607.3" r="1.8"/>
<circle class="c10" cx="435.1" cy="485.3" r="1.8"/>
<circle class="c10" cx="391" cy="618.8" r="1.8"/>
<circle class="c10" cx="418" cy="569.9" r="1.8"/>
<circle class="c10" cx="414.5" cy="583.3" r="1.8"/>
<circle class="c10" cx="425" cy="566.9" r="1.8"/>
<circle class="c10" cx="386.2" cy="623.4" r="1.8"/>
<circle class="c9" cx="249.1" cy="500.1" r="1.8"/>
<circle class="c9" cx="310.9" cy="622.7" r="1.8"/>
<circle class="c9" cx="275.8" cy="605.4" r="1.8"/>
<circle class="c10" cx="425.5" cy="609.6" r="1.8"/>
<circle class="c10" cx="425.1" cy="554.8" r="1.8"/>
<circle class="c9" cx="329.5" cy="623.2" r="1.8"/>
<circle class="c9" cx="280.2" cy="615" r="1.8"/>
<circle class="c10" cx="414.7" cy="615.1" r="1.8"/>
<circle class="c9" cx="289.1" cy="613.5" r="1.8"/>
<circle class="c10" cx="373" cy="620.4" r="1.8"/>
<circle class="c9" cx="292.5" cy="570.9" r="1.8"/>
<circle class="c9" cx="321.7" cy="615.9" r="1.8"/>
<circle class="c9" cx="353.1" cy="622.2" r="1.8"/>
<circle class="c10" cx="392.3" cy="621.9" r="1.8"/>
<circle class="c9" cx="323.4" cy="568.2" r="1.8"/>
<circle class="c9" cx="368.1" cy="624" r="1.8"/>
<circle class="c9" cx="307.4" cy="599.2" r="1.8"/>
<circle class="c10" cx="429.7" cy="537.7" r="1.8"/>
<circle class="c10" cx="406.8" cy="623" r="1.8"/>
<circle class="c9" cx="303.9" cy="618" r="1.8"/>
<circle class="c9" cx="299.7" cy="621.7" r="1.8"/>
<circle class="c9" cx="363.7" cy="606.9" r="1.8"/>
<circle class="c10" cx="399" cy="620" r="1.8"/>
<circle class="c10" cx="438.4" cy="515.8" r="1.8"/>
<circle class="c9" cx="307.1" cy="597.6" r="1.8"/>
<circle class="c9" cx="301.2" cy="605" r="1.8"/>
<circle class="c9" cx="292.7" cy="617.8" r="1.8"/>
<circle class="c9" cx="328.2" cy="549.6" r="1.8"/>
<circle class="c9" cx="294.1" cy="519.1" r="1.8"/>
<circle class="c10" cx="421" cy="564.9" r="1.8"/>
<circle class="c9" cx="290.1" cy="605.1" r="1.8"/>
<circle class="c10" cx="382.7" cy="615.1" r="1.8"/>
<circle class="c10" cx="446" cy="493.6" r="1.8"/>
<circle class="c10" cx="415.5" cy="616.1" r="1.8"/>
<circle class="c9" cx="269.8" cy="597.2" r="1.8"/>
<circle class="c9" cx="290.5" cy="618.2" r="1.8"/>
<circle class="c10" cx="374" cy="623.9" r="1.8"/>
<circle class="c10" cx="377.2" cy="615.8" r="1.8"/>
<circle class="c10" cx="423.7" cy="605.3" r="1.8"/>
<circle class="c10" cx="412.3" cy="618.9" r="1.8"/>
<circle class="c10" cx="422" cy="607.6" r="1.8"/>
<circle class="c9" cx="309.8" cy="617.9" r="1.8"/>
<circle class="c9" cx="280.3" cy="608.4" r="1.8"/>
<circle class="c9" cx="289.2" cy="563.6" r="1.8"/>
<circle class="c9" cx="303.2" cy="622.2" r="1.8"/>
<circle class="c10" cx="414.3" cy="612.1" r="1.8"/>
<circle class="c9" cx="284" cy="602.1" r="1.8"/>
<circle class="c9" cx="312.4" cy="596.9" r="1.8"/>
<circle class="c10" cx="381.3" cy="616.3" r="1.8"/>
<circle class="c10" cx="403.4" cy="620.5" r="1.8"/>
<circle class="c10" cx="368.2" cy="623.9" r="1.8"/>
<circle class="c10" cx="413.9" cy="597.7" r="1.8"/>
<circle class="c10" cx="433.6" cy="554.4" r="1.8"/>
<circle class="c9" cx="308.2" cy="619.8" r="1.8"/>
<circle class="c9" cx="334.5" cy="617.4" r="1.8"/>
<circle class="c9" cx="277.5" cy="606.9" r="1.8"/>
<circle class="c9" cx="299.6" cy="579.2" r="1.8"/>
<circle class="c9" cx="303.1" cy="619.3" r="1.8"/>
<circle class="c9" cx="410" cy="548.5" r="1.8"/>
<circle class="c9" cx="299.7" cy="620.8" r="1.8"/>
<circle class="c10" cx="438.5" cy="536.2" r="1.8"/>
<circle class="c10" cx="440.3" cy="545.1" r="1.8"/>
<circle class="c9" cx="326.8" cy="622.6" r="1.8"/>
<circle class="c9" cx="311.1" cy="559.9" r="1.8"/>
<circle class="c9" cx="259.8" cy="563.2" r="1.8"/>
<circle class="c10" cx="434" cy="510.6" r="1.8"/>
<circle class="c10" cx="430.6" cy="561.2" r="1.8"/>
<circle class="c9" cx="295" cy="474" r="1.8"/>
<circle class="c10" cx="383.1" cy="623.9" r="1.8"/>
<circle class="c10" cx="405.9" cy="588.6" r="1.8"/>
<circle class="c9" cx="289.3" cy="616.9" r="1.8"/>
<circle class="c10" cx="379.6" cy="624" r="1.8"/>
<circle class="c9" cx="281.7" cy="613" r="1.8"/>
<circle class="c9" cx="300.2" cy="492.9" r="1.8"/>
<circle class="c10" cx="410.9" cy="604.5" r="1.8"/>
<circle class="c9" cx="297.8" cy="568.1" r="1.8"/>
<circle class="c9" cx="281.6" cy="604.1" r="1.8"/>
<circle class="c10" cx="413.9" cy="618" r="1.8"/>
<circle class="c9" cx="303.6" cy="614.5" r="1.8"/>
<circle class="c9" cx="329.5" cy="586.2" r="1.8"/>
<circle class="c10" cx="426.5" cy="558" r="1.8"/>
<circle class="c10" cx="395.2" cy="621.8" r="1.8"/>
<circle class="c10" cx="409.2" cy="616" r="1.8"/>
<circle class="c10" cx="389.9" cy="624" r="1.8"/>
<circle class="c9" cx="310" cy="606.4" r="1.8"/>
<circle class="c10" cx="405.3" cy="623.7" r="1.8"/>
<circle class="c9" cx="309.4" cy="603.8" r="1.8"/>
<circle class="c10" cx="407.4" cy="622.6" r="1.8"/>
<circle class="c10" cx="396.3" cy="589.7" r="1.8"/>
<circle class="c10" cx="432.2" cy="542.5" r="1.8"/>
<circle class="c10" cx="424.2" cy="577.4" r="1.8"/>
<circle class="c10" cx="385.5" cy="621.8" r="1.8"/>
<circle class="c10" cx="415.1" cy="582.5" r="1.8"/>
<circle class="c9" cx="360.2" cy="620.3" r="1.8"/>
<circle class="c10" cx="403.1" cy="620.5" r="1.8"/>
<circle class="c9" cx="408.6" cy="525.7" r="1.8"/>
<circle class="c10" cx="448.3" cy="489.1" r="1.8"/>
<circle class="c9" cx="304.1" cy="623.2" r="1.8"/>
<circle class="c10" cx="407.3" cy="623.6" r="1.8"/>
<circle class="c10" cx="438.7" cy="523.5" r="1.8"/>
<circle class="c9" cx="325.6" cy="622.2" r="1.8"/>
<circle class="c10" cx="405.3" cy="511" r="1.8"/>
<circle class="c10" cx="393.1" cy="622.9" r="1.8"/>
<circle class="c9" cx="327.5" cy="621.3" r="1.8"/>
<circle class="c10" cx="399.4" cy="621.8" r="1.8"/>
<circle class="c10" cx="425.7" cy="587.1" r="1.8"/>
<circle class="c9" cx="293.7" cy="614.4" r="1.8"/>
<circle class="c9" cx="269.4" cy="587.6" r="1.8"/>
<circle class="c9" cx="273.2" cy="597.2" r="1.8"/>
<circle class="c9" cx="364.4" cy="615.7" r="1.8"/>
<circle class="c9" cx="279.3" cy="521.3" r="1.8"/>
<circle class="c10" cx="443.7" cy="524" r="1.8"/>
<circle class="c10" cx="386.7" cy="607.5" r="1.8"/>
<circle class="c10" cx="416.7" cy="584" r="1.8"/>
<circle class="c10" cx="404.4" cy="620.4" r="1.8"/>
<circle class="c10" cx="362.8" cy="620.9" r="1.8"/>
<circle class="c10" cx="386.1" cy="623.4" r="1.8"/>
<circle class="c10" cx="445.5" cy="513.3" r="1.8"/>
<circle class="c9" cx="291.8" cy="621.6" r="1.8"/>
<circle class="c10" cx="393.1" cy="616.8" r="1.8"/>
<circle class="c10" cx="377.3" cy="620.5" r="1.8"/>
<circle class="c10" cx="380.8" cy="623" r="1.8"/>
<circle class="c9" cx="280.4" cy="570.6" r="1.8"/>
<circle class="c10" cx="382.7" cy="623.6" r="1.8"/>
<circle class="c9" cx="315" cy="556.1" r="1.8"/>
<circle class="c10" cx="378.5" cy="622.1" r="1.8"/>
<circle class="c9" cx="274.5" cy="600.5" r="1.8"/>
<circle class="c9" cx="301.5" cy="623.9" r="1.8"/>
<circle class="c9" cx="349.6" cy="623.4" r="1.8"/>
<circle class="c10" cx="407.4" cy="594.4" r="1.8"/>
<circle class="c10" cx="441.2" cy="499.8" r="1.8"/>
<circle class="c9" cx="283.6" cy="587.5" r="1.8"/>
<circle class="c10" cx="373.7" cy="623.2" r="1.8"/>
<circle class="c9" cx="315.2" cy="618.4" r="1.8"/>
<circle class="c10" cx="405" cy="613.7" r="1.8"/>
<circle class="c10" cx="431.7" cy="513.8" r="1.8"/>
<circle class="c9" cx="285.1" cy="527" r="1.8"/>
<circle class="c9" cx="275.6" cy="591.1" r="1.8"/>
<circle class="c9" cx="260.6" cy="554.3" r="1.8"/>
<circle class="c10" cx="423.8" cy="560.7" r="1.8"/>
<circle class="c10" cx="403.5" cy="551.2" r="1.8"/>
<circle class="c10" cx="379.8" cy="616.3" r="1.8"/>
<circle class="c10" cx="380.3" cy="622.3" r="1.8"/>
<circle class="c10" cx="419.4" cy="615.6" r="1.8"/>
<circle class="c9" cx="309.1" cy="565" r="1.8"/>
<circle class="c10" cx="434.8" cy="556.4" r="1.8"/>
<circle class="c10" cx="435" cy="530.9" r="1.8"/>
<circle class="c10" cx="404.9" cy="572.2" r="1.8"/>
<circle class="c10" cx="416.2" cy="608.4" r="1.8"/>
<circle class="c9" cx="368.8" cy="545.3" r="1.8"/>
<circle class="c10" cx="394.6" cy="623.9" r="1.8"/>
<circle class="c10" cx="407.2" cy="618.2" r="1.8"/>
<circle class="c10" cx="375.7" cy="623" r="1.8"/>
<circle class="c9" cx="313.6" cy="623" r="1.8"/>
<circle class="c9" cx="309.4" cy="620.7" r="1.8"/>
<circle class="c10" cx="431.4" cy="558.2" r="1.8"/>
<circle class="c9" cx="285.1" cy="617.2" r="1.8"/>
<circle class="c10" cx="363.1" cy="615.7" r="1.8"/>
<circle class="c9" cx="317.1" cy="613.7" r="1.8"/>
<circle class="c9" cx="356.4" cy="617.6" r="1.8"/>
<circle class="c10" cx="444.1" cy="529.4" r="1.8"/>
<circle class="c10" cx="412.4" cy="612.6" r="1.8"/>
<circle class="c10" cx="406.5" cy="615.6" r="1.8"/>
<circle class="c10" cx="411.9" cy="621" r="1.8"/>
<circle class="c10" cx="377.1" cy="621" r="1.8"/>
<circle class="c9" cx="305.7" cy="623.5" r="1.8"/>
<circle class="c9" cx="283.3" cy="616.4" r="1.8"/>
<circle class="c9" cx="308.9" cy="619" r="1.8"/>
<circle class="c9" cx="299.1" cy="613.8" r="1.8"/>
<circle class="c9" cx="306.3" cy="559" r="1.8"/>
<circle class="c10" cx="362.6" cy="618.4" r="1.8"/>
<circle class="c9" cx="288" cy="609.7" r="1.8"/>
<circle class="c10" cx="396.2" cy="623.4" r="1.8"/>
<circle class="c10" cx="406.7" cy="512.7" r="1.8"/>
<circle class="c9" cx="277.1" cy="611.4" r="1.8"/>
<circle class="c10" cx="403.4" cy="576.6" r="1.8"/>
<circle class="c10" cx="380.7" cy="614.3" r="1.8"/>
<circle class="c9" cx="301.9" cy="474" r="1.8"/>
<circle class="c10" cx="417.1" cy="600.6" r="1.8"/>
<circle class="c10" cx="426.2" cy="551.7" r="1.8"/>
<circle class="c9" cx="335.9" cy="623.9" r="1.8"/>
<circle class="c10" cx="424.7" cy="601.9" r="1.8"/>
<circle class="c10" cx="420.3" cy="563.3" r="1.8"/>
<circle class="c9" cx="262.4" cy="526.3" r="1.8"/>
<circle class="c10" cx="397.2" cy="622.5" r="1.8"/>
<circle class="c9" cx="325.3" cy="624" r="1.8"/>
<circle class="c9" cx="292.5" cy="614.8" r="1.8"/>
<circle class="c9" cx="314.1" cy="621.6" r="1.8"/>
<circle class="c9" cx="276.3" cy="600.5" r="1.8"/>
<circle class="c9" cx="296.1" cy="622.2" r="1.8"/>
<circle class="c10" cx="362.7" cy="617.6" r="1.8"/>
<circle class="c10" cx="408.3" cy="601" r="1.8"/>
<circle class="c10" cx="419.9" cy="541.8" r="1.8"/>
<circle class="c10" cx="420.4" cy="600.3" r="1.8"/>
<circle class="c9" cx="325.9" cy="621.6" r="1.8"/>
<circle class="c9" cx="290.8" cy="621.5" r="1.8"/>
<circle class="c10" cx="395.8" cy="619.7" r="1.8"/>
<circle class="c10" cx="418.9" cy="602.4" r="1.8"/>
<circle class="c10" cx="375.5" cy="624" r="1.8"/>
<circle class="c9" cx="304" cy="622.2" r="1.8"/>
<circle class="c9" cx="327.8" cy="621.4" r="1.8"/>
<circle class="c10" cx="363.1" cy="624" r="1.8"/>
<circle class="c9" cx="285.9" cy="614.1" r="1.8"/>
<circle class="c9" cx="326.7" cy="617.5" r="1.8"/>
<circle class="c10" cx="398.1" cy="614.1" r="1.8"/>
<circle class="c9" cx="318.2" cy="606" r="1.8"/>
<circle class="c9" cx="284.2" cy="605.7" r="1.8"/>
<circle class="c9" cx="298.9" cy="615.8" r="1.8"/>
<circle class="c10" cx="429.3" cy="590.8" r="1.8"/>
<circle class="c9" cx="299.6" cy="623.9" r="1.8"/>
<circle class="c9" cx="304" cy="618.4" r="1.8"/>
<circle class="c10" cx="375.3" cy="550.5" r="1.8"/>
<circle class="c10" cx="380.7" cy="484.1" r="1.8"/>
<circle class="c10" cx="393" cy="586.9" r="1.8"/>
<circle class="c9" cx="306.7" cy="615.1" r="1.8"/>
<circle class="c10" cx="403.4" cy="578.6" r="1.8"/>
<circle class="c9" cx="291.5" cy="619.7" r="1.8"/>
<circle class="c10" cx="405.6" cy="583.5" r="1.8"/>
<circle class="c10" cx="419.6" cy="592" r="1.8"/>
<circle class="c9" cx="283.3" cy="608.6" r="1.8"/>
<circle class="c10" cx="434.6" cy="561.7" r="1.8"/>
<circle class="c9" cx="324.7" cy="620.6" r="1.8"/>
<circle class="c9" cx="300.1" cy="617.3" r="1.8"/>
<circle class="c10" cx="398.4" cy="623.4" r="1.8"/>
<circle class="c9" cx="256.4" cy="486.9" r="1.8"/>
<circle class="c9" cx="276.8" cy="586.9" r="1.8"/>
<circle class="c9" cx="316.8" cy="614.3" r="1.8"/>
<circle class="c9" cx="278.5" cy="600.7" r="1.8"/>
<circle class="c10" cx="407.9" cy="618.6" r="1.8"/>
<circle class="c10" cx="391.9" cy="623.5" r="1.8"/>
<circle class="c9" cx="289.8" cy="501.1" r="1.8"/>
<circle class="c10" cx="405.1" cy="607.2" r="1.8"/>
<circle class="c10" cx="441.7" cy="510.4" r="1.8"/>
<circle class="c9" cx="300.3" cy="622.6" r="1.8"/>
<circle class="c9" cx="318.8" cy="615" r="1.8"/>
<circle class="c10" cx="440.5" cy="550.6" r="1.8"/>
<circle class="c10" cx="409.6" cy="618.7" r="1.8"/>
<circle class="c10" cx="434.8" cy="571.6" r="1.8"/>
<circle class="c10" cx="395.8" cy="611.1" r="1.8"/>
<circle class="c10" cx="419.4" cy="608" r="1.8"/>
<circle class="c10" cx="434.6" cy="574.8" r="1.8"/>
<circle class="c9" cx="279" cy="614.9" r="1.8"/>
<circle class="c10" cx="361.6" cy="619.1" r="1.8"/>
<circle class="c10" cx="428.4" cy="585.2" r="1.8"/>
<circle class="c10" cx="366.7" cy="619.8" r="1.8"/>
<circle class="c9" cx="318.3" cy="615.8" r="1.8"/>
<circle class="c9" cx="286" cy="616.7" r="1.8"/>
<circle class="c9" cx="355.3" cy="622" r="1.8"/>
<circle class="c10" cx="382.3" cy="624" r="1.8"/>
<circle class="c9" cx="328.3" cy="622.9" r="1.8"/>
<circle class="c9" cx="337.8" cy="623.9" r="1.8"/>
<circle class="c10" cx="424" cy="608.1" r="1.8"/>
<circle class="c9" cx="281.1" cy="610.5" r="1.8"/>
<circle class="c10" cx="399.8" cy="623.8" r="1.8"/>
<circle class="c10" cx="366.6" cy="619.1" r="1.8"/>
<circle class="c9" cx="303.7" cy="621.8" r="1.8"/>
<circle class="c9" cx="327.3" cy="623.9" r="1.8"/>
<circle class="c9" cx="312.2" cy="613.7" r="1.8"/>
<circle class="c9" cx="263.7" cy="570.4" r="1.8"/>
<circle class="c10" cx="402.8" cy="623" r="1.8"/>
<circle class="c10" cx="409.9" cy="619.7" r="1.8"/>
<circle class="c9" cx="287.3" cy="523.5" r="1.8"/>
<circle class="c9" cx="328.2" cy="622.8" r="1.8"/>
<circle class="c9" cx="403.7" cy="611.3" r="1.8"/>
<circle class="c10" cx="445.1" cy="487.6" r="1.8"/>
<circle class="c9" cx="270.6" cy="599.6" r="1.8"/>
<circle class="c9" cx="302.9" cy="621.9" r="1.8"/>
<circle class="c10" cx="445.1" cy="487.5" r="1.8"/>
<circle class="c9" cx="401.9" cy="612.7" r="1.8"/>
<circle class="c9" cx="325.4" cy="623.8" r="1.8"/>
<circle class="c9" cx="277.6" cy="604.4" r="1.8"/>
<circle class="c9" cx="301.3" cy="608.5" r="1.8"/>
<circle class="c9" cx="309.7" cy="579.2" r="1.8"/>
<circle class="c9" cx="258.1" cy="520" r="1.8"/>
<circle class="c9" cx="275.5" cy="581.5" r="1.8"/>
<circle class="c9" cx="298.4" cy="607.2" r="1.8"/>
<circle class="c9" cx="312" cy="615.6" r="1.8"/>
<circle class="c10" cx="438.3" cy="554.9" r="1.8"/>
<circle class="c9" cx="325.5" cy="608.9" r="1.8"/>
<circle class="c9" cx="310.9" cy="623.5" r="1.8"/>
<circle class="c9" cx="292.5" cy="623.4" r="1.8"/>
<circle class="c9" cx="276" cy="595.8" r="1.8"/>
<circle class="c9" cx="288.3" cy="614.2" r="1.8"/>
<circle class="c9" cx="283.1" cy="594" r="1.8"/>
<circle class="c10" cx="416.9" cy="535.1" r="1.8"/>
<circle class="c9" cx="308" cy="623.4" r="1.8"/>
<circle class="c9" cx="317.3" cy="616.6" r="1.8"/>
<circle class="c9" cx="358.8" cy="604.5" r="1.8"/>
<circle class="c10" cx="423.5" cy="602.9" r="1.8"/>
<circle class="c9" cx="310.1" cy="612.6" r="1.8"/>
<circle class="c9" cx="295.7" cy="618.8" r="1.8"/>
<circle class="c9" cx="362.1" cy="621.3" r="1.8"/>
<circle class="c9" cx="315.8" cy="608.3" r="1.8"/>
<circle class="c10" cx="438.1" cy="517.8" r="1.8"/>
<circle class="c10" cx="425.2" cy="587.8" r="1.8"/>
<circle class="c9" cx="300.1" cy="614.2" r="1.8"/>
<circle class="c10" cx="444.5" cy="515.7" r="1.8"/>
<circle class="c10" cx="431.6" cy="577.3" r="1.8"/>
<circle class="c9" cx="335.7" cy="624" r="1.8"/>
<circle class="c9" cx="310.9" cy="623.4" r="1.8"/>
<circle class="c10" cx="422.2" cy="526.7" r="1.8"/>
<circle class="c10" cx="437.5" cy="507.9" r="1.8"/>
<circle class="c10" cx="374.3" cy="617.9" r="1.8"/>
<circle class="c10" cx="382.8" cy="618.7" r="1.8"/>
<circle class="c10" cx="435" cy="561.1" r="1.8"/>
<circle class="c10" cx="438.8" cy="519.4" r="1.8"/>
<circle class="c10" cx="367.4" cy="623.1" r="1.8"/>
<circle class="c10" cx="416.6" cy="525.3" r="1.8"/>
<circle class="c9" cx="278.3" cy="595.5" r="1.8"/>
<circle class="c10" cx="417.1" cy="543.5" r="1.8"/>
<circle class="c9" cx="298.6" cy="596.9" r="1.8"/>
<circle class="c9" cx="286.5" cy="607.2" r="1.8"/>
<circle class="c10" cx="410.1" cy="618.2" r="1.8"/>
<circle class="c9" cx="297.6" cy="623.9" r="1.8"/>
<circle class="c9" cx="325.1" cy="623.7" r="1.8"/>
<circle class="c9" cx="286.1" cy="483" r="1.8"/>
<circle class="c9" cx="407.1" cy="587.8" r="1.8"/>
<circle class="c9" cx="295.2" cy="583.8" r="1.8"/>
<circle class="c9" cx="379.3" cy="615.8" r="1.8"/>
<circle class="c10" cx="406.1" cy="575.8" r="1.8"/>
<circle class="c10" cx="376.8" cy="623" r="1.8"/>
<circle class="c9" cx="310" cy="572.8" r="1.8"/>
<circle class="c9" cx="299.2" cy="600.3" r="1.8"/>
<circle class="c10" cx="409.3" cy="584.1" r="1.8"/>
<circle class="c10" cx="374.2" cy="620.2" r="1.8"/>
<circle class="c10" cx="398" cy="611.3" r="1.8"/>
<circle class="c9" cx="350.9" cy="624" r="1.8"/>
<circle class="c10" cx="370.1" cy="623" r="1.8"/>
<circle class="c10" cx="400.8" cy="621.7" r="1.8"/>
<circle class="c9" cx="335.6" cy="618.9" r="1.8"/>
<circle class="c9" cx="348.3" cy="616.9" r="1.8"/>
<circle class="c9" cx="399.1" cy="561.7" r="1.8"/>
<circle class="c10" cx="443.3" cy="515.2" r="1.8"/>
<circle class="c9" cx="304.3" cy="622.7" r="1.8"/>
<circle class="c9" cx="314.5" cy="561.2" r="1.8"/>
<circle class="c9" cx="341.7" cy="624" r="1.8"/>
<circle class="c9" cx="321" cy="620.2" r="1.8"/>
<circle class="c10" cx="356.5" cy="622.9" r="1.8"/>
<circle class="c10" cx="405" cy="621.8" r="1.8"/>
<circle class="c10" cx="385.9" cy="623.2" r="1.8"/>
<circle class="c9" cx="260.8" cy="544" r="1.8"/>
<circle class="c10" cx="422.1" cy="552.2" r="1.8"/>
<circle class="c10" cx="406.5" cy="596.5" r="1.8"/>
<circle class="c9" cx="336.1" cy="619.6" r="1.8"/>
<circle class="c9" cx="297.1" cy="529.4" r="1.8"/>
<circle class="c10" cx="444.3" cy="485.1" r="1.8"/>
<circle class="c9" cx="345.2" cy="610.2" r="1.8"/>
<circle class="c9" cx="300.5" cy="583.8" r="1.8"/>
<circle class="c9" cx="310.2" cy="616.4" r="1.8"/>
<circle class="c10" cx="436" cy="544.8" r="1.8"/>
<circle class="c10" cx="394.8" cy="619.8" r="1.8"/>
<circle class="c10" cx="442.6" cy="504.4" r="1.8"/>
<circle class="c10" cx="426" cy="604.1" r="1.8"/>
<circle class="c10" cx="406.6" cy="613.2" r="1.8"/>
<circle class="c9" cx="254.1" cy="479.2" r="1.8"/>
<circle class="c9" cx="313.9" cy="526.9" r="1.8"/>
<circle class="c10" cx="393.9" cy="624" r="1.8"/>
<circle class="c10" cx="386.7" cy="596.6" r="1.8"/>
<circle class="c9" cx="301.6" cy="620.5" r="1.8"/>
<circle class="c10" cx="399.7" cy="623.4" r="1.8"/>
<circle class="c9" cx="265.7" cy="570.3" r="1.8"/>
<circle class="c10" cx="437" cy="509.4" r="1.8"/>
<circle class="c10" cx="442.6" cy="529.5" r="1.8"/>
<circle class="c10" cx="404.3" cy="624" r="1.8"/>
<circle class="c10" cx="392.5" cy="622.6" r="1.8"/>
<circle class="c10" cx="410.3" cy="593.9" r="1.8"/>
<circle class="c9" cx="246" cy="492.2" r="1.8"/>
<circle class="c10" cx="426.4" cy="537.3" r="1.8"/>
<circle class="c9" cx="368.4" cy="611.7" r="1.8"/>
<circle class="c10" cx="431.4" cy="530.7" r="1.8"/>
<circle class="c9" cx="293.1" cy="609.4" r="1.8"/>
<circle class="c9" cx="326" cy="623.6" r="1.8"/>
<circle class="c9" cx="312.3" cy="474" r="1.8"/>
<circle class="c10" cx="391.7" cy="605.5" r="1.8"/>
<circle class="c9" cx="292.7" cy="618" r="1.8"/>
<circle class="c9" cx="330.1" cy="623.6" r="1.8"/>
<circle class="c9" cx="289.9" cy="572.3" r="1.8"/>
<circle class="c10" cx="368.2" cy="577.8" r="1.8"/>
<circle class="c10" cx="440.5" cy="514.9" r="1.8"/>
<circle class="c10" cx="413.9" cy="589.7" r="1.8"/>
<circle class="c9" cx="324.8" cy="620.2" r="1.8"/>
<circle class="c10" cx="400.1" cy="623.7" r="1.8"/>
<circle class="c9" cx="310.7" cy="623.4" r="1.8"/>
<circle class="c10" cx="401.1" cy="608.8" r="1.8"/>
<circle class="c10" cx="443.7" cy="495.7" r="1.8"/>
<circle class="c9" cx="323.4" cy="571.2" r="1.8"/>
<circle class="c9" cx="277.3" cy="607.1" r="1.8"/>
<circle class="c10" cx="412.4" cy="614" r="1.8"/>
<circle class="c10" cx="442.5" cy="524.3" r="1.8"/>
<circle class="c9" cx="319.3" cy="615.7" r="1.8"/>
<circle class="c9" cx="329.8" cy="623" r="1.8"/>
<circle class="c9" cx="327.9" cy="617.4" r="1.8"/>
<circle class="c10" cx="384.1" cy="623.8" r="1.8"/>
<circle class="c9" cx="275.5" cy="600.7" r="1.8"/>
<circle class="c9" cx="305.5" cy="619.3" r="1.8"/>
<circle class="c10" cx="429.8" cy="548.1" r="1.8"/>
<circle class="c9" cx="300.7" cy="612.7" r="1.8"/>
<circle class="c10" cx="426.9" cy="571.8" r="1.8"/>
<circle class="c9" cx="285.8" cy="603.5" r="1.8"/>
<circle class="c10" cx="415.8" cy="615.3" r="1.8"/>
<circle class="c10" cx="428.5" cy="600.2" r="1.8"/>
<circle class="c10" cx="406.7" cy="620.9" r="1.8"/>
<circle class="c9" cx="316.1" cy="623" r="1.8"/>
<circle class="c10" cx="420.4" cy="615" r="1.8"/>
<circle class="c9" cx="272.6" cy="603" r="1.8"/>
<circle class="c9" cx="274.4" cy="604.2" r="1.8"/>
<circle class="c10" cx="433.9" cy="547.3" r="1.8"/>
<circle class="c9" cx="328.7" cy="583.4" r="1.8"/>
<circle class="c10" cx="444.1" cy="484.1" r="1.8"/>
<circle class="c10" cx="430.8" cy="594.1" r="1.8"/>
<circle class="c10" cx="411.5" cy="582.6" r="1.8"/>
<circle class="c10" cx="429.7" cy="555" r="1.8"/>
<circle class="c9" cx="279.1" cy="610.2" r="1.8"/>
<circle class="c9" cx="324.9" cy="620.1" r="1.8"/>
<circle class="c9" cx="289.6" cy="595.2" r="1.8"/>
<circle class="c10" cx="384.6" cy="624" r="1.8"/>
<circle class="c9" cx="280.1" cy="606.9" r="1.8"/>
<circle class="c10" cx="368.8" cy="622.8" r="1.8"/>
<circle class="c10" cx="402.2" cy="618.4" r="1.8"/>
<circle class="c9" cx="257.3" cy="516.1" r="1.8"/>
<circle class="c9" cx="281.6" cy="596.5" r="1.8"/>
<circle class="c10" cx="406.5" cy="556.1" r="1.8"/>
<circle class="c10" cx="366" cy="550.5" r="1.8"/>
<circle class="c10" cx="382.4" cy="622.5" r="1.8"/>
<circle class="c9" cx="324" cy="620.8" r="1.8"/>
<circle class="c10" cx="443.3" cy="530.5" r="1.8"/>
<circle class="c9" cx="284" cy="618.6" r="1.8"/>
<circle class="c10" cx="414.5" cy="595.2" r="1.8"/>
<circle class="c9" cx="312.9" cy="566.6" r="1.8"/>
<circle class="c10" cx="409.2" cy="607.4" r="1.8"/>
<circle class="c9" cx="325.4" cy="589.4" r="1.8"/>
<circle class="c9" cx="328.2" cy="614.2" r="1.8"/>
<circle class="c9" cx="366.1" cy="623.4" r="1.8"/>
<circle class="c10" cx="442.1" cy="486.7" r="1.8"/>
<circle class="c9" cx="252.6" cy="504.4" r="1.8"/>
<circle class="c10" cx="385.6" cy="617.8" r="1.8"/>
<circle class="c10" cx="434.6" cy="517.2" r="1.8"/>
<circle class="c9" cx="304.6" cy="602.5" r="1.8"/>
<circle class="c9" cx="255.3" cy="530.5" r="1.8"/>
<circle class="c10" cx="372.1" cy="620.7" r="1.8"/>
<circle class="c9" cx="325.7" cy="579.8" r="1.8"/>
<circle class="c10" cx="411.7" cy="555.3" r="1.8"/>
<circle class="c9" cx="311.6" cy="622" r="1.8"/>
<circle class="c9" cx="344.1" cy="622.8" r="1.8"/>
<circle class="c10" cx="409.5" cy="602.9" r="1.8"/>
<circle class="c10" cx="439.6" cy="528.2" r="1.8"/>
<circle class="c10" cx="436.8" cy="563.8" r="1.8"/>
<circle class="c10" cx="425.2" cy="591.6" r="1.8"/>
<circle class="c9" cx="271.9" cy="599.5" r="1.8"/>
<circle class="c9" cx="310.4" cy="614.5" r="1.8"/>
<circle class="c10" cx="391.4" cy="613.1" r="1.8"/>
<circle class="c9" cx="284.6" cy="607.4" r="1.8"/>
<circle class="c9" cx="262.4" cy="558.1" r="1.8"/>
<circle class="c9" cx="339.4" cy="624" r="1.8"/>
<circle class="c10" cx="433.3" cy="566.5" r="1.8"/>
<circle class="c9" cx="306.5" cy="620.1" r="1.8"/>
<circle class="c9" cx="317.8" cy="621.3" r="1.8"/>
<circle class="c10" cx="381.8" cy="558.5" r="1.8"/>
<circle class="c9" cx="300.5" cy="615.3" r="1.8"/>
<circle class="c10" cx="423.8" cy="596.8" r="1.8"/>
<circle class="c10" cx="424.7" cy="564.9" r="1.8"/>
<circle class="c9" cx="338.9" cy="621.5" r="1.8"/>
<circle class="c10" cx="370.1" cy="594.9" r="1.8"/>
<circle class="c10" cx="414.1" cy="577.9" r="1.8"/>
<circle class="c9" cx="276.3" cy="604.2" r="1.8"/>
<circle class="c10" cx="412" cy="582" r="1.8"/>
<circle class="c9" cx="284.8" cy="606.3" r="1.8"/>
<circle class="c10" cx="389.6" cy="617.5" r="1.8"/>
<circle class="c9" cx="306.3" cy="623.2" r="1.8"/>
<circle class="c9" cx="294.1" cy="604.3" r="1.8"/>
<circle class="c9" cx="297.1" cy="616.3" r="1.8"/>
<circle class="c10" cx="381.2" cy="609" r="1.8"/>
<circle class="c10" cx="372.6" cy="605.4" r="1.8"/>
<circle class="c10" cx="419.7" cy="615.5" r="1.8"/>
<circle class="c9" cx="354.8" cy="624" r="1.8"/>
<circle class="c10" cx="394.7" cy="618.7" r="1.8"/>
<circle class="c10" cx="431.4" cy="576.3" r="1.8"/>
<circle class="c9" cx="306" cy="622.2" r="1.8"/>
<circle class="c9" cx="287.4" cy="617.1" r="1.8"/>
<circle class="c10" cx="424.5" cy="609.4" r="1.8"/>
<circle class="c10" cx="378.3" cy="620.8" r="1.8"/>
<circle class="c10" cx="387.2" cy="624" r="1.8"/>
<circle class="c9" cx="307" cy="622.3" r="1.8"/>
<circle class="c10" cx="403.8" cy="615" r="1.8"/>
<circle class="c10" cx="386.9" cy="612.1" r="1.8"/>
<circle class="c9" cx="301.8" cy="616.5" r="1.8"/>
<circle class="c10" cx="419.5" cy="578" r="1.8"/>
<circle class="c10" cx="399.5" cy="614" r="1.8"/>
<circle class="c9" cx="336.4" cy="519.2" r="1.8"/>
<circle class="c10" cx="397.8" cy="619.8" r="1.8"/>
<circle class="c9" cx="307.4" cy="613.2" r="1.8"/>
<circle class="c10" cx="432.7" cy="578.1" r="1.8"/>
<circle class="c9" cx="364.9" cy="621.8" r="1.8"/>
<circle class="c10" cx="425.1" cy="546.3" r="1.8"/>
<circle class="c10" cx="406.5" cy="593.3" r="1.8"/>
<circle class="c9" cx="263.4" cy="575.1" r="1.8"/>
<circle class="c9" cx="323.5" cy="619" r="1.8"/>
<circle class="c9" cx="266" cy="492.8" r="1.8"/>
<circle class="c9" cx="290" cy="611.6" r="1.8"/>
<circle class="c10" cx="411.1" cy="606.9" r="1.8"/>
<circle class="c10" cx="419.3" cy="590.5" r="1.8"/>
<circle class="c9" cx="254.5" cy="474" r="1.8"/>
<circle class="c9" cx="294.1" cy="613.6" r="1.8"/>
<circle class="c9" cx="282.8" cy="502" r="1.8"/>
<circle class="c10" cx="441.3" cy="499.7" r="1.8"/>
<circle class="c10" cx="447.9" cy="491.4" r="1.8"/>
<circle class="c9" cx="290.5" cy="605.9" r="1.8"/>
<circle class="c9" cx="268.8" cy="583.6" r="1.8"/>
<circle class="c10" cx="426.3" cy="575.2" r="1.8"/>
<circle class="c9" cx="285.3" cy="555.1" r="1.8"/>
<circle class="c9" cx="357.7" cy="619.7" r="1.8"/>
<circle class="c10" cx="386" cy="618.1" r="1.8"/>
<circle class="c10" cx="375.9" cy="623.4" r="1.8"/>
<circle class="c9" cx="275.5" cy="606" r="1.8"/>
<circle class="c9" cx="320.3" cy="620" r="1.8"/>
<circle class="c9" cx="275.2" cy="606.4" r="1.8"/>
<circle class="c9" cx="328.4" cy="621.3" r="1.8"/>
<circle class="c10" cx="386.8" cy="602.2" r="1.8"/>
<circle class="c9" cx="276.1" cy="597" r="1.8"/>
<circle class="c10" cx="415.8" cy="610" r="1.8"/>
<circle class="c9" cx="341.5" cy="623.5" r="1.8"/>
<circle class="c9" cx="363.8" cy="556.3" r="1.8"/>
<circle class="c10" cx="428.1" cy="562.7" r="1.8"/>
<circle class="c10" cx="400.3" cy="624" r="1.8"/>
<circle class="c9" cx="290.2" cy="590.8" r="1.8"/>
<circle class="c9" cx="290" cy="602" r="1.8"/>
<circle class="c10" cx="423.5" cy="550.6" r="1.8"/>
<circle class="c9" cx="303.7" cy="605.1" r="1.8"/>
<circle class="c10" cx="429.5" cy="583.5" r="1.8"/>
<circle class="c10" cx="405.8" cy="623.8" r="1.8"/>
<circle class="c10" cx="415.2" cy="593.2" r="1.8"/>
<circle class="c9" cx="278.8" cy="609.4" r="1.8"/>
<circle class="c10" cx="398" cy="621.1" r="1.8"/>
<circle class="c10" cx="383.3" cy="624" r="1.8"/>
<circle class="c10" cx="380.2" cy="624" r="1.8"/>
<circle class="c10" cx="407.6" cy="615" r="1.8"/>
<circle class="c10" cx="443.8" cy="527.6" r="1.8"/>
<circle class="c9" cx="360.6" cy="622.7" r="1.8"/>
<circle class="c10" cx="440.4" cy="523.5" r="1.8"/>
<circle class="c10" cx="371.2" cy="622.8" r="1.8"/>
<circle class="c9" cx="300.8" cy="619.2" r="1.8"/>
<circle class="c9" cx="299.5" cy="616.7" r="1.8"/>
<circle class="c10" cx="419.7" cy="500.7" r="1.8"/>
<circle class="c9" cx="333.9" cy="623.6" r="1.8"/>
<circle class="c10" cx="418.1" cy="541.3" r="1.8"/>
<circle class="c9" cx="330.3" cy="624" r="1.8"/>
<circle class="c10" cx="401.7" cy="618.5" r="1.8"/>
<circle class="c9" cx="269.3" cy="595.9" r="1.8"/>
<circle class="c9" cx="341.6" cy="623.7" r="1.8"/>
<circle class="c10" cx="444.7" cy="504.7" r="1.8"/>
<circle class="c10" cx="426.2" cy="590.8" r="1.8"/>
<circle class="c10" cx="411.3" cy="580.7" r="1.8"/>
<circle class="c9" cx="302.7" cy="611.8" r="1.8"/>
<circle class="c9" cx="289.8" cy="493.5" r="1.8"/>
<circle class="c10" cx="398.4" cy="616" r="1.8"/>
<circle class="c9" cx="292.2" cy="495" r="1.8"/>
<circle class="c10" cx="416.7" cy="617" r="1.8"/>
<circle class="c9" cx="279.5" cy="615" r="1.8"/>
<circle class="c9" cx="306.3" cy="595.8" r="1.8"/>
<circle class="c10" cx="409.1" cy="574.6" r="1.8"/>
<circle class="c10" cx="377.7" cy="569.2" r="1.8"/>
<circle class="c9" cx="304.4" cy="617.9" r="1.8"/>
<circle class="c10" cx="385.5" cy="618.8" r="1.8"/>
<circle class="c9" cx="358" cy="621.9" r="1.8"/>
<circle class="c10" cx="435.6" cy="527.2" r="1.8"/>
<circle class="c9" cx="343.5" cy="623.2" r="1.8"/>
<circle class="c10" cx="398" cy="617" r="1.8"/>
<circle class="c9" cx="305.2" cy="517" r="1.8"/>
<circle class="c9" cx="289.1" cy="619.7" r="1.8"/>
<circle class="c10" cx="402.8" cy="623.7" r="1.8"/>
<circle class="c10" cx="386.5" cy="623.5" r="1.8"/>
<circle class="c9" cx="324" cy="560.4" r="1.8"/>
<circle class="c10" cx="368.9" cy="621.8" r="1.8"/>
<circle class="c10" cx="408.9" cy="612.8" r="1.8"/>
<circle class="c10" cx="417.8" cy="611.9" r="1.8"/>
<circle class="c9" cx="254.3" cy="504.3" r="1.8"/>
<circle class="c9" cx="303" cy="617" r="1.8"/>
<circle class="c10" cx="421.4" cy="595.3" r="1.8"/>
<circle class="c10" cx="368.7" cy="623.2" r="1.8"/>
<circle class="c9" cx="290" cy="608.2" r="1.8"/>
<circle class="c10" cx="437.8" cy="527.3" r="1.8"/>
<circle class="c9" cx="301.1" cy="618.9" r="1.8"/>
<circle class="c10" cx="399.2" cy="617" r="1.8"/>
<circle class="c10" cx="375" cy="621" r="1.8"/>
<circle class="c10" cx="400.1" cy="623.3" r="1.8"/>
<circle class="c10" cx="393.2" cy="620.6" r="1.8"/>
<circle class="c10" cx="428" cy="566.1" r="1.8"/>
<circle class="c10" cx="424.2" cy="598.9" r="1.8"/>
<circle class="c10" cx="415.7" cy="571.6" r="1.8"/>
<circle class="c10" cx="415.9" cy="605.5" r="1.8"/>
<circle class="c10" cx="428.6" cy="573.1" r="1.8"/>
<circle class="c10" cx="413.7" cy="601.5" r="1.8"/>
<circle class="c10" cx="408.9" cy="623.6" r="1.8"/>
<circle class="c11" cx="318.1" cy="474" r="1.8"/>
<circle class="c10" cx="365.5" cy="474" r="1.8"/>
<circle class="c10" cx="367.8" cy="474" r="1.8"/>
<circle class="c9" cx="369.4" cy="474" r="1.8"/>
<circle class="c10" cx="371.4" cy="474" r="1.8"/>
<circle class="c9" cx="372.8" cy="474" r="1.8"/>
<circle class="c10" cx="375.1" cy="474" r="1.8"/>
<circle class="c10" cx="377.4" cy="474" r="1.8"/>
<circle class="c9" cx="378.8" cy="474" r="1.8"/>
<circle class="c9" cx="380.3" cy="474" r="1.8"/>
<circle class="c9" cx="383.5" cy="474" r="1.8"/>
<circle class="c9" cx="385.7" cy="474" r="1.8"/>
<circle class="c10" cx="386.9" cy="474" r="1.8"/>
<circle class="c10" cx="389.5" cy="474" r="1.8"/>
<circle class="c9" cx="390.9" cy="474" r="1.8"/>
<circle class="c10" cx="393.9" cy="474" r="1.8"/>
<circle class="c10" cx="396" cy="474" r="1.8"/>
<circle class="c9" cx="399.2" cy="474" r="1.8"/>
<circle class="c9" cx="402.1" cy="474" r="1.8"/>
<circle class="c9" cx="404.7" cy="474" r="1.8"/>
<circle class="c10" cx="406.3" cy="474" r="1.8"/>
<circle class="c10" cx="407.7" cy="474" r="1.8"/>
<circle class="c10" cx="409.8" cy="474" r="1.8"/>
<circle class="c10" cx="411.7" cy="474" r="1.8"/>
<circle class="c10" cx="413.7" cy="474" r="1.8"/>
<circle class="c10" cx="415.9" cy="474" r="1.8"/>
<circle class="c10" cx="418.2" cy="474" r="1.8"/>
<circle class="c10" cx="421.1" cy="474" r="1.8"/>
<circle class="c10" cx="422.3" cy="474" r="1.8"/>
<circle class="c10" cx="425.1" cy="474" r="1.8"/>
<circle class="c10" cx="426.7" cy="474" r="1.8"/>
<circle class="c10" cx="428.6" cy="474" r="1.8"/>
<circle class="c9" cx="431.1" cy="474" r="1.8"/>
<circle class="c10" cx="433.8" cy="474" r="1.8"/>
<circle class="c9" cx="435.9" cy="474" r="1.8"/>
<circle class="c10" cx="438.5" cy="474" r="1.8"/>
<circle class="c10" cx="441.3" cy="474" r="1.8"/>
<circle class="c9" cx="442.5" cy="474" r="1.8"/>
<circle class="c10" cx="444.1" cy="474" r="1.8"/>
<circle class="c10" cx="445.8" cy="474" r="1.8"/>
<circle class="c10" cx="447.3" cy="474" r="1.8"/>
<circle class="c10" cx="450.1" cy="474" r="1.8"/>
<circle class="c10" cx="452.3" cy="474" r="1.8"/>
<circle class="c10" cx="454.9" cy="474" r="1.8"/>
<circle class="c10" cx="457.4" cy="474" r="1.8"/>
<circle class="c10" cx="460.7" cy="474" r="1.8"/>
<circle class="c9" cx="462.4" cy="474" r="1.8"/>
<circle class="c10" cx="464.6" cy="474" r="1.8"/>
<circle class="c10" cx="466.9" cy="474" r="1.8"/>
<circle class="c10" cx="468.9" cy="474" r="1.8"/>
<circle class="c10" cx="471.1" cy="474" r="1.8"/>
<circle class="c10" cx="472.3" cy="474" r="1.8"/>
<circle class="c10" cx="475" cy="474" r="1.8"/>
<circle class="c10" cx="476.8" cy="474" r="1.8"/>
<circle class="c9" cx="478.4" cy="474" r="1.8"/>
<circle class="c10" cx="481.9" cy="474" r="1.8"/>
<circle class="c9" cx="484" cy="474" r="1.8"/>
<circle class="c9" cx="488" cy="474" r="1.8"/>
<line x1="340" y1="466.2" x2="340" y2="632.1" stroke="#aaa" stroke-width="0.9" stroke-dasharray="3,2.5"/>
<line x1="363.2" y1="466.2" x2="363.2" y2="632.1" stroke="#aaa" stroke-width="0.9" stroke-dasharray="3,2.5"/>
<line x1="192.6" y1="621.9" x2="510.3" y2="621.9" stroke="#aaa" stroke-width="0.9" stroke-dasharray="3,2.5"/>
<rect x="192.6" y="466.2" width="317.7" height="165.9" fill="none" stroke="#333" stroke-width="1"/>
<line x1="190.6" y1="624" x2="192.6" y2="624" stroke="#333" stroke-width="0.7" />
<text x="188" y="627.5" font-size="10.2" text-anchor="end" font-weight="normal" fill="#000" font-family="Liberation Sans" >0</text>
<line x1="190.6" y1="592.8" x2="192.6" y2="592.8" stroke="#333" stroke-width="0.7" />
<text x="188" y="596.3" font-size="10.2" text-anchor="end" font-weight="normal" fill="#000" font-family="Liberation Sans" >25</text>
<line x1="190.6" y1="561.5" x2="192.6" y2="561.5" stroke="#333" stroke-width="0.7" />
<text x="188" y="565" font-size="10.2" text-anchor="end" font-weight="normal" fill="#000" font-family="Liberation Sans" >50</text>
<line x1="190.6" y1="530.3" x2="192.6" y2="530.3" stroke="#333" stroke-width="0.7" />
<text x="188" y="533.8" font-size="10.2" text-anchor="end" font-weight="normal" fill="#000" font-family="Liberation Sans" >75</text>
<line x1="190.6" y1="499" x2="192.6" y2="499" stroke="#333" stroke-width="0.7" />
<text x="188" y="502.5" font-size="10.2" text-anchor="end" font-weight="normal" fill="#000" font-family="Liberation Sans" >100</text>
<line x1="190.6" y1="467.8" x2="192.6" y2="467.8" stroke="#333" stroke-width="0.7" />
<text x="188" y="471.3" font-size="10.2" text-anchor="end" font-weight="normal" fill="#000" font-family="Liberation Sans" >125</text>
<line x1="236" y1="632.1" x2="236" y2="634.1" stroke="#333" stroke-width="0.7" />
<text x="236" y="645.3" font-size="10.2" text-anchor="middle" font-weight="normal" fill="#000" font-family="Liberation Sans" >−10</text>
<line x1="293.8" y1="632.1" x2="293.8" y2="634.1" stroke="#333" stroke-width="0.7" />
<text x="293.8" y="645.3" font-size="10.2" text-anchor="middle" font-weight="normal" fill="#000" font-family="Liberation Sans" >−5</text>
<line x1="351.6" y1="632.1" x2="351.6" y2="634.1" stroke="#333" stroke-width="0.7" />
<text x="351.6" y="645.3" font-size="10.2" text-anchor="middle" font-weight="normal" fill="#000" font-family="Liberation Sans" >0</text>
<line x1="409.4" y1="632.1" x2="409.4" y2="634.1" stroke="#333" stroke-width="0.7" />
<text x="409.4" y="645.3" font-size="10.2" text-anchor="middle" font-weight="normal" fill="#000" font-family="Liberation Sans" >5</text>
<line x1="467.2" y1="632.1" x2="467.2" y2="634.1" stroke="#333" stroke-width="0.7" />
<text x="467.2" y="645.3" font-size="10.2" text-anchor="middle" font-weight="normal" fill="#000" font-family="Liberation Sans" >10</text>
<text x="351.5" y="660.3" font-size="10.5" text-anchor="middle" font-weight="normal" fill="#000" font-family="Liberation Sans" >log<tspan dy="2.5" font-size="7">2</tspan><tspan dy="-2.5"> (ratio T:NTL)</tspan></text>
<text x="0" y="0" font-size="10.2" text-anchor="middle" transform="translate(158.5,549.4) rotate(-90)" dominant-baseline="central">−log<tspan dy="2.5" font-size="7">10</tspan><tspan dy="-2.5"> (</tspan><tspan font-style="italic">P</tspan> value)</text>
<text x="529.3" y="466.7" font-size="12" text-anchor="start" font-weight="bold" fill="#000" font-family="Liberation Sans" stroke="#000" stroke-width="0.25">f</text>
<line x1="585.8" y1="607.5" x2="678.2" y2="607.5" stroke="#f4f4f4" stroke-width="0.6" />
<line x1="585.8" y1="571.4" x2="678.2" y2="571.4" stroke="#f4f4f4" stroke-width="0.6" />
<line x1="585.8" y1="535.2" x2="678.2" y2="535.2" stroke="#f4f4f4" stroke-width="0.6" />
<line x1="585.8" y1="499.1" x2="678.2" y2="499.1" stroke="#f4f4f4" stroke-width="0.6" />
<line x1="585.8" y1="625.5" x2="678.2" y2="625.5" stroke="#ebebeb" stroke-width="0.6" />
<line x1="585.8" y1="589.4" x2="678.2" y2="589.4" stroke="#ebebeb" stroke-width="0.6" />
<line x1="585.8" y1="553.3" x2="678.2" y2="553.3" stroke="#ebebeb" stroke-width="0.6" />
<line x1="585.8" y1="517.2" x2="678.2" y2="517.2" stroke="#ebebeb" stroke-width="0.6" />
<line x1="585.8" y1="481.1" x2="678.2" y2="481.1" stroke="#ebebeb" stroke-width="0.6" />
<line x1="611" y1="473.1" x2="611" y2="633.2" stroke="#ebebeb" stroke-width="0.6" />
<line x1="653.7" y1="473.1" x2="653.7" y2="633.2" stroke="#ebebeb" stroke-width="0.6" />
<line x1="611" y1="500.4" x2="611" y2="527.3" stroke="#444" stroke-width="0.7" />
<rect x="600.2" y="481.1" width="21.4" height="19.3" fill="none" stroke="#555" stroke-width="0.8"/>
<line x1="600.2" y1="484.4" x2="621.6" y2="484.4" stroke="#111" stroke-width="1.1" />
<circle class="c12" cx="607.5" cy="481" r="1.3"/>
<circle class="c12" cx="608.8" cy="481" r="1.3"/>
<circle class="c12" cx="610.3" cy="481" r="1.3"/>
<circle class="c12" cx="611.8" cy="481" r="1.3"/>
<circle class="c12" cx="613.2" cy="481" r="1.3"/>
<circle class="c12" cx="614.7" cy="481" r="1.3"/>
<circle class="c12" cx="608.8" cy="484.2" r="1.3"/>
<circle class="c12" cx="610.3" cy="484.8" r="1.3"/>
<circle class="c12" cx="612.2" cy="485.2" r="1.3"/>
<circle class="c12" cx="614.1" cy="486.1" r="1.3"/>
<circle class="c12" cx="616" cy="489" r="1.3"/>
<circle class="c12" cx="613.2" cy="488" r="1.3"/>
<circle class="c12" cx="611.8" cy="488.6" r="1.3"/>
<circle class="c12" cx="610.3" cy="489" r="1.3"/>
<circle class="c12" cx="608.4" cy="493.1" r="1.3"/>
<circle class="c12" cx="611.3" cy="495" r="1.3"/>
<circle class="c12" cx="615.1" cy="498.8" r="1.3"/>
<circle class="c12" cx="613.7" cy="499.9" r="1.3"/>
<circle class="c12" cx="612.2" cy="501.3" r="1.3"/>
<circle class="c12" cx="608.1" cy="501.8" r="1.3"/>
<circle class="c12" cx="613.7" cy="505.6" r="1.3"/>
<circle class="c12" cx="611.3" cy="512.1" r="1.3"/>
<circle class="c12" cx="613.2" cy="517.4" r="1.3"/>
<circle class="c12" cx="614.1" cy="518.3" r="1.3"/>
<circle class="c12" cx="611.8" cy="519.7" r="1.3"/>
<circle class="c12" cx="608.4" cy="524" r="1.3"/>
<circle class="c12" cx="607.1" cy="528.4" r="1.3"/>
<circle class="c12" cx="610.3" cy="532.9" r="1.3"/>
<circle class="c12" cx="615.1" cy="543.9" r="1.3"/>
<circle class="c12" cx="611.8" cy="545.4" r="1.3"/>
<circle class="c12" cx="607.5" cy="547.3" r="1.3"/>
<circle class="c12" cx="608.4" cy="577.5" r="1.3"/>
<line x1="653.7" y1="481.1" x2="653.7" y2="558.6" stroke="#444" stroke-width="0.7" />
<line x1="653.7" y1="613.5" x2="653.7" y2="625.5" stroke="#444" stroke-width="0.7" />
<rect x="642.8" y="558.6" width="21" height="54.9" fill="none" stroke="#555" stroke-width="0.8"/>
<line x1="642.8" y1="593.7" x2="663.8" y2="593.7" stroke="#111" stroke-width="1.1" />
<circle class="c13" cx="654.9" cy="481" r="1.3"/>
<circle class="c13" cx="653.9" cy="491.2" r="1.3"/>
<circle class="c13" cx="654.5" cy="495.6" r="1.3"/>
<circle class="c13" cx="653" cy="499.9" r="1.3"/>
<circle class="c13" cx="650.1" cy="521.2" r="1.3"/>
<circle class="c13" cx="651.1" cy="522.7" r="1.3"/>
<circle class="c13" cx="655.4" cy="522.1" r="1.3"/>
<circle class="c13" cx="654.3" cy="524.6" r="1.3"/>
<circle class="c13" cx="651.6" cy="532.9" r="1.3"/>
<circle class="c13" cx="656.2" cy="540.1" r="1.3"/>
<circle class="c13" cx="649.2" cy="546.2" r="1.3"/>
<circle class="c13" cx="655.4" cy="549.2" r="1.3"/>
<circle class="c13" cx="656.8" cy="550.6" r="1.3"/>
<circle class="c13" cx="649.2" cy="551.9" r="1.3"/>
<circle class="c13" cx="650.5" cy="555.3" r="1.3"/>
<circle class="c13" cx="655.4" cy="562.3" r="1.3"/>
<circle class="c13" cx="655.8" cy="568.9" r="1.3"/>
<circle class="c13" cx="653" cy="574.2" r="1.3"/>
<circle class="c13" cx="654.3" cy="575.8" r="1.3"/>
<circle class="c13" cx="656.8" cy="576.5" r="1.3"/>
<circle class="c13" cx="649.7" cy="577.5" r="1.3"/>
<circle class="c13" cx="654.9" cy="578.4" r="1.3"/>
<circle class="c13" cx="652.6" cy="581.4" r="1.3"/>
<circle class="c13" cx="655.8" cy="586" r="1.3"/>
<circle class="c13" cx="654.3" cy="589.4" r="1.3"/>
<circle class="c13" cx="656.8" cy="589.8" r="1.3"/>
<circle class="c13" cx="649.2" cy="590.4" r="1.3"/>
<circle class="c13" cx="655.4" cy="594.1" r="1.3"/>
<circle class="c13" cx="656.2" cy="596" r="1.3"/>
<circle class="c13" cx="651.1" cy="599.3" r="1.3"/>
<circle class="c13" cx="653.9" cy="599.8" r="1.3"/>
<circle class="c13" cx="656.8" cy="599.8" r="1.3"/>
<circle class="c13" cx="653" cy="605" r="1.3"/>
<circle class="c13" cx="655.8" cy="603.6" r="1.3"/>
<circle class="c13" cx="654.9" cy="602.3" r="1.3"/>
<circle class="c13" cx="651.1" cy="612.2" r="1.3"/>
<circle class="c13" cx="652" cy="615" r="1.3"/>
<circle class="c13" cx="650.5" cy="616.3" r="1.3"/>
<circle class="c13" cx="653" cy="617.5" r="1.3"/>
<circle class="c13" cx="649.7" cy="618.8" r="1.3"/>
<circle class="c13" cx="654.3" cy="619.7" r="1.3"/>
<circle class="c13" cx="651.6" cy="621.3" r="1.3"/>
<circle class="c13" cx="649.2" cy="622" r="1.3"/>
<circle class="c13" cx="656.8" cy="622" r="1.3"/>
<circle class="c13" cx="650.5" cy="623.9" r="1.3"/>
<circle class="c13" cx="654.3" cy="624.5" r="1.3"/>
<circle class="c13" cx="653" cy="625.8" r="1.3"/>
<circle class="c13" cx="657.3" cy="625.8" r="1.3"/>
<rect x="585.8" y="473.1" width="92.4" height="160.1" fill="none" stroke="#888" stroke-width="0.9"/>
<line x1="583.8" y1="481.1" x2="585.8" y2="481.1" stroke="#555" stroke-width="0.7" />
<text x="580" y="484.6" font-size="10.2" text-anchor="end" font-weight="normal" fill="#000" font-family="Liberation Sans" >1.00</text>
<line x1="583.8" y1="517.2" x2="585.8" y2="517.2" stroke="#555" stroke-width="0.7" />
<text x="580" y="520.7" font-size="10.2" text-anchor="end" font-weight="normal" fill="#000" font-family="Liberation Sans" >0.75</text>
<line x1="583.8" y1="553.3" x2="585.8" y2="553.3" stroke="#555" stroke-width="0.7" />
<text x="580" y="556.8" font-size="10.2" text-anchor="end" font-weight="normal" fill="#000" font-family="Liberation Sans" >0.50</text>
<line x1="583.8" y1="589.4" x2="585.8" y2="589.4" stroke="#555" stroke-width="0.7" />
<text x="580" y="592.9" font-size="10.2" text-anchor="end" font-weight="normal" fill="#000" font-family="Liberation Sans" >0.25</text>
<line x1="583.8" y1="625.5" x2="585.8" y2="625.5" stroke="#555" stroke-width="0.7" />
<text x="580" y="629" font-size="10.2" text-anchor="end" font-weight="normal" fill="#000" font-family="Liberation Sans" >0.00</text>
<line x1="611" y1="633.2" x2="611" y2="635.2" stroke="#555" stroke-width="0.7" />
<line x1="653.7" y1="633.2" x2="653.7" y2="635.2" stroke="#555" stroke-width="0.7" />
<text x="611" y="646.5" font-size="10.2" text-anchor="middle" font-weight="normal" fill="#000" font-family="Liberation Sans" >T</text>
<text x="653.7" y="646.5" font-size="10.2" text-anchor="middle" font-weight="normal" fill="#000" font-family="Liberation Sans" >NTL</text>
<text x="632.5" y="469.9" font-size="10" text-anchor="middle" font-weight="normal" fill="#000" font-family="Liberation Sans" ><tspan font-style="italic">P</tspan> = 5.6 × 10<tspan dy="-4" font-size="7">−18</tspan></text>
<text x="0" y="0" font-size="10.3" text-anchor="middle" fill="#000" transform="translate(535,551) rotate(-90)" dominant-baseline="central">Proportion of TCR repertoire</text>
<text x="0" y="0" font-size="10.3" text-anchor="middle" fill="#000" transform="translate(547,551) rotate(-90)" dominant-baseline="central">represented by expanded TCRs</text>
<text x="-0.3" y="686.8" font-size="12.5" text-anchor="start" font-weight="bold" fill="#000" font-family="Liberation Serif" style="font-family:'Liberation Serif',serif">g</text>
<line x1="96.1" y1="682.7" x2="96.1" y2="860.8" stroke="#f4f4f4" stroke-width="0.6" />
<line x1="152.2" y1="682.7" x2="152.2" y2="860.8" stroke="#f4f4f4" stroke-width="0.6" />
<line x1="212" y1="682.7" x2="212" y2="860.8" stroke="#f4f4f4" stroke-width="0.6" />
<line x1="65.2" y1="682.7" x2="65.2" y2="860.8" stroke="#ebebeb" stroke-width="0.6" />
<line x1="125.9" y1="682.7" x2="125.9" y2="860.8" stroke="#ebebeb" stroke-width="0.6" />
<line x1="180.8" y1="682.7" x2="180.8" y2="860.8" stroke="#ebebeb" stroke-width="0.6" />
<line x1="241.2" y1="682.7" x2="241.2" y2="860.8" stroke="#ebebeb" stroke-width="0.6" />
<line x1="51.1" y1="720.5" x2="246.5" y2="720.5" stroke="#f4f4f4" stroke-width="0.6" />
<line x1="51.1" y1="789" x2="246.5" y2="789" stroke="#f4f4f4" stroke-width="0.6" />
<line x1="51.1" y1="855.5" x2="246.5" y2="855.5" stroke="#f4f4f4" stroke-width="0.6" />
<line x1="51.1" y1="684.2" x2="246.5" y2="684.2" stroke="#ebebeb" stroke-width="0.6" />
<line x1="51.1" y1="756.5" x2="246.5" y2="756.5" stroke="#ebebeb" stroke-width="0.6" />
<line x1="51.1" y1="822" x2="246.5" y2="822" stroke="#ebebeb" stroke-width="0.6" />
<line x1="171.2" y1="682.7" x2="171.2" y2="860.8" stroke="#aaa" stroke-width="1.0" stroke-dasharray="4.5,2.6"/>
<line x1="51.1" y1="755.3" x2="246.5" y2="755.3" stroke="#aaa" stroke-width="1.0" stroke-dasharray="4.5,2.6"/>
<circle class="c14" cx="60.2" cy="778.4" r="2.4"/>
<circle class="c14" cx="86.8" cy="770.2" r="2.4"/>
<circle class="c14" cx="103.1" cy="725.3" r="2.4"/>
<circle class="c14" cx="107.8" cy="791" r="2.4"/>
<circle class="c14" cx="111" cy="765.3" r="2.4"/>
<circle class="c14" cx="119.5" cy="770.2" r="2.4"/>
<circle class="c14" cx="120.1" cy="763.2" r="2.4"/>
<circle class="c14" cx="125.9" cy="736.9" r="2.4"/>
<circle class="c14" cx="127.4" cy="770.2" r="2.4"/>
<circle class="c14" cx="127.4" cy="778.4" r="2.4"/>
<circle class="c14" cx="126.8" cy="781.3" r="2.4"/>
<circle class="c14" cx="136.4" cy="798.2" r="2.4"/>
<circle class="c14" cx="144" cy="772.8" r="2.4"/>
<circle class="c14" cx="144.9" cy="710.7" r="2.4"/>
<circle class="c14" cx="145.5" cy="715.6" r="2.4"/>
<circle class="c14" cx="145.8" cy="765.5" r="2.4"/>
<circle class="c14" cx="143.7" cy="852.8" r="2.4"/>
<circle class="c14" cx="148.4" cy="753" r="2.4"/>
<circle class="c14" cx="151" cy="775.5" r="2.4"/>
<circle class="c14" cx="154.8" cy="738.4" r="2.4"/>
<circle class="c14" cx="156" cy="761.2" r="2.4"/>
<circle class="c14" cx="158" cy="724.1" r="2.4"/>
<circle class="c14" cx="163" cy="755.3" r="2.4"/>
<circle class="c14" cx="165.3" cy="744.2" r="2.4"/>
<circle class="c14" cx="166.2" cy="738.4" r="2.4"/>
<circle class="c14" cx="165.9" cy="741.3" r="2.4"/>
<circle class="c14" cx="167.7" cy="767.6" r="2.4"/>
<circle class="c14" cx="169.4" cy="738.4" r="2.4"/>
<circle class="c14" cx="171.2" cy="724.4" r="2.4"/>
<circle class="c14" cx="175" cy="741.3" r="2.4"/>
<circle class="c14" cx="179.3" cy="763.2" r="2.4"/>
<circle class="c14" cx="188.7" cy="755.3" r="2.4"/>
<circle class="c14" cx="191.9" cy="732.8" r="2.4"/>
<circle class="c14" cx="193.1" cy="716.5" r="2.4"/>
<circle class="c14" cx="192.5" cy="775.5" r="2.4"/>
<circle class="c14" cx="193.1" cy="778.4" r="2.4"/>
<circle class="c14" cx="193.9" cy="746.6" r="2.4"/>
<circle class="c14" cx="193.9" cy="748.6" r="2.4"/>
<circle class="c14" cx="193.9" cy="753" r="2.4"/>
<circle class="c14" cx="195.4" cy="739.9" r="2.4"/>
<circle class="c14" cx="202.1" cy="708.9" r="2.4"/>
<circle class="c14" cx="203.3" cy="749.5" r="2.4"/>
<circle class="c14" cx="203.3" cy="767.6" r="2.4"/>
<circle class="c14" cx="204.7" cy="765.5" r="2.4"/>
<circle class="c14" cx="204.5" cy="690.8" r="2.4"/>
<circle class="c14" cx="207.7" cy="755.3" r="2.4"/>
<circle class="c14" cx="211.5" cy="749.5" r="2.4"/>
<circle class="c14" cx="210" cy="755.3" r="2.4"/>
<circle class="c14" cx="218.5" cy="705.4" r="2.4"/>
<circle class="c14" cx="222.3" cy="765.5" r="2.4"/>
<circle class="c14" cx="224" cy="761.2" r="2.4"/>
<circle class="c14" cx="224.9" cy="708" r="2.4"/>
<circle class="c14" cx="230.1" cy="727.6" r="2.4"/>
<circle class="c14" cx="236" cy="734" r="2.4"/>
<circle class="c14" cx="237.7" cy="761.2" r="2.4"/>
<line x1="60.2" y1="778.4" x2="236.9" y2="735.5" stroke="#111" stroke-width="1.4" />
<rect x="51.1" y="682.7" width="195.4" height="178.1" fill="none" stroke="#444" stroke-width="0.9"/>
<text x="45" y="687.7" font-size="10.2" text-anchor="end" font-weight="normal" fill="#000" font-family="Liberation Sans" >100</text>
<text x="45" y="825.5" font-size="10.2" text-anchor="end" font-weight="normal" fill="#000" font-family="Liberation Sans" >10</text>
<line x1="49.1" y1="684.2" x2="51.1" y2="684.2" stroke="#444" stroke-width="0.7" />
<line x1="49.1" y1="756.5" x2="51.1" y2="756.5" stroke="#444" stroke-width="0.7" />
<line x1="49.1" y1="822" x2="51.1" y2="822" stroke="#444" stroke-width="0.7" />
<line x1="65.2" y1="860.8" x2="65.2" y2="862.8" stroke="#444" stroke-width="0.7" />
<line x1="125.9" y1="860.8" x2="125.9" y2="862.8" stroke="#444" stroke-width="0.7" />
<line x1="180.8" y1="860.8" x2="180.8" y2="862.8" stroke="#444" stroke-width="0.7" />
<line x1="241.2" y1="860.8" x2="241.2" y2="862.8" stroke="#444" stroke-width="0.7" />
<text x="125.9" y="875" font-size="10.2" text-anchor="middle" font-weight="normal" fill="#000" font-family="Liberation Sans" >100</text>
<text x="239.5" y="875" font-size="10.2" text-anchor="middle" font-weight="normal" fill="#000" font-family="Liberation Sans" >1,000</text>
<text x="148.5" y="887.5" font-size="10.3" text-anchor="middle" font-weight="normal" fill="#000" font-family="Liberation Sans" >Number of nonsynonymous mutations</text>
<text x="0" y="0" font-size="10.3" text-anchor="middle" fill="#000" transform="translate(5.5,771.5) rotate(-90)" dominant-baseline="central">Number of intratumoral</text>
<text x="0" y="0" font-size="10.3" text-anchor="middle" fill="#000" transform="translate(17.6,772.5) rotate(-90)" dominant-baseline="central">expanded TCRs</text>
<text x="69.5" y="694.2" font-size="10.2" text-anchor="start" font-weight="normal" fill="#000" font-family="Liberation Sans" ><tspan font-style="italic">P</tspan> = 0.003</text>
<text x="68.5" y="706.3" font-size="10.2" text-anchor="start" font-weight="normal" fill="#000" font-family="Liberation Sans" >rho&#160; = 0.39</text>
<text x="279.3" y="686.9" font-size="12" text-anchor="start" font-weight="bold" fill="#000" font-family="Liberation Sans" stroke="#000" stroke-width="0.25">h</text>
<line x1="346.6" y1="688.5" x2="346.6" y2="866" stroke="#ebebeb" stroke-width="0.6" />
<line x1="381.8" y1="688.5" x2="381.8" y2="866" stroke="#ebebeb" stroke-width="0.6" />
<line x1="417.1" y1="688.5" x2="417.1" y2="866" stroke="#ebebeb" stroke-width="0.6" />
<line x1="452.3" y1="688.5" x2="452.3" y2="866" stroke="#ebebeb" stroke-width="0.6" />
<line x1="487.6" y1="688.5" x2="487.6" y2="866" stroke="#ebebeb" stroke-width="0.6" />
<line x1="522.8" y1="688.5" x2="522.8" y2="866" stroke="#ebebeb" stroke-width="0.6" />
<line x1="558" y1="688.5" x2="558" y2="866" stroke="#ebebeb" stroke-width="0.6" />
<line x1="593.3" y1="688.5" x2="593.3" y2="866" stroke="#ebebeb" stroke-width="0.6" />
<line x1="628.5" y1="688.5" x2="628.5" y2="866" stroke="#ebebeb" stroke-width="0.6" />
<line x1="325.3" y1="714.9" x2="649.7" y2="714.9" stroke="#f4f4f4" stroke-width="0.6" />
<line x1="325.3" y1="772.2" x2="649.7" y2="772.2" stroke="#f4f4f4" stroke-width="0.6" />
<line x1="325.3" y1="829.4" x2="649.7" y2="829.4" stroke="#f4f4f4" stroke-width="0.6" />
<line x1="325.3" y1="743.5" x2="649.7" y2="743.5" stroke="#ebebeb" stroke-width="0.6" />
<line x1="325.3" y1="858" x2="649.7" y2="858" stroke="#ebebeb" stroke-width="0.6" />
<line x1="325.3" y1="800.8" x2="649.7" y2="800.8" stroke="#aaa" stroke-width="1.1" stroke-dasharray="4.5,3.5"/>
<circle class="c15" cx="346.6" cy="818.6" r="2.2"/>
<circle class="c16" cx="346.6" cy="858.2" r="2.2"/>
<text x="351.2" y="815" font-size="7.8" text-anchor="middle" font-weight="normal" fill="#222" font-family="Liberation Sans" >0.562</text>
<text x="351.2" y="854.6" font-size="7.8" text-anchor="middle" font-weight="normal" fill="#222" font-family="Liberation Sans" >0.076</text>
<circle class="c15" cx="381.8" cy="795.2" r="2.2"/>
<circle class="c16" cx="381.8" cy="766.1" r="2.2"/>
<text x="386.4" y="791.6" font-size="7.8" text-anchor="middle" font-weight="normal" fill="#222" font-family="Liberation Sans" >0.864</text>
<text x="386.4" y="762.5" font-size="7.8" text-anchor="middle" font-weight="normal" fill="#222" font-family="Liberation Sans" >0.287</text>
<circle class="c15" cx="417.1" cy="751.7" r="2.2"/>
<circle class="c16" cx="417.1" cy="780.8" r="2.2"/>
<text x="421.7" y="748.1" font-size="7.8" text-anchor="middle" font-weight="normal" fill="#222" font-family="Liberation Sans" >0.105</text>
<text x="421.7" y="777.2" font-size="7.8" text-anchor="middle" font-weight="normal" fill="#222" font-family="Liberation Sans" >0.538</text>
<circle class="c15" cx="452.3" cy="740.5" r="2.2"/>
<circle class="c16" cx="452.3" cy="808.7" r="2.2"/>
<text x="456.9" y="736.9" font-size="7.8" text-anchor="middle" font-weight="normal" fill="#222" font-family="Liberation Sans" >0.048</text>
<text x="456.9" y="805.1" font-size="7.8" text-anchor="middle" font-weight="normal" fill="#222" font-family="Liberation Sans" >0.794</text>
<circle class="c15" cx="487.6" cy="711.6" r="2.2"/>
<circle class="c16" cx="487.6" cy="809.8" r="2.2"/>
<text x="492.2" y="708" font-size="7.8" text-anchor="middle" font-weight="normal" fill="#222" font-family="Liberation Sans" >0.003</text>
<text x="492.2" y="806.2" font-size="7.8" text-anchor="middle" font-weight="normal" fill="#222" font-family="Liberation Sans" >0.787</text>
<circle class="c15" cx="522.8" cy="709.2" r="2.2"/>
<circle class="c16" cx="522.8" cy="824.5" r="2.2"/>
<text x="527.4" y="705.6" font-size="7.8" text-anchor="middle" font-weight="normal" fill="#222" font-family="Liberation Sans" >0.002</text>
<text x="527.4" y="820.9" font-size="7.8" text-anchor="middle" font-weight="normal" fill="#222" font-family="Liberation Sans" >0.467</text>
<circle class="c15" cx="558" cy="699" r="2.2"/>
<circle class="c16" cx="558" cy="808.6" r="2.2"/>
<text x="562.6" y="695.4" font-size="7.8" text-anchor="middle" font-weight="normal" fill="#222" font-family="Liberation Sans" >0.001</text>
<text x="562.6" y="805" font-size="7.8" text-anchor="middle" font-weight="normal" fill="#222" font-family="Liberation Sans" >0.805</text>
<circle class="c15" cx="593.3" cy="702.9" r="2.2"/>
<circle class="c16" cx="593.3" cy="807.1" r="2.2"/>
<text x="597.9" y="699.3" font-size="7.8" text-anchor="middle" font-weight="normal" fill="#222" font-family="Liberation Sans" >0.001</text>
<text x="597.9" y="803.5" font-size="7.8" text-anchor="middle" font-weight="normal" fill="#222" font-family="Liberation Sans" >0.85</text>
<circle class="c15" cx="628.5" cy="708.9" r="2.2"/>
<circle class="c16" cx="628.5" cy="800.8" r="2.2"/>
<text x="633.1" y="705.3" font-size="7.8" text-anchor="middle" font-weight="normal" fill="#222" font-family="Liberation Sans" >0.002</text>
<text x="633.1" y="797.2" font-size="7.8" text-anchor="middle" font-weight="normal" fill="#222" font-family="Liberation Sans" >0.995</text>
<rect x="325.3" y="688.5" width="324.4" height="177.5" fill="none" stroke="#555" stroke-width="0.9"/>
<line x1="323.3" y1="743.5" x2="325.3" y2="743.5" stroke="#555" stroke-width="0.7" />
<text x="320" y="747" font-size="10.2" text-anchor="end" font-weight="normal" fill="#000" font-family="Liberation Sans" >0.25</text>
<line x1="323.3" y1="800.8" x2="325.3" y2="800.8" stroke="#555" stroke-width="0.7" />
<text x="320" y="804.3" font-size="10.2" text-anchor="end" font-weight="normal" fill="#000" font-family="Liberation Sans" >0</text>
<line x1="323.3" y1="858" x2="325.3" y2="858" stroke="#555" stroke-width="0.7" />
<text x="320" y="861.5" font-size="10.2" text-anchor="end" font-weight="normal" fill="#000" font-family="Liberation Sans" >−0.25</text>
<line x1="346.6" y1="866" x2="346.6" y2="868" stroke="#555" stroke-width="0.7" />
<text x="346.6" y="880" font-size="10.2" text-anchor="middle" font-weight="normal" fill="#000" font-family="Liberation Sans" >0</text>
<line x1="381.8" y1="866" x2="381.8" y2="868" stroke="#555" stroke-width="0.7" />
<text x="381.8" y="880" font-size="10.2" text-anchor="middle" font-weight="normal" fill="#000" font-family="Liberation Sans" >0.0001</text>
<line x1="417.1" y1="866" x2="417.1" y2="868" stroke="#555" stroke-width="0.7" />
<text x="417.1" y="880" font-size="10.2" text-anchor="middle" font-weight="normal" fill="#000" font-family="Liberation Sans" >0.0005</text>
<line x1="452.3" y1="866" x2="452.3" y2="868" stroke="#555" stroke-width="0.7" />
<text x="452.3" y="880" font-size="10.2" text-anchor="middle" font-weight="normal" fill="#000" font-family="Liberation Sans" >0.001</text>
<line x1="487.6" y1="866" x2="487.6" y2="868" stroke="#555" stroke-width="0.7" />
<text x="487.6" y="880" font-size="10.2" text-anchor="middle" font-weight="normal" fill="#000" font-family="Liberation Sans" >0.002</text>
<line x1="522.8" y1="866" x2="522.8" y2="868" stroke="#555" stroke-width="0.7" />
<text x="522.8" y="880" font-size="10.2" text-anchor="middle" font-weight="normal" fill="#000" font-family="Liberation Sans" >0.003</text>
<line x1="558" y1="866" x2="558" y2="868" stroke="#555" stroke-width="0.7" />
<text x="558" y="880" font-size="10.2" text-anchor="middle" font-weight="normal" fill="#000" font-family="Liberation Sans" >0.004</text>
<line x1="593.3" y1="866" x2="593.3" y2="868" stroke="#555" stroke-width="0.7" />
<text x="593.3" y="880" font-size="10.2" text-anchor="middle" font-weight="normal" fill="#000" font-family="Liberation Sans" >0.005</text>
<line x1="628.5" y1="866" x2="628.5" y2="868" stroke="#555" stroke-width="0.7" />
<text x="628.5" y="880" font-size="10.2" text-anchor="middle" font-weight="normal" fill="#000" font-family="Liberation Sans" >0.006</text>
<text x="488.2" y="894.3" font-size="10.3" text-anchor="middle" font-weight="normal" fill="#000" font-family="Liberation Sans" >TCR frequency threshold</text>
<text x="0" y="0" font-size="10.3" text-anchor="middle" fill="#000" transform="translate(274.7,777) rotate(-90)" dominant-baseline="central">Spearman's rank</text>
<text x="0" y="0" font-size="10.3" text-anchor="middle" fill="#000" transform="translate(287.6,777) rotate(-90)" dominant-baseline="central">correlation coefficient</text></svg></body></html>
